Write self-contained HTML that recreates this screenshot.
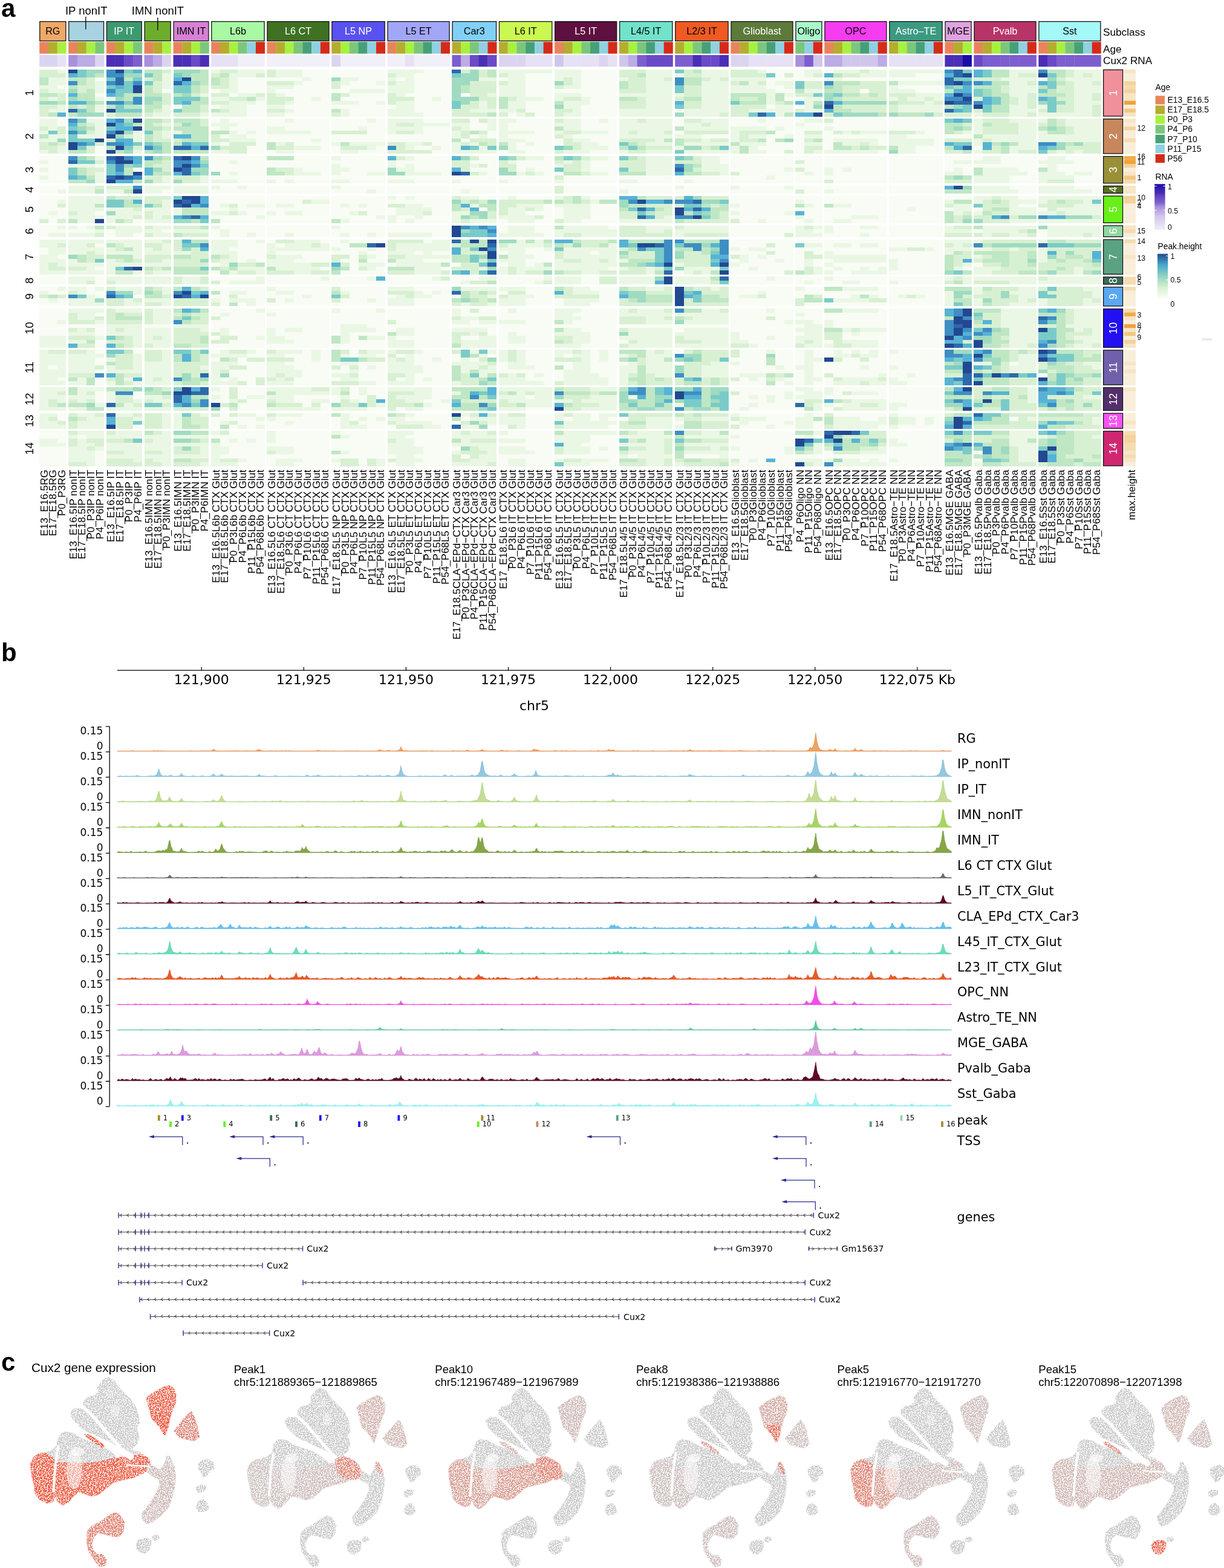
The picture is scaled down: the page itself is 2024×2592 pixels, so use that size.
<!DOCTYPE html>
<html><head><meta charset="utf-8"><title>Figure</title>
<style>
html,body{margin:0;padding:0;background:#fff;}
svg{display:block;}
text{font-family:"Liberation Sans",Arial,Helvetica,sans-serif;}
text.dv{font-family:"DejaVu Sans","Liberation Sans",sans-serif;}
</style></head>
<body>
<svg width="2024" height="2592" viewBox="0 0 2024 2592">
<rect width="2024" height="2592" fill="#fff"/>
<text x="2.0" y="27.5" font-size="42" font-weight="bold">a</text>
<text x="142.7" y="23.8" font-size="18.5" text-anchor="middle">IP nonIT</text>
<text x="261.0" y="23.8" font-size="18.5" text-anchor="middle">IMN nonIT</text>
<rect x="65.80" y="35.6" width="43.03" height="32" fill="#f0a868" stroke="#111" stroke-width="1.3"/>
<text x="87.3" y="57.3" font-size="16.2" text-anchor="middle">RG</text>
<rect x="65.20" y="69.3" width="15.04" height="19.4" fill="#e8845c"/>
<rect x="65.20" y="91" width="15.04" height="19.3" fill="#dbd4f0"/>
<rect x="79.94" y="69.3" width="15.04" height="19.4" fill="#b5ac30"/>
<rect x="79.94" y="91" width="15.04" height="19.3" fill="#dbd4f0"/>
<rect x="94.69" y="69.3" width="15.04" height="19.4" fill="#a8f040"/>
<rect x="94.69" y="91" width="15.04" height="19.3" fill="#e6e1f4"/>
<rect x="113.76" y="35.6" width="57.77" height="32" fill="#a6d2e2" stroke="#111" stroke-width="1.3"/>
<rect x="113.16" y="69.3" width="15.04" height="19.4" fill="#e8845c"/>
<rect x="113.16" y="91" width="15.04" height="19.3" fill="#a890dc"/>
<rect x="127.90" y="69.3" width="15.04" height="19.4" fill="#b5ac30"/>
<rect x="127.90" y="91" width="15.04" height="19.3" fill="#bcabe4"/>
<rect x="142.65" y="69.3" width="15.04" height="19.4" fill="#a8f040"/>
<rect x="142.65" y="91" width="15.04" height="19.3" fill="#bcabe4"/>
<rect x="157.39" y="69.3" width="15.04" height="19.4" fill="#7cc67c"/>
<rect x="157.39" y="91" width="15.04" height="19.3" fill="#dbd4f0"/>
<rect x="176.46" y="35.6" width="57.77" height="32" fill="#3d9a70" stroke="#111" stroke-width="1.3"/>
<text x="205.3" y="57.3" font-size="16.2" text-anchor="middle" fill="#fff">IP IT</text>
<rect x="175.86" y="69.3" width="15.04" height="19.4" fill="#e8845c"/>
<rect x="175.86" y="91" width="15.04" height="19.3" fill="#4a2eb6"/>
<rect x="190.60" y="69.3" width="15.04" height="19.4" fill="#b5ac30"/>
<rect x="190.60" y="91" width="15.04" height="19.3" fill="#4a2eb6"/>
<rect x="205.35" y="69.3" width="15.04" height="19.4" fill="#a8f040"/>
<rect x="205.35" y="91" width="15.04" height="19.3" fill="#6a4ac6"/>
<rect x="220.09" y="69.3" width="15.04" height="19.4" fill="#7cc67c"/>
<rect x="220.09" y="91" width="15.04" height="19.3" fill="#7c5ece"/>
<rect x="239.16" y="35.6" width="43.03" height="32" fill="#6cae2c" stroke="#111" stroke-width="1.3"/>
<rect x="238.56" y="69.3" width="15.04" height="19.4" fill="#e8845c"/>
<rect x="238.56" y="91" width="15.04" height="19.3" fill="#a890dc"/>
<rect x="253.31" y="69.3" width="15.04" height="19.4" fill="#b5ac30"/>
<rect x="253.31" y="91" width="15.04" height="19.3" fill="#bcabe4"/>
<rect x="268.05" y="69.3" width="15.04" height="19.4" fill="#a8f040"/>
<rect x="268.05" y="91" width="15.04" height="19.3" fill="#dbd4f0"/>
<rect x="287.12" y="35.6" width="57.77" height="32" fill="#d581d5" stroke="#111" stroke-width="1.3"/>
<text x="316.0" y="57.3" font-size="16.2" text-anchor="middle">IMN IT</text>
<rect x="286.52" y="69.3" width="15.04" height="19.4" fill="#e8845c"/>
<rect x="286.52" y="91" width="15.04" height="19.3" fill="#4a2eb6"/>
<rect x="301.27" y="69.3" width="15.04" height="19.4" fill="#b5ac30"/>
<rect x="301.27" y="91" width="15.04" height="19.3" fill="#4a2eb6"/>
<rect x="316.01" y="69.3" width="15.04" height="19.4" fill="#a8f040"/>
<rect x="316.01" y="91" width="15.04" height="19.3" fill="#6a4ac6"/>
<rect x="330.75" y="69.3" width="15.04" height="19.4" fill="#7cc67c"/>
<rect x="330.75" y="91" width="15.04" height="19.3" fill="#4a2eb6"/>
<rect x="349.82" y="35.6" width="87.26" height="32" fill="#a8f8a4" stroke="#111" stroke-width="1.3"/>
<text x="393.5" y="57.3" font-size="16.2" text-anchor="middle">L6b</text>
<rect x="349.22" y="69.3" width="15.04" height="19.4" fill="#e8845c"/>
<rect x="349.22" y="91" width="15.04" height="19.3" fill="#e6e1f4"/>
<rect x="363.97" y="69.3" width="15.04" height="19.4" fill="#b5ac30"/>
<rect x="363.97" y="91" width="15.04" height="19.3" fill="#e6e1f4"/>
<rect x="378.71" y="69.3" width="15.04" height="19.4" fill="#a8f040"/>
<rect x="378.71" y="91" width="15.04" height="19.3" fill="#e6e1f4"/>
<rect x="393.45" y="69.3" width="15.04" height="19.4" fill="#7cc67c"/>
<rect x="393.45" y="91" width="15.04" height="19.3" fill="#f1eff8"/>
<rect x="408.20" y="69.3" width="15.04" height="19.4" fill="#90d0e0"/>
<rect x="408.20" y="91" width="15.04" height="19.3" fill="#f1eff8"/>
<rect x="422.94" y="69.3" width="15.04" height="19.4" fill="#d52a1a"/>
<rect x="422.94" y="91" width="15.04" height="19.3" fill="#f1eff8"/>
<rect x="442.01" y="35.6" width="102.00" height="32" fill="#3e7222" stroke="#111" stroke-width="1.3"/>
<text x="493.0" y="57.3" font-size="16.2" text-anchor="middle" fill="#fff">L6 CT</text>
<rect x="441.41" y="69.3" width="15.04" height="19.4" fill="#e8845c"/>
<rect x="441.41" y="91" width="15.04" height="19.3" fill="#f1eff8"/>
<rect x="456.15" y="69.3" width="15.04" height="19.4" fill="#b5ac30"/>
<rect x="456.15" y="91" width="15.04" height="19.3" fill="#f1eff8"/>
<rect x="470.90" y="69.3" width="15.04" height="19.4" fill="#a8f040"/>
<rect x="470.90" y="91" width="15.04" height="19.3" fill="#f1eff8"/>
<rect x="485.64" y="69.3" width="15.04" height="19.4" fill="#7cc67c"/>
<rect x="485.64" y="91" width="15.04" height="19.3" fill="#f1eff8"/>
<rect x="500.38" y="69.3" width="15.04" height="19.4" fill="#45a078"/>
<rect x="500.38" y="91" width="15.04" height="19.3" fill="#f1eff8"/>
<rect x="515.13" y="69.3" width="15.04" height="19.4" fill="#90d0e0"/>
<rect x="515.13" y="91" width="15.04" height="19.3" fill="#f1eff8"/>
<rect x="529.87" y="69.3" width="15.04" height="19.4" fill="#d52a1a"/>
<rect x="529.87" y="91" width="15.04" height="19.3" fill="#f1eff8"/>
<rect x="548.94" y="35.6" width="87.26" height="32" fill="#5a52f0" stroke="#111" stroke-width="1.3"/>
<text x="592.6" y="57.3" font-size="16.2" text-anchor="middle" fill="#fff">L5 NP</text>
<rect x="548.34" y="69.3" width="15.04" height="19.4" fill="#b5ac30"/>
<rect x="548.34" y="91" width="15.04" height="19.3" fill="#dbd4f0"/>
<rect x="563.09" y="69.3" width="15.04" height="19.4" fill="#a8f040"/>
<rect x="563.09" y="91" width="15.04" height="19.3" fill="#f1eff8"/>
<rect x="577.83" y="69.3" width="15.04" height="19.4" fill="#7cc67c"/>
<rect x="577.83" y="91" width="15.04" height="19.3" fill="#f1eff8"/>
<rect x="592.57" y="69.3" width="15.04" height="19.4" fill="#45a078"/>
<rect x="592.57" y="91" width="15.04" height="19.3" fill="#f1eff8"/>
<rect x="607.32" y="69.3" width="15.04" height="19.4" fill="#90d0e0"/>
<rect x="607.32" y="91" width="15.04" height="19.3" fill="#f1eff8"/>
<rect x="622.06" y="69.3" width="15.04" height="19.4" fill="#d52a1a"/>
<rect x="622.06" y="91" width="15.04" height="19.3" fill="#f1eff8"/>
<rect x="641.13" y="35.6" width="102.00" height="32" fill="#a2a6f6" stroke="#111" stroke-width="1.3"/>
<text x="692.1" y="57.3" font-size="16.2" text-anchor="middle">L5 ET</text>
<rect x="640.53" y="69.3" width="15.04" height="19.4" fill="#e8845c"/>
<rect x="640.53" y="91" width="15.04" height="19.3" fill="#f1eff8"/>
<rect x="655.27" y="69.3" width="15.04" height="19.4" fill="#b5ac30"/>
<rect x="655.27" y="91" width="15.04" height="19.3" fill="#f1eff8"/>
<rect x="670.02" y="69.3" width="15.04" height="19.4" fill="#a8f040"/>
<rect x="670.02" y="91" width="15.04" height="19.3" fill="#e6e1f4"/>
<rect x="684.76" y="69.3" width="15.04" height="19.4" fill="#7cc67c"/>
<rect x="684.76" y="91" width="15.04" height="19.3" fill="#f1eff8"/>
<rect x="699.50" y="69.3" width="15.04" height="19.4" fill="#45a078"/>
<rect x="699.50" y="91" width="15.04" height="19.3" fill="#f1eff8"/>
<rect x="714.25" y="69.3" width="15.04" height="19.4" fill="#90d0e0"/>
<rect x="714.25" y="91" width="15.04" height="19.3" fill="#f1eff8"/>
<rect x="728.99" y="69.3" width="15.04" height="19.4" fill="#d52a1a"/>
<rect x="728.99" y="91" width="15.04" height="19.3" fill="#f1eff8"/>
<rect x="748.06" y="35.6" width="72.52" height="32" fill="#82d0f6" stroke="#111" stroke-width="1.3"/>
<text x="784.3" y="57.3" font-size="16.2" text-anchor="middle">Car3</text>
<rect x="747.46" y="69.3" width="15.04" height="19.4" fill="#b5ac30"/>
<rect x="747.46" y="91" width="15.04" height="19.3" fill="#7c5ece"/>
<rect x="762.21" y="69.3" width="15.04" height="19.4" fill="#a8f040"/>
<rect x="762.21" y="91" width="15.04" height="19.3" fill="#bcabe4"/>
<rect x="776.95" y="69.3" width="15.04" height="19.4" fill="#7cc67c"/>
<rect x="776.95" y="91" width="15.04" height="19.3" fill="#6a4ac6"/>
<rect x="791.69" y="69.3" width="15.04" height="19.4" fill="#90d0e0"/>
<rect x="791.69" y="91" width="15.04" height="19.3" fill="#4a2eb6"/>
<rect x="806.43" y="69.3" width="15.04" height="19.4" fill="#d52a1a"/>
<rect x="806.43" y="91" width="15.04" height="19.3" fill="#6a4ac6"/>
<rect x="825.51" y="35.6" width="87.26" height="32" fill="#cbf850" stroke="#111" stroke-width="1.3"/>
<text x="869.1" y="57.3" font-size="16.2" text-anchor="middle">L6 IT</text>
<rect x="824.91" y="69.3" width="15.04" height="19.4" fill="#b5ac30"/>
<rect x="824.91" y="91" width="15.04" height="19.3" fill="#dbd4f0"/>
<rect x="839.65" y="69.3" width="15.04" height="19.4" fill="#a8f040"/>
<rect x="839.65" y="91" width="15.04" height="19.3" fill="#dbd4f0"/>
<rect x="854.39" y="69.3" width="15.04" height="19.4" fill="#7cc67c"/>
<rect x="854.39" y="91" width="15.04" height="19.3" fill="#dbd4f0"/>
<rect x="869.14" y="69.3" width="15.04" height="19.4" fill="#45a078"/>
<rect x="869.14" y="91" width="15.04" height="19.3" fill="#e6e1f4"/>
<rect x="883.88" y="69.3" width="15.04" height="19.4" fill="#90d0e0"/>
<rect x="883.88" y="91" width="15.04" height="19.3" fill="#e6e1f4"/>
<rect x="898.62" y="69.3" width="15.04" height="19.4" fill="#d52a1a"/>
<rect x="898.62" y="91" width="15.04" height="19.3" fill="#e6e1f4"/>
<rect x="917.70" y="35.6" width="102.00" height="32" fill="#5e1040" stroke="#111" stroke-width="1.3"/>
<text x="968.7" y="57.3" font-size="16.2" text-anchor="middle" fill="#fff">L5 IT</text>
<rect x="917.10" y="69.3" width="15.04" height="19.4" fill="#e8845c"/>
<rect x="917.10" y="91" width="15.04" height="19.3" fill="#d0c6ec"/>
<rect x="931.84" y="69.3" width="15.04" height="19.4" fill="#b5ac30"/>
<rect x="931.84" y="91" width="15.04" height="19.3" fill="#e6e1f4"/>
<rect x="946.58" y="69.3" width="15.04" height="19.4" fill="#a8f040"/>
<rect x="946.58" y="91" width="15.04" height="19.3" fill="#e6e1f4"/>
<rect x="961.32" y="69.3" width="15.04" height="19.4" fill="#7cc67c"/>
<rect x="961.32" y="91" width="15.04" height="19.3" fill="#e6e1f4"/>
<rect x="976.07" y="69.3" width="15.04" height="19.4" fill="#45a078"/>
<rect x="976.07" y="91" width="15.04" height="19.3" fill="#e6e1f4"/>
<rect x="990.81" y="69.3" width="15.04" height="19.4" fill="#90d0e0"/>
<rect x="990.81" y="91" width="15.04" height="19.3" fill="#dbd4f0"/>
<rect x="1005.55" y="69.3" width="15.04" height="19.4" fill="#d52a1a"/>
<rect x="1005.55" y="91" width="15.04" height="19.3" fill="#e6e1f4"/>
<rect x="1024.63" y="35.6" width="87.26" height="32" fill="#72e2ca" stroke="#111" stroke-width="1.3"/>
<text x="1068.3" y="57.3" font-size="16.2" text-anchor="middle">L4/5 IT</text>
<rect x="1024.03" y="69.3" width="15.04" height="19.4" fill="#b5ac30"/>
<rect x="1024.03" y="91" width="15.04" height="19.3" fill="#d0c6ec"/>
<rect x="1038.77" y="69.3" width="15.04" height="19.4" fill="#a8f040"/>
<rect x="1038.77" y="91" width="15.04" height="19.3" fill="#bcabe4"/>
<rect x="1053.51" y="69.3" width="15.04" height="19.4" fill="#7cc67c"/>
<rect x="1053.51" y="91" width="15.04" height="19.3" fill="#7c5ece"/>
<rect x="1068.26" y="69.3" width="15.04" height="19.4" fill="#45a078"/>
<rect x="1068.26" y="91" width="15.04" height="19.3" fill="#6a4ac6"/>
<rect x="1083.00" y="69.3" width="15.04" height="19.4" fill="#90d0e0"/>
<rect x="1083.00" y="91" width="15.04" height="19.3" fill="#6a4ac6"/>
<rect x="1097.74" y="69.3" width="15.04" height="19.4" fill="#d52a1a"/>
<rect x="1097.74" y="91" width="15.04" height="19.3" fill="#6a4ac6"/>
<rect x="1116.81" y="35.6" width="87.26" height="32" fill="#f05a22" stroke="#111" stroke-width="1.3"/>
<text x="1160.4" y="57.3" font-size="16.2" text-anchor="middle">L2/3 IT</text>
<rect x="1116.21" y="69.3" width="15.04" height="19.4" fill="#b5ac30"/>
<rect x="1116.21" y="91" width="15.04" height="19.3" fill="#7c5ece"/>
<rect x="1130.96" y="69.3" width="15.04" height="19.4" fill="#a8f040"/>
<rect x="1130.96" y="91" width="15.04" height="19.3" fill="#7c5ece"/>
<rect x="1145.70" y="69.3" width="15.04" height="19.4" fill="#7cc67c"/>
<rect x="1145.70" y="91" width="15.04" height="19.3" fill="#4a2eb6"/>
<rect x="1160.44" y="69.3" width="15.04" height="19.4" fill="#45a078"/>
<rect x="1160.44" y="91" width="15.04" height="19.3" fill="#6a4ac6"/>
<rect x="1175.19" y="69.3" width="15.04" height="19.4" fill="#90d0e0"/>
<rect x="1175.19" y="91" width="15.04" height="19.3" fill="#6a4ac6"/>
<rect x="1189.93" y="69.3" width="15.04" height="19.4" fill="#d52a1a"/>
<rect x="1189.93" y="91" width="15.04" height="19.3" fill="#4a2eb6"/>
<rect x="1209.00" y="35.6" width="102.00" height="32" fill="#5c7a3a" stroke="#111" stroke-width="1.3"/>
<text x="1260.0" y="57.3" font-size="16.2" text-anchor="middle" fill="#fff">Glioblast</text>
<rect x="1208.40" y="69.3" width="15.04" height="19.4" fill="#e8845c"/>
<rect x="1208.40" y="91" width="15.04" height="19.3" fill="#dbd4f0"/>
<rect x="1223.14" y="69.3" width="15.04" height="19.4" fill="#b5ac30"/>
<rect x="1223.14" y="91" width="15.04" height="19.3" fill="#dbd4f0"/>
<rect x="1237.89" y="69.3" width="15.04" height="19.4" fill="#a8f040"/>
<rect x="1237.89" y="91" width="15.04" height="19.3" fill="#e6e1f4"/>
<rect x="1252.63" y="69.3" width="15.04" height="19.4" fill="#7cc67c"/>
<rect x="1252.63" y="91" width="15.04" height="19.3" fill="#e6e1f4"/>
<rect x="1267.37" y="69.3" width="15.04" height="19.4" fill="#45a078"/>
<rect x="1267.37" y="91" width="15.04" height="19.3" fill="#e6e1f4"/>
<rect x="1282.12" y="69.3" width="15.04" height="19.4" fill="#90d0e0"/>
<rect x="1282.12" y="91" width="15.04" height="19.3" fill="#e6e1f4"/>
<rect x="1296.86" y="69.3" width="15.04" height="19.4" fill="#d52a1a"/>
<rect x="1296.86" y="91" width="15.04" height="19.3" fill="#e6e1f4"/>
<rect x="1315.93" y="35.6" width="43.03" height="32" fill="#aaf8ca" stroke="#111" stroke-width="1.3"/>
<text x="1337.4" y="57.3" font-size="16.2" text-anchor="middle">Oligo</text>
<rect x="1315.33" y="69.3" width="15.04" height="19.4" fill="#7cc67c"/>
<rect x="1315.33" y="91" width="15.04" height="19.3" fill="#a890dc"/>
<rect x="1330.08" y="69.3" width="15.04" height="19.4" fill="#90d0e0"/>
<rect x="1330.08" y="91" width="15.04" height="19.3" fill="#7c5ece"/>
<rect x="1344.82" y="69.3" width="15.04" height="19.4" fill="#d52a1a"/>
<rect x="1344.82" y="91" width="15.04" height="19.3" fill="#d0c6ec"/>
<rect x="1363.89" y="35.6" width="102.00" height="32" fill="#f63cf0" stroke="#111" stroke-width="1.3"/>
<text x="1414.9" y="57.3" font-size="16.2" text-anchor="middle">OPC</text>
<rect x="1363.29" y="69.3" width="15.04" height="19.4" fill="#e8845c"/>
<rect x="1363.29" y="91" width="15.04" height="19.3" fill="#bcabe4"/>
<rect x="1378.04" y="69.3" width="15.04" height="19.4" fill="#b5ac30"/>
<rect x="1378.04" y="91" width="15.04" height="19.3" fill="#bcabe4"/>
<rect x="1392.78" y="69.3" width="15.04" height="19.4" fill="#a8f040"/>
<rect x="1392.78" y="91" width="15.04" height="19.3" fill="#d0c6ec"/>
<rect x="1407.52" y="69.3" width="15.04" height="19.4" fill="#7cc67c"/>
<rect x="1407.52" y="91" width="15.04" height="19.3" fill="#d0c6ec"/>
<rect x="1422.26" y="69.3" width="15.04" height="19.4" fill="#45a078"/>
<rect x="1422.26" y="91" width="15.04" height="19.3" fill="#d0c6ec"/>
<rect x="1437.01" y="69.3" width="15.04" height="19.4" fill="#90d0e0"/>
<rect x="1437.01" y="91" width="15.04" height="19.3" fill="#d0c6ec"/>
<rect x="1451.75" y="69.3" width="15.04" height="19.4" fill="#d52a1a"/>
<rect x="1451.75" y="91" width="15.04" height="19.3" fill="#bcabe4"/>
<rect x="1470.82" y="35.6" width="87.26" height="32" fill="#3c9a80" stroke="#111" stroke-width="1.3"/>
<text x="1514.5" y="57.3" font-size="16.2" text-anchor="middle" fill="#fff">Astro&#8211;TE</text>
<rect x="1470.22" y="69.3" width="15.04" height="19.4" fill="#b5ac30"/>
<rect x="1470.22" y="91" width="15.04" height="19.3" fill="#e6e1f4"/>
<rect x="1484.97" y="69.3" width="15.04" height="19.4" fill="#a8f040"/>
<rect x="1484.97" y="91" width="15.04" height="19.3" fill="#e6e1f4"/>
<rect x="1499.71" y="69.3" width="15.04" height="19.4" fill="#7cc67c"/>
<rect x="1499.71" y="91" width="15.04" height="19.3" fill="#e6e1f4"/>
<rect x="1514.45" y="69.3" width="15.04" height="19.4" fill="#45a078"/>
<rect x="1514.45" y="91" width="15.04" height="19.3" fill="#e6e1f4"/>
<rect x="1529.20" y="69.3" width="15.04" height="19.4" fill="#90d0e0"/>
<rect x="1529.20" y="91" width="15.04" height="19.3" fill="#e6e1f4"/>
<rect x="1543.94" y="69.3" width="15.04" height="19.4" fill="#d52a1a"/>
<rect x="1543.94" y="91" width="15.04" height="19.3" fill="#e6e1f4"/>
<rect x="1563.01" y="35.6" width="43.03" height="32" fill="#e0a2e0" stroke="#111" stroke-width="1.3"/>
<text x="1584.5" y="57.3" font-size="16.2" text-anchor="middle">MGE</text>
<rect x="1562.41" y="69.3" width="15.04" height="19.4" fill="#e8845c"/>
<rect x="1562.41" y="91" width="15.04" height="19.3" fill="#4a2eb6"/>
<rect x="1577.15" y="69.3" width="15.04" height="19.4" fill="#b5ac30"/>
<rect x="1577.15" y="91" width="15.04" height="19.3" fill="#4a2eb6"/>
<rect x="1591.90" y="69.3" width="15.04" height="19.4" fill="#a8f040"/>
<rect x="1591.90" y="91" width="15.04" height="19.3" fill="#1a0ca8"/>
<rect x="1610.97" y="35.6" width="102.00" height="32" fill="#b83468" stroke="#111" stroke-width="1.3"/>
<text x="1662.0" y="57.3" font-size="16.2" text-anchor="middle" fill="#fff">Pvalb</text>
<rect x="1610.37" y="69.3" width="15.04" height="19.4" fill="#e8845c"/>
<rect x="1610.37" y="91" width="15.04" height="19.3" fill="#6a4ac6"/>
<rect x="1625.11" y="69.3" width="15.04" height="19.4" fill="#b5ac30"/>
<rect x="1625.11" y="91" width="15.04" height="19.3" fill="#7c5ece"/>
<rect x="1639.86" y="69.3" width="15.04" height="19.4" fill="#a8f040"/>
<rect x="1639.86" y="91" width="15.04" height="19.3" fill="#7c5ece"/>
<rect x="1654.60" y="69.3" width="15.04" height="19.4" fill="#7cc67c"/>
<rect x="1654.60" y="91" width="15.04" height="19.3" fill="#7c5ece"/>
<rect x="1669.34" y="69.3" width="15.04" height="19.4" fill="#45a078"/>
<rect x="1669.34" y="91" width="15.04" height="19.3" fill="#7c5ece"/>
<rect x="1684.08" y="69.3" width="15.04" height="19.4" fill="#90d0e0"/>
<rect x="1684.08" y="91" width="15.04" height="19.3" fill="#7c5ece"/>
<rect x="1698.83" y="69.3" width="15.04" height="19.4" fill="#d52a1a"/>
<rect x="1698.83" y="91" width="15.04" height="19.3" fill="#7c5ece"/>
<rect x="1717.90" y="35.6" width="102.00" height="32" fill="#a4f8f8" stroke="#111" stroke-width="1.3"/>
<text x="1768.9" y="57.3" font-size="16.2" text-anchor="middle">Sst</text>
<rect x="1717.30" y="69.3" width="15.04" height="19.4" fill="#e8845c"/>
<rect x="1717.30" y="91" width="15.04" height="19.3" fill="#4a2eb6"/>
<rect x="1732.04" y="69.3" width="15.04" height="19.4" fill="#b5ac30"/>
<rect x="1732.04" y="91" width="15.04" height="19.3" fill="#6a4ac6"/>
<rect x="1746.79" y="69.3" width="15.04" height="19.4" fill="#a8f040"/>
<rect x="1746.79" y="91" width="15.04" height="19.3" fill="#7c5ece"/>
<rect x="1761.53" y="69.3" width="15.04" height="19.4" fill="#7cc67c"/>
<rect x="1761.53" y="91" width="15.04" height="19.3" fill="#7c5ece"/>
<rect x="1776.27" y="69.3" width="15.04" height="19.4" fill="#45a078"/>
<rect x="1776.27" y="91" width="15.04" height="19.3" fill="#7c5ece"/>
<rect x="1791.02" y="69.3" width="15.04" height="19.4" fill="#90d0e0"/>
<rect x="1791.02" y="91" width="15.04" height="19.3" fill="#7c5ece"/>
<rect x="1805.76" y="69.3" width="15.04" height="19.4" fill="#d52a1a"/>
<rect x="1805.76" y="91" width="15.04" height="19.3" fill="#7c5ece"/>
<line x1="141.8" y1="27.5" x2="141.8" y2="48.5" stroke="#000" stroke-width="1.3"/>
<line x1="260.8" y1="29" x2="260.8" y2="50" stroke="#000" stroke-width="1.3"/>
<text x="1824.0" y="58.8" font-size="17.2">Subclass</text>
<text x="1824.0" y="86.8" font-size="17.2">Age</text>
<text x="1824.0" y="106.3" font-size="17.2">Cux2 RNA</text>
<g transform="matrix(14.743 0 0 6.467 65.20 114.90)" shape-rendering="crispEdges"><rect width="3" height="12" fill="#d8f0d2"/>
<path fill="#f8fcf4" d="M2 4h1v1h-1z"/>
<path fill="#eaf7e4" d="M2 0h1v1h-1zM1 2h2v1h-2zM1 3h2v1h-2zM0 4h2v1h-2zM1 5h2v1h-2zM1 7h1v1h-1zM2 9h1v1h-1zM1 10h2v1h-2z"/>
<path fill="#bfe7c4" d="M0 2h1v1h-1zM0 3h1v1h-1zM0 6h2v1h-2zM2 8h1v1h-1zM1 11h1v1h-1z"/>
<path fill="#9fdbc1" d="M0 8h2v1h-2z"/>
<path fill="#57b3d4" d="M2 11h1v1h-1z"/>
</g>
<g transform="matrix(14.743 0 0 6.467 65.20 196.17)" shape-rendering="crispEdges"><rect width="3" height="9" fill="#eaf7e4"/>
<path fill="#f8fcf4" d="M2 0h1v1h-1zM2 1h1v1h-1z"/>
<path fill="#d8f0d2" d="M0 2h1v1h-1zM2 2h1v1h-1zM2 3h1v1h-1zM0 6h1v1h-1zM2 6h1v1h-1zM0 7h2v1h-2zM1 8h1v1h-1z"/>
<path fill="#bfe7c4" d="M0 4h1v1h-1zM1 6h1v1h-1z"/>
<path fill="#9fdbc1" d="M2 5h1v1h-1z"/>
<path fill="#7acbc8" d="M1 3h1v1h-1z"/>
</g>
<g transform="matrix(14.743 0 0 6.467 65.20 258.05)" shape-rendering="crispEdges"><rect width="3" height="7" fill="#f8fcf4"/>
<path fill="#eaf7e4" d="M0 1h1v1h-1zM0 3h1v1h-1zM0 5h1v1h-1z"/>
</g>
<g transform="matrix(14.743 0 0 6.467 65.20 306.99)" shape-rendering="crispEdges"><rect width="3" height="2" fill="#f8fcf4"/>
<path fill="#eaf7e4" d="M2 1h1v1h-1z"/>
</g>
<g transform="matrix(14.743 0 0 6.467 65.20 323.59)" shape-rendering="crispEdges"><rect width="3" height="7" fill="#f8fcf4"/>
<path fill="#eaf7e4" d="M2 1h1v1h-1zM1 4h1v1h-1z"/>
<path fill="#d8f0d2" d="M2 2h1v1h-1zM0 6h1v1h-1zM2 6h1v1h-1z"/>
</g>
<g transform="matrix(14.743 0 0 6.467 65.20 372.53)" shape-rendering="crispEdges"><rect width="3" height="3" fill="#f8fcf4"/>
<path fill="#eaf7e4" d="M2 0h1v1h-1zM1 2h2v1h-2z"/>
</g>
<g transform="matrix(14.743 0 0 6.467 65.20 395.60)" shape-rendering="crispEdges"><rect width="3" height="9" fill="#eaf7e4"/>
<path fill="#f8fcf4" d="M0 2h1v1h-1zM0 3h1v1h-1zM2 4h1v1h-1z"/>
<path fill="#d8f0d2" d="M2 1h1v1h-1zM1 6h1v1h-1zM1 7h2v1h-2z"/>
</g>
<g transform="matrix(14.743 0 0 6.467 65.20 457.47)" shape-rendering="crispEdges"><rect width="3" height="2" fill="#f8fcf4"/>
</g>
<g transform="matrix(14.743 0 0 6.467 65.20 474.08)" shape-rendering="crispEdges"><rect width="3" height="5" fill="#f8fcf4"/>
<path fill="#eaf7e4" d="M2 0h1v1h-1zM0 1h1v1h-1zM1 3h1v1h-1z"/>
<path fill="#d8f0d2" d="M0 2h1v1h-1zM2 2h1v1h-1z"/>
<path fill="#bfe7c4" d="M1 2h1v1h-1z"/>
</g>
<g transform="matrix(14.743 0 0 6.467 65.20 510.08)" shape-rendering="crispEdges"><rect width="3" height="10" fill="#f8fcf4"/>
<path fill="#eaf7e4" d="M2 3h1v1h-1zM0 7h3v1h-3zM0 8h3v1h-3zM0 9h3v1h-3z"/>
</g>
<g transform="matrix(14.743 0 0 6.467 65.20 578.42)" shape-rendering="crispEdges"><rect width="3" height="9" fill="#eaf7e4"/>
<path fill="#f8fcf4" d="M1 4h1v1h-1zM2 7h1v1h-1z"/>
<path fill="#d8f0d2" d="M1 0h2v1h-2z"/>
</g>
<g transform="matrix(14.743 0 0 6.467 65.20 640.29)" shape-rendering="crispEdges"><rect width="3" height="6" fill="#eaf7e4"/>
<path fill="#d8f0d2" d="M2 1h1v1h-1zM1 3h1v1h-1zM1 4h1v1h-1z"/>
<path fill="#bfe7c4" d="M2 4h1v1h-1z"/>
</g>
<g transform="matrix(14.743 0 0 6.467 65.20 682.77)" shape-rendering="crispEdges"><rect width="3" height="4" fill="#eaf7e4"/>
<path fill="#f8fcf4" d="M2 0h1v1h-1zM2 1h1v1h-1z"/>
<path fill="#d8f0d2" d="M1 1h1v1h-1zM2 2h1v1h-1z"/>
</g>
<g transform="matrix(14.743 0 0 6.467 65.20 712.30)" shape-rendering="crispEdges"><rect width="3" height="9" fill="#f8fcf4"/>
<path fill="#eaf7e4" d="M0 2h2v1h-2zM0 3h3v1h-3z"/>
</g>
<g transform="matrix(14.743 0 0 6.467 113.16 114.90)" shape-rendering="crispEdges"><rect width="4" height="12" fill="#bfe7c4"/>
<path fill="#f8fcf4" d="M3 2h1v1h-1zM3 6h1v1h-1z"/>
<path fill="#eaf7e4" d="M3 3h1v1h-1zM3 4h1v1h-1zM3 5h1v1h-1zM3 7h1v1h-1zM3 9h1v1h-1zM3 10h1v1h-1z"/>
<path fill="#d8f0d2" d="M2 2h1v1h-1zM2 3h1v1h-1zM1 4h2v1h-2zM1 5h1v1h-1zM1 9h1v1h-1z"/>
<path fill="#9fdbc1" d="M2 0h2v1h-2zM2 1h1v1h-1zM0 5h1v1h-1zM0 7h1v1h-1zM2 8h1v1h-1zM1 11h3v1h-3z"/>
<path fill="#7acbc8" d="M1 0h1v1h-1zM1 1h1v1h-1zM1 10h1v1h-1z"/>
<path fill="#57b3d4" d="M0 1h1v1h-1zM0 6h1v1h-1zM0 8h2v1h-2z"/>
<path fill="#3e8ec3" d="M0 3h1v1h-1z"/>
<path fill="#2d69aa" d="M0 10h1v1h-1z"/>
<path fill="#224891" d="M0 0h1v1h-1z"/>
</g>
<g transform="matrix(14.743 0 0 6.467 113.16 196.17)" shape-rendering="crispEdges"><rect width="4" height="9" fill="#7acbc8"/>
<path fill="#f8fcf4" d="M3 7h1v1h-1zM3 8h1v1h-1z"/>
<path fill="#eaf7e4" d="M2 0h2v1h-2zM3 1h1v1h-1zM3 2h1v1h-1zM3 3h1v1h-1zM1 4h3v1h-3z"/>
<path fill="#d8f0d2" d="M2 1h1v1h-1zM2 3h1v1h-1zM3 6h1v1h-1zM2 7h1v1h-1zM2 8h1v1h-1z"/>
<path fill="#bfe7c4" d="M1 1h1v1h-1zM2 2h1v1h-1zM0 8h2v1h-2z"/>
<path fill="#9fdbc1" d="M1 2h1v1h-1z"/>
<path fill="#57b3d4" d="M0 1h1v1h-1zM2 6h1v1h-1z"/>
<path fill="#3e8ec3" d="M0 0h1v1h-1zM0 3h1v1h-1zM1 6h1v1h-1z"/>
<path fill="#224891" d="M3 5h1v1h-1zM0 6h1v1h-1zM0 7h1v1h-1z"/>
</g>
<g transform="matrix(14.743 0 0 6.467 113.16 258.05)" shape-rendering="crispEdges"><rect width="4" height="7" fill="#eaf7e4"/>
<path fill="#f8fcf4" d="M3 2h1v1h-1z"/>
<path fill="#d8f0d2" d="M3 1h1v1h-1zM2 3h2v1h-2zM2 4h1v1h-1z"/>
<path fill="#bfe7c4" d="M2 0h1v1h-1zM1 3h1v1h-1zM1 4h1v1h-1zM2 5h1v1h-1zM0 6h2v1h-2z"/>
<path fill="#9fdbc1" d="M1 0h1v1h-1zM2 6h1v1h-1z"/>
<path fill="#7acbc8" d="M1 1h2v1h-2zM0 3h1v1h-1zM0 4h1v1h-1zM1 5h1v1h-1z"/>
<path fill="#57b3d4" d="M0 5h1v1h-1z"/>
<path fill="#3e8ec3" d="M0 0h1v1h-1z"/>
<path fill="#2d69aa" d="M0 1h1v1h-1z"/>
</g>
<g transform="matrix(14.743 0 0 6.467 113.16 306.99)" shape-rendering="crispEdges"><rect width="4" height="2" fill="#eaf7e4"/>
<path fill="#d8f0d2" d="M3 0h1v1h-1z"/>
<path fill="#bfe7c4" d="M3 1h1v1h-1z"/>
</g>
<g transform="matrix(14.743 0 0 6.467 113.16 323.59)" shape-rendering="crispEdges"><rect width="4" height="7" fill="#eaf7e4"/>
<path fill="#f8fcf4" d="M3 4h1v1h-1z"/>
<path fill="#d8f0d2" d="M0 4h1v1h-1z"/>
<path fill="#bfe7c4" d="M3 2h1v1h-1zM0 6h1v1h-1z"/>
<path fill="#224891" d="M3 6h1v1h-1z"/>
</g>
<g transform="matrix(14.743 0 0 6.467 113.16 372.53)" shape-rendering="crispEdges"><rect width="4" height="3" fill="#eaf7e4"/>
<path fill="#f8fcf4" d="M1 0h1v1h-1zM0 1h3v1h-3z"/>
<path fill="#d8f0d2" d="M3 2h1v1h-1z"/>
<path fill="#bfe7c4" d="M3 0h1v1h-1z"/>
</g>
<g transform="matrix(14.743 0 0 6.467 113.16 395.60)" shape-rendering="crispEdges"><rect width="4" height="9" fill="#eaf7e4"/>
<path fill="#f8fcf4" d="M3 1h1v1h-1zM3 7h1v1h-1z"/>
<path fill="#d8f0d2" d="M2 1h1v1h-1zM2 3h1v1h-1zM2 4h2v1h-2zM2 5h1v1h-1zM0 7h2v1h-2z"/>
<path fill="#bfe7c4" d="M1 4h1v1h-1zM1 5h1v1h-1z"/>
<path fill="#9fdbc1" d="M0 4h1v1h-1z"/>
<path fill="#7acbc8" d="M3 5h1v1h-1z"/>
</g>
<g transform="matrix(14.743 0 0 6.467 113.16 457.47)" shape-rendering="crispEdges"><rect width="4" height="2" fill="#eaf7e4"/>
<path fill="#f8fcf4" d="M3 0h1v1h-1zM3 1h1v1h-1z"/>
<path fill="#d8f0d2" d="M2 1h1v1h-1z"/>
</g>
<g transform="matrix(14.743 0 0 6.467 113.16 474.08)" shape-rendering="crispEdges"><rect width="4" height="5" fill="#eaf7e4"/>
<path fill="#f8fcf4" d="M2 0h1v1h-1zM2 1h2v1h-2zM3 2h1v1h-1z"/>
<path fill="#d8f0d2" d="M0 1h1v1h-1z"/>
<path fill="#9fdbc1" d="M3 3h1v1h-1z"/>
<path fill="#7acbc8" d="M1 2h1v1h-1z"/>
<path fill="#3e8ec3" d="M0 2h1v1h-1z"/>
</g>
<g transform="matrix(14.743 0 0 6.467 113.16 510.08)" shape-rendering="crispEdges"><rect width="4" height="10" fill="#eaf7e4"/>
<path fill="#f8fcf4" d="M3 1h1v1h-1zM0 4h4v1h-4zM3 5h1v1h-1zM3 6h1v1h-1zM3 8h1v1h-1zM3 9h1v1h-1z"/>
<path fill="#d8f0d2" d="M0 1h1v1h-1zM0 2h1v1h-1zM3 2h1v1h-1zM0 3h3v1h-3zM0 5h1v1h-1zM2 5h1v1h-1zM0 7h3v1h-3zM1 9h2v1h-2z"/>
<path fill="#bfe7c4" d="M2 8h1v1h-1z"/>
<path fill="#57b3d4" d="M0 9h1v1h-1z"/>
</g>
<g transform="matrix(14.743 0 0 6.467 113.16 578.42)" shape-rendering="crispEdges"><rect width="4" height="9" fill="#eaf7e4"/>
<path fill="#f8fcf4" d="M3 0h1v1h-1zM3 2h1v1h-1zM3 3h1v1h-1zM3 5h1v1h-1zM3 7h1v1h-1zM3 8h1v1h-1z"/>
<path fill="#d8f0d2" d="M0 0h2v1h-2zM3 4h1v1h-1zM0 6h3v1h-3z"/>
<path fill="#bfe7c4" d="M0 7h1v1h-1zM2 7h1v1h-1zM2 8h1v1h-1z"/>
<path fill="#3e8ec3" d="M3 6h1v1h-1z"/>
</g>
<g transform="matrix(14.743 0 0 6.467 113.16 640.29)" shape-rendering="crispEdges"><rect width="4" height="6" fill="#eaf7e4"/>
<path fill="#f8fcf4" d="M3 1h1v1h-1zM3 2h1v1h-1zM3 3h1v1h-1z"/>
<path fill="#d8f0d2" d="M2 1h1v1h-1zM0 3h1v1h-1zM2 3h1v1h-1z"/>
<path fill="#bfe7c4" d="M0 0h1v1h-1zM0 1h1v1h-1zM0 4h2v1h-2zM2 5h2v1h-2z"/>
<path fill="#9fdbc1" d="M2 4h1v1h-1z"/>
</g>
<g transform="matrix(14.743 0 0 6.467 113.16 682.77)" shape-rendering="crispEdges"><rect width="4" height="4" fill="#eaf7e4"/>
<path fill="#d8f0d2" d="M0 0h1v1h-1zM3 0h1v1h-1zM1 1h1v1h-1zM0 2h1v1h-1zM0 3h1v1h-1z"/>
<path fill="#bfe7c4" d="M0 1h1v1h-1z"/>
</g>
<g transform="matrix(14.743 0 0 6.467 113.16 712.30)" shape-rendering="crispEdges"><rect width="4" height="9" fill="#eaf7e4"/>
<path fill="#f8fcf4" d="M1 1h1v1h-1zM3 5h1v1h-1zM3 6h1v1h-1zM3 7h1v1h-1zM3 8h1v1h-1z"/>
<path fill="#d8f0d2" d="M0 0h1v1h-1zM0 2h1v1h-1zM2 2h2v1h-2zM0 3h1v1h-1zM3 3h1v1h-1zM2 4h1v1h-1zM0 8h2v1h-2z"/>
</g>
<g transform="matrix(14.743 0 0 6.467 175.86 114.90)" shape-rendering="crispEdges"><rect width="4" height="12" fill="#7acbc8"/>
<path fill="#eaf7e4" d="M0 7h1v1h-1z"/>
<path fill="#d8f0d2" d="M0 11h1v1h-1z"/>
<path fill="#bfe7c4" d="M2 2h1v1h-1zM2 6h2v1h-2zM2 7h1v1h-1zM0 9h1v1h-1zM2 9h2v1h-2zM1 11h3v1h-3z"/>
<path fill="#9fdbc1" d="M2 1h2v1h-2zM1 7h1v1h-1z"/>
<path fill="#57b3d4" d="M3 0h1v1h-1zM1 4h1v1h-1zM0 6h1v1h-1z"/>
<path fill="#3e8ec3" d="M0 0h1v1h-1zM0 1h2v1h-2zM0 3h1v1h-1zM3 3h1v1h-1zM0 5h1v1h-1zM3 7h1v1h-1zM0 8h2v1h-2zM3 8h1v1h-1z"/>
<path fill="#2d69aa" d="M1 2h1v1h-1zM1 3h1v1h-1z"/>
<path fill="#224891" d="M1 0h1v1h-1zM3 4h1v1h-1zM3 5h1v1h-1zM0 10h1v1h-1z"/>
</g>
<g transform="matrix(14.743 0 0 6.467 175.86 196.17)" shape-rendering="crispEdges"><rect width="4" height="9" fill="#57b3d4"/>
<path fill="#eaf7e4" d="M3 3h1v1h-1zM3 4h1v1h-1zM3 5h1v1h-1zM3 8h1v1h-1z"/>
<path fill="#d8f0d2" d="M2 4h1v1h-1zM0 5h1v1h-1zM3 7h1v1h-1z"/>
<path fill="#bfe7c4" d="M3 1h1v1h-1zM0 7h1v1h-1zM1 8h1v1h-1z"/>
<path fill="#9fdbc1" d="M2 0h1v1h-1zM2 3h1v1h-1zM1 4h1v1h-1zM2 8h1v1h-1z"/>
<path fill="#7acbc8" d="M2 1h1v1h-1zM0 2h1v1h-1zM3 6h1v1h-1zM2 7h1v1h-1z"/>
<path fill="#3e8ec3" d="M1 0h1v1h-1zM0 3h1v1h-1zM0 6h2v1h-2z"/>
<path fill="#224891" d="M3 0h1v1h-1zM0 1h1v1h-1zM3 2h1v1h-1zM1 3h1v1h-1zM0 4h1v1h-1zM1 7h1v1h-1zM0 8h1v1h-1z"/>
</g>
<g transform="matrix(14.743 0 0 6.467 175.86 258.05)" shape-rendering="crispEdges"><rect width="4" height="7" fill="#224891"/>
<path fill="#f8fcf4" d="M3 3h1v1h-1z"/>
<path fill="#bfe7c4" d="M2 3h1v1h-1zM2 4h1v1h-1zM3 6h1v1h-1z"/>
<path fill="#9fdbc1" d="M2 2h1v1h-1z"/>
<path fill="#7acbc8" d="M0 2h1v1h-1zM3 2h1v1h-1zM0 3h1v1h-1zM0 4h1v1h-1z"/>
<path fill="#57b3d4" d="M3 0h1v1h-1zM3 1h1v1h-1zM1 4h1v1h-1zM1 6h2v1h-2z"/>
<path fill="#3e8ec3" d="M2 0h1v1h-1zM0 1h1v1h-1zM1 2h1v1h-1zM1 3h1v1h-1zM3 5h1v1h-1z"/>
<path fill="#2d69aa" d="M0 0h1v1h-1zM0 5h1v1h-1zM2 5h1v1h-1z"/>
</g>
<g transform="matrix(14.743 0 0 6.467 175.86 306.99)" shape-rendering="crispEdges"><rect width="4" height="2" fill="#d8f0d2"/>
<path fill="#eaf7e4" d="M0 1h2v1h-2z"/>
<path fill="#bfe7c4" d="M2 1h1v1h-1z"/>
<path fill="#3e8ec3" d="M3 0h1v1h-1z"/>
<path fill="#224891" d="M3 1h1v1h-1z"/>
</g>
<g transform="matrix(14.743 0 0 6.467 175.86 323.59)" shape-rendering="crispEdges"><rect width="4" height="7" fill="#eaf7e4"/>
<path fill="#f8fcf4" d="M3 6h1v1h-1z"/>
<path fill="#d8f0d2" d="M1 0h3v1h-3zM3 3h1v1h-1zM3 5h1v1h-1zM2 6h1v1h-1z"/>
<path fill="#bfe7c4" d="M0 0h1v1h-1zM2 1h1v1h-1zM2 2h2v1h-2zM1 6h1v1h-1z"/>
<path fill="#9fdbc1" d="M0 4h1v1h-1z"/>
<path fill="#7acbc8" d="M0 1h2v1h-2zM0 2h2v1h-2z"/>
<path fill="#57b3d4" d="M3 1h1v1h-1z"/>
</g>
<g transform="matrix(14.743 0 0 6.467 175.86 372.53)" shape-rendering="crispEdges"><rect width="4" height="3" fill="#eaf7e4"/>
<path fill="#f8fcf4" d="M0 1h1v1h-1zM0 2h1v1h-1zM3 2h1v1h-1z"/>
<path fill="#d8f0d2" d="M0 0h1v1h-1z"/>
</g>
<g transform="matrix(14.743 0 0 6.467 175.86 395.60)" shape-rendering="crispEdges"><rect width="4" height="9" fill="#eaf7e4"/>
<path fill="#d8f0d2" d="M1 1h1v1h-1zM1 2h1v1h-1zM1 5h1v1h-1zM3 5h1v1h-1z"/>
<path fill="#bfe7c4" d="M0 1h1v1h-1zM2 2h1v1h-1zM0 4h3v1h-3zM2 5h1v1h-1zM1 8h2v1h-2z"/>
<path fill="#7acbc8" d="M1 7h1v1h-1z"/>
<path fill="#2d69aa" d="M2 7h1v1h-1z"/>
<path fill="#224891" d="M3 7h1v1h-1z"/>
</g>
<g transform="matrix(14.743 0 0 6.467 175.86 457.47)" shape-rendering="crispEdges"><rect width="4" height="2" fill="#eaf7e4"/>
<path fill="#d8f0d2" d="M0 1h1v1h-1z"/>
</g>
<g transform="matrix(14.743 0 0 6.467 175.86 474.08)" shape-rendering="crispEdges"><rect width="4" height="5" fill="#eaf7e4"/>
<path fill="#f8fcf4" d="M3 2h1v1h-1z"/>
<path fill="#d8f0d2" d="M0 0h1v1h-1zM0 3h2v1h-2zM3 3h1v1h-1zM0 4h2v1h-2z"/>
<path fill="#9fdbc1" d="M1 1h2v1h-2z"/>
<path fill="#7acbc8" d="M2 2h1v1h-1z"/>
<path fill="#57b3d4" d="M1 2h1v1h-1z"/>
<path fill="#3e8ec3" d="M0 1h1v1h-1z"/>
<path fill="#2d69aa" d="M0 2h1v1h-1z"/>
</g>
<g transform="matrix(14.743 0 0 6.467 175.86 510.08)" shape-rendering="crispEdges"><rect width="4" height="10" fill="#eaf7e4"/>
<path fill="#d8f0d2" d="M0 0h1v1h-1zM0 1h1v1h-1zM2 1h2v1h-2zM0 2h1v1h-1zM0 3h4v1h-4zM1 5h1v1h-1zM2 7h1v1h-1zM0 8h3v1h-3zM2 9h1v1h-1z"/>
<path fill="#bfe7c4" d="M1 1h1v1h-1zM1 2h3v1h-3zM1 7h1v1h-1zM1 9h1v1h-1z"/>
<path fill="#7acbc8" d="M0 7h1v1h-1z"/>
<path fill="#57b3d4" d="M0 9h1v1h-1z"/>
</g>
<g transform="matrix(14.743 0 0 6.467 175.86 578.42)" shape-rendering="crispEdges"><rect width="4" height="9" fill="#eaf7e4"/>
<path fill="#f8fcf4" d="M3 0h1v1h-1z"/>
<path fill="#d8f0d2" d="M1 1h2v1h-2zM1 2h2v1h-2zM1 3h2v1h-2zM1 4h2v1h-2zM2 6h2v1h-2zM0 7h1v1h-1zM2 8h1v1h-1z"/>
<path fill="#bfe7c4" d="M2 0h1v1h-1zM0 3h1v1h-1zM1 6h1v1h-1zM1 7h1v1h-1zM1 8h1v1h-1z"/>
<path fill="#9fdbc1" d="M0 1h1v1h-1z"/>
<path fill="#7acbc8" d="M0 0h2v1h-2z"/>
<path fill="#57b3d4" d="M0 6h1v1h-1zM3 7h1v1h-1z"/>
</g>
<g transform="matrix(14.743 0 0 6.467 175.86 640.29)" shape-rendering="crispEdges"><rect width="4" height="6" fill="#eaf7e4"/>
<path fill="#f8fcf4" d="M3 1h1v1h-1zM3 2h1v1h-1z"/>
<path fill="#d8f0d2" d="M1 2h2v1h-2zM1 3h2v1h-2zM3 4h1v1h-1z"/>
<path fill="#bfe7c4" d="M0 0h3v1h-3zM1 4h1v1h-1z"/>
<path fill="#9fdbc1" d="M3 0h1v1h-1z"/>
<path fill="#3e8ec3" d="M1 1h2v1h-2z"/>
<path fill="#2d69aa" d="M0 4h1v1h-1z"/>
</g>
<g transform="matrix(14.743 0 0 6.467 175.86 682.77)" shape-rendering="crispEdges"><rect width="4" height="4" fill="#d8f0d2"/>
<path fill="#f8fcf4" d="M3 3h1v1h-1z"/>
<path fill="#eaf7e4" d="M1 0h2v1h-2zM3 1h1v1h-1z"/>
<path fill="#7acbc8" d="M3 2h1v1h-1z"/>
<path fill="#57b3d4" d="M0 1h1v1h-1zM0 2h1v1h-1z"/>
<path fill="#2d69aa" d="M0 0h1v1h-1z"/>
<path fill="#224891" d="M0 3h1v1h-1z"/>
</g>
<g transform="matrix(14.743 0 0 6.467 175.86 712.30)" shape-rendering="crispEdges"><rect width="4" height="9" fill="#eaf7e4"/>
<path fill="#d8f0d2" d="M0 0h1v1h-1zM0 2h2v1h-2zM0 5h2v1h-2zM0 7h3v1h-3zM0 8h4v1h-4z"/>
<path fill="#bfe7c4" d="M2 2h1v1h-1z"/>
<path fill="#7acbc8" d="M3 2h1v1h-1z"/>
</g>
<g transform="matrix(14.743 0 0 6.467 238.56 114.90)" shape-rendering="crispEdges"><rect width="3" height="12" fill="#bfe7c4"/>
<path fill="#f8fcf4" d="M2 5h1v1h-1z"/>
<path fill="#eaf7e4" d="M2 1h1v1h-1zM2 2h1v1h-1zM2 3h1v1h-1zM2 4h1v1h-1zM2 9h1v1h-1zM2 10h1v1h-1zM1 11h2v1h-2z"/>
<path fill="#d8f0d2" d="M2 0h1v1h-1zM0 2h1v1h-1zM1 3h1v1h-1zM1 4h1v1h-1zM1 5h1v1h-1zM2 6h1v1h-1zM2 7h1v1h-1zM2 8h1v1h-1zM1 10h1v1h-1zM0 11h1v1h-1z"/>
<path fill="#9fdbc1" d="M0 7h2v1h-2zM0 8h1v1h-1z"/>
<path fill="#7acbc8" d="M0 1h1v1h-1zM0 3h1v1h-1z"/>
</g>
<g transform="matrix(14.743 0 0 6.467 238.56 196.17)" shape-rendering="crispEdges"><rect width="3" height="9" fill="#bfe7c4"/>
<path fill="#eaf7e4" d="M2 1h1v1h-1zM2 3h1v1h-1zM2 4h1v1h-1z"/>
<path fill="#d8f0d2" d="M2 0h1v1h-1zM1 1h1v1h-1zM2 2h1v1h-1zM1 3h1v1h-1zM1 4h1v1h-1zM1 5h2v1h-2z"/>
<path fill="#9fdbc1" d="M1 6h1v1h-1zM1 8h1v1h-1z"/>
<path fill="#7acbc8" d="M0 3h1v1h-1zM0 6h1v1h-1zM1 7h1v1h-1z"/>
<path fill="#3e8ec3" d="M0 7h1v1h-1z"/>
</g>
<g transform="matrix(14.743 0 0 6.467 238.56 258.05)" shape-rendering="crispEdges"><rect width="3" height="7" fill="#d8f0d2"/>
<path fill="#eaf7e4" d="M2 5h1v1h-1zM2 6h1v1h-1z"/>
<path fill="#bfe7c4" d="M2 0h1v1h-1zM0 1h2v1h-2zM0 2h1v1h-1zM1 4h2v1h-2z"/>
<path fill="#9fdbc1" d="M1 0h1v1h-1zM1 3h1v1h-1zM0 6h1v1h-1z"/>
<path fill="#57b3d4" d="M0 3h1v1h-1zM0 4h1v1h-1z"/>
<path fill="#3e8ec3" d="M0 0h1v1h-1z"/>
</g>
<g transform="matrix(14.743 0 0 6.467 238.56 306.99)" shape-rendering="crispEdges"><rect width="3" height="2" fill="#eaf7e4"/>
<path fill="#f8fcf4" d="M2 1h1v1h-1z"/>
</g>
<g transform="matrix(14.743 0 0 6.467 238.56 323.59)" shape-rendering="crispEdges"><rect width="3" height="7" fill="#eaf7e4"/>
<path fill="#d8f0d2" d="M0 0h3v1h-3zM0 1h2v1h-2zM0 4h1v1h-1zM0 5h1v1h-1zM2 5h1v1h-1z"/>
<path fill="#bfe7c4" d="M1 2h1v1h-1z"/>
<path fill="#7acbc8" d="M0 2h1v1h-1z"/>
</g>
<g transform="matrix(14.743 0 0 6.467 238.56 372.53)" shape-rendering="crispEdges"><rect width="3" height="3" fill="#eaf7e4"/>
<path fill="#f8fcf4" d="M2 1h1v1h-1z"/>
<path fill="#d8f0d2" d="M0 0h1v1h-1zM0 2h1v1h-1z"/>
</g>
<g transform="matrix(14.743 0 0 6.467 238.56 395.60)" shape-rendering="crispEdges"><rect width="3" height="9" fill="#eaf7e4"/>
<path fill="#d8f0d2" d="M2 0h1v1h-1zM0 1h2v1h-2zM1 2h1v1h-1zM0 4h3v1h-3zM0 5h2v1h-2zM1 7h1v1h-1zM0 8h1v1h-1z"/>
<path fill="#bfe7c4" d="M0 7h1v1h-1zM2 7h1v1h-1z"/>
</g>
<g transform="matrix(14.743 0 0 6.467 238.56 457.47)" shape-rendering="crispEdges"><rect width="3" height="2" fill="#eaf7e4"/>
</g>
<g transform="matrix(14.743 0 0 6.467 238.56 474.08)" shape-rendering="crispEdges"><rect width="3" height="5" fill="#eaf7e4"/>
<path fill="#d8f0d2" d="M1 0h1v1h-1zM2 2h1v1h-1zM0 4h2v1h-2z"/>
<path fill="#bfe7c4" d="M0 0h1v1h-1zM1 1h1v1h-1zM0 2h2v1h-2z"/>
<path fill="#9fdbc1" d="M0 1h1v1h-1z"/>
</g>
<g transform="matrix(14.743 0 0 6.467 238.56 510.08)" shape-rendering="crispEdges"><rect width="3" height="10" fill="#eaf7e4"/>
<path fill="#f8fcf4" d="M0 4h3v1h-3z"/>
<path fill="#d8f0d2" d="M0 0h1v1h-1zM0 1h1v1h-1zM0 2h1v1h-1zM0 3h1v1h-1zM1 7h1v1h-1zM0 9h1v1h-1z"/>
</g>
<g transform="matrix(14.743 0 0 6.467 238.56 578.42)" shape-rendering="crispEdges"><rect width="3" height="9" fill="#eaf7e4"/>
<path fill="#d8f0d2" d="M0 0h2v1h-2zM0 1h2v1h-2zM0 2h2v1h-2zM1 7h1v1h-1z"/>
</g>
<g transform="matrix(14.743 0 0 6.467 238.56 640.29)" shape-rendering="crispEdges"><rect width="3" height="6" fill="#eaf7e4"/>
<path fill="#d8f0d2" d="M2 0h1v1h-1zM2 2h1v1h-1zM0 3h1v1h-1zM2 4h1v1h-1z"/>
<path fill="#bfe7c4" d="M1 0h1v1h-1zM0 1h2v1h-2z"/>
<path fill="#9fdbc1" d="M0 0h1v1h-1zM2 1h1v1h-1z"/>
<path fill="#7acbc8" d="M0 4h2v1h-2z"/>
</g>
<g transform="matrix(14.743 0 0 6.467 238.56 682.77)" shape-rendering="crispEdges"><rect width="3" height="4" fill="#d8f0d2"/>
<path fill="#eaf7e4" d="M2 0h1v1h-1zM2 1h1v1h-1zM2 2h1v1h-1zM2 3h1v1h-1z"/>
</g>
<g transform="matrix(14.743 0 0 6.467 238.56 712.30)" shape-rendering="crispEdges"><rect width="3" height="9" fill="#eaf7e4"/>
<path fill="#d8f0d2" d="M1 0h1v1h-1zM0 2h1v1h-1zM0 5h2v1h-2zM0 7h1v1h-1zM0 8h2v1h-2z"/>
<path fill="#bfe7c4" d="M0 0h1v1h-1z"/>
</g>
<g transform="matrix(14.743 0 0 6.467 286.52 114.90)" shape-rendering="crispEdges"><rect width="4" height="12" fill="#bfe7c4"/>
<path fill="#f8fcf4" d="M0 9h1v1h-1z"/>
<path fill="#eaf7e4" d="M3 6h1v1h-1zM3 11h1v1h-1z"/>
<path fill="#d8f0d2" d="M3 4h1v1h-1zM3 5h1v1h-1zM2 6h1v1h-1zM3 9h1v1h-1zM3 10h1v1h-1zM0 11h3v1h-3z"/>
<path fill="#9fdbc1" d="M0 0h3v1h-3zM1 1h1v1h-1zM2 3h1v1h-1zM1 6h1v1h-1z"/>
<path fill="#7acbc8" d="M0 1h1v1h-1zM0 4h2v1h-2zM0 5h2v1h-2zM0 7h3v1h-3zM0 8h1v1h-1zM0 10h1v1h-1z"/>
<path fill="#57b3d4" d="M0 2h1v1h-1zM1 3h1v1h-1zM1 8h1v1h-1z"/>
<path fill="#2d69aa" d="M0 3h1v1h-1z"/>
<path fill="#224891" d="M1 2h1v1h-1z"/>
</g>
<g transform="matrix(14.743 0 0 6.467 286.52 196.17)" shape-rendering="crispEdges"><rect width="4" height="9" fill="#bfe7c4"/>
<path fill="#eaf7e4" d="M0 3h1v1h-1z"/>
<path fill="#d8f0d2" d="M3 0h1v1h-1zM0 1h1v1h-1zM3 1h1v1h-1zM0 5h1v1h-1z"/>
<path fill="#9fdbc1" d="M1 1h1v1h-1z"/>
<path fill="#7acbc8" d="M2 6h2v1h-2z"/>
<path fill="#57b3d4" d="M0 4h2v1h-2zM1 6h1v1h-1zM2 7h1v1h-1z"/>
<path fill="#2d69aa" d="M0 7h2v1h-2zM3 7h1v1h-1z"/>
</g>
<g transform="matrix(14.743 0 0 6.467 286.52 258.05)" shape-rendering="crispEdges"><rect width="4" height="7" fill="#3e8ec3"/>
<path fill="#eaf7e4" d="M3 5h1v1h-1zM3 6h1v1h-1z"/>
<path fill="#d8f0d2" d="M0 5h3v1h-3zM1 6h2v1h-2z"/>
<path fill="#bfe7c4" d="M3 0h1v1h-1z"/>
<path fill="#9fdbc1" d="M3 1h1v1h-1zM2 3h2v1h-2zM3 4h1v1h-1zM0 6h1v1h-1z"/>
<path fill="#7acbc8" d="M3 2h1v1h-1zM2 4h1v1h-1z"/>
<path fill="#57b3d4" d="M2 1h1v1h-1zM0 4h1v1h-1z"/>
<path fill="#2d69aa" d="M0 0h1v1h-1zM1 3h1v1h-1zM1 4h1v1h-1z"/>
<path fill="#224891" d="M1 0h1v1h-1zM1 2h1v1h-1zM0 3h1v1h-1z"/>
</g>
<g transform="matrix(14.743 0 0 6.467 286.52 306.99)" shape-rendering="crispEdges"><rect width="4" height="2" fill="#eaf7e4"/>
</g>
<g transform="matrix(14.743 0 0 6.467 286.52 323.59)" shape-rendering="crispEdges"><rect width="4" height="7" fill="#bfe7c4"/>
<path fill="#eaf7e4" d="M0 3h1v1h-1zM0 4h1v1h-1z"/>
<path fill="#9fdbc1" d="M0 6h2v1h-2z"/>
<path fill="#7acbc8" d="M0 0h1v1h-1zM3 6h1v1h-1z"/>
<path fill="#57b3d4" d="M3 0h1v1h-1zM3 1h1v1h-1zM2 2h1v1h-1zM0 5h1v1h-1zM3 5h1v1h-1z"/>
<path fill="#3e8ec3" d="M3 2h1v1h-1zM1 5h1v1h-1z"/>
<path fill="#2d69aa" d="M1 1h1v1h-1zM0 2h1v1h-1zM2 5h1v1h-1z"/>
<path fill="#224891" d="M1 0h2v1h-2zM0 1h1v1h-1zM2 1h1v1h-1zM1 2h1v1h-1z"/>
</g>
<g transform="matrix(14.743 0 0 6.467 286.52 372.53)" shape-rendering="crispEdges"><rect width="4" height="3" fill="#d8f0d2"/>
<path fill="#eaf7e4" d="M0 1h4v1h-4z"/>
<path fill="#bfe7c4" d="M3 0h1v1h-1zM0 2h1v1h-1z"/>
</g>
<g transform="matrix(14.743 0 0 6.467 286.52 395.60)" shape-rendering="crispEdges"><rect width="4" height="9" fill="#d8f0d2"/>
<path fill="#eaf7e4" d="M0 3h2v1h-2z"/>
<path fill="#bfe7c4" d="M2 0h2v1h-2zM0 4h2v1h-2zM0 7h3v1h-3zM0 8h4v1h-4z"/>
<path fill="#9fdbc1" d="M1 2h1v1h-1zM3 5h1v1h-1z"/>
<path fill="#7acbc8" d="M1 1h2v1h-2zM3 7h1v1h-1z"/>
<path fill="#57b3d4" d="M1 0h1v1h-1zM3 2h1v1h-1z"/>
<path fill="#3e8ec3" d="M3 1h1v1h-1z"/>
</g>
<g transform="matrix(14.743 0 0 6.467 286.52 457.47)" shape-rendering="crispEdges"><rect width="4" height="2" fill="#d8f0d2"/>
<path fill="#eaf7e4" d="M1 0h2v1h-2zM1 1h2v1h-2z"/>
</g>
<g transform="matrix(14.743 0 0 6.467 286.52 474.08)" shape-rendering="crispEdges"><rect width="4" height="5" fill="#d8f0d2"/>
<path fill="#bfe7c4" d="M0 0h1v1h-1zM2 0h1v1h-1z"/>
<path fill="#7acbc8" d="M2 1h1v1h-1z"/>
<path fill="#57b3d4" d="M1 0h1v1h-1zM3 1h1v1h-1zM2 2h1v1h-1z"/>
<path fill="#3e8ec3" d="M0 1h1v1h-1z"/>
<path fill="#2d69aa" d="M1 2h1v1h-1z"/>
<path fill="#224891" d="M1 1h1v1h-1zM0 2h1v1h-1zM3 2h1v1h-1z"/>
</g>
<g transform="matrix(14.743 0 0 6.467 286.52 510.08)" shape-rendering="crispEdges"><rect width="4" height="10" fill="#d8f0d2"/>
<path fill="#eaf7e4" d="M0 4h4v1h-4zM3 5h1v1h-1z"/>
<path fill="#bfe7c4" d="M0 0h1v1h-1zM3 0h1v1h-1zM1 1h1v1h-1zM0 2h1v1h-1zM2 2h1v1h-1zM1 3h1v1h-1zM3 7h1v1h-1zM3 8h1v1h-1zM0 9h2v1h-2z"/>
<path fill="#7acbc8" d="M2 0h1v1h-1zM1 2h1v1h-1z"/>
<path fill="#57b3d4" d="M1 0h1v1h-1z"/>
<path fill="#3e8ec3" d="M0 3h1v1h-1z"/>
</g>
<g transform="matrix(14.743 0 0 6.467 286.52 578.42)" shape-rendering="crispEdges"><rect width="4" height="9" fill="#d8f0d2"/>
<path fill="#eaf7e4" d="M3 4h1v1h-1z"/>
<path fill="#bfe7c4" d="M2 0h1v1h-1zM0 1h1v1h-1zM2 1h1v1h-1zM0 2h1v1h-1zM2 2h1v1h-1zM2 7h1v1h-1zM1 8h2v1h-2z"/>
<path fill="#9fdbc1" d="M1 6h1v1h-1zM1 7h1v1h-1zM3 7h1v1h-1z"/>
<path fill="#7acbc8" d="M0 0h2v1h-2zM3 0h1v1h-1z"/>
<path fill="#57b3d4" d="M1 1h1v1h-1zM1 2h1v1h-1z"/>
<path fill="#3e8ec3" d="M0 7h1v1h-1z"/>
<path fill="#2d69aa" d="M3 6h1v1h-1z"/>
</g>
<g transform="matrix(14.743 0 0 6.467 286.52 640.29)" shape-rendering="crispEdges"><rect width="4" height="6" fill="#2d69aa"/>
<path fill="#d8f0d2" d="M0 5h4v1h-4z"/>
<path fill="#bfe7c4" d="M2 2h2v1h-2z"/>
<path fill="#9fdbc1" d="M2 3h1v1h-1z"/>
<path fill="#7acbc8" d="M0 0h1v1h-1zM2 4h1v1h-1z"/>
<path fill="#57b3d4" d="M2 0h1v1h-1zM1 2h1v1h-1zM1 3h1v1h-1zM0 4h1v1h-1z"/>
<path fill="#3e8ec3" d="M3 3h1v1h-1zM1 4h1v1h-1zM3 4h1v1h-1z"/>
<path fill="#224891" d="M1 0h1v1h-1zM0 1h2v1h-2z"/>
</g>
<g transform="matrix(14.743 0 0 6.467 286.52 682.77)" shape-rendering="crispEdges"><rect width="4" height="4" fill="#d8f0d2"/>
<path fill="#eaf7e4" d="M0 0h1v1h-1zM3 0h1v1h-1zM0 1h1v1h-1zM0 2h1v1h-1zM0 3h1v1h-1z"/>
<path fill="#bfe7c4" d="M1 1h1v1h-1zM1 2h1v1h-1zM1 3h2v1h-2z"/>
<path fill="#7acbc8" d="M1 0h1v1h-1z"/>
</g>
<g transform="matrix(14.743 0 0 6.467 286.52 712.30)" shape-rendering="crispEdges"><rect width="4" height="9" fill="#eaf7e4"/>
<path fill="#d8f0d2" d="M3 2h1v1h-1zM0 4h1v1h-1zM2 4h1v1h-1zM0 5h3v1h-3zM2 7h2v1h-2zM0 8h3v1h-3z"/>
<path fill="#bfe7c4" d="M2 0h2v1h-2zM2 2h1v1h-1zM0 7h2v1h-2z"/>
<path fill="#9fdbc1" d="M0 0h2v1h-2zM0 2h2v1h-2zM1 4h1v1h-1z"/>
</g>
<g transform="matrix(14.743 0 0 6.467 349.22 114.90)" shape-rendering="crispEdges"><rect width="6" height="12" fill="#eaf7e4"/>
<path fill="#f8fcf4" d="M3 2h3v1h-3zM3 3h3v1h-3zM3 4h3v1h-3zM0 5h1v1h-1zM3 5h3v1h-3zM2 6h1v1h-1zM5 8h1v1h-1zM0 9h1v1h-1zM4 9h2v1h-2zM4 10h2v1h-2zM4 11h2v1h-2z"/>
<path fill="#d8f0d2" d="M1 0h2v1h-2zM0 1h1v1h-1zM5 1h1v1h-1zM1 2h1v1h-1zM1 3h1v1h-1zM0 4h2v1h-2zM0 6h2v1h-2zM5 6h1v1h-1zM2 7h2v1h-2zM0 8h2v1h-2zM1 10h1v1h-1z"/>
<path fill="#bfe7c4" d="M1 1h1v1h-1zM0 2h1v1h-1zM0 3h1v1h-1zM4 7h1v1h-1zM0 10h1v1h-1z"/>
</g>
<g transform="matrix(14.743 0 0 6.467 349.22 196.17)" shape-rendering="crispEdges"><rect width="6" height="9" fill="#f8fcf4"/>
<path fill="#eaf7e4" d="M1 0h1v1h-1zM0 1h3v1h-3zM1 2h1v1h-1zM2 3h1v1h-1zM4 3h1v1h-1zM2 4h2v1h-2zM2 5h3v1h-3zM0 6h1v1h-1zM0 8h2v1h-2z"/>
<path fill="#d8f0d2" d="M0 4h1v1h-1zM0 5h2v1h-2zM2 6h3v1h-3zM1 7h3v1h-3zM2 8h2v1h-2z"/>
<path fill="#bfe7c4" d="M0 3h2v1h-2z"/>
<path fill="#9fdbc1" d="M0 7h1v1h-1z"/>
</g>
<g transform="matrix(14.743 0 0 6.467 349.22 258.05)" shape-rendering="crispEdges"><rect width="6" height="7" fill="#f8fcf4"/>
<path fill="#eaf7e4" d="M2 1h1v1h-1zM2 4h1v1h-1zM0 6h3v1h-3z"/>
<path fill="#9fdbc1" d="M0 4h1v1h-1z"/>
</g>
<g transform="matrix(14.743 0 0 6.467 349.22 306.99)" shape-rendering="crispEdges"><rect width="6" height="2" fill="#f8fcf4"/>
<path fill="#eaf7e4" d="M0 0h1v1h-1zM3 0h1v1h-1z"/>
</g>
<g transform="matrix(14.743 0 0 6.467 349.22 323.59)" shape-rendering="crispEdges"><rect width="6" height="7" fill="#f8fcf4"/>
<path fill="#eaf7e4" d="M1 2h1v1h-1zM4 2h2v1h-2zM2 3h1v1h-1zM0 4h2v1h-2zM3 4h1v1h-1zM5 5h1v1h-1z"/>
<path fill="#d8f0d2" d="M2 2h1v1h-1zM2 4h1v1h-1z"/>
<path fill="#bfe7c4" d="M0 6h1v1h-1z"/>
</g>
<g transform="matrix(14.743 0 0 6.467 349.22 372.53)" shape-rendering="crispEdges"><rect width="6" height="3" fill="#f8fcf4"/>
<path fill="#eaf7e4" d="M0 0h1v1h-1zM1 1h1v1h-1zM1 2h1v1h-1zM4 2h1v1h-1z"/>
</g>
<g transform="matrix(14.743 0 0 6.467 349.22 395.60)" shape-rendering="crispEdges"><rect width="6" height="9" fill="#eaf7e4"/>
<path fill="#f8fcf4" d="M3 0h2v1h-2zM3 1h3v1h-3zM2 2h4v1h-4zM3 3h3v1h-3zM3 4h3v1h-3zM3 5h1v1h-1zM5 5h1v1h-1zM0 6h1v1h-1zM0 8h1v1h-1z"/>
<path fill="#d8f0d2" d="M1 4h1v1h-1zM0 5h1v1h-1zM3 6h2v1h-2zM1 7h1v1h-1zM3 8h2v1h-2z"/>
<path fill="#bfe7c4" d="M0 4h1v1h-1zM5 6h1v1h-1zM0 7h1v1h-1zM2 7h1v1h-1zM1 8h1v1h-1z"/>
<path fill="#9fdbc1" d="M2 6h1v1h-1z"/>
</g>
<g transform="matrix(14.743 0 0 6.467 349.22 457.47)" shape-rendering="crispEdges"><rect width="6" height="2" fill="#f8fcf4"/>
<path fill="#eaf7e4" d="M5 0h1v1h-1zM2 1h4v1h-4z"/>
<path fill="#d8f0d2" d="M0 1h1v1h-1z"/>
</g>
<g transform="matrix(14.743 0 0 6.467 349.22 474.08)" shape-rendering="crispEdges"><rect width="6" height="5" fill="#f8fcf4"/>
<path fill="#eaf7e4" d="M2 1h2v1h-2zM0 3h1v1h-1zM2 3h3v1h-3zM4 4h1v1h-1z"/>
<path fill="#d8f0d2" d="M2 2h1v1h-1zM0 4h1v1h-1z"/>
<path fill="#bfe7c4" d="M0 1h1v1h-1zM2 4h1v1h-1z"/>
</g>
<g transform="matrix(14.743 0 0 6.467 349.22 510.08)" shape-rendering="crispEdges"><rect width="6" height="10" fill="#f8fcf4"/>
<path fill="#eaf7e4" d="M5 0h1v1h-1zM1 1h1v1h-1zM1 5h1v1h-1zM1 6h1v1h-1zM5 7h1v1h-1z"/>
<path fill="#d8f0d2" d="M0 2h1v1h-1zM0 6h1v1h-1zM1 7h2v1h-2zM0 8h2v1h-2z"/>
</g>
<g transform="matrix(14.743 0 0 6.467 349.22 578.42)" shape-rendering="crispEdges"><rect width="6" height="9" fill="#f8fcf4"/>
<path fill="#eaf7e4" d="M1 0h1v1h-1zM4 0h1v1h-1zM0 1h4v1h-4zM0 3h3v1h-3zM0 4h2v1h-2zM0 5h1v1h-1zM0 6h1v1h-1zM0 7h1v1h-1zM2 7h1v1h-1zM0 8h3v1h-3z"/>
<path fill="#d8f0d2" d="M2 0h2v1h-2zM2 2h1v1h-1zM4 2h2v1h-2zM2 4h2v1h-2zM1 5h1v1h-1zM5 7h1v1h-1zM3 8h1v1h-1zM5 8h1v1h-1z"/>
<path fill="#bfe7c4" d="M1 2h1v1h-1z"/>
<path fill="#9fdbc1" d="M1 6h1v1h-1z"/>
</g>
<g transform="matrix(14.743 0 0 6.467 349.22 640.29)" shape-rendering="crispEdges"><rect width="6" height="6" fill="#f8fcf4"/>
<path fill="#eaf7e4" d="M0 0h1v1h-1zM0 2h1v1h-1zM4 2h2v1h-2zM2 3h1v1h-1z"/>
<path fill="#d8f0d2" d="M2 0h1v1h-1zM2 1h1v1h-1zM2 2h1v1h-1zM3 3h1v1h-1zM1 4h1v1h-1zM2 5h1v1h-1z"/>
<path fill="#bfe7c4" d="M2 4h1v1h-1z"/>
<path fill="#9fdbc1" d="M0 5h1v1h-1z"/>
<path fill="#224891" d="M0 4h1v1h-1z"/>
</g>
<g transform="matrix(14.743 0 0 6.467 349.22 682.77)" shape-rendering="crispEdges"><rect width="6" height="4" fill="#f8fcf4"/>
<path fill="#eaf7e4" d="M3 0h2v1h-2zM5 1h1v1h-1zM1 2h1v1h-1zM3 3h1v1h-1zM5 3h1v1h-1z"/>
<path fill="#d8f0d2" d="M0 0h1v1h-1zM2 0h1v1h-1zM2 2h1v1h-1z"/>
<path fill="#bfe7c4" d="M1 3h1v1h-1z"/>
</g>
<g transform="matrix(14.743 0 0 6.467 349.22 712.30)" shape-rendering="crispEdges"><rect width="6" height="9" fill="#f8fcf4"/>
<path fill="#eaf7e4" d="M0 0h1v1h-1zM2 2h1v1h-1zM4 2h1v1h-1zM0 3h1v1h-1zM0 4h2v1h-2zM0 5h2v1h-2zM0 6h1v1h-1zM0 7h1v1h-1zM3 7h1v1h-1zM0 8h3v1h-3z"/>
<path fill="#d8f0d2" d="M1 0h1v1h-1zM1 7h2v1h-2z"/>
<path fill="#bfe7c4" d="M0 2h1v1h-1z"/>
</g>
<g transform="matrix(14.743 0 0 6.467 441.41 114.90)" shape-rendering="crispEdges"><rect width="7" height="12" fill="#f8fcf4"/>
<path fill="#eaf7e4" d="M1 0h3v1h-3zM1 1h3v1h-3zM4 2h1v1h-1zM3 3h1v1h-1zM0 4h3v1h-3zM0 5h1v1h-1zM1 6h1v1h-1zM5 7h1v1h-1zM2 8h1v1h-1zM0 9h2v1h-2zM2 10h1v1h-1zM0 11h2v1h-2z"/>
<path fill="#d8f0d2" d="M0 0h1v1h-1zM0 1h1v1h-1zM0 3h3v1h-3zM0 6h1v1h-1zM0 7h3v1h-3zM0 8h2v1h-2zM0 10h2v1h-2z"/>
</g>
<g transform="matrix(14.743 0 0 6.467 441.41 196.17)" shape-rendering="crispEdges"><rect width="7" height="9" fill="#f8fcf4"/>
<path fill="#eaf7e4" d="M2 0h1v1h-1zM0 2h2v1h-2zM0 3h5v1h-5zM5 5h1v1h-1zM1 6h1v1h-1zM3 7h3v1h-3zM1 8h2v1h-2z"/>
<path fill="#d8f0d2" d="M2 6h1v1h-1zM1 7h2v1h-2z"/>
<path fill="#bfe7c4" d="M0 6h1v1h-1zM0 7h1v1h-1z"/>
</g>
<g transform="matrix(14.743 0 0 6.467 441.41 258.05)" shape-rendering="crispEdges"><rect width="7" height="7" fill="#f8fcf4"/>
<path fill="#eaf7e4" d="M3 3h1v1h-1zM3 4h3v1h-3zM0 6h1v1h-1zM2 6h1v1h-1z"/>
<path fill="#d8f0d2" d="M1 3h2v1h-2zM2 4h1v1h-1z"/>
<path fill="#bfe7c4" d="M0 0h3v1h-3zM0 3h1v1h-1zM0 4h2v1h-2z"/>
</g>
<g transform="matrix(14.743 0 0 6.467 441.41 306.99)" shape-rendering="crispEdges"><rect width="7" height="2" fill="#f8fcf4"/>
</g>
<g transform="matrix(14.743 0 0 6.467 441.41 323.59)" shape-rendering="crispEdges"><rect width="7" height="7" fill="#f8fcf4"/>
<path fill="#eaf7e4" d="M5 1h2v1h-2zM1 2h2v1h-2zM0 4h1v1h-1zM2 4h2v1h-2z"/>
<path fill="#d8f0d2" d="M4 1h1v1h-1z"/>
</g>
<g transform="matrix(14.743 0 0 6.467 441.41 372.53)" shape-rendering="crispEdges"><rect width="7" height="3" fill="#f8fcf4"/>
<path fill="#eaf7e4" d="M2 2h1v1h-1z"/>
</g>
<g transform="matrix(14.743 0 0 6.467 441.41 395.60)" shape-rendering="crispEdges"><rect width="7" height="9" fill="#eaf7e4"/>
<path fill="#f8fcf4" d="M0 0h1v1h-1zM6 0h1v1h-1zM1 1h1v1h-1zM1 3h6v1h-6zM4 4h3v1h-3zM3 5h4v1h-4zM6 7h1v1h-1z"/>
<path fill="#d8f0d2" d="M1 0h2v1h-2zM5 1h1v1h-1zM0 4h1v1h-1zM5 6h2v1h-2zM0 8h3v1h-3zM5 8h2v1h-2z"/>
<path fill="#bfe7c4" d="M0 7h1v1h-1z"/>
</g>
<g transform="matrix(14.743 0 0 6.467 441.41 457.47)" shape-rendering="crispEdges"><rect width="7" height="2" fill="#f8fcf4"/>
<path fill="#eaf7e4" d="M6 0h1v1h-1z"/>
</g>
<g transform="matrix(14.743 0 0 6.467 441.41 474.08)" shape-rendering="crispEdges"><rect width="7" height="5" fill="#f8fcf4"/>
<path fill="#eaf7e4" d="M0 0h1v1h-1zM1 1h2v1h-2zM4 2h1v1h-1zM2 3h1v1h-1z"/>
<path fill="#d8f0d2" d="M0 3h1v1h-1z"/>
</g>
<g transform="matrix(14.743 0 0 6.467 441.41 510.08)" shape-rendering="crispEdges"><rect width="7" height="10" fill="#f8fcf4"/>
<path fill="#eaf7e4" d="M0 1h1v1h-1zM0 5h1v1h-1zM2 5h2v1h-2zM0 6h1v1h-1zM0 7h2v1h-2zM0 8h3v1h-3z"/>
</g>
<g transform="matrix(14.743 0 0 6.467 441.41 578.42)" shape-rendering="crispEdges"><rect width="7" height="9" fill="#f8fcf4"/>
<path fill="#eaf7e4" d="M1 0h3v1h-3zM5 0h1v1h-1zM0 1h2v1h-2zM5 1h1v1h-1zM5 2h1v1h-1zM0 3h2v1h-2zM0 4h3v1h-3zM0 5h4v1h-4zM0 6h1v1h-1zM2 6h2v1h-2zM1 7h1v1h-1zM0 8h3v1h-3z"/>
<path fill="#d8f0d2" d="M0 0h1v1h-1zM0 2h3v1h-3zM1 6h1v1h-1zM0 7h1v1h-1zM2 7h1v1h-1z"/>
</g>
<g transform="matrix(14.743 0 0 6.467 441.41 640.29)" shape-rendering="crispEdges"><rect width="7" height="6" fill="#eaf7e4"/>
<path fill="#f8fcf4" d="M3 2h4v1h-4zM3 3h2v1h-2zM4 4h1v1h-1zM6 4h1v1h-1zM6 5h1v1h-1z"/>
<path fill="#d8f0d2" d="M5 0h2v1h-2zM0 3h1v1h-1zM1 4h3v1h-3zM5 4h1v1h-1z"/>
<path fill="#bfe7c4" d="M0 1h1v1h-1zM0 4h1v1h-1z"/>
</g>
<g transform="matrix(14.743 0 0 6.467 441.41 682.77)" shape-rendering="crispEdges"><rect width="7" height="4" fill="#f8fcf4"/>
<path fill="#eaf7e4" d="M1 0h3v1h-3zM0 1h1v1h-1zM2 2h1v1h-1z"/>
<path fill="#d8f0d2" d="M0 0h1v1h-1z"/>
</g>
<g transform="matrix(14.743 0 0 6.467 441.41 712.30)" shape-rendering="crispEdges"><rect width="7" height="9" fill="#f8fcf4"/>
<path fill="#eaf7e4" d="M0 0h1v1h-1zM0 1h1v1h-1zM0 2h1v1h-1zM0 4h3v1h-3zM1 5h2v1h-2zM1 7h3v1h-3zM1 8h2v1h-2z"/>
<path fill="#d8f0d2" d="M0 5h1v1h-1z"/>
</g>
<g transform="matrix(14.743 0 0 6.467 548.34 114.90)" shape-rendering="crispEdges"><rect width="6" height="12" fill="#f8fcf4"/>
<path fill="#eaf7e4" d="M1 2h2v1h-2zM1 3h1v1h-1zM5 3h1v1h-1zM2 5h4v1h-4zM0 8h3v1h-3zM5 8h1v1h-1zM1 10h1v1h-1zM1 11h1v1h-1z"/>
<path fill="#d8f0d2" d="M0 3h1v1h-1zM0 4h1v1h-1zM1 6h1v1h-1zM0 11h1v1h-1z"/>
<path fill="#bfe7c4" d="M0 6h1v1h-1zM0 7h1v1h-1zM0 10h1v1h-1z"/>
<path fill="#9fdbc1" d="M0 2h1v1h-1z"/>
</g>
<g transform="matrix(14.743 0 0 6.467 548.34 196.17)" shape-rendering="crispEdges"><rect width="6" height="9" fill="#f8fcf4"/>
<path fill="#eaf7e4" d="M4 0h1v1h-1zM3 2h1v1h-1zM0 6h1v1h-1zM2 6h4v1h-4zM4 7h1v1h-1zM1 8h2v1h-2z"/>
<path fill="#d8f0d2" d="M0 3h4v1h-4zM1 7h3v1h-3z"/>
<path fill="#bfe7c4" d="M1 6h1v1h-1z"/>
</g>
<g transform="matrix(14.743 0 0 6.467 548.34 258.05)" shape-rendering="crispEdges"><rect width="6" height="7" fill="#f8fcf4"/>
<path fill="#eaf7e4" d="M0 0h1v1h-1zM0 2h1v1h-1zM0 3h2v1h-2zM0 4h1v1h-1zM4 4h2v1h-2zM0 6h2v1h-2z"/>
</g>
<g transform="matrix(14.743 0 0 6.467 548.34 306.99)" shape-rendering="crispEdges"><rect width="6" height="2" fill="#f8fcf4"/>
<path fill="#eaf7e4" d="M0 0h1v1h-1zM4 1h1v1h-1z"/>
</g>
<g transform="matrix(14.743 0 0 6.467 548.34 323.59)" shape-rendering="crispEdges"><rect width="6" height="7" fill="#f8fcf4"/>
<path fill="#eaf7e4" d="M1 2h1v1h-1zM3 2h1v1h-1zM2 4h1v1h-1zM5 5h1v1h-1zM1 6h1v1h-1z"/>
<path fill="#d8f0d2" d="M3 4h1v1h-1z"/>
<path fill="#bfe7c4" d="M0 6h1v1h-1z"/>
</g>
<g transform="matrix(14.743 0 0 6.467 548.34 372.53)" shape-rendering="crispEdges"><rect width="6" height="3" fill="#f8fcf4"/>
<path fill="#eaf7e4" d="M0 0h1v1h-1zM1 2h1v1h-1zM4 2h1v1h-1z"/>
</g>
<g transform="matrix(14.743 0 0 6.467 548.34 395.60)" shape-rendering="crispEdges"><rect width="6" height="9" fill="#f8fcf4"/>
<path fill="#eaf7e4" d="M1 0h1v1h-1zM0 2h1v1h-1zM4 2h1v1h-1zM3 3h1v1h-1zM4 4h1v1h-1zM3 6h3v1h-3zM4 7h1v1h-1z"/>
<path fill="#d8f0d2" d="M0 4h2v1h-2zM3 4h1v1h-1zM0 5h1v1h-1zM1 6h1v1h-1zM3 7h1v1h-1z"/>
<path fill="#bfe7c4" d="M2 1h2v1h-2zM3 5h1v1h-1zM1 7h1v1h-1zM0 8h1v1h-1z"/>
<path fill="#9fdbc1" d="M0 7h1v1h-1z"/>
<path fill="#57b3d4" d="M0 6h1v1h-1z"/>
<path fill="#2d69aa" d="M4 1h1v1h-1z"/>
<path fill="#224891" d="M5 1h1v1h-1z"/>
</g>
<g transform="matrix(14.743 0 0 6.467 548.34 457.47)" shape-rendering="crispEdges"><rect width="6" height="2" fill="#f8fcf4"/>
<path fill="#eaf7e4" d="M4 0h1v1h-1z"/>
<path fill="#57b3d4" d="M5 0h1v1h-1z"/>
</g>
<g transform="matrix(14.743 0 0 6.467 548.34 474.08)" shape-rendering="crispEdges"><rect width="6" height="5" fill="#f8fcf4"/>
<path fill="#eaf7e4" d="M1 1h1v1h-1zM4 3h1v1h-1z"/>
<path fill="#d8f0d2" d="M0 0h1v1h-1zM1 2h1v1h-1zM0 3h1v1h-1z"/>
<path fill="#bfe7c4" d="M0 1h1v1h-1z"/>
<path fill="#7acbc8" d="M0 2h1v1h-1z"/>
</g>
<g transform="matrix(14.743 0 0 6.467 548.34 510.08)" shape-rendering="crispEdges"><rect width="6" height="10" fill="#f8fcf4"/>
<path fill="#eaf7e4" d="M0 0h1v1h-1zM5 0h1v1h-1zM1 4h3v1h-3zM1 5h4v1h-4zM1 6h1v1h-1zM1 7h1v1h-1zM4 7h2v1h-2zM1 8h1v1h-1z"/>
<path fill="#bfe7c4" d="M0 7h1v1h-1zM3 7h1v1h-1zM0 8h1v1h-1z"/>
</g>
<g transform="matrix(14.743 0 0 6.467 548.34 578.42)" shape-rendering="crispEdges"><rect width="6" height="9" fill="#f8fcf4"/>
<path fill="#eaf7e4" d="M4 0h2v1h-2zM1 1h1v1h-1zM3 1h2v1h-2zM1 3h2v1h-2zM4 4h1v1h-1zM2 5h1v1h-1zM0 6h2v1h-2zM1 7h2v1h-2zM3 8h2v1h-2z"/>
<path fill="#d8f0d2" d="M1 0h1v1h-1zM3 0h1v1h-1zM4 2h2v1h-2zM0 4h1v1h-1zM2 4h1v1h-1zM2 6h1v1h-1zM0 8h3v1h-3z"/>
<path fill="#bfe7c4" d="M0 0h1v1h-1zM0 1h1v1h-1zM0 2h1v1h-1zM3 2h1v1h-1z"/>
<path fill="#7acbc8" d="M1 2h2v1h-2z"/>
</g>
<g transform="matrix(14.743 0 0 6.467 548.34 640.29)" shape-rendering="crispEdges"><rect width="6" height="6" fill="#f8fcf4"/>
<path fill="#eaf7e4" d="M0 0h1v1h-1zM3 0h1v1h-1zM0 1h1v1h-1zM3 1h1v1h-1zM1 2h1v1h-1zM2 3h1v1h-1zM5 4h1v1h-1zM0 5h4v1h-4z"/>
<path fill="#d8f0d2" d="M1 0h1v1h-1zM4 2h1v1h-1zM1 3h1v1h-1zM4 3h1v1h-1zM1 4h2v1h-2zM4 4h1v1h-1z"/>
<path fill="#bfe7c4" d="M1 1h1v1h-1z"/>
<path fill="#9fdbc1" d="M0 4h1v1h-1z"/>
<path fill="#7acbc8" d="M3 4h1v1h-1z"/>
<path fill="#57b3d4" d="M5 3h1v1h-1z"/>
</g>
<g transform="matrix(14.743 0 0 6.467 548.34 682.77)" shape-rendering="crispEdges"><rect width="6" height="4" fill="#f8fcf4"/>
<path fill="#eaf7e4" d="M1 0h1v1h-1zM1 1h1v1h-1zM3 1h1v1h-1zM5 1h1v1h-1zM1 2h1v1h-1zM1 3h3v1h-3z"/>
<path fill="#d8f0d2" d="M2 2h1v1h-1z"/>
<path fill="#bfe7c4" d="M0 0h1v1h-1z"/>
</g>
<g transform="matrix(14.743 0 0 6.467 548.34 712.30)" shape-rendering="crispEdges"><rect width="6" height="9" fill="#f8fcf4"/>
<path fill="#eaf7e4" d="M0 0h1v1h-1zM1 1h1v1h-1zM1 5h1v1h-1zM0 7h1v1h-1zM5 7h1v1h-1zM5 8h1v1h-1z"/>
<path fill="#d8f0d2" d="M1 7h2v1h-2zM4 7h1v1h-1zM1 8h2v1h-2zM4 8h1v1h-1z"/>
<path fill="#bfe7c4" d="M0 1h1v1h-1zM0 5h1v1h-1z"/>
</g>
<g transform="matrix(14.743 0 0 6.467 640.53 114.90)" shape-rendering="crispEdges"><rect width="7" height="12" fill="#f8fcf4"/>
<path fill="#eaf7e4" d="M0 0h4v1h-4zM1 1h2v1h-2zM0 2h1v1h-1zM2 2h1v1h-1zM1 3h2v1h-2zM0 4h3v1h-3zM0 5h3v1h-3zM1 6h1v1h-1zM5 7h1v1h-1zM1 8h2v1h-2zM1 9h2v1h-2zM0 10h3v1h-3zM0 11h4v1h-4z"/>
<path fill="#d8f0d2" d="M0 1h1v1h-1zM0 3h1v1h-1zM0 6h1v1h-1zM0 7h3v1h-3zM0 8h1v1h-1z"/>
</g>
<g transform="matrix(14.743 0 0 6.467 640.53 196.17)" shape-rendering="crispEdges"><rect width="7" height="9" fill="#f8fcf4"/>
<path fill="#eaf7e4" d="M0 0h4v1h-4zM0 1h1v1h-1zM3 1h4v1h-4zM0 2h4v1h-4zM0 3h1v1h-1zM3 3h1v1h-1zM2 6h2v1h-2zM2 7h1v1h-1zM5 7h1v1h-1z"/>
<path fill="#d8f0d2" d="M1 1h2v1h-2zM1 3h2v1h-2zM0 6h2v1h-2zM4 6h1v1h-1zM1 7h1v1h-1zM0 8h5v1h-5z"/>
<path fill="#3e8ec3" d="M0 7h1v1h-1z"/>
</g>
<g transform="matrix(14.743 0 0 6.467 640.53 258.05)" shape-rendering="crispEdges"><rect width="7" height="7" fill="#f8fcf4"/>
<path fill="#eaf7e4" d="M2 0h1v1h-1zM0 1h1v1h-1zM0 2h1v1h-1zM2 2h1v1h-1zM1 3h2v1h-2zM2 4h4v1h-4zM0 6h3v1h-3z"/>
<path fill="#d8f0d2" d="M1 0h1v1h-1z"/>
<path fill="#9fdbc1" d="M0 3h1v1h-1zM0 4h2v1h-2z"/>
<path fill="#57b3d4" d="M0 0h1v1h-1z"/>
</g>
<g transform="matrix(14.743 0 0 6.467 640.53 306.99)" shape-rendering="crispEdges"><rect width="7" height="2" fill="#f8fcf4"/>
</g>
<g transform="matrix(14.743 0 0 6.467 640.53 323.59)" shape-rendering="crispEdges"><rect width="7" height="7" fill="#f8fcf4"/>
<path fill="#eaf7e4" d="M0 0h1v1h-1zM2 0h1v1h-1zM2 2h2v1h-2zM1 3h4v1h-4zM1 4h3v1h-3zM0 5h1v1h-1zM3 5h1v1h-1zM0 6h1v1h-1zM2 6h1v1h-1z"/>
<path fill="#d8f0d2" d="M0 2h2v1h-2zM4 4h1v1h-1z"/>
</g>
<g transform="matrix(14.743 0 0 6.467 640.53 372.53)" shape-rendering="crispEdges"><rect width="7" height="3" fill="#f8fcf4"/>
<path fill="#eaf7e4" d="M0 2h5v1h-5z"/>
</g>
<g transform="matrix(14.743 0 0 6.467 640.53 395.60)" shape-rendering="crispEdges"><rect width="7" height="9" fill="#eaf7e4"/>
<path fill="#f8fcf4" d="M4 0h1v1h-1zM3 3h1v1h-1zM5 3h2v1h-2zM4 5h3v1h-3zM0 6h1v1h-1zM6 7h1v1h-1z"/>
<path fill="#d8f0d2" d="M0 0h4v1h-4zM0 1h1v1h-1zM0 2h1v1h-1zM0 4h2v1h-2zM0 8h3v1h-3zM6 8h1v1h-1z"/>
<path fill="#bfe7c4" d="M0 5h1v1h-1zM6 6h1v1h-1zM0 7h3v1h-3z"/>
</g>
<g transform="matrix(14.743 0 0 6.467 640.53 457.47)" shape-rendering="crispEdges"><rect width="7" height="2" fill="#f8fcf4"/>
<path fill="#eaf7e4" d="M5 0h1v1h-1z"/>
<path fill="#d8f0d2" d="M6 0h1v1h-1z"/>
</g>
<g transform="matrix(14.743 0 0 6.467 640.53 474.08)" shape-rendering="crispEdges"><rect width="7" height="5" fill="#f8fcf4"/>
<path fill="#eaf7e4" d="M0 0h3v1h-3zM3 1h1v1h-1zM5 1h1v1h-1zM1 2h1v1h-1zM3 2h2v1h-2zM0 3h3v1h-3zM0 4h3v1h-3z"/>
<path fill="#d8f0d2" d="M0 1h3v1h-3zM2 2h1v1h-1z"/>
</g>
<g transform="matrix(14.743 0 0 6.467 640.53 510.08)" shape-rendering="crispEdges"><rect width="7" height="10" fill="#f8fcf4"/>
<path fill="#eaf7e4" d="M1 5h2v1h-2zM1 6h2v1h-2zM0 7h1v1h-1zM0 8h3v1h-3zM0 9h3v1h-3z"/>
<path fill="#d8f0d2" d="M0 3h1v1h-1z"/>
<path fill="#bfe7c4" d="M0 6h1v1h-1z"/>
</g>
<g transform="matrix(14.743 0 0 6.467 640.53 578.42)" shape-rendering="crispEdges"><rect width="7" height="9" fill="#f8fcf4"/>
<path fill="#eaf7e4" d="M0 0h1v1h-1zM3 0h1v1h-1zM2 1h1v1h-1zM0 2h1v1h-1zM2 2h1v1h-1zM5 2h1v1h-1zM0 3h3v1h-3zM0 4h4v1h-4zM0 5h4v1h-4zM2 6h1v1h-1zM2 7h1v1h-1zM4 7h1v1h-1zM0 8h3v1h-3z"/>
<path fill="#d8f0d2" d="M1 0h2v1h-2zM0 1h1v1h-1zM1 2h1v1h-1zM0 6h2v1h-2zM0 7h1v1h-1z"/>
</g>
<g transform="matrix(14.743 0 0 6.467 640.53 640.29)" shape-rendering="crispEdges"><rect width="7" height="6" fill="#eaf7e4"/>
<path fill="#f8fcf4" d="M5 0h2v1h-2zM5 1h2v1h-2zM5 2h2v1h-2zM4 3h2v1h-2zM5 4h2v1h-2zM1 5h1v1h-1zM4 5h3v1h-3z"/>
<path fill="#d8f0d2" d="M0 1h3v1h-3zM0 2h1v1h-1zM0 3h2v1h-2zM0 4h3v1h-3zM0 5h1v1h-1z"/>
<path fill="#bfe7c4" d="M3 4h1v1h-1z"/>
</g>
<g transform="matrix(14.743 0 0 6.467 640.53 682.77)" shape-rendering="crispEdges"><rect width="7" height="4" fill="#f8fcf4"/>
<path fill="#eaf7e4" d="M2 0h1v1h-1zM0 1h2v1h-2zM1 2h4v1h-4zM4 3h2v1h-2z"/>
<path fill="#d8f0d2" d="M1 0h1v1h-1zM0 2h1v1h-1zM1 3h3v1h-3z"/>
<path fill="#bfe7c4" d="M0 0h1v1h-1z"/>
</g>
<g transform="matrix(14.743 0 0 6.467 640.53 712.30)" shape-rendering="crispEdges"><rect width="7" height="9" fill="#f8fcf4"/>
<path fill="#eaf7e4" d="M0 0h3v1h-3zM0 1h2v1h-2zM1 2h2v1h-2zM0 3h3v1h-3zM0 4h4v1h-4zM0 5h4v1h-4zM1 6h2v1h-2zM1 7h3v1h-3zM1 8h2v1h-2z"/>
<path fill="#d8f0d2" d="M0 2h1v1h-1zM0 7h1v1h-1z"/>
</g>
<g transform="matrix(14.743 0 0 6.467 747.46 114.90)" shape-rendering="crispEdges"><rect width="5" height="12" fill="#d8f0d2"/>
<path fill="#f8fcf4" d="M1 6h1v1h-1z"/>
<path fill="#eaf7e4" d="M3 2h2v1h-2zM4 6h1v1h-1zM3 8h1v1h-1zM3 9h1v1h-1zM2 10h3v1h-3z"/>
<path fill="#bfe7c4" d="M4 0h1v1h-1zM4 1h1v1h-1zM1 4h1v1h-1zM1 5h1v1h-1zM4 11h1v1h-1z"/>
<path fill="#9fdbc1" d="M2 0h1v1h-1zM1 1h2v1h-2zM0 2h3v1h-3zM0 3h2v1h-2zM0 4h1v1h-1zM0 5h1v1h-1zM0 6h1v1h-1zM0 7h3v1h-3zM1 8h1v1h-1z"/>
<path fill="#7acbc8" d="M0 1h1v1h-1zM0 8h1v1h-1zM0 9h1v1h-1z"/>
<path fill="#2d69aa" d="M0 0h1v1h-1z"/>
</g>
<g transform="matrix(14.743 0 0 6.467 747.46 196.17)" shape-rendering="crispEdges"><rect width="5" height="9" fill="#eaf7e4"/>
<path fill="#f8fcf4" d="M2 0h1v1h-1zM2 1h2v1h-2zM2 2h2v1h-2zM4 3h1v1h-1zM2 4h1v1h-1zM4 4h1v1h-1zM1 5h1v1h-1z"/>
<path fill="#d8f0d2" d="M0 0h2v1h-2zM3 0h1v1h-1zM0 2h1v1h-1zM1 3h1v1h-1zM3 3h1v1h-1zM1 4h1v1h-1zM2 5h3v1h-3zM1 6h1v1h-1zM4 6h1v1h-1z"/>
<path fill="#bfe7c4" d="M2 3h1v1h-1zM0 5h1v1h-1zM3 6h1v1h-1z"/>
<path fill="#7acbc8" d="M2 7h1v1h-1zM4 7h1v1h-1z"/>
<path fill="#57b3d4" d="M1 7h1v1h-1z"/>
</g>
<g transform="matrix(14.743 0 0 6.467 747.46 258.05)" shape-rendering="crispEdges"><rect width="5" height="7" fill="#f8fcf4"/>
<path fill="#eaf7e4" d="M2 2h1v1h-1zM3 4h1v1h-1zM0 6h1v1h-1z"/>
<path fill="#d8f0d2" d="M2 0h1v1h-1zM0 1h2v1h-2zM0 2h2v1h-2zM3 2h1v1h-1zM1 3h1v1h-1zM2 4h1v1h-1z"/>
<path fill="#9fdbc1" d="M1 0h1v1h-1z"/>
<path fill="#57b3d4" d="M0 0h1v1h-1zM0 3h1v1h-1z"/>
<path fill="#2d69aa" d="M1 4h1v1h-1z"/>
<path fill="#224891" d="M0 4h1v1h-1z"/>
</g>
<g transform="matrix(14.743 0 0 6.467 747.46 306.99)" shape-rendering="crispEdges"><rect width="5" height="2" fill="#f8fcf4"/>
<path fill="#eaf7e4" d="M1 1h1v1h-1z"/>
</g>
<g transform="matrix(14.743 0 0 6.467 747.46 323.59)" shape-rendering="crispEdges"><rect width="5" height="7" fill="#eaf7e4"/>
<path fill="#f8fcf4" d="M3 0h2v1h-2zM3 3h1v1h-1z"/>
<path fill="#d8f0d2" d="M0 0h1v1h-1zM1 1h1v1h-1zM3 1h1v1h-1zM1 3h1v1h-1zM4 4h1v1h-1zM4 5h1v1h-1zM1 6h1v1h-1z"/>
<path fill="#bfe7c4" d="M2 1h1v1h-1zM0 2h1v1h-1zM3 2h2v1h-2zM0 3h1v1h-1zM4 3h1v1h-1zM2 5h1v1h-1z"/>
<path fill="#9fdbc1" d="M0 1h1v1h-1zM4 1h1v1h-1zM2 4h2v1h-2zM1 5h1v1h-1zM3 5h1v1h-1z"/>
<path fill="#57b3d4" d="M1 2h1v1h-1zM2 3h1v1h-1z"/>
</g>
<g transform="matrix(14.743 0 0 6.467 747.46 372.53)" shape-rendering="crispEdges"><rect width="5" height="3" fill="#7acbc8"/>
<path fill="#9fdbc1" d="M1 1h1v1h-1z"/>
<path fill="#57b3d4" d="M2 0h1v1h-1zM4 0h1v1h-1zM4 2h1v1h-1z"/>
<path fill="#3e8ec3" d="M1 0h1v1h-1zM3 0h1v1h-1zM4 1h1v1h-1z"/>
<path fill="#224891" d="M0 0h1v1h-1zM0 1h1v1h-1zM0 2h1v1h-1z"/>
</g>
<g transform="matrix(14.743 0 0 6.467 747.46 395.60)" shape-rendering="crispEdges"><rect width="5" height="9" fill="#d8f0d2"/>
<path fill="#f8fcf4" d="M0 6h1v1h-1z"/>
<path fill="#eaf7e4" d="M3 7h1v1h-1z"/>
<path fill="#bfe7c4" d="M1 0h1v1h-1zM3 0h1v1h-1zM1 1h3v1h-3zM0 4h2v1h-2zM0 5h2v1h-2z"/>
<path fill="#9fdbc1" d="M3 4h1v1h-1zM4 7h1v1h-1z"/>
<path fill="#7acbc8" d="M2 2h1v1h-1zM2 4h1v1h-1zM2 5h1v1h-1zM4 5h1v1h-1zM3 6h1v1h-1zM0 8h1v1h-1zM3 8h1v1h-1z"/>
<path fill="#57b3d4" d="M0 2h1v1h-1zM0 3h1v1h-1zM1 8h1v1h-1z"/>
<path fill="#3e8ec3" d="M4 2h1v1h-1z"/>
<path fill="#2d69aa" d="M0 0h1v1h-1zM4 1h1v1h-1zM4 6h1v1h-1zM4 8h1v1h-1z"/>
<path fill="#224891" d="M2 0h1v1h-1zM4 0h1v1h-1zM3 2h1v1h-1zM4 3h1v1h-1zM4 4h1v1h-1z"/>
</g>
<g transform="matrix(14.743 0 0 6.467 747.46 457.47)" shape-rendering="crispEdges"><rect width="5" height="2" fill="#f8fcf4"/>
<path fill="#eaf7e4" d="M3 0h2v1h-2zM1 1h1v1h-1z"/>
<path fill="#d8f0d2" d="M2 1h2v1h-2z"/>
<path fill="#bfe7c4" d="M4 1h1v1h-1z"/>
</g>
<g transform="matrix(14.743 0 0 6.467 747.46 474.08)" shape-rendering="crispEdges"><rect width="5" height="5" fill="#d8f0d2"/>
<path fill="#f8fcf4" d="M0 2h1v1h-1z"/>
<path fill="#eaf7e4" d="M1 0h4v1h-4zM4 2h1v1h-1zM1 4h1v1h-1zM4 4h1v1h-1z"/>
<path fill="#bfe7c4" d="M1 1h1v1h-1zM3 1h1v1h-1zM1 2h1v1h-1zM0 3h1v1h-1zM2 3h1v1h-1zM4 3h1v1h-1z"/>
<path fill="#9fdbc1" d="M0 0h1v1h-1zM1 3h1v1h-1z"/>
<path fill="#2d69aa" d="M0 1h1v1h-1z"/>
</g>
<g transform="matrix(14.743 0 0 6.467 747.46 510.08)" shape-rendering="crispEdges"><rect width="5" height="10" fill="#eaf7e4"/>
<path fill="#f8fcf4" d="M1 0h1v1h-1zM3 0h2v1h-2zM1 1h4v1h-4zM2 3h1v1h-1zM0 4h5v1h-5zM4 5h1v1h-1zM4 6h1v1h-1zM1 7h2v1h-2z"/>
<path fill="#d8f0d2" d="M2 0h1v1h-1zM0 2h1v1h-1zM3 2h2v1h-2zM0 6h2v1h-2zM3 6h1v1h-1zM0 7h1v1h-1zM0 8h1v1h-1z"/>
<path fill="#bfe7c4" d="M0 9h1v1h-1z"/>
</g>
<g transform="matrix(14.743 0 0 6.467 747.46 578.42)" shape-rendering="crispEdges"><rect width="5" height="9" fill="#eaf7e4"/>
<path fill="#f8fcf4" d="M0 1h1v1h-1zM4 1h1v1h-1zM0 2h1v1h-1zM2 2h1v1h-1z"/>
<path fill="#d8f0d2" d="M0 0h1v1h-1zM3 2h1v1h-1zM4 3h1v1h-1zM3 4h1v1h-1zM1 6h1v1h-1zM1 7h2v1h-2zM1 8h2v1h-2z"/>
<path fill="#bfe7c4" d="M2 1h1v1h-1zM0 4h1v1h-1zM0 5h1v1h-1zM2 5h1v1h-1zM0 6h1v1h-1zM4 6h1v1h-1zM0 7h1v1h-1zM3 7h1v1h-1zM4 8h1v1h-1z"/>
<path fill="#9fdbc1" d="M4 2h1v1h-1zM3 8h1v1h-1z"/>
<path fill="#7acbc8" d="M1 0h1v1h-1zM3 0h1v1h-1zM1 1h1v1h-1zM2 6h1v1h-1zM4 7h1v1h-1z"/>
</g>
<g transform="matrix(14.743 0 0 6.467 747.46 640.29)" shape-rendering="crispEdges"><rect width="5" height="6" fill="#bfe7c4"/>
<path fill="#eaf7e4" d="M0 1h1v1h-1z"/>
<path fill="#d8f0d2" d="M1 3h4v1h-4z"/>
<path fill="#9fdbc1" d="M4 4h1v1h-1zM3 5h1v1h-1z"/>
<path fill="#7acbc8" d="M3 1h1v1h-1zM4 2h1v1h-1zM0 3h1v1h-1zM4 5h1v1h-1z"/>
<path fill="#57b3d4" d="M4 0h1v1h-1zM2 1h1v1h-1zM4 1h1v1h-1zM0 4h1v1h-1z"/>
<path fill="#3e8ec3" d="M2 2h1v1h-1zM3 4h1v1h-1z"/>
</g>
<g transform="matrix(14.743 0 0 6.467 747.46 682.77)" shape-rendering="crispEdges"><rect width="5" height="4" fill="#eaf7e4"/>
<path fill="#f8fcf4" d="M1 1h1v1h-1zM0 2h1v1h-1zM4 3h1v1h-1z"/>
<path fill="#d8f0d2" d="M2 0h1v1h-1zM4 0h1v1h-1zM1 2h1v1h-1zM3 2h1v1h-1z"/>
<path fill="#bfe7c4" d="M0 1h1v1h-1z"/>
<path fill="#9fdbc1" d="M2 2h1v1h-1zM3 3h1v1h-1z"/>
<path fill="#57b3d4" d="M3 0h1v1h-1z"/>
<path fill="#2d69aa" d="M0 3h1v1h-1z"/>
<path fill="#224891" d="M0 0h1v1h-1z"/>
</g>
<g transform="matrix(14.743 0 0 6.467 747.46 712.30)" shape-rendering="crispEdges"><rect width="5" height="9" fill="#eaf7e4"/>
<path fill="#f8fcf4" d="M0 4h1v1h-1zM1 6h1v1h-1z"/>
<path fill="#d8f0d2" d="M1 0h1v1h-1zM4 0h1v1h-1zM2 2h3v1h-3zM2 4h1v1h-1zM1 5h3v1h-3zM0 6h1v1h-1zM2 6h1v1h-1zM0 7h2v1h-2zM4 8h1v1h-1z"/>
<path fill="#bfe7c4" d="M0 2h1v1h-1z"/>
<path fill="#9fdbc1" d="M1 4h1v1h-1z"/>
</g>
<g transform="matrix(14.743 0 0 6.467 824.91 114.90)" shape-rendering="crispEdges"><rect width="6" height="12" fill="#f8fcf4"/>
<path fill="#eaf7e4" d="M0 0h6v1h-6zM1 1h2v1h-2zM1 2h2v1h-2zM1 3h2v1h-2zM0 4h3v1h-3zM0 5h3v1h-3zM0 6h3v1h-3zM2 7h3v1h-3zM1 8h2v1h-2zM1 9h2v1h-2zM0 10h2v1h-2zM2 11h1v1h-1z"/>
<path fill="#d8f0d2" d="M0 1h1v1h-1zM0 3h1v1h-1zM1 7h1v1h-1zM2 10h1v1h-1zM0 11h1v1h-1zM3 11h1v1h-1z"/>
<path fill="#bfe7c4" d="M0 7h1v1h-1zM0 8h1v1h-1zM0 9h1v1h-1z"/>
</g>
<g transform="matrix(14.743 0 0 6.467 824.91 196.17)" shape-rendering="crispEdges"><rect width="6" height="9" fill="#f8fcf4"/>
<path fill="#eaf7e4" d="M0 0h2v1h-2zM0 1h1v1h-1zM0 2h1v1h-1zM0 3h4v1h-4zM0 4h1v1h-1zM0 5h3v1h-3zM1 6h1v1h-1zM3 6h1v1h-1zM1 7h1v1h-1zM1 8h2v1h-2z"/>
<path fill="#bfe7c4" d="M0 6h1v1h-1z"/>
<path fill="#9fdbc1" d="M0 7h1v1h-1z"/>
</g>
<g transform="matrix(14.743 0 0 6.467 824.91 258.05)" shape-rendering="crispEdges"><rect width="6" height="7" fill="#f8fcf4"/>
<path fill="#eaf7e4" d="M3 0h2v1h-2zM1 1h1v1h-1zM3 3h1v1h-1zM2 4h1v1h-1zM4 4h1v1h-1zM0 6h1v1h-1z"/>
<path fill="#d8f0d2" d="M2 0h1v1h-1zM0 1h1v1h-1zM0 2h2v1h-2zM1 3h1v1h-1zM3 4h1v1h-1z"/>
<path fill="#9fdbc1" d="M1 0h1v1h-1zM0 3h1v1h-1zM0 4h2v1h-2z"/>
<path fill="#7acbc8" d="M0 0h1v1h-1z"/>
</g>
<g transform="matrix(14.743 0 0 6.467 824.91 306.99)" shape-rendering="crispEdges"><rect width="6" height="2" fill="#f8fcf4"/>
</g>
<g transform="matrix(14.743 0 0 6.467 824.91 323.59)" shape-rendering="crispEdges"><rect width="6" height="7" fill="#eaf7e4"/>
<path fill="#f8fcf4" d="M0 0h1v1h-1zM2 0h4v1h-4zM5 2h1v1h-1zM5 3h1v1h-1zM3 4h3v1h-3zM5 5h1v1h-1zM0 6h1v1h-1zM4 6h2v1h-2z"/>
<path fill="#d8f0d2" d="M0 1h5v1h-5zM0 2h2v1h-2zM0 3h1v1h-1zM3 3h1v1h-1zM0 4h1v1h-1zM4 5h1v1h-1z"/>
<path fill="#bfe7c4" d="M5 1h1v1h-1z"/>
</g>
<g transform="matrix(14.743 0 0 6.467 824.91 372.53)" shape-rendering="crispEdges"><rect width="6" height="3" fill="#eaf7e4"/>
<path fill="#f8fcf4" d="M0 0h1v1h-1zM4 0h2v1h-2zM0 1h1v1h-1zM4 1h2v1h-2zM5 2h1v1h-1z"/>
</g>
<g transform="matrix(14.743 0 0 6.467 824.91 395.60)" shape-rendering="crispEdges"><rect width="6" height="9" fill="#eaf7e4"/>
<path fill="#f8fcf4" d="M3 2h2v1h-2zM0 3h1v1h-1zM3 3h3v1h-3zM4 4h2v1h-2zM3 5h3v1h-3zM0 6h1v1h-1zM3 6h1v1h-1z"/>
<path fill="#d8f0d2" d="M0 1h1v1h-1zM5 1h1v1h-1zM1 7h1v1h-1zM1 8h1v1h-1zM3 8h2v1h-2z"/>
<path fill="#bfe7c4" d="M3 0h1v1h-1zM5 0h1v1h-1zM0 4h1v1h-1zM5 6h1v1h-1z"/>
<path fill="#9fdbc1" d="M0 0h2v1h-2zM5 8h1v1h-1z"/>
</g>
<g transform="matrix(14.743 0 0 6.467 824.91 457.47)" shape-rendering="crispEdges"><rect width="6" height="2" fill="#f8fcf4"/>
<path fill="#eaf7e4" d="M5 0h1v1h-1zM4 1h1v1h-1z"/>
<path fill="#d8f0d2" d="M5 1h1v1h-1z"/>
</g>
<g transform="matrix(14.743 0 0 6.467 824.91 474.08)" shape-rendering="crispEdges"><rect width="6" height="5" fill="#f8fcf4"/>
<path fill="#eaf7e4" d="M0 0h3v1h-3zM1 2h3v1h-3zM0 3h3v1h-3zM0 4h3v1h-3z"/>
<path fill="#d8f0d2" d="M1 1h2v1h-2zM0 2h1v1h-1z"/>
</g>
<g transform="matrix(14.743 0 0 6.467 824.91 510.08)" shape-rendering="crispEdges"><rect width="6" height="10" fill="#f8fcf4"/>
<path fill="#eaf7e4" d="M1 0h1v1h-1zM0 3h3v1h-3zM1 6h1v1h-1zM1 7h2v1h-2zM1 8h2v1h-2z"/>
</g>
<g transform="matrix(14.743 0 0 6.467 824.91 578.42)" shape-rendering="crispEdges"><rect width="6" height="9" fill="#f8fcf4"/>
<path fill="#eaf7e4" d="M0 0h1v1h-1zM2 0h1v1h-1zM0 1h1v1h-1zM2 1h1v1h-1zM0 2h1v1h-1zM2 2h1v1h-1zM1 3h2v1h-2zM1 4h3v1h-3zM1 6h1v1h-1zM4 6h1v1h-1zM0 7h3v1h-3zM0 8h5v1h-5z"/>
<path fill="#d8f0d2" d="M1 0h1v1h-1zM1 1h1v1h-1zM1 2h1v1h-1zM0 6h1v1h-1zM2 6h1v1h-1z"/>
</g>
<g transform="matrix(14.743 0 0 6.467 824.91 640.29)" shape-rendering="crispEdges"><rect width="6" height="6" fill="#eaf7e4"/>
<path fill="#f8fcf4" d="M3 2h1v1h-1zM3 5h3v1h-3z"/>
<path fill="#d8f0d2" d="M0 1h1v1h-1zM3 1h1v1h-1zM0 3h1v1h-1zM0 4h2v1h-2z"/>
<path fill="#bfe7c4" d="M1 1h1v1h-1zM2 4h1v1h-1z"/>
</g>
<g transform="matrix(14.743 0 0 6.467 824.91 682.77)" shape-rendering="crispEdges"><rect width="6" height="4" fill="#f8fcf4"/>
<path fill="#eaf7e4" d="M0 0h1v1h-1zM0 1h3v1h-3zM0 2h3v1h-3zM2 3h1v1h-1z"/>
<path fill="#d8f0d2" d="M1 0h2v1h-2zM1 3h1v1h-1z"/>
</g>
<g transform="matrix(14.743 0 0 6.467 824.91 712.30)" shape-rendering="crispEdges"><rect width="6" height="9" fill="#f8fcf4"/>
<path fill="#eaf7e4" d="M0 0h1v1h-1zM0 2h3v1h-3zM0 4h3v1h-3zM0 5h4v1h-4zM1 7h2v1h-2zM1 8h2v1h-2z"/>
</g>
<g transform="matrix(14.743 0 0 6.467 917.10 114.90)" shape-rendering="crispEdges"><rect width="7" height="12" fill="#f8fcf4"/>
<path fill="#eaf7e4" d="M0 0h3v1h-3zM0 1h3v1h-3zM0 2h1v1h-1zM2 2h1v1h-1zM2 3h1v1h-1zM1 4h2v1h-2zM0 6h3v1h-3zM0 7h1v1h-1zM3 7h1v1h-1zM1 8h3v1h-3zM1 9h2v1h-2zM2 10h1v1h-1zM1 11h2v1h-2z"/>
<path fill="#d8f0d2" d="M1 2h1v1h-1zM1 3h1v1h-1zM0 4h1v1h-1zM1 7h2v1h-2zM0 10h2v1h-2zM0 11h1v1h-1z"/>
<path fill="#bfe7c4" d="M0 8h1v1h-1z"/>
<path fill="#9fdbc1" d="M0 3h1v1h-1zM0 9h1v1h-1z"/>
</g>
<g transform="matrix(14.743 0 0 6.467 917.10 196.17)" shape-rendering="crispEdges"><rect width="7" height="9" fill="#f8fcf4"/>
<path fill="#eaf7e4" d="M1 0h2v1h-2zM5 0h1v1h-1zM0 1h3v1h-3zM1 2h2v1h-2zM0 3h1v1h-1zM3 3h3v1h-3zM1 4h1v1h-1zM2 5h2v1h-2zM3 6h2v1h-2zM3 7h3v1h-3zM1 8h3v1h-3z"/>
<path fill="#d8f0d2" d="M0 0h1v1h-1zM1 3h2v1h-2zM0 4h1v1h-1zM1 5h1v1h-1zM1 6h2v1h-2zM2 7h1v1h-1zM0 8h1v1h-1z"/>
<path fill="#bfe7c4" d="M0 2h1v1h-1z"/>
<path fill="#9fdbc1" d="M1 7h1v1h-1z"/>
<path fill="#7acbc8" d="M0 7h1v1h-1z"/>
</g>
<g transform="matrix(14.743 0 0 6.467 917.10 258.05)" shape-rendering="crispEdges"><rect width="7" height="7" fill="#f8fcf4"/>
<path fill="#eaf7e4" d="M4 0h2v1h-2zM1 1h1v1h-1zM3 1h1v1h-1zM0 2h1v1h-1zM3 2h1v1h-1zM3 3h1v1h-1zM4 4h2v1h-2zM0 6h1v1h-1z"/>
<path fill="#d8f0d2" d="M3 0h1v1h-1zM0 1h1v1h-1zM2 1h1v1h-1zM1 2h2v1h-2zM1 3h2v1h-2zM3 4h1v1h-1zM0 5h1v1h-1z"/>
<path fill="#bfe7c4" d="M0 0h1v1h-1zM1 4h2v1h-2z"/>
<path fill="#9fdbc1" d="M2 0h1v1h-1z"/>
<path fill="#7acbc8" d="M1 0h1v1h-1zM0 3h1v1h-1z"/>
</g>
<g transform="matrix(14.743 0 0 6.467 917.10 306.99)" shape-rendering="crispEdges"><rect width="7" height="2" fill="#f8fcf4"/>
<path fill="#d8f0d2" d="M0 0h1v1h-1zM0 1h1v1h-1z"/>
</g>
<g transform="matrix(14.743 0 0 6.467 917.10 323.59)" shape-rendering="crispEdges"><rect width="7" height="7" fill="#f8fcf4"/>
<path fill="#eaf7e4" d="M0 0h1v1h-1zM3 0h1v1h-1zM4 1h1v1h-1zM0 2h4v1h-4zM1 3h3v1h-3zM1 4h3v1h-3zM1 5h3v1h-3zM1 6h2v1h-2z"/>
<path fill="#d8f0d2" d="M1 0h1v1h-1zM1 1h1v1h-1zM3 1h1v1h-1zM0 6h1v1h-1z"/>
<path fill="#bfe7c4" d="M2 0h1v1h-1zM0 1h1v1h-1zM2 1h1v1h-1zM5 1h2v1h-2z"/>
</g>
<g transform="matrix(14.743 0 0 6.467 917.10 372.53)" shape-rendering="crispEdges"><rect width="7" height="3" fill="#eaf7e4"/>
<path fill="#f8fcf4" d="M6 0h1v1h-1z"/>
<path fill="#d8f0d2" d="M1 2h2v1h-2z"/>
<path fill="#bfe7c4" d="M0 0h1v1h-1z"/>
</g>
<g transform="matrix(14.743 0 0 6.467 917.10 395.60)" shape-rendering="crispEdges"><rect width="7" height="9" fill="#eaf7e4"/>
<path fill="#f8fcf4" d="M4 3h1v1h-1zM6 7h1v1h-1z"/>
<path fill="#d8f0d2" d="M3 0h3v1h-3zM1 1h1v1h-1zM3 1h2v1h-2zM0 3h1v1h-1zM0 4h1v1h-1zM1 5h2v1h-2zM5 5h1v1h-1zM1 8h2v1h-2zM5 8h2v1h-2z"/>
<path fill="#bfe7c4" d="M2 0h1v1h-1zM6 0h1v1h-1zM0 1h1v1h-1zM5 1h1v1h-1zM0 8h1v1h-1z"/>
<path fill="#9fdbc1" d="M2 1h1v1h-1z"/>
<path fill="#7acbc8" d="M0 2h1v1h-1z"/>
<path fill="#57b3d4" d="M0 0h2v1h-2z"/>
</g>
<g transform="matrix(14.743 0 0 6.467 917.10 457.47)" shape-rendering="crispEdges"><rect width="7" height="2" fill="#eaf7e4"/>
<path fill="#f8fcf4" d="M3 0h2v1h-2zM3 1h2v1h-2z"/>
<path fill="#d8f0d2" d="M5 0h2v1h-2zM5 1h2v1h-2z"/>
</g>
<g transform="matrix(14.743 0 0 6.467 917.10 474.08)" shape-rendering="crispEdges"><rect width="7" height="5" fill="#f8fcf4"/>
<path fill="#eaf7e4" d="M2 0h2v1h-2zM2 1h3v1h-3zM1 3h4v1h-4zM1 4h3v1h-3z"/>
<path fill="#d8f0d2" d="M1 0h1v1h-1zM1 1h1v1h-1zM0 2h5v1h-5z"/>
<path fill="#bfe7c4" d="M0 0h1v1h-1z"/>
<path fill="#57b3d4" d="M0 1h1v1h-1z"/>
</g>
<g transform="matrix(14.743 0 0 6.467 917.10 510.08)" shape-rendering="crispEdges"><rect width="7" height="10" fill="#f8fcf4"/>
<path fill="#eaf7e4" d="M0 0h3v1h-3zM0 1h2v1h-2zM0 2h3v1h-3zM1 3h1v1h-1zM1 5h2v1h-2zM0 6h4v1h-4zM2 7h2v1h-2zM2 8h2v1h-2zM0 9h3v1h-3z"/>
<path fill="#d8f0d2" d="M0 7h2v1h-2zM1 8h1v1h-1z"/>
<path fill="#bfe7c4" d="M0 3h1v1h-1zM0 5h1v1h-1zM0 8h1v1h-1z"/>
</g>
<g transform="matrix(14.743 0 0 6.467 917.10 578.42)" shape-rendering="crispEdges"><rect width="7" height="9" fill="#eaf7e4"/>
<path fill="#f8fcf4" d="M4 0h1v1h-1zM6 0h1v1h-1zM1 1h1v1h-1zM4 1h1v1h-1zM6 1h1v1h-1zM4 2h1v1h-1zM6 2h1v1h-1zM0 3h2v1h-2zM4 3h3v1h-3zM1 4h1v1h-1zM4 4h3v1h-3zM0 5h1v1h-1zM4 5h3v1h-3zM0 6h1v1h-1zM5 6h2v1h-2zM0 7h1v1h-1zM6 7h1v1h-1zM6 8h1v1h-1z"/>
<path fill="#d8f0d2" d="M2 0h1v1h-1zM0 2h3v1h-3zM0 8h1v1h-1z"/>
<path fill="#bfe7c4" d="M0 4h1v1h-1z"/>
</g>
<g transform="matrix(14.743 0 0 6.467 917.10 640.29)" shape-rendering="crispEdges"><rect width="7" height="6" fill="#eaf7e4"/>
<path fill="#d8f0d2" d="M1 0h3v1h-3zM4 1h1v1h-1zM1 2h3v1h-3zM2 3h1v1h-1zM2 4h3v1h-3zM1 5h2v1h-2z"/>
<path fill="#bfe7c4" d="M0 0h1v1h-1zM1 1h3v1h-3zM5 1h2v1h-2zM1 4h1v1h-1z"/>
<path fill="#9fdbc1" d="M0 2h1v1h-1z"/>
<path fill="#57b3d4" d="M0 4h1v1h-1z"/>
<path fill="#3e8ec3" d="M0 1h1v1h-1z"/>
<path fill="#224891" d="M0 5h1v1h-1z"/>
</g>
<g transform="matrix(14.743 0 0 6.467 917.10 682.77)" shape-rendering="crispEdges"><rect width="7" height="4" fill="#eaf7e4"/>
<path fill="#f8fcf4" d="M4 0h1v1h-1zM1 1h1v1h-1zM4 1h1v1h-1zM6 1h1v1h-1zM6 3h1v1h-1z"/>
<path fill="#d8f0d2" d="M1 0h1v1h-1zM0 3h1v1h-1z"/>
<path fill="#7acbc8" d="M0 2h1v1h-1z"/>
</g>
<g transform="matrix(14.743 0 0 6.467 917.10 712.30)" shape-rendering="crispEdges"><rect width="7" height="9" fill="#eaf7e4"/>
<path fill="#f8fcf4" d="M4 1h3v1h-3zM4 2h3v1h-3zM3 3h4v1h-4zM4 4h1v1h-1zM6 4h1v1h-1zM4 5h3v1h-3zM0 6h7v1h-7zM6 7h1v1h-1zM4 8h3v1h-3z"/>
<path fill="#d8f0d2" d="M0 4h1v1h-1zM0 5h1v1h-1zM1 7h2v1h-2z"/>
<path fill="#bfe7c4" d="M0 0h1v1h-1z"/>
<path fill="#7acbc8" d="M0 8h1v1h-1z"/>
<path fill="#57b3d4" d="M0 3h1v1h-1z"/>
</g>
<g transform="matrix(14.743 0 0 6.467 1024.03 114.90)" shape-rendering="crispEdges"><rect width="6" height="12" fill="#eaf7e4"/>
<path fill="#d8f0d2" d="M0 0h3v1h-3zM0 1h2v1h-2zM1 2h2v1h-2zM5 2h1v1h-1zM1 3h2v1h-2zM1 4h2v1h-2zM0 5h3v1h-3zM2 7h1v1h-1zM0 8h3v1h-3zM0 9h3v1h-3z"/>
<path fill="#bfe7c4" d="M2 1h1v1h-1zM0 3h1v1h-1zM0 4h1v1h-1zM0 7h2v1h-2z"/>
</g>
<g transform="matrix(14.743 0 0 6.467 1024.03 196.17)" shape-rendering="crispEdges"><rect width="6" height="9" fill="#eaf7e4"/>
<path fill="#d8f0d2" d="M2 0h1v1h-1zM1 3h1v1h-1zM5 3h1v1h-1zM0 5h4v1h-4zM2 6h1v1h-1zM3 7h3v1h-3zM1 8h2v1h-2z"/>
<path fill="#bfe7c4" d="M5 5h1v1h-1zM1 6h1v1h-1zM0 7h1v1h-1zM2 7h1v1h-1z"/>
<path fill="#7acbc8" d="M0 6h1v1h-1zM1 7h1v1h-1z"/>
</g>
<g transform="matrix(14.743 0 0 6.467 1024.03 258.05)" shape-rendering="crispEdges"><rect width="6" height="7" fill="#eaf7e4"/>
<path fill="#f8fcf4" d="M0 5h6v1h-6zM2 6h4v1h-4z"/>
<path fill="#d8f0d2" d="M2 0h1v1h-1zM0 1h3v1h-3zM0 2h3v1h-3zM1 3h2v1h-2z"/>
<path fill="#bfe7c4" d="M1 0h1v1h-1zM0 4h3v1h-3z"/>
<path fill="#7acbc8" d="M0 0h1v1h-1zM0 3h1v1h-1z"/>
</g>
<g transform="matrix(14.743 0 0 6.467 1024.03 306.99)" shape-rendering="crispEdges"><rect width="6" height="2" fill="#f8fcf4"/>
<path fill="#eaf7e4" d="M0 1h1v1h-1z"/>
</g>
<g transform="matrix(14.743 0 0 6.467 1024.03 323.59)" shape-rendering="crispEdges"><rect width="6" height="7" fill="#d8f0d2"/>
<path fill="#eaf7e4" d="M5 5h1v1h-1zM0 6h6v1h-6z"/>
<path fill="#bfe7c4" d="M2 0h1v1h-1zM1 2h2v1h-2zM0 3h1v1h-1zM4 3h1v1h-1zM3 4h1v1h-1z"/>
<path fill="#9fdbc1" d="M0 1h1v1h-1zM0 2h1v1h-1z"/>
<path fill="#7acbc8" d="M1 3h1v1h-1zM2 4h1v1h-1z"/>
<path fill="#57b3d4" d="M0 0h2v1h-2zM3 1h2v1h-2zM3 3h1v1h-1zM3 5h1v1h-1z"/>
<path fill="#3e8ec3" d="M1 1h1v1h-1zM5 1h1v1h-1z"/>
<path fill="#2d69aa" d="M2 3h1v1h-1zM2 5h1v1h-1z"/>
<path fill="#224891" d="M2 1h1v1h-1z"/>
</g>
<g transform="matrix(14.743 0 0 6.467 1024.03 372.53)" shape-rendering="crispEdges"><rect width="6" height="3" fill="#d8f0d2"/>
<path fill="#eaf7e4" d="M3 0h3v1h-3zM3 1h2v1h-2z"/>
</g>
<g transform="matrix(14.743 0 0 6.467 1024.03 395.60)" shape-rendering="crispEdges"><rect width="6" height="9" fill="#d8f0d2"/>
<path fill="#eaf7e4" d="M0 5h1v1h-1zM0 7h1v1h-1zM3 7h1v1h-1zM3 8h1v1h-1z"/>
<path fill="#bfe7c4" d="M1 0h4v1h-4zM1 2h1v1h-1zM0 4h1v1h-1zM1 5h3v1h-3zM0 6h2v1h-2zM4 8h1v1h-1z"/>
<path fill="#9fdbc1" d="M0 3h1v1h-1zM2 6h1v1h-1z"/>
<path fill="#7acbc8" d="M1 1h1v1h-1zM3 2h2v1h-2zM4 3h1v1h-1zM4 4h1v1h-1zM4 5h1v1h-1zM3 6h1v1h-1zM5 7h1v1h-1z"/>
<path fill="#57b3d4" d="M0 0h1v1h-1zM0 1h1v1h-1zM4 6h1v1h-1z"/>
<path fill="#3e8ec3" d="M5 0h1v1h-1zM5 1h1v1h-1zM2 2h1v1h-1zM5 2h1v1h-1zM5 3h1v1h-1zM5 4h1v1h-1zM5 5h1v1h-1z"/>
<path fill="#2d69aa" d="M4 1h1v1h-1zM5 8h1v1h-1z"/>
<path fill="#224891" d="M2 1h2v1h-2zM5 6h1v1h-1z"/>
</g>
<g transform="matrix(14.743 0 0 6.467 1024.03 457.47)" shape-rendering="crispEdges"><rect width="6" height="2" fill="#eaf7e4"/>
<path fill="#9fdbc1" d="M4 0h1v1h-1z"/>
<path fill="#57b3d4" d="M4 1h1v1h-1z"/>
<path fill="#224891" d="M5 0h1v1h-1zM5 1h1v1h-1z"/>
</g>
<g transform="matrix(14.743 0 0 6.467 1024.03 474.08)" shape-rendering="crispEdges"><rect width="6" height="5" fill="#d8f0d2"/>
<path fill="#eaf7e4" d="M3 0h2v1h-2z"/>
<path fill="#bfe7c4" d="M0 0h1v1h-1zM3 2h3v1h-3zM1 3h1v1h-1zM3 3h3v1h-3z"/>
<path fill="#9fdbc1" d="M1 1h2v1h-2zM1 2h2v1h-2zM2 3h1v1h-1z"/>
<path fill="#7acbc8" d="M0 1h1v1h-1z"/>
<path fill="#57b3d4" d="M0 2h1v1h-1z"/>
</g>
<g transform="matrix(14.743 0 0 6.467 1024.03 510.08)" shape-rendering="crispEdges"><rect width="6" height="10" fill="#eaf7e4"/>
<path fill="#f8fcf4" d="M0 4h6v1h-6zM0 8h1v1h-1z"/>
<path fill="#d8f0d2" d="M1 0h1v1h-1zM5 0h1v1h-1zM0 2h3v1h-3zM5 2h1v1h-1zM0 3h3v1h-3zM0 5h1v1h-1zM1 8h1v1h-1zM0 9h1v1h-1z"/>
<path fill="#9fdbc1" d="M0 6h1v1h-1z"/>
</g>
<g transform="matrix(14.743 0 0 6.467 1024.03 578.42)" shape-rendering="crispEdges"><rect width="6" height="9" fill="#eaf7e4"/>
<path fill="#f8fcf4" d="M0 3h1v1h-1z"/>
<path fill="#d8f0d2" d="M4 0h1v1h-1zM1 1h1v1h-1zM2 2h1v1h-1zM2 3h1v1h-1zM1 6h1v1h-1zM3 6h1v1h-1zM3 7h1v1h-1zM5 7h1v1h-1zM1 8h1v1h-1zM3 8h3v1h-3z"/>
<path fill="#bfe7c4" d="M0 0h3v1h-3zM2 1h1v1h-1zM0 2h1v1h-1zM5 2h1v1h-1zM2 4h1v1h-1zM2 5h1v1h-1zM2 6h1v1h-1zM1 7h2v1h-2zM4 7h1v1h-1zM2 8h1v1h-1z"/>
<path fill="#9fdbc1" d="M1 2h1v1h-1z"/>
</g>
<g transform="matrix(14.743 0 0 6.467 1024.03 640.29)" shape-rendering="crispEdges"><rect width="6" height="6" fill="#bfe7c4"/>
<path fill="#eaf7e4" d="M1 2h1v1h-1z"/>
<path fill="#9fdbc1" d="M0 1h1v1h-1zM0 2h1v1h-1zM4 2h2v1h-2zM0 3h2v1h-2zM4 3h1v1h-1zM2 5h2v1h-2z"/>
<path fill="#7acbc8" d="M4 0h1v1h-1zM4 1h1v1h-1zM1 4h1v1h-1zM4 4h1v1h-1z"/>
<path fill="#57b3d4" d="M1 0h1v1h-1zM5 0h1v1h-1zM5 1h1v1h-1zM2 2h1v1h-1zM5 3h1v1h-1z"/>
<path fill="#3e8ec3" d="M2 0h1v1h-1zM1 1h2v1h-2z"/>
</g>
<g transform="matrix(14.743 0 0 6.467 1024.03 682.77)" shape-rendering="crispEdges"><rect width="6" height="4" fill="#d8f0d2"/>
<path fill="#f8fcf4" d="M0 1h1v1h-1z"/>
<path fill="#eaf7e4" d="M3 1h3v1h-3zM3 2h3v1h-3zM3 3h3v1h-3z"/>
<path fill="#bfe7c4" d="M1 2h2v1h-2z"/>
<path fill="#7acbc8" d="M0 0h1v1h-1z"/>
</g>
<g transform="matrix(14.743 0 0 6.467 1024.03 712.30)" shape-rendering="crispEdges"><rect width="6" height="9" fill="#eaf7e4"/>
<path fill="#f8fcf4" d="M1 6h1v1h-1z"/>
<path fill="#d8f0d2" d="M1 0h1v1h-1zM1 2h1v1h-1zM5 2h1v1h-1zM5 3h1v1h-1zM1 4h2v1h-2zM5 4h1v1h-1zM0 5h1v1h-1zM5 5h1v1h-1zM2 7h1v1h-1zM5 7h1v1h-1zM0 8h3v1h-3zM5 8h1v1h-1z"/>
<path fill="#bfe7c4" d="M0 0h1v1h-1zM5 0h1v1h-1zM2 2h1v1h-1zM0 7h2v1h-2z"/>
<path fill="#9fdbc1" d="M0 4h1v1h-1z"/>
<path fill="#7acbc8" d="M0 2h1v1h-1z"/>
</g>
<g transform="matrix(14.743 0 0 6.467 1116.21 114.90)" shape-rendering="crispEdges"><rect width="6" height="12" fill="#eaf7e4"/>
<path fill="#f8fcf4" d="M0 10h1v1h-1z"/>
<path fill="#d8f0d2" d="M1 0h1v1h-1zM1 1h2v1h-2zM3 2h1v1h-1zM5 2h1v1h-1zM1 4h2v1h-2zM1 5h2v1h-2zM1 6h2v1h-2zM0 7h1v1h-1zM1 8h2v1h-2zM1 9h2v1h-2zM5 11h1v1h-1z"/>
<path fill="#bfe7c4" d="M2 0h1v1h-1zM1 2h2v1h-2zM1 3h2v1h-2zM1 7h2v1h-2z"/>
<path fill="#9fdbc1" d="M0 11h1v1h-1z"/>
<path fill="#7acbc8" d="M0 0h1v1h-1zM0 4h1v1h-1zM0 5h1v1h-1zM0 9h1v1h-1z"/>
<path fill="#57b3d4" d="M0 8h1v1h-1z"/>
<path fill="#3e8ec3" d="M0 2h1v1h-1zM0 3h1v1h-1z"/>
</g>
<g transform="matrix(14.743 0 0 6.467 1116.21 196.17)" shape-rendering="crispEdges"><rect width="6" height="9" fill="#eaf7e4"/>
<path fill="#f8fcf4" d="M0 0h1v1h-1zM0 1h1v1h-1zM0 3h1v1h-1zM3 4h3v1h-3z"/>
<path fill="#d8f0d2" d="M1 0h2v1h-2zM3 1h1v1h-1zM1 3h5v1h-5zM1 5h2v1h-2zM4 5h2v1h-2zM3 7h1v1h-1z"/>
<path fill="#bfe7c4" d="M0 2h1v1h-1zM0 5h1v1h-1zM0 6h1v1h-1zM4 7h1v1h-1z"/>
<path fill="#9fdbc1" d="M1 7h2v1h-2z"/>
<path fill="#7acbc8" d="M5 7h1v1h-1zM0 8h1v1h-1z"/>
</g>
<g transform="matrix(14.743 0 0 6.467 1116.21 258.05)" shape-rendering="crispEdges"><rect width="6" height="7" fill="#f8fcf4"/>
<path fill="#eaf7e4" d="M3 0h2v1h-2zM3 1h2v1h-2zM3 2h3v1h-3zM3 3h3v1h-3zM5 4h1v1h-1zM1 6h1v1h-1z"/>
<path fill="#d8f0d2" d="M2 0h1v1h-1zM0 1h3v1h-3zM2 3h1v1h-1zM3 4h2v1h-2z"/>
<path fill="#bfe7c4" d="M2 2h1v1h-1zM1 4h2v1h-2z"/>
<path fill="#9fdbc1" d="M1 0h1v1h-1zM1 2h1v1h-1zM1 3h1v1h-1z"/>
<path fill="#7acbc8" d="M0 0h1v1h-1z"/>
<path fill="#57b3d4" d="M0 4h1v1h-1z"/>
<path fill="#3e8ec3" d="M0 2h1v1h-1z"/>
<path fill="#2d69aa" d="M0 3h1v1h-1z"/>
</g>
<g transform="matrix(14.743 0 0 6.467 1116.21 306.99)" shape-rendering="crispEdges"><rect width="6" height="2" fill="#f8fcf4"/>
<path fill="#eaf7e4" d="M0 0h1v1h-1z"/>
</g>
<g transform="matrix(14.743 0 0 6.467 1116.21 323.59)" shape-rendering="crispEdges"><rect width="6" height="7" fill="#d8f0d2"/>
<path fill="#bfe7c4" d="M3 2h1v1h-1zM5 2h1v1h-1zM4 3h2v1h-2zM1 4h1v1h-1zM4 4h1v1h-1zM4 5h1v1h-1zM0 6h1v1h-1z"/>
<path fill="#9fdbc1" d="M2 0h1v1h-1zM3 1h2v1h-2zM3 4h1v1h-1z"/>
<path fill="#7acbc8" d="M5 1h1v1h-1zM1 2h2v1h-2zM2 4h1v1h-1zM3 5h1v1h-1z"/>
<path fill="#57b3d4" d="M1 0h1v1h-1zM1 3h1v1h-1zM3 3h1v1h-1z"/>
<path fill="#3e8ec3" d="M0 1h2v1h-2zM0 5h2v1h-2z"/>
<path fill="#2d69aa" d="M2 1h1v1h-1zM2 3h1v1h-1z"/>
<path fill="#224891" d="M0 3h1v1h-1zM0 4h1v1h-1zM2 5h1v1h-1z"/>
</g>
<g transform="matrix(14.743 0 0 6.467 1116.21 372.53)" shape-rendering="crispEdges"><rect width="6" height="3" fill="#eaf7e4"/>
<path fill="#d8f0d2" d="M0 0h1v1h-1zM1 2h5v1h-5z"/>
</g>
<g transform="matrix(14.743 0 0 6.467 1116.21 395.60)" shape-rendering="crispEdges"><rect width="6" height="9" fill="#d8f0d2"/>
<path fill="#f8fcf4" d="M0 8h1v1h-1z"/>
<path fill="#eaf7e4" d="M0 6h1v1h-1zM1 7h4v1h-4zM1 8h1v1h-1zM3 8h1v1h-1z"/>
<path fill="#bfe7c4" d="M1 0h4v1h-4zM0 2h2v1h-2zM3 2h1v1h-1zM3 3h1v1h-1zM4 8h1v1h-1z"/>
<path fill="#9fdbc1" d="M3 1h1v1h-1zM4 2h1v1h-1zM0 3h1v1h-1zM0 4h1v1h-1zM0 7h1v1h-1z"/>
<path fill="#7acbc8" d="M0 1h1v1h-1zM4 3h1v1h-1zM4 5h1v1h-1zM5 7h1v1h-1z"/>
<path fill="#57b3d4" d="M4 1h1v1h-1zM4 4h2v1h-2zM4 6h1v1h-1z"/>
<path fill="#3e8ec3" d="M0 0h1v1h-1zM5 0h1v1h-1zM1 1h2v1h-2zM5 1h1v1h-1zM2 2h1v1h-1zM5 2h1v1h-1zM5 3h1v1h-1zM5 5h1v1h-1z"/>
<path fill="#224891" d="M5 6h1v1h-1zM5 8h1v1h-1z"/>
</g>
<g transform="matrix(14.743 0 0 6.467 1116.21 457.47)" shape-rendering="crispEdges"><rect width="6" height="2" fill="#eaf7e4"/>
<path fill="#d8f0d2" d="M4 1h1v1h-1z"/>
<path fill="#bfe7c4" d="M4 0h1v1h-1z"/>
<path fill="#7acbc8" d="M5 1h1v1h-1z"/>
<path fill="#2d69aa" d="M5 0h1v1h-1z"/>
</g>
<g transform="matrix(14.743 0 0 6.467 1116.21 474.08)" shape-rendering="crispEdges"><rect width="6" height="5" fill="#d8f0d2"/>
<path fill="#eaf7e4" d="M4 0h1v1h-1z"/>
<path fill="#bfe7c4" d="M1 0h1v1h-1zM3 2h2v1h-2zM3 3h3v1h-3z"/>
<path fill="#7acbc8" d="M1 1h1v1h-1zM2 2h1v1h-1zM2 3h1v1h-1z"/>
<path fill="#57b3d4" d="M2 1h1v1h-1zM1 2h1v1h-1z"/>
<path fill="#224891" d="M0 0h1v1h-1zM0 1h1v1h-1zM0 2h1v1h-1zM0 3h1v1h-1zM0 4h1v1h-1z"/>
</g>
<g transform="matrix(14.743 0 0 6.467 1116.21 510.08)" shape-rendering="crispEdges"><rect width="6" height="10" fill="#eaf7e4"/>
<path fill="#f8fcf4" d="M0 4h6v1h-6zM0 5h1v1h-1z"/>
<path fill="#d8f0d2" d="M5 0h1v1h-1zM1 2h1v1h-1zM0 7h1v1h-1zM0 8h3v1h-3z"/>
<path fill="#bfe7c4" d="M1 0h2v1h-2zM0 2h1v1h-1z"/>
<path fill="#9fdbc1" d="M0 3h1v1h-1z"/>
<path fill="#3e8ec3" d="M0 0h1v1h-1z"/>
</g>
<g transform="matrix(14.743 0 0 6.467 1116.21 578.42)" shape-rendering="crispEdges"><rect width="6" height="9" fill="#d8f0d2"/>
<path fill="#f8fcf4" d="M0 0h1v1h-1zM0 3h1v1h-1z"/>
<path fill="#eaf7e4" d="M4 3h2v1h-2zM3 4h3v1h-3zM3 5h3v1h-3zM3 6h3v1h-3z"/>
<path fill="#bfe7c4" d="M2 0h1v1h-1zM4 7h1v1h-1zM1 8h2v1h-2zM4 8h1v1h-1z"/>
<path fill="#9fdbc1" d="M1 1h2v1h-2zM0 2h1v1h-1zM2 2h1v1h-1zM0 4h1v1h-1zM0 5h1v1h-1z"/>
<path fill="#7acbc8" d="M1 2h1v1h-1zM5 2h1v1h-1zM1 7h1v1h-1z"/>
<path fill="#57b3d4" d="M2 7h1v1h-1z"/>
<path fill="#3e8ec3" d="M0 1h1v1h-1zM0 6h1v1h-1z"/>
</g>
<g transform="matrix(14.743 0 0 6.467 1116.21 640.29)" shape-rendering="crispEdges"><rect width="6" height="6" fill="#7acbc8"/>
<path fill="#eaf7e4" d="M0 4h1v1h-1z"/>
<path fill="#bfe7c4" d="M3 0h1v1h-1zM3 1h1v1h-1zM3 2h1v1h-1zM3 3h1v1h-1zM3 4h1v1h-1zM1 5h1v1h-1zM4 5h1v1h-1z"/>
<path fill="#9fdbc1" d="M0 0h2v1h-2zM4 0h2v1h-2zM4 1h1v1h-1zM0 3h1v1h-1zM4 3h1v1h-1zM2 5h2v1h-2z"/>
<path fill="#57b3d4" d="M2 0h1v1h-1zM1 2h2v1h-2z"/>
<path fill="#3e8ec3" d="M1 1h2v1h-2zM0 5h1v1h-1z"/>
<path fill="#224891" d="M0 1h1v1h-1zM0 2h1v1h-1z"/>
</g>
<g transform="matrix(14.743 0 0 6.467 1116.21 682.77)" shape-rendering="crispEdges"><rect width="6" height="4" fill="#d8f0d2"/>
<path fill="#f8fcf4" d="M0 2h1v1h-1z"/>
<path fill="#eaf7e4" d="M0 1h1v1h-1zM3 1h3v1h-3zM0 3h1v1h-1z"/>
<path fill="#bfe7c4" d="M0 0h1v1h-1zM2 0h1v1h-1zM1 2h2v1h-2zM1 3h2v1h-2z"/>
</g>
<g transform="matrix(14.743 0 0 6.467 1116.21 712.30)" shape-rendering="crispEdges"><rect width="6" height="9" fill="#eaf7e4"/>
<path fill="#f8fcf4" d="M1 6h4v1h-4z"/>
<path fill="#d8f0d2" d="M1 0h2v1h-2zM3 2h3v1h-3zM1 4h3v1h-3zM5 4h1v1h-1zM0 7h1v1h-1zM3 7h3v1h-3zM1 8h4v1h-4z"/>
<path fill="#bfe7c4" d="M5 0h1v1h-1zM0 1h1v1h-1zM1 2h2v1h-2zM0 3h1v1h-1zM0 5h1v1h-1zM0 6h1v1h-1zM1 7h2v1h-2zM5 8h1v1h-1z"/>
<path fill="#9fdbc1" d="M0 4h1v1h-1z"/>
<path fill="#7acbc8" d="M0 2h1v1h-1z"/>
<path fill="#3e8ec3" d="M0 0h1v1h-1z"/>
</g>
<g transform="matrix(14.743 0 0 6.467 1208.40 114.90)" shape-rendering="crispEdges"><rect width="7" height="12" fill="#eaf7e4"/>
<path fill="#f8fcf4" d="M4 0h3v1h-3zM5 1h1v1h-1zM4 2h3v1h-3zM4 3h1v1h-1zM4 4h2v1h-2zM5 5h2v1h-2zM6 7h1v1h-1zM4 9h1v1h-1z"/>
<path fill="#d8f0d2" d="M0 0h3v1h-3zM0 1h4v1h-4zM6 1h1v1h-1zM0 3h1v1h-1zM3 3h1v1h-1zM1 7h2v1h-2zM5 8h1v1h-1zM0 9h4v1h-4zM0 10h2v1h-2zM0 11h2v1h-2z"/>
<path fill="#bfe7c4" d="M1 3h1v1h-1zM0 6h4v1h-4zM5 6h1v1h-1zM0 7h1v1h-1zM3 7h1v1h-1zM5 7h1v1h-1zM1 8h3v1h-3zM6 8h1v1h-1zM6 11h1v1h-1z"/>
<path fill="#7acbc8" d="M4 1h1v1h-1zM0 8h1v1h-1zM2 11h1v1h-1z"/>
<path fill="#57b3d4" d="M4 11h1v1h-1z"/>
<path fill="#2d69aa" d="M3 11h1v1h-1z"/>
</g>
<g transform="matrix(14.743 0 0 6.467 1208.40 196.17)" shape-rendering="crispEdges"><rect width="7" height="9" fill="#f8fcf4"/>
<path fill="#eaf7e4" d="M3 0h1v1h-1zM0 2h4v1h-4zM5 2h1v1h-1zM0 3h1v1h-1zM0 4h1v1h-1zM2 4h2v1h-2zM6 4h1v1h-1zM0 5h1v1h-1zM1 6h3v1h-3zM0 7h1v1h-1zM2 7h1v1h-1zM0 8h1v1h-1zM2 8h2v1h-2z"/>
<path fill="#d8f0d2" d="M1 3h3v1h-3zM1 4h1v1h-1zM1 5h2v1h-2zM6 8h1v1h-1z"/>
<path fill="#bfe7c4" d="M4 3h1v1h-1zM3 5h1v1h-1zM5 5h1v1h-1zM0 6h1v1h-1zM1 7h1v1h-1zM1 8h1v1h-1z"/>
<path fill="#9fdbc1" d="M6 5h1v1h-1z"/>
</g>
<g transform="matrix(14.743 0 0 6.467 1208.40 258.05)" shape-rendering="crispEdges"><rect width="7" height="7" fill="#f8fcf4"/>
<path fill="#eaf7e4" d="M6 3h1v1h-1zM4 5h1v1h-1z"/>
<path fill="#d8f0d2" d="M0 4h1v1h-1z"/>
</g>
<g transform="matrix(14.743 0 0 6.467 1208.40 306.99)" shape-rendering="crispEdges"><rect width="7" height="2" fill="#f8fcf4"/>
<path fill="#eaf7e4" d="M0 0h1v1h-1zM6 0h1v1h-1z"/>
</g>
<g transform="matrix(14.743 0 0 6.467 1208.40 323.59)" shape-rendering="crispEdges"><rect width="7" height="7" fill="#f8fcf4"/>
<path fill="#eaf7e4" d="M0 2h1v1h-1zM0 4h1v1h-1zM6 4h1v1h-1zM3 6h1v1h-1z"/>
<path fill="#d8f0d2" d="M0 6h1v1h-1z"/>
</g>
<g transform="matrix(14.743 0 0 6.467 1208.40 372.53)" shape-rendering="crispEdges"><rect width="7" height="3" fill="#f8fcf4"/>
<path fill="#d8f0d2" d="M6 2h1v1h-1z"/>
</g>
<g transform="matrix(14.743 0 0 6.467 1208.40 395.60)" shape-rendering="crispEdges"><rect width="7" height="9" fill="#f8fcf4"/>
<path fill="#eaf7e4" d="M0 2h1v1h-1zM2 2h2v1h-2zM1 4h1v1h-1zM3 4h1v1h-1zM1 5h1v1h-1zM5 5h1v1h-1zM0 6h1v1h-1zM2 7h1v1h-1z"/>
<path fill="#d8f0d2" d="M4 1h1v1h-1zM4 3h1v1h-1zM0 4h1v1h-1zM6 8h1v1h-1z"/>
</g>
<g transform="matrix(14.743 0 0 6.467 1208.40 457.47)" shape-rendering="crispEdges"><rect width="7" height="2" fill="#f8fcf4"/>
<path fill="#eaf7e4" d="M4 0h1v1h-1z"/>
</g>
<g transform="matrix(14.743 0 0 6.467 1208.40 474.08)" shape-rendering="crispEdges"><rect width="7" height="5" fill="#f8fcf4"/>
<path fill="#eaf7e4" d="M3 1h1v1h-1zM1 2h2v1h-2z"/>
<path fill="#d8f0d2" d="M3 2h1v1h-1z"/>
</g>
<g transform="matrix(14.743 0 0 6.467 1208.40 510.08)" shape-rendering="crispEdges"><rect width="7" height="10" fill="#f8fcf4"/>
<path fill="#eaf7e4" d="M4 0h1v1h-1zM6 3h1v1h-1zM0 6h1v1h-1zM0 7h1v1h-1zM4 7h1v1h-1zM0 8h2v1h-2zM2 9h1v1h-1z"/>
<path fill="#d8f0d2" d="M4 2h1v1h-1zM0 9h2v1h-2z"/>
</g>
<g transform="matrix(14.743 0 0 6.467 1208.40 578.42)" shape-rendering="crispEdges"><rect width="7" height="9" fill="#f8fcf4"/>
<path fill="#eaf7e4" d="M4 0h1v1h-1zM0 3h1v1h-1zM5 4h1v1h-1zM1 6h3v1h-3zM2 7h1v1h-1zM5 7h1v1h-1zM6 8h1v1h-1z"/>
<path fill="#d8f0d2" d="M0 0h1v1h-1zM0 1h1v1h-1zM5 6h1v1h-1zM0 7h1v1h-1zM4 7h1v1h-1z"/>
<path fill="#bfe7c4" d="M4 2h1v1h-1zM4 3h1v1h-1zM4 6h1v1h-1zM6 6h1v1h-1zM4 8h1v1h-1z"/>
<path fill="#9fdbc1" d="M4 1h1v1h-1z"/>
</g>
<g transform="matrix(14.743 0 0 6.467 1208.40 640.29)" shape-rendering="crispEdges"><rect width="7" height="6" fill="#f8fcf4"/>
<path fill="#eaf7e4" d="M6 1h1v1h-1zM2 2h1v1h-1zM4 2h1v1h-1zM6 2h1v1h-1zM4 3h1v1h-1zM2 4h1v1h-1zM1 5h1v1h-1z"/>
<path fill="#d8f0d2" d="M0 1h1v1h-1z"/>
</g>
<g transform="matrix(14.743 0 0 6.467 1208.40 682.77)" shape-rendering="crispEdges"><rect width="7" height="4" fill="#f8fcf4"/>
<path fill="#eaf7e4" d="M0 0h1v1h-1zM1 1h3v1h-3zM1 2h1v1h-1zM6 2h1v1h-1zM4 3h1v1h-1z"/>
<path fill="#d8f0d2" d="M0 1h1v1h-1zM0 3h1v1h-1z"/>
</g>
<g transform="matrix(14.743 0 0 6.467 1208.40 712.30)" shape-rendering="crispEdges"><rect width="7" height="9" fill="#f8fcf4"/>
<path fill="#eaf7e4" d="M0 1h1v1h-1zM0 4h1v1h-1zM6 4h1v1h-1zM6 5h1v1h-1zM2 7h1v1h-1zM0 8h1v1h-1z"/>
<path fill="#d8f0d2" d="M0 7h1v1h-1z"/>
<path fill="#57b3d4" d="M4 7h1v1h-1z"/>
</g>
<g transform="matrix(14.743 0 0 6.467 1315.33 114.90)" shape-rendering="crispEdges"><rect width="3" height="12" fill="#eaf7e4"/>
<path fill="#f8fcf4" d="M0 0h1v1h-1zM0 1h1v1h-1zM0 2h3v1h-3zM0 7h1v1h-1zM0 9h1v1h-1z"/>
<path fill="#d8f0d2" d="M2 1h1v1h-1zM1 3h2v1h-2zM1 4h2v1h-2zM0 6h2v1h-2zM0 10h1v1h-1z"/>
<path fill="#bfe7c4" d="M0 5h1v1h-1zM2 8h1v1h-1z"/>
<path fill="#9fdbc1" d="M2 9h1v1h-1z"/>
<path fill="#7acbc8" d="M0 3h1v1h-1zM0 4h1v1h-1zM2 6h1v1h-1z"/>
<path fill="#57b3d4" d="M0 8h1v1h-1zM0 11h2v1h-2z"/>
<path fill="#224891" d="M2 11h1v1h-1z"/>
</g>
<g transform="matrix(14.743 0 0 6.467 1315.33 196.17)" shape-rendering="crispEdges"><rect width="3" height="9" fill="#f8fcf4"/>
<path fill="#eaf7e4" d="M1 0h2v1h-2zM0 1h1v1h-1zM1 4h2v1h-2zM1 6h2v1h-2zM2 8h1v1h-1z"/>
<path fill="#d8f0d2" d="M1 3h2v1h-2zM1 5h1v1h-1zM1 7h2v1h-2zM1 8h1v1h-1z"/>
<path fill="#bfe7c4" d="M2 5h1v1h-1z"/>
</g>
<g transform="matrix(14.743 0 0 6.467 1315.33 258.05)" shape-rendering="crispEdges"><rect width="3" height="7" fill="#f8fcf4"/>
<path fill="#eaf7e4" d="M1 4h1v1h-1z"/>
<path fill="#d8f0d2" d="M0 1h1v1h-1zM0 3h1v1h-1z"/>
</g>
<g transform="matrix(14.743 0 0 6.467 1315.33 306.99)" shape-rendering="crispEdges"><rect width="3" height="2" fill="#f8fcf4"/>
<path fill="#d8f0d2" d="M0 1h1v1h-1z"/>
</g>
<g transform="matrix(14.743 0 0 6.467 1315.33 323.59)" shape-rendering="crispEdges"><rect width="3" height="7" fill="#f8fcf4"/>
<path fill="#eaf7e4" d="M0 1h1v1h-1zM1 2h1v1h-1zM0 5h1v1h-1zM1 6h1v1h-1z"/>
<path fill="#bfe7c4" d="M0 2h1v1h-1z"/>
<path fill="#57b3d4" d="M0 4h1v1h-1z"/>
</g>
<g transform="matrix(14.743 0 0 6.467 1315.33 372.53)" shape-rendering="crispEdges"><rect width="3" height="3" fill="#eaf7e4"/>
<path fill="#f8fcf4" d="M2 1h1v1h-1z"/>
<path fill="#d8f0d2" d="M1 0h1v1h-1z"/>
</g>
<g transform="matrix(14.743 0 0 6.467 1315.33 395.60)" shape-rendering="crispEdges"><rect width="3" height="9" fill="#f8fcf4"/>
<path fill="#eaf7e4" d="M1 1h2v1h-2zM1 5h1v1h-1zM1 6h1v1h-1zM2 7h1v1h-1zM2 8h1v1h-1z"/>
<path fill="#d8f0d2" d="M1 3h1v1h-1zM1 4h2v1h-2zM1 7h1v1h-1zM1 8h1v1h-1z"/>
<path fill="#bfe7c4" d="M0 8h1v1h-1z"/>
<path fill="#7acbc8" d="M0 1h1v1h-1z"/>
</g>
<g transform="matrix(14.743 0 0 6.467 1315.33 457.47)" shape-rendering="crispEdges"><rect width="3" height="2" fill="#f8fcf4"/>
<path fill="#eaf7e4" d="M1 1h1v1h-1z"/>
</g>
<g transform="matrix(14.743 0 0 6.467 1315.33 474.08)" shape-rendering="crispEdges"><rect width="3" height="5" fill="#f8fcf4"/>
<path fill="#eaf7e4" d="M0 0h1v1h-1z"/>
<path fill="#d8f0d2" d="M2 2h1v1h-1zM0 3h1v1h-1zM0 4h1v1h-1z"/>
<path fill="#bfe7c4" d="M1 2h1v1h-1zM1 3h2v1h-2z"/>
</g>
<g transform="matrix(14.743 0 0 6.467 1315.33 510.08)" shape-rendering="crispEdges"><rect width="3" height="10" fill="#eaf7e4"/>
<path fill="#f8fcf4" d="M0 0h3v1h-3zM1 1h2v1h-2zM0 2h3v1h-3zM2 3h1v1h-1zM0 4h1v1h-1zM0 6h1v1h-1z"/>
<path fill="#d8f0d2" d="M1 8h1v1h-1zM0 9h1v1h-1z"/>
</g>
<g transform="matrix(14.743 0 0 6.467 1315.33 578.42)" shape-rendering="crispEdges"><rect width="3" height="9" fill="#f8fcf4"/>
<path fill="#eaf7e4" d="M1 0h1v1h-1zM1 1h1v1h-1zM1 2h2v1h-2zM1 3h1v1h-1zM0 4h2v1h-2zM1 5h1v1h-1zM1 6h1v1h-1zM1 7h2v1h-2zM1 8h1v1h-1z"/>
</g>
<g transform="matrix(14.743 0 0 6.467 1315.33 640.29)" shape-rendering="crispEdges"><rect width="3" height="6" fill="#eaf7e4"/>
<path fill="#f8fcf4" d="M2 0h1v1h-1zM0 1h1v1h-1zM0 3h1v1h-1zM0 5h1v1h-1z"/>
<path fill="#d8f0d2" d="M1 3h2v1h-2zM1 4h1v1h-1z"/>
<path fill="#bfe7c4" d="M1 5h1v1h-1z"/>
<path fill="#2d69aa" d="M0 4h1v1h-1z"/>
</g>
<g transform="matrix(14.743 0 0 6.467 1315.33 682.77)" shape-rendering="crispEdges"><rect width="3" height="4" fill="#eaf7e4"/>
<path fill="#f8fcf4" d="M0 0h1v1h-1zM2 0h1v1h-1zM2 2h1v1h-1zM2 3h1v1h-1z"/>
<path fill="#bfe7c4" d="M2 1h1v1h-1z"/>
</g>
<g transform="matrix(14.743 0 0 6.467 1315.33 712.30)" shape-rendering="crispEdges"><rect width="3" height="9" fill="#eaf7e4"/>
<path fill="#f8fcf4" d="M0 1h1v1h-1zM2 1h1v1h-1zM0 6h3v1h-3z"/>
<path fill="#d8f0d2" d="M1 5h1v1h-1zM1 8h1v1h-1z"/>
<path fill="#bfe7c4" d="M0 0h2v1h-2zM1 4h1v1h-1zM0 5h1v1h-1z"/>
<path fill="#7acbc8" d="M2 2h1v1h-1zM1 3h1v1h-1zM0 4h1v1h-1z"/>
<path fill="#2d69aa" d="M1 2h1v1h-1z"/>
<path fill="#224891" d="M0 2h1v1h-1zM0 3h1v1h-1zM0 8h1v1h-1z"/>
</g>
<g transform="matrix(14.743 0 0 6.467 1363.29 114.90)" shape-rendering="crispEdges"><rect width="7" height="12" fill="#d8f0d2"/>
<path fill="#f8fcf4" d="M0 0h1v1h-1zM2 2h5v1h-5zM4 5h1v1h-1z"/>
<path fill="#eaf7e4" d="M1 0h3v1h-3zM5 0h2v1h-2zM4 1h3v1h-3zM0 2h2v1h-2z"/>
<path fill="#bfe7c4" d="M1 1h1v1h-1zM1 3h3v1h-3zM1 4h1v1h-1zM0 5h2v1h-2zM2 6h2v1h-2zM5 6h1v1h-1zM1 7h1v1h-1zM1 9h1v1h-1zM1 10h2v1h-2zM6 11h1v1h-1z"/>
<path fill="#9fdbc1" d="M0 4h1v1h-1zM0 6h1v1h-1zM0 7h1v1h-1zM2 8h5v1h-5zM2 11h4v1h-4z"/>
<path fill="#7acbc8" d="M1 6h1v1h-1zM1 11h1v1h-1z"/>
<path fill="#57b3d4" d="M0 1h1v1h-1zM1 8h1v1h-1zM0 10h1v1h-1z"/>
<path fill="#3e8ec3" d="M0 3h1v1h-1z"/>
<path fill="#2d69aa" d="M0 8h1v1h-1z"/>
<path fill="#224891" d="M0 9h1v1h-1z"/>
</g>
<g transform="matrix(14.743 0 0 6.467 1363.29 196.17)" shape-rendering="crispEdges"><rect width="7" height="9" fill="#f8fcf4"/>
<path fill="#eaf7e4" d="M0 2h1v1h-1zM2 3h1v1h-1zM4 3h3v1h-3zM1 5h5v1h-5zM2 6h2v1h-2zM5 6h1v1h-1zM0 8h6v1h-6z"/>
<path fill="#d8f0d2" d="M0 0h1v1h-1zM1 3h1v1h-1zM3 3h1v1h-1zM4 6h1v1h-1zM3 7h1v1h-1zM5 7h2v1h-2z"/>
<path fill="#bfe7c4" d="M1 6h1v1h-1zM1 7h2v1h-2zM4 7h1v1h-1z"/>
</g>
<g transform="matrix(14.743 0 0 6.467 1363.29 258.05)" shape-rendering="crispEdges"><rect width="7" height="7" fill="#f8fcf4"/>
<path fill="#eaf7e4" d="M0 3h1v1h-1zM2 3h1v1h-1zM0 4h1v1h-1z"/>
<path fill="#d8f0d2" d="M0 6h1v1h-1z"/>
</g>
<g transform="matrix(14.743 0 0 6.467 1363.29 306.99)" shape-rendering="crispEdges"><rect width="7" height="2" fill="#f8fcf4"/>
<path fill="#eaf7e4" d="M0 1h1v1h-1z"/>
</g>
<g transform="matrix(14.743 0 0 6.467 1363.29 323.59)" shape-rendering="crispEdges"><rect width="7" height="7" fill="#f8fcf4"/>
<path fill="#eaf7e4" d="M1 2h2v1h-2zM3 5h3v1h-3zM1 6h2v1h-2z"/>
<path fill="#bfe7c4" d="M0 2h1v1h-1z"/>
</g>
<g transform="matrix(14.743 0 0 6.467 1363.29 372.53)" shape-rendering="crispEdges"><rect width="7" height="3" fill="#f8fcf4"/>
<path fill="#eaf7e4" d="M0 0h1v1h-1zM4 0h2v1h-2zM0 1h1v1h-1zM4 2h1v1h-1z"/>
</g>
<g transform="matrix(14.743 0 0 6.467 1363.29 395.60)" shape-rendering="crispEdges"><rect width="7" height="9" fill="#f8fcf4"/>
<path fill="#eaf7e4" d="M1 1h2v1h-2zM4 1h2v1h-2zM0 3h1v1h-1zM0 4h7v1h-7zM1 5h6v1h-6zM0 6h1v1h-1zM1 7h1v1h-1zM4 7h1v1h-1zM6 7h1v1h-1zM0 8h1v1h-1zM3 8h4v1h-4z"/>
</g>
<g transform="matrix(14.743 0 0 6.467 1363.29 457.47)" shape-rendering="crispEdges"><rect width="7" height="2" fill="#f8fcf4"/>
<path fill="#eaf7e4" d="M0 0h1v1h-1zM2 1h2v1h-2z"/>
</g>
<g transform="matrix(14.743 0 0 6.467 1363.29 474.08)" shape-rendering="crispEdges"><rect width="7" height="5" fill="#f8fcf4"/>
<path fill="#eaf7e4" d="M2 0h4v1h-4zM3 2h1v1h-1zM5 2h1v1h-1zM1 3h4v1h-4z"/>
<path fill="#d8f0d2" d="M5 3h2v1h-2z"/>
<path fill="#bfe7c4" d="M0 0h2v1h-2zM4 2h1v1h-1z"/>
<path fill="#7acbc8" d="M0 3h1v1h-1z"/>
</g>
<g transform="matrix(14.743 0 0 6.467 1363.29 510.08)" shape-rendering="crispEdges"><rect width="7" height="10" fill="#f8fcf4"/>
<path fill="#eaf7e4" d="M2 0h4v1h-4zM0 3h1v1h-1zM0 4h1v1h-1zM2 5h1v1h-1zM4 5h3v1h-3zM3 6h1v1h-1zM2 8h4v1h-4zM0 9h1v1h-1zM3 9h3v1h-3z"/>
<path fill="#d8f0d2" d="M3 5h1v1h-1zM0 6h2v1h-2zM0 7h2v1h-2zM1 8h1v1h-1zM1 9h2v1h-2z"/>
<path fill="#bfe7c4" d="M0 0h2v1h-2zM0 5h2v1h-2z"/>
</g>
<g transform="matrix(14.743 0 0 6.467 1363.29 578.42)" shape-rendering="crispEdges"><rect width="7" height="9" fill="#f8fcf4"/>
<path fill="#eaf7e4" d="M1 0h1v1h-1zM3 0h1v1h-1zM5 0h1v1h-1zM1 1h2v1h-2zM4 1h2v1h-2zM4 4h1v1h-1zM6 6h1v1h-1zM2 7h4v1h-4zM1 8h3v1h-3zM5 8h2v1h-2z"/>
<path fill="#d8f0d2" d="M3 1h1v1h-1zM1 2h1v1h-1zM4 2h1v1h-1zM0 6h1v1h-1zM1 7h1v1h-1zM6 7h1v1h-1zM4 8h1v1h-1z"/>
<path fill="#224891" d="M0 2h1v1h-1z"/>
</g>
<g transform="matrix(14.743 0 0 6.467 1363.29 640.29)" shape-rendering="crispEdges"><rect width="7" height="6" fill="#eaf7e4"/>
<path fill="#f8fcf4" d="M1 0h6v1h-6zM1 1h1v1h-1zM6 1h1v1h-1zM0 2h7v1h-7zM1 4h1v1h-1zM0 5h1v1h-1z"/>
<path fill="#d8f0d2" d="M2 1h1v1h-1zM2 3h1v1h-1zM4 4h2v1h-2zM1 5h1v1h-1z"/>
<path fill="#bfe7c4" d="M1 3h1v1h-1z"/>
<path fill="#57b3d4" d="M0 3h1v1h-1z"/>
</g>
<g transform="matrix(14.743 0 0 6.467 1363.29 682.77)" shape-rendering="crispEdges"><rect width="7" height="4" fill="#eaf7e4"/>
<path fill="#f8fcf4" d="M1 0h6v1h-6zM4 1h2v1h-2zM6 3h1v1h-1z"/>
<path fill="#d8f0d2" d="M0 0h1v1h-1zM0 3h1v1h-1z"/>
<path fill="#bfe7c4" d="M0 1h1v1h-1zM0 2h1v1h-1z"/>
</g>
<g transform="matrix(14.743 0 0 6.467 1363.29 712.30)" shape-rendering="crispEdges"><rect width="7" height="9" fill="#d8f0d2"/>
<path fill="#f8fcf4" d="M0 5h1v1h-1zM0 6h7v1h-7zM4 7h1v1h-1zM6 7h1v1h-1z"/>
<path fill="#eaf7e4" d="M6 4h1v1h-1zM4 5h3v1h-3zM0 7h1v1h-1zM2 7h2v1h-2zM5 7h1v1h-1zM1 8h6v1h-6z"/>
<path fill="#bfe7c4" d="M2 2h1v1h-1zM4 2h1v1h-1zM6 2h1v1h-1zM0 3h1v1h-1zM2 3h3v1h-3zM2 4h2v1h-2z"/>
<path fill="#9fdbc1" d="M1 1h1v1h-1zM5 3h1v1h-1zM1 7h1v1h-1z"/>
<path fill="#7acbc8" d="M4 0h1v1h-1zM5 2h1v1h-1zM1 3h1v1h-1z"/>
<path fill="#57b3d4" d="M0 2h1v1h-1zM3 2h1v1h-1z"/>
<path fill="#3e8ec3" d="M1 4h1v1h-1zM0 8h1v1h-1z"/>
<path fill="#2d69aa" d="M0 0h1v1h-1zM3 0h1v1h-1z"/>
<path fill="#224891" d="M1 0h2v1h-2zM0 1h1v1h-1zM1 2h1v1h-1z"/>
</g>
<g transform="matrix(14.743 0 0 6.467 1470.22 114.90)" shape-rendering="crispEdges"><rect width="6" height="12" fill="#eaf7e4"/>
<path fill="#f8fcf4" d="M3 1h3v1h-3zM0 2h6v1h-6zM1 4h5v1h-5zM3 5h3v1h-3z"/>
<path fill="#d8f0d2" d="M0 6h3v1h-3zM1 7h1v1h-1zM4 7h1v1h-1zM1 8h3v1h-3zM5 8h1v1h-1zM0 9h1v1h-1zM0 10h1v1h-1zM5 11h1v1h-1z"/>
<path fill="#bfe7c4" d="M0 3h1v1h-1zM0 8h1v1h-1zM1 11h3v1h-3z"/>
<path fill="#9fdbc1" d="M0 11h1v1h-1zM4 11h1v1h-1z"/>
</g>
<g transform="matrix(14.743 0 0 6.467 1470.22 196.17)" shape-rendering="crispEdges"><rect width="6" height="9" fill="#f8fcf4"/>
<path fill="#eaf7e4" d="M3 3h1v1h-1zM0 4h2v1h-2zM0 5h5v1h-5zM0 6h5v1h-5zM1 7h2v1h-2zM1 8h2v1h-2z"/>
<path fill="#d8f0d2" d="M0 3h3v1h-3z"/>
<path fill="#bfe7c4" d="M0 7h1v1h-1z"/>
<path fill="#9fdbc1" d="M0 8h1v1h-1z"/>
</g>
<g transform="matrix(14.743 0 0 6.467 1470.22 258.05)" shape-rendering="crispEdges"><rect width="6" height="7" fill="#f8fcf4"/>
</g>
<g transform="matrix(14.743 0 0 6.467 1470.22 306.99)" shape-rendering="crispEdges"><rect width="6" height="2" fill="#f8fcf4"/>
</g>
<g transform="matrix(14.743 0 0 6.467 1470.22 323.59)" shape-rendering="crispEdges"><rect width="6" height="7" fill="#f8fcf4"/>
<path fill="#eaf7e4" d="M2 3h1v1h-1z"/>
</g>
<g transform="matrix(14.743 0 0 6.467 1470.22 372.53)" shape-rendering="crispEdges"><rect width="6" height="3" fill="#f8fcf4"/>
</g>
<g transform="matrix(14.743 0 0 6.467 1470.22 395.60)" shape-rendering="crispEdges"><rect width="6" height="9" fill="#f8fcf4"/>
<path fill="#eaf7e4" d="M0 2h2v1h-2zM4 2h1v1h-1zM0 5h1v1h-1zM0 6h1v1h-1zM0 7h1v1h-1z"/>
<path fill="#d8f0d2" d="M2 2h2v1h-2z"/>
</g>
<g transform="matrix(14.743 0 0 6.467 1470.22 457.47)" shape-rendering="crispEdges"><rect width="6" height="2" fill="#f8fcf4"/>
<path fill="#eaf7e4" d="M0 1h1v1h-1z"/>
</g>
<g transform="matrix(14.743 0 0 6.467 1470.22 474.08)" shape-rendering="crispEdges"><rect width="6" height="5" fill="#f8fcf4"/>
<path fill="#eaf7e4" d="M1 2h1v1h-1zM3 2h1v1h-1z"/>
<path fill="#d8f0d2" d="M2 2h1v1h-1z"/>
</g>
<g transform="matrix(14.743 0 0 6.467 1470.22 510.08)" shape-rendering="crispEdges"><rect width="6" height="10" fill="#f8fcf4"/>
</g>
<g transform="matrix(14.743 0 0 6.467 1470.22 578.42)" shape-rendering="crispEdges"><rect width="6" height="9" fill="#f8fcf4"/>
<path fill="#eaf7e4" d="M0 0h1v1h-1zM0 4h1v1h-1zM2 6h1v1h-1zM0 7h1v1h-1zM0 8h2v1h-2z"/>
</g>
<g transform="matrix(14.743 0 0 6.467 1470.22 640.29)" shape-rendering="crispEdges"><rect width="6" height="6" fill="#f8fcf4"/>
<path fill="#eaf7e4" d="M0 4h2v1h-2zM0 5h1v1h-1z"/>
</g>
<g transform="matrix(14.743 0 0 6.467 1470.22 682.77)" shape-rendering="crispEdges"><rect width="6" height="4" fill="#f8fcf4"/>
<path fill="#eaf7e4" d="M0 0h1v1h-1zM1 1h2v1h-2zM4 1h1v1h-1zM1 2h2v1h-2zM4 2h1v1h-1zM0 3h1v1h-1z"/>
<path fill="#d8f0d2" d="M0 1h1v1h-1zM0 2h1v1h-1z"/>
</g>
<g transform="matrix(14.743 0 0 6.467 1470.22 712.30)" shape-rendering="crispEdges"><rect width="6" height="9" fill="#f8fcf4"/>
<path fill="#eaf7e4" d="M0 2h1v1h-1zM0 3h2v1h-2zM0 7h1v1h-1z"/>
</g>
<g transform="matrix(14.743 0 0 6.467 1562.41 114.90)" shape-rendering="crispEdges"><rect width="3" height="12" fill="#2d69aa"/>
<path fill="#d8f0d2" d="M0 11h3v1h-3z"/>
<path fill="#bfe7c4" d="M0 5h1v1h-1zM0 9h1v1h-1z"/>
<path fill="#9fdbc1" d="M1 4h1v1h-1zM1 9h1v1h-1z"/>
<path fill="#7acbc8" d="M2 0h1v1h-1zM1 2h2v1h-2zM0 4h1v1h-1zM2 9h1v1h-1zM2 10h1v1h-1z"/>
<path fill="#57b3d4" d="M0 1h1v1h-1zM2 4h1v1h-1zM1 5h2v1h-2zM0 6h1v1h-1zM1 10h1v1h-1z"/>
<path fill="#3e8ec3" d="M0 0h1v1h-1zM2 3h1v1h-1zM2 6h1v1h-1zM0 7h2v1h-2z"/>
<path fill="#224891" d="M2 1h1v1h-1zM1 3h1v1h-1zM1 6h1v1h-1zM2 7h1v1h-1zM0 8h1v1h-1z"/>
</g>
<g transform="matrix(14.743 0 0 6.467 1562.41 196.17)" shape-rendering="crispEdges"><rect width="3" height="9" fill="#bfe7c4"/>
<path fill="#f8fcf4" d="M0 4h3v1h-3z"/>
<path fill="#eaf7e4" d="M2 3h1v1h-1z"/>
<path fill="#d8f0d2" d="M2 1h1v1h-1zM1 3h1v1h-1zM0 5h3v1h-3zM0 8h2v1h-2z"/>
<path fill="#9fdbc1" d="M1 2h1v1h-1z"/>
<path fill="#7acbc8" d="M0 0h1v1h-1zM2 0h1v1h-1zM1 6h2v1h-2z"/>
<path fill="#57b3d4" d="M1 0h1v1h-1zM0 6h1v1h-1zM1 7h1v1h-1z"/>
<path fill="#2d69aa" d="M2 7h1v1h-1z"/>
</g>
<g transform="matrix(14.743 0 0 6.467 1562.41 258.05)" shape-rendering="crispEdges"><rect width="3" height="7" fill="#f8fcf4"/>
<path fill="#eaf7e4" d="M1 1h2v1h-2zM1 3h1v1h-1zM0 4h2v1h-2z"/>
<path fill="#d8f0d2" d="M0 6h3v1h-3z"/>
<path fill="#bfe7c4" d="M0 5h1v1h-1zM2 5h1v1h-1z"/>
<path fill="#9fdbc1" d="M1 5h1v1h-1z"/>
</g>
<g transform="matrix(14.743 0 0 6.467 1562.41 306.99)" shape-rendering="crispEdges"><rect width="3" height="2" fill="#bfe7c4"/>
<path fill="#9fdbc1" d="M2 0h1v1h-1z"/>
<path fill="#57b3d4" d="M0 0h1v1h-1z"/>
<path fill="#224891" d="M1 0h1v1h-1z"/>
</g>
<g transform="matrix(14.743 0 0 6.467 1562.41 323.59)" shape-rendering="crispEdges"><rect width="3" height="7" fill="#eaf7e4"/>
<path fill="#f8fcf4" d="M0 0h3v1h-3zM0 3h1v1h-1z"/>
<path fill="#d8f0d2" d="M0 2h1v1h-1zM2 4h1v1h-1zM1 5h1v1h-1zM1 6h1v1h-1z"/>
<path fill="#bfe7c4" d="M1 1h2v1h-2zM0 4h1v1h-1zM0 5h1v1h-1zM2 5h1v1h-1zM0 6h1v1h-1z"/>
<path fill="#9fdbc1" d="M2 6h1v1h-1z"/>
</g>
<g transform="matrix(14.743 0 0 6.467 1562.41 372.53)" shape-rendering="crispEdges"><rect width="3" height="3" fill="#d8f0d2"/>
<path fill="#eaf7e4" d="M0 0h1v1h-1zM0 1h3v1h-3z"/>
</g>
<g transform="matrix(14.743 0 0 6.467 1562.41 395.60)" shape-rendering="crispEdges"><rect width="3" height="9" fill="#eaf7e4"/>
<path fill="#f8fcf4" d="M2 7h1v1h-1z"/>
<path fill="#d8f0d2" d="M0 1h1v1h-1zM2 1h1v1h-1zM2 3h1v1h-1zM1 4h2v1h-2zM1 5h1v1h-1zM1 6h1v1h-1z"/>
<path fill="#bfe7c4" d="M1 3h1v1h-1zM0 4h1v1h-1zM0 5h1v1h-1zM0 6h1v1h-1zM0 7h1v1h-1zM2 8h1v1h-1z"/>
<path fill="#9fdbc1" d="M0 8h1v1h-1z"/>
<path fill="#7acbc8" d="M1 8h1v1h-1z"/>
<path fill="#57b3d4" d="M2 5h1v1h-1z"/>
</g>
<g transform="matrix(14.743 0 0 6.467 1562.41 457.47)" shape-rendering="crispEdges"><rect width="3" height="2" fill="#eaf7e4"/>
<path fill="#d8f0d2" d="M1 0h1v1h-1zM0 1h1v1h-1z"/>
<path fill="#bfe7c4" d="M1 1h1v1h-1z"/>
</g>
<g transform="matrix(14.743 0 0 6.467 1562.41 474.08)" shape-rendering="crispEdges"><rect width="3" height="5" fill="#bfe7c4"/>
<path fill="#eaf7e4" d="M0 1h1v1h-1zM0 2h1v1h-1zM0 3h1v1h-1zM0 4h1v1h-1z"/>
<path fill="#d8f0d2" d="M2 2h1v1h-1z"/>
<path fill="#9fdbc1" d="M1 1h2v1h-2zM1 2h1v1h-1z"/>
<path fill="#7acbc8" d="M1 4h1v1h-1z"/>
</g>
<g transform="matrix(14.743 0 0 6.467 1562.41 510.08)" shape-rendering="crispEdges"><rect width="3" height="10" fill="#224891"/>
<path fill="#d8f0d2" d="M2 8h1v1h-1z"/>
<path fill="#bfe7c4" d="M0 2h1v1h-1z"/>
<path fill="#57b3d4" d="M0 0h1v1h-1zM0 1h1v1h-1zM2 6h1v1h-1zM1 7h1v1h-1zM0 8h2v1h-2zM2 9h1v1h-1z"/>
<path fill="#3e8ec3" d="M1 0h1v1h-1zM1 1h1v1h-1zM2 2h1v1h-1zM0 3h1v1h-1zM0 4h1v1h-1zM0 5h1v1h-1zM2 5h1v1h-1zM0 6h1v1h-1zM2 7h1v1h-1z"/>
<path fill="#2d69aa" d="M1 4h1v1h-1zM1 9h1v1h-1z"/>
</g>
<g transform="matrix(14.743 0 0 6.467 1562.41 578.42)" shape-rendering="crispEdges"><rect width="3" height="9" fill="#57b3d4"/>
<path fill="#d8f0d2" d="M0 6h2v1h-2z"/>
<path fill="#bfe7c4" d="M0 3h1v1h-1zM0 5h2v1h-2z"/>
<path fill="#9fdbc1" d="M1 0h2v1h-2zM1 3h1v1h-1z"/>
<path fill="#7acbc8" d="M1 2h1v1h-1zM0 4h2v1h-2zM1 8h1v1h-1z"/>
<path fill="#3e8ec3" d="M0 0h1v1h-1zM0 1h2v1h-2zM1 7h1v1h-1z"/>
<path fill="#2d69aa" d="M2 6h1v1h-1zM2 7h1v1h-1zM2 8h1v1h-1z"/>
<path fill="#224891" d="M2 3h1v1h-1zM2 4h1v1h-1zM2 5h1v1h-1z"/>
</g>
<g transform="matrix(14.743 0 0 6.467 1562.41 640.29)" shape-rendering="crispEdges"><rect width="3" height="6" fill="#bfe7c4"/>
<path fill="#d8f0d2" d="M0 5h1v1h-1z"/>
<path fill="#9fdbc1" d="M0 4h2v1h-2z"/>
<path fill="#7acbc8" d="M0 1h1v1h-1zM0 3h1v1h-1z"/>
<path fill="#57b3d4" d="M1 0h1v1h-1zM2 3h1v1h-1zM2 4h1v1h-1z"/>
<path fill="#3e8ec3" d="M1 1h2v1h-2zM1 3h1v1h-1z"/>
<path fill="#224891" d="M2 0h1v1h-1zM2 5h1v1h-1z"/>
</g>
<g transform="matrix(14.743 0 0 6.467 1562.41 682.77)" shape-rendering="crispEdges"><rect width="3" height="4" fill="#224891"/>
<path fill="#d8f0d2" d="M0 0h1v1h-1z"/>
<path fill="#bfe7c4" d="M1 0h2v1h-2z"/>
<path fill="#9fdbc1" d="M0 1h1v1h-1z"/>
<path fill="#7acbc8" d="M0 2h1v1h-1z"/>
<path fill="#57b3d4" d="M2 1h1v1h-1zM0 3h1v1h-1zM2 3h1v1h-1z"/>
<path fill="#2d69aa" d="M2 2h1v1h-1z"/>
</g>
<g transform="matrix(14.743 0 0 6.467 1562.41 712.30)" shape-rendering="crispEdges"><rect width="3" height="9" fill="#bfe7c4"/>
<path fill="#d8f0d2" d="M0 2h1v1h-1z"/>
<path fill="#9fdbc1" d="M2 0h1v1h-1zM1 2h1v1h-1zM0 7h2v1h-2z"/>
<path fill="#7acbc8" d="M0 0h1v1h-1zM2 4h1v1h-1zM2 5h1v1h-1z"/>
<path fill="#57b3d4" d="M0 3h1v1h-1zM1 4h1v1h-1z"/>
<path fill="#3e8ec3" d="M1 0h1v1h-1zM1 3h1v1h-1zM0 4h1v1h-1z"/>
<path fill="#2d69aa" d="M2 3h1v1h-1z"/>
</g>
<g transform="matrix(14.743 0 0 6.467 1610.37 114.90)" shape-rendering="crispEdges"><rect width="7" height="12" fill="#eaf7e4"/>
<path fill="#d8f0d2" d="M5 1h2v1h-2zM0 2h3v1h-3zM6 3h1v1h-1zM3 4h1v1h-1zM3 5h1v1h-1zM6 6h1v1h-1zM0 7h1v1h-1zM4 7h1v1h-1zM6 7h1v1h-1zM4 8h1v1h-1zM6 8h1v1h-1zM6 9h1v1h-1zM0 10h1v1h-1zM1 11h3v1h-3zM6 11h1v1h-1z"/>
<path fill="#bfe7c4" d="M2 0h2v1h-2zM2 1h2v1h-2zM2 3h2v1h-2zM0 4h3v1h-3zM2 5h1v1h-1zM2 6h2v1h-2zM3 7h1v1h-1zM3 8h1v1h-1zM2 9h2v1h-2zM2 10h2v1h-2z"/>
<path fill="#9fdbc1" d="M1 5h1v1h-1zM1 6h1v1h-1z"/>
<path fill="#7acbc8" d="M1 0h1v1h-1zM1 1h1v1h-1zM0 5h1v1h-1zM0 6h1v1h-1zM2 7h1v1h-1zM2 8h1v1h-1zM1 9h1v1h-1zM1 10h1v1h-1z"/>
<path fill="#57b3d4" d="M0 0h1v1h-1zM0 1h1v1h-1zM1 3h1v1h-1zM1 7h1v1h-1zM1 8h1v1h-1z"/>
<path fill="#3e8ec3" d="M0 3h1v1h-1zM0 8h1v1h-1z"/>
<path fill="#224891" d="M0 9h1v1h-1z"/>
</g>
<g transform="matrix(14.743 0 0 6.467 1610.37 196.17)" shape-rendering="crispEdges"><rect width="7" height="9" fill="#eaf7e4"/>
<path fill="#f8fcf4" d="M0 7h1v1h-1z"/>
<path fill="#d8f0d2" d="M1 0h3v1h-3zM2 1h3v1h-3zM1 2h4v1h-4zM1 3h4v1h-4zM1 5h1v1h-1zM2 7h1v1h-1zM1 8h2v1h-2zM5 8h2v1h-2z"/>
<path fill="#bfe7c4" d="M1 1h1v1h-1zM0 4h1v1h-1zM2 6h1v1h-1zM4 6h1v1h-1zM3 7h1v1h-1zM3 8h1v1h-1z"/>
<path fill="#9fdbc1" d="M3 6h1v1h-1z"/>
<path fill="#57b3d4" d="M1 6h1v1h-1zM1 7h1v1h-1z"/>
</g>
<g transform="matrix(14.743 0 0 6.467 1610.37 258.05)" shape-rendering="crispEdges"><rect width="7" height="7" fill="#f8fcf4"/>
<path fill="#eaf7e4" d="M1 0h2v1h-2zM0 1h3v1h-3zM1 3h4v1h-4zM1 4h5v1h-5zM0 5h4v1h-4zM0 6h4v1h-4z"/>
<path fill="#bfe7c4" d="M0 3h1v1h-1zM0 4h1v1h-1z"/>
</g>
<g transform="matrix(14.743 0 0 6.467 1610.37 306.99)" shape-rendering="crispEdges"><rect width="7" height="2" fill="#eaf7e4"/>
<path fill="#f8fcf4" d="M4 0h3v1h-3zM5 1h2v1h-2z"/>
</g>
<g transform="matrix(14.743 0 0 6.467 1610.37 323.59)" shape-rendering="crispEdges"><rect width="7" height="7" fill="#eaf7e4"/>
<path fill="#f8fcf4" d="M5 0h2v1h-2zM5 2h2v1h-2zM0 3h1v1h-1z"/>
<path fill="#d8f0d2" d="M2 0h1v1h-1zM1 1h1v1h-1zM3 1h1v1h-1zM1 2h3v1h-3zM1 3h1v1h-1zM2 4h2v1h-2zM0 5h2v1h-2zM4 5h1v1h-1zM1 6h3v1h-3z"/>
<path fill="#bfe7c4" d="M2 1h1v1h-1zM2 3h2v1h-2zM1 4h1v1h-1z"/>
<path fill="#9fdbc1" d="M5 5h2v1h-2zM0 6h1v1h-1z"/>
<path fill="#7acbc8" d="M0 2h1v1h-1z"/>
<path fill="#57b3d4" d="M2 5h1v1h-1z"/>
<path fill="#3e8ec3" d="M3 5h1v1h-1z"/>
</g>
<g transform="matrix(14.743 0 0 6.467 1610.37 372.53)" shape-rendering="crispEdges"><rect width="7" height="3" fill="#eaf7e4"/>
<path fill="#f8fcf4" d="M0 1h1v1h-1z"/>
<path fill="#d8f0d2" d="M5 1h1v1h-1zM0 2h1v1h-1zM2 2h2v1h-2zM6 2h1v1h-1z"/>
<path fill="#bfe7c4" d="M0 0h1v1h-1zM6 1h1v1h-1z"/>
</g>
<g transform="matrix(14.743 0 0 6.467 1610.37 395.60)" shape-rendering="crispEdges"><rect width="7" height="9" fill="#d8f0d2"/>
<path fill="#f8fcf4" d="M0 6h1v1h-1z"/>
<path fill="#eaf7e4" d="M0 0h1v1h-1zM0 2h2v1h-2zM4 2h1v1h-1zM0 4h1v1h-1zM0 7h3v1h-3zM0 8h2v1h-2z"/>
<path fill="#bfe7c4" d="M1 1h1v1h-1zM0 3h4v1h-4zM6 3h1v1h-1zM2 4h2v1h-2zM6 4h1v1h-1zM1 5h3v1h-3zM3 6h1v1h-1zM6 6h1v1h-1zM5 8h2v1h-2z"/>
<path fill="#9fdbc1" d="M2 1h5v1h-5zM6 5h1v1h-1z"/>
<path fill="#3e8ec3" d="M0 1h1v1h-1z"/>
</g>
<g transform="matrix(14.743 0 0 6.467 1610.37 457.47)" shape-rendering="crispEdges"><rect width="7" height="2" fill="#eaf7e4"/>
<path fill="#d8f0d2" d="M0 1h4v1h-4z"/>
</g>
<g transform="matrix(14.743 0 0 6.467 1610.37 474.08)" shape-rendering="crispEdges"><rect width="7" height="5" fill="#eaf7e4"/>
<path fill="#d8f0d2" d="M2 0h3v1h-3zM1 1h2v1h-2zM0 2h3v1h-3zM4 2h1v1h-1zM2 3h3v1h-3zM6 3h1v1h-1zM2 4h2v1h-2z"/>
<path fill="#bfe7c4" d="M1 0h1v1h-1zM1 4h1v1h-1z"/>
<path fill="#9fdbc1" d="M3 1h1v1h-1zM3 2h1v1h-1zM1 3h1v1h-1z"/>
</g>
<g transform="matrix(14.743 0 0 6.467 1610.37 510.08)" shape-rendering="crispEdges"><rect width="7" height="10" fill="#eaf7e4"/>
<path fill="#d8f0d2" d="M1 1h2v1h-2zM1 2h2v1h-2zM2 3h1v1h-1zM0 4h3v1h-3zM3 7h1v1h-1zM3 9h1v1h-1zM6 9h1v1h-1z"/>
<path fill="#bfe7c4" d="M0 0h3v1h-3zM0 3h1v1h-1zM3 5h1v1h-1zM2 6h2v1h-2zM2 7h1v1h-1zM2 8h2v1h-2zM1 9h2v1h-2z"/>
<path fill="#9fdbc1" d="M0 2h1v1h-1zM2 5h1v1h-1zM0 7h2v1h-2zM1 8h1v1h-1z"/>
<path fill="#7acbc8" d="M0 1h1v1h-1zM0 5h1v1h-1z"/>
<path fill="#57b3d4" d="M1 3h1v1h-1zM1 6h1v1h-1z"/>
<path fill="#3e8ec3" d="M1 5h1v1h-1zM0 6h1v1h-1z"/>
<path fill="#224891" d="M0 8h1v1h-1zM0 9h1v1h-1z"/>
</g>
<g transform="matrix(14.743 0 0 6.467 1610.37 578.42)" shape-rendering="crispEdges"><rect width="7" height="9" fill="#bfe7c4"/>
<path fill="#f8fcf4" d="M4 3h1v1h-1z"/>
<path fill="#eaf7e4" d="M5 1h2v1h-2zM5 2h2v1h-2zM0 3h2v1h-2zM5 3h2v1h-2zM4 4h3v1h-3zM4 5h3v1h-3z"/>
<path fill="#d8f0d2" d="M4 0h1v1h-1zM6 0h1v1h-1zM4 1h1v1h-1zM4 2h1v1h-1zM3 3h1v1h-1zM3 4h1v1h-1zM1 5h1v1h-1zM3 5h1v1h-1zM4 7h3v1h-3zM4 8h3v1h-3z"/>
<path fill="#9fdbc1" d="M1 2h2v1h-2zM2 3h1v1h-1z"/>
<path fill="#7acbc8" d="M1 1h1v1h-1zM1 4h1v1h-1zM1 6h1v1h-1zM5 6h1v1h-1zM0 7h1v1h-1z"/>
<path fill="#57b3d4" d="M0 0h1v1h-1zM0 4h1v1h-1zM6 6h1v1h-1z"/>
<path fill="#3e8ec3" d="M1 0h1v1h-1zM0 2h1v1h-1zM3 6h1v1h-1z"/>
<path fill="#2d69aa" d="M0 6h1v1h-1zM4 6h1v1h-1z"/>
<path fill="#224891" d="M0 1h1v1h-1zM2 6h1v1h-1zM0 8h1v1h-1z"/>
</g>
<g transform="matrix(14.743 0 0 6.467 1610.37 640.29)" shape-rendering="crispEdges"><rect width="7" height="6" fill="#d8f0d2"/>
<path fill="#eaf7e4" d="M6 0h1v1h-1zM6 1h1v1h-1zM6 2h1v1h-1zM6 3h1v1h-1z"/>
<path fill="#bfe7c4" d="M2 0h2v1h-2zM1 2h1v1h-1zM5 2h1v1h-1zM0 3h1v1h-1zM2 3h1v1h-1zM1 4h2v1h-2z"/>
<path fill="#7acbc8" d="M3 3h1v1h-1zM0 4h1v1h-1zM3 4h1v1h-1zM3 5h1v1h-1z"/>
<path fill="#57b3d4" d="M2 1h2v1h-2z"/>
<path fill="#3e8ec3" d="M1 1h1v1h-1z"/>
<path fill="#224891" d="M1 3h1v1h-1z"/>
</g>
<g transform="matrix(14.743 0 0 6.467 1610.37 682.77)" shape-rendering="crispEdges"><rect width="7" height="4" fill="#d8f0d2"/>
<path fill="#f8fcf4" d="M4 1h1v1h-1z"/>
<path fill="#eaf7e4" d="M6 1h1v1h-1z"/>
<path fill="#bfe7c4" d="M3 0h1v1h-1zM2 1h2v1h-2zM0 2h4v1h-4z"/>
<path fill="#7acbc8" d="M1 0h2v1h-2zM1 1h1v1h-1z"/>
<path fill="#57b3d4" d="M0 1h1v1h-1z"/>
<path fill="#2d69aa" d="M0 0h1v1h-1z"/>
</g>
<g transform="matrix(14.743 0 0 6.467 1610.37 712.30)" shape-rendering="crispEdges"><rect width="7" height="9" fill="#eaf7e4"/>
<path fill="#f8fcf4" d="M0 5h1v1h-1zM0 7h1v1h-1z"/>
<path fill="#d8f0d2" d="M0 1h4v1h-4zM0 2h2v1h-2zM4 4h1v1h-1zM4 5h1v1h-1zM4 6h1v1h-1zM4 7h1v1h-1zM3 8h4v1h-4z"/>
<path fill="#bfe7c4" d="M2 0h2v1h-2zM2 2h2v1h-2zM6 2h1v1h-1zM1 3h3v1h-3zM2 4h1v1h-1zM2 5h1v1h-1zM0 6h1v1h-1zM2 6h2v1h-2zM1 8h2v1h-2z"/>
<path fill="#9fdbc1" d="M0 4h1v1h-1zM3 4h1v1h-1zM3 5h1v1h-1zM1 6h1v1h-1zM3 7h1v1h-1z"/>
<path fill="#7acbc8" d="M0 0h2v1h-2zM1 7h2v1h-2z"/>
<path fill="#57b3d4" d="M0 3h1v1h-1z"/>
<path fill="#3e8ec3" d="M1 4h1v1h-1zM1 5h1v1h-1z"/>
</g>
<g transform="matrix(14.743 0 0 6.467 1717.30 114.90)" shape-rendering="crispEdges"><rect width="7" height="12" fill="#eaf7e4"/>
<path fill="#f8fcf4" d="M0 2h1v1h-1z"/>
<path fill="#d8f0d2" d="M3 0h1v1h-1zM3 1h1v1h-1zM5 1h1v1h-1zM2 2h1v1h-1zM3 3h1v1h-1zM6 3h1v1h-1zM2 4h2v1h-2zM2 5h2v1h-2zM3 6h1v1h-1zM6 6h1v1h-1zM2 7h2v1h-2zM6 7h1v1h-1zM3 8h1v1h-1zM2 9h2v1h-2zM6 9h1v1h-1zM0 10h1v1h-1zM2 10h2v1h-2zM6 10h1v1h-1zM6 11h1v1h-1z"/>
<path fill="#bfe7c4" d="M1 0h2v1h-2zM2 1h1v1h-1zM2 3h1v1h-1zM0 4h1v1h-1zM1 5h1v1h-1zM0 6h3v1h-3z"/>
<path fill="#9fdbc1" d="M1 2h1v1h-1zM0 8h1v1h-1zM2 8h1v1h-1z"/>
<path fill="#7acbc8" d="M1 1h1v1h-1zM1 3h1v1h-1zM1 4h1v1h-1zM0 5h1v1h-1zM1 7h1v1h-1zM1 8h1v1h-1zM1 9h1v1h-1zM1 10h1v1h-1z"/>
<path fill="#57b3d4" d="M0 3h1v1h-1zM0 7h1v1h-1z"/>
<path fill="#3e8ec3" d="M0 0h1v1h-1z"/>
<path fill="#224891" d="M0 1h1v1h-1z"/>
</g>
<g transform="matrix(14.743 0 0 6.467 1717.30 196.17)" shape-rendering="crispEdges"><rect width="7" height="9" fill="#eaf7e4"/>
<path fill="#d8f0d2" d="M2 0h1v1h-1zM0 1h1v1h-1zM2 1h1v1h-1zM3 2h1v1h-1zM3 3h1v1h-1zM5 6h2v1h-2zM3 7h4v1h-4zM1 8h1v1h-1zM3 8h1v1h-1zM5 8h2v1h-2z"/>
<path fill="#bfe7c4" d="M1 0h1v1h-1zM1 1h1v1h-1zM0 2h1v1h-1zM2 2h1v1h-1zM1 3h2v1h-2zM3 6h1v1h-1z"/>
<path fill="#9fdbc1" d="M1 2h1v1h-1zM2 6h1v1h-1zM4 6h1v1h-1zM2 7h1v1h-1z"/>
<path fill="#7acbc8" d="M1 7h1v1h-1zM0 8h1v1h-1z"/>
<path fill="#57b3d4" d="M0 7h1v1h-1z"/>
<path fill="#3e8ec3" d="M0 6h2v1h-2z"/>
</g>
<g transform="matrix(14.743 0 0 6.467 1717.30 258.05)" shape-rendering="crispEdges"><rect width="7" height="7" fill="#f8fcf4"/>
<path fill="#eaf7e4" d="M1 0h2v1h-2zM0 1h4v1h-4zM1 2h1v1h-1zM1 3h1v1h-1zM0 4h3v1h-3zM4 4h2v1h-2zM0 5h4v1h-4zM0 6h1v1h-1z"/>
<path fill="#d8f0d2" d="M1 6h3v1h-3z"/>
<path fill="#bfe7c4" d="M0 3h1v1h-1z"/>
</g>
<g transform="matrix(14.743 0 0 6.467 1717.30 306.99)" shape-rendering="crispEdges"><rect width="7" height="2" fill="#eaf7e4"/>
<path fill="#f8fcf4" d="M4 0h3v1h-3zM6 1h1v1h-1z"/>
</g>
<g transform="matrix(14.743 0 0 6.467 1717.30 323.59)" shape-rendering="crispEdges"><rect width="7" height="7" fill="#eaf7e4"/>
<path fill="#f8fcf4" d="M0 3h1v1h-1z"/>
<path fill="#d8f0d2" d="M1 1h1v1h-1zM3 1h2v1h-2zM0 2h4v1h-4zM1 3h1v1h-1zM2 4h1v1h-1zM6 5h1v1h-1z"/>
<path fill="#bfe7c4" d="M2 1h1v1h-1z"/>
<path fill="#9fdbc1" d="M3 5h3v1h-3z"/>
<path fill="#7acbc8" d="M6 1h1v1h-1z"/>
<path fill="#57b3d4" d="M1 5h2v1h-2z"/>
<path fill="#3e8ec3" d="M0 5h1v1h-1z"/>
</g>
<g transform="matrix(14.743 0 0 6.467 1717.30 372.53)" shape-rendering="crispEdges"><rect width="7" height="3" fill="#eaf7e4"/>
<path fill="#f8fcf4" d="M0 1h1v1h-1zM0 2h1v1h-1z"/>
<path fill="#d8f0d2" d="M5 2h1v1h-1z"/>
<path fill="#9fdbc1" d="M0 0h1v1h-1z"/>
</g>
<g transform="matrix(14.743 0 0 6.467 1717.30 395.60)" shape-rendering="crispEdges"><rect width="7" height="9" fill="#d8f0d2"/>
<path fill="#eaf7e4" d="M0 0h1v1h-1zM0 2h1v1h-1zM0 3h1v1h-1zM0 4h1v1h-1zM0 5h1v1h-1zM4 7h1v1h-1zM4 8h1v1h-1z"/>
<path fill="#bfe7c4" d="M1 0h2v1h-2zM3 4h2v1h-2zM2 5h1v1h-1zM5 5h1v1h-1zM6 6h1v1h-1zM2 7h1v1h-1zM0 8h1v1h-1zM5 8h1v1h-1z"/>
<path fill="#9fdbc1" d="M4 1h3v1h-3zM3 3h1v1h-1zM1 4h1v1h-1zM1 8h1v1h-1zM6 8h1v1h-1z"/>
<path fill="#7acbc8" d="M1 1h3v1h-3zM6 5h1v1h-1z"/>
<path fill="#57b3d4" d="M1 3h1v1h-1zM6 3h1v1h-1zM6 4h1v1h-1z"/>
<path fill="#2d69aa" d="M0 1h1v1h-1z"/>
</g>
<g transform="matrix(14.743 0 0 6.467 1717.30 457.47)" shape-rendering="crispEdges"><rect width="7" height="2" fill="#eaf7e4"/>
<path fill="#d8f0d2" d="M0 0h1v1h-1z"/>
</g>
<g transform="matrix(14.743 0 0 6.467 1717.30 474.08)" shape-rendering="crispEdges"><rect width="7" height="5" fill="#d8f0d2"/>
<path fill="#eaf7e4" d="M5 0h2v1h-2zM6 1h1v1h-1zM6 2h1v1h-1zM0 3h1v1h-1zM5 3h1v1h-1zM0 4h1v1h-1zM5 4h2v1h-2z"/>
<path fill="#7acbc8" d="M1 0h1v1h-1zM0 1h1v1h-1zM0 2h2v1h-2z"/>
</g>
<g transform="matrix(14.743 0 0 6.467 1717.30 510.08)" shape-rendering="crispEdges"><rect width="7" height="10" fill="#eaf7e4"/>
<path fill="#d8f0d2" d="M3 0h1v1h-1zM3 1h1v1h-1zM3 2h1v1h-1zM3 3h1v1h-1zM0 4h2v1h-2zM5 5h1v1h-1zM3 6h3v1h-3zM3 7h1v1h-1zM4 8h1v1h-1zM3 9h1v1h-1zM6 9h1v1h-1z"/>
<path fill="#bfe7c4" d="M0 1h3v1h-3zM2 2h1v1h-1zM2 3h1v1h-1zM2 4h1v1h-1zM2 5h2v1h-2zM2 6h1v1h-1zM2 7h1v1h-1zM2 8h2v1h-2zM2 9h1v1h-1z"/>
<path fill="#9fdbc1" d="M2 0h1v1h-1zM1 9h1v1h-1z"/>
<path fill="#7acbc8" d="M0 0h1v1h-1zM1 3h1v1h-1zM1 5h1v1h-1zM0 6h2v1h-2zM0 7h2v1h-2z"/>
<path fill="#57b3d4" d="M1 0h1v1h-1zM0 8h1v1h-1z"/>
<path fill="#3e8ec3" d="M1 2h1v1h-1zM0 3h1v1h-1zM1 8h1v1h-1zM0 9h1v1h-1z"/>
<path fill="#2d69aa" d="M0 2h1v1h-1z"/>
<path fill="#224891" d="M0 5h1v1h-1z"/>
</g>
<g transform="matrix(14.743 0 0 6.467 1717.30 578.42)" shape-rendering="crispEdges"><rect width="7" height="9" fill="#bfe7c4"/>
<path fill="#f8fcf4" d="M0 6h1v1h-1z"/>
<path fill="#eaf7e4" d="M5 3h2v1h-2zM6 4h1v1h-1z"/>
<path fill="#d8f0d2" d="M5 0h2v1h-2zM5 1h1v1h-1zM0 3h1v1h-1zM3 3h2v1h-2zM0 4h1v1h-1zM4 4h2v1h-2zM1 5h1v1h-1zM4 5h3v1h-3zM5 7h2v1h-2zM5 8h2v1h-2z"/>
<path fill="#9fdbc1" d="M1 3h1v1h-1zM0 5h1v1h-1zM3 6h1v1h-1zM6 6h1v1h-1zM4 7h1v1h-1zM1 8h1v1h-1z"/>
<path fill="#7acbc8" d="M1 1h3v1h-3zM2 2h2v1h-2zM2 6h1v1h-1zM2 7h1v1h-1zM2 8h1v1h-1z"/>
<path fill="#57b3d4" d="M0 8h1v1h-1z"/>
<path fill="#3e8ec3" d="M0 1h1v1h-1zM1 2h1v1h-1z"/>
<path fill="#2d69aa" d="M1 0h1v1h-1z"/>
<path fill="#224891" d="M0 0h1v1h-1zM0 2h1v1h-1zM0 7h1v1h-1z"/>
</g>
<g transform="matrix(14.743 0 0 6.467 1717.30 640.29)" shape-rendering="crispEdges"><rect width="7" height="6" fill="#d8f0d2"/>
<path fill="#eaf7e4" d="M5 2h2v1h-2z"/>
<path fill="#bfe7c4" d="M4 0h1v1h-1zM2 3h1v1h-1zM2 4h2v1h-2zM1 5h1v1h-1zM3 5h1v1h-1z"/>
<path fill="#9fdbc1" d="M3 3h1v1h-1zM5 4h1v1h-1z"/>
<path fill="#7acbc8" d="M3 0h1v1h-1zM6 1h1v1h-1zM0 4h1v1h-1z"/>
<path fill="#57b3d4" d="M1 0h2v1h-2zM0 1h2v1h-2zM3 1h1v1h-1zM0 2h1v1h-1zM0 3h2v1h-2z"/>
<path fill="#3e8ec3" d="M0 0h1v1h-1zM2 1h1v1h-1zM1 4h1v1h-1z"/>
</g>
<g transform="matrix(14.743 0 0 6.467 1717.30 682.77)" shape-rendering="crispEdges"><rect width="7" height="4" fill="#d8f0d2"/>
<path fill="#eaf7e4" d="M6 1h1v1h-1zM6 2h1v1h-1z"/>
<path fill="#bfe7c4" d="M0 0h5v1h-5zM4 2h1v1h-1zM1 3h2v1h-2z"/>
<path fill="#9fdbc1" d="M0 2h1v1h-1z"/>
<path fill="#7acbc8" d="M2 2h2v1h-2z"/>
<path fill="#57b3d4" d="M1 2h1v1h-1zM0 3h1v1h-1z"/>
</g>
<g transform="matrix(14.743 0 0 6.467 1717.30 712.30)" shape-rendering="crispEdges"><rect width="7" height="9" fill="#d8f0d2"/>
<path fill="#eaf7e4" d="M0 1h1v1h-1zM6 1h1v1h-1z"/>
<path fill="#bfe7c4" d="M3 0h1v1h-1zM2 1h2v1h-2zM0 2h1v1h-1zM2 2h2v1h-2zM0 3h1v1h-1zM2 3h2v1h-2zM2 4h2v1h-2zM2 5h2v1h-2zM2 6h1v1h-1zM6 6h1v1h-1zM2 7h2v1h-2zM1 8h3v1h-3zM5 8h2v1h-2z"/>
<path fill="#9fdbc1" d="M2 0h1v1h-1zM1 2h1v1h-1zM1 3h1v1h-1zM4 7h1v1h-1z"/>
<path fill="#7acbc8" d="M0 0h1v1h-1zM0 4h1v1h-1zM1 5h1v1h-1z"/>
<path fill="#57b3d4" d="M1 0h1v1h-1zM1 6h1v1h-1zM1 7h1v1h-1z"/>
<path fill="#224891" d="M1 4h1v1h-1zM0 5h1v1h-1zM0 6h1v1h-1zM0 7h1v1h-1z"/>
</g>
<text transform="translate(54.5,153.7) rotate(-90)" font-size="18.5" text-anchor="middle">1</text>
<text transform="translate(54.5,225.3) rotate(-90)" font-size="18.5" text-anchor="middle">2</text>
<text transform="translate(54.5,280.7) rotate(-90)" font-size="18.5" text-anchor="middle">3</text>
<text transform="translate(54.5,313.5) rotate(-90)" font-size="18.5" text-anchor="middle">4</text>
<text transform="translate(54.5,346.2) rotate(-90)" font-size="18.5" text-anchor="middle">5</text>
<text transform="translate(54.5,382.2) rotate(-90)" font-size="18.5" text-anchor="middle">6</text>
<text transform="translate(54.5,424.7) rotate(-90)" font-size="18.5" text-anchor="middle">7</text>
<text transform="translate(54.5,463.9) rotate(-90)" font-size="18.5" text-anchor="middle">8</text>
<text transform="translate(54.5,490.2) rotate(-90)" font-size="18.5" text-anchor="middle">9</text>
<text transform="translate(54.5,542.4) rotate(-90)" font-size="18.5" text-anchor="middle">10</text>
<text transform="translate(54.5,607.5) rotate(-90)" font-size="18.5" text-anchor="middle">11</text>
<text transform="translate(54.5,659.7) rotate(-90)" font-size="18.5" text-anchor="middle">12</text>
<text transform="translate(54.5,695.7) rotate(-90)" font-size="18.5" text-anchor="middle">13</text>
<text transform="translate(54.5,741.4) rotate(-90)" font-size="18.5" text-anchor="middle">14</text>
<text transform="translate(78.6,776.5) rotate(-90)" font-size="17" text-anchor="end">E13_E16.5RG</text>
<text transform="translate(93.3,776.5) rotate(-90)" font-size="17" text-anchor="end">E17_E18.5RG</text>
<text transform="translate(108.1,776.5) rotate(-90)" font-size="17" text-anchor="end">P0_P3RG</text>
<text transform="translate(126.5,776.5) rotate(-90)" font-size="17" text-anchor="end">E13_E16.5IP nonIT</text>
<text transform="translate(141.3,776.5) rotate(-90)" font-size="17" text-anchor="end">E17_E18.5IP nonIT</text>
<text transform="translate(156.0,776.5) rotate(-90)" font-size="17" text-anchor="end">P0_P3IP nonIT</text>
<text transform="translate(170.8,776.5) rotate(-90)" font-size="17" text-anchor="end">P4_P6IP nonIT</text>
<text transform="translate(189.2,776.5) rotate(-90)" font-size="17" text-anchor="end">E13_E16.5IP IT</text>
<text transform="translate(204.0,776.5) rotate(-90)" font-size="17" text-anchor="end">E17_E18.5IP IT</text>
<text transform="translate(218.7,776.5) rotate(-90)" font-size="17" text-anchor="end">P0_P3IP IT</text>
<text transform="translate(233.5,776.5) rotate(-90)" font-size="17" text-anchor="end">P4_P6IP IT</text>
<text transform="translate(251.9,776.5) rotate(-90)" font-size="17" text-anchor="end">E13_E16.5IMN nonIT</text>
<text transform="translate(266.7,776.5) rotate(-90)" font-size="17" text-anchor="end">E17_E18.5IMN nonIT</text>
<text transform="translate(281.4,776.5) rotate(-90)" font-size="17" text-anchor="end">P0_P3IMN nonIT</text>
<text transform="translate(299.9,776.5) rotate(-90)" font-size="17" text-anchor="end">E13_E16.5IMN IT</text>
<text transform="translate(314.6,776.5) rotate(-90)" font-size="17" text-anchor="end">E17_E18.5IMN IT</text>
<text transform="translate(329.4,776.5) rotate(-90)" font-size="17" text-anchor="end">P0_P3IMN IT</text>
<text transform="translate(344.1,776.5) rotate(-90)" font-size="17" text-anchor="end">P4_P6IMN IT</text>
<text transform="translate(362.6,776.5) rotate(-90)" font-size="17" text-anchor="end">E13_E16.5L6b CTX Glut</text>
<text transform="translate(377.3,776.5) rotate(-90)" font-size="17" text-anchor="end">E17_E18.5L6b CTX Glut</text>
<text transform="translate(392.1,776.5) rotate(-90)" font-size="17" text-anchor="end">P0_P3L6b CTX Glut</text>
<text transform="translate(406.8,776.5) rotate(-90)" font-size="17" text-anchor="end">P4_P6L6b CTX Glut</text>
<text transform="translate(421.6,776.5) rotate(-90)" font-size="17" text-anchor="end">P11_P15L6b CTX Glut</text>
<text transform="translate(436.3,776.5) rotate(-90)" font-size="17" text-anchor="end">P54_P68L6b CTX Glut</text>
<text transform="translate(454.8,776.5) rotate(-90)" font-size="17" text-anchor="end">E13_E16.5L6 CT CTX Glut</text>
<text transform="translate(469.5,776.5) rotate(-90)" font-size="17" text-anchor="end">E17_E18.5L6 CT CTX Glut</text>
<text transform="translate(484.3,776.5) rotate(-90)" font-size="17" text-anchor="end">P0_P3L6 CT CTX Glut</text>
<text transform="translate(499.0,776.5) rotate(-90)" font-size="17" text-anchor="end">P4_P6L6 CT CTX Glut</text>
<text transform="translate(513.8,776.5) rotate(-90)" font-size="17" text-anchor="end">P7_P10L6 CT CTX Glut</text>
<text transform="translate(528.5,776.5) rotate(-90)" font-size="17" text-anchor="end">P11_P15L6 CT CTX Glut</text>
<text transform="translate(543.2,776.5) rotate(-90)" font-size="17" text-anchor="end">P54_P68L6 CT CTX Glut</text>
<text transform="translate(561.7,776.5) rotate(-90)" font-size="17" text-anchor="end">E17_E18.5L5 NP CTX Glut</text>
<text transform="translate(576.5,776.5) rotate(-90)" font-size="17" text-anchor="end">P0_P3L5 NP CTX Glut</text>
<text transform="translate(591.2,776.5) rotate(-90)" font-size="17" text-anchor="end">P4_P6L5 NP CTX Glut</text>
<text transform="translate(605.9,776.5) rotate(-90)" font-size="17" text-anchor="end">P7_P10L5 NP CTX Glut</text>
<text transform="translate(620.7,776.5) rotate(-90)" font-size="17" text-anchor="end">P11_P15L5 NP CTX Glut</text>
<text transform="translate(635.4,776.5) rotate(-90)" font-size="17" text-anchor="end">P54_P68L5 NP CTX Glut</text>
<text transform="translate(653.9,776.5) rotate(-90)" font-size="17" text-anchor="end">E13_E16.5L5 ET CTX Glut</text>
<text transform="translate(668.6,776.5) rotate(-90)" font-size="17" text-anchor="end">E17_E18.5L5 ET CTX Glut</text>
<text transform="translate(683.4,776.5) rotate(-90)" font-size="17" text-anchor="end">P0_P3L5 ET CTX Glut</text>
<text transform="translate(698.1,776.5) rotate(-90)" font-size="17" text-anchor="end">P4_P6L5 ET CTX Glut</text>
<text transform="translate(712.9,776.5) rotate(-90)" font-size="17" text-anchor="end">P7_P10L5 ET CTX Glut</text>
<text transform="translate(727.6,776.5) rotate(-90)" font-size="17" text-anchor="end">P11_P15L5 ET CTX Glut</text>
<text transform="translate(742.4,776.5) rotate(-90)" font-size="17" text-anchor="end">P54_P68L5 ET CTX Glut</text>
<text transform="translate(760.8,776.5) rotate(-90)" font-size="17" text-anchor="end">E17_E18.5CLA&#8722;EPd&#8722;CTX Car3 Glut</text>
<text transform="translate(775.6,776.5) rotate(-90)" font-size="17" text-anchor="end">P0_P3CLA&#8722;EPd&#8722;CTX Car3 Glut</text>
<text transform="translate(790.3,776.5) rotate(-90)" font-size="17" text-anchor="end">P4_P6CLA&#8722;EPd&#8722;CTX Car3 Glut</text>
<text transform="translate(805.1,776.5) rotate(-90)" font-size="17" text-anchor="end">P11_P15CLA&#8722;EPd&#8722;CTX Car3 Glut</text>
<text transform="translate(819.8,776.5) rotate(-90)" font-size="17" text-anchor="end">P54_P68CLA&#8722;EPd&#8722;CTX Car3 Glut</text>
<text transform="translate(838.3,776.5) rotate(-90)" font-size="17" text-anchor="end">E17_E18.5L6 IT CTX Glut</text>
<text transform="translate(853.0,776.5) rotate(-90)" font-size="17" text-anchor="end">P0_P3L6 IT CTX Glut</text>
<text transform="translate(867.8,776.5) rotate(-90)" font-size="17" text-anchor="end">P4_P6L6 IT CTX Glut</text>
<text transform="translate(882.5,776.5) rotate(-90)" font-size="17" text-anchor="end">P7_P10L6 IT CTX Glut</text>
<text transform="translate(897.3,776.5) rotate(-90)" font-size="17" text-anchor="end">P11_P15L6 IT CTX Glut</text>
<text transform="translate(912.0,776.5) rotate(-90)" font-size="17" text-anchor="end">P54_P68L6 IT CTX Glut</text>
<text transform="translate(930.5,776.5) rotate(-90)" font-size="17" text-anchor="end">E13_E16.5L5 IT CTX Glut</text>
<text transform="translate(945.2,776.5) rotate(-90)" font-size="17" text-anchor="end">E17_E18.5L5 IT CTX Glut</text>
<text transform="translate(960.0,776.5) rotate(-90)" font-size="17" text-anchor="end">P0_P3L5 IT CTX Glut</text>
<text transform="translate(974.7,776.5) rotate(-90)" font-size="17" text-anchor="end">P4_P6L5 IT CTX Glut</text>
<text transform="translate(989.4,776.5) rotate(-90)" font-size="17" text-anchor="end">P7_P10L5 IT CTX Glut</text>
<text transform="translate(1004.2,776.5) rotate(-90)" font-size="17" text-anchor="end">P11_P15L5 IT CTX Glut</text>
<text transform="translate(1018.9,776.5) rotate(-90)" font-size="17" text-anchor="end">P54_P68L5 IT CTX Glut</text>
<text transform="translate(1037.4,776.5) rotate(-90)" font-size="17" text-anchor="end">E17_E18.5L4/5 IT CTX Glut</text>
<text transform="translate(1052.1,776.5) rotate(-90)" font-size="17" text-anchor="end">P0_P3L4/5 IT CTX Glut</text>
<text transform="translate(1066.9,776.5) rotate(-90)" font-size="17" text-anchor="end">P4_P6L4/5 IT CTX Glut</text>
<text transform="translate(1081.6,776.5) rotate(-90)" font-size="17" text-anchor="end">P7_P10L4/5 IT CTX Glut</text>
<text transform="translate(1096.4,776.5) rotate(-90)" font-size="17" text-anchor="end">P11_P15L4/5 IT CTX Glut</text>
<text transform="translate(1111.1,776.5) rotate(-90)" font-size="17" text-anchor="end">P54_P68L4/5 IT CTX Glut</text>
<text transform="translate(1129.6,776.5) rotate(-90)" font-size="17" text-anchor="end">E17_E18.5L2/3 IT CTX Glut</text>
<text transform="translate(1144.3,776.5) rotate(-90)" font-size="17" text-anchor="end">P0_P3L2/3 IT CTX Glut</text>
<text transform="translate(1159.1,776.5) rotate(-90)" font-size="17" text-anchor="end">P4_P6L2/3 IT CTX Glut</text>
<text transform="translate(1173.8,776.5) rotate(-90)" font-size="17" text-anchor="end">P7_P10L2/3 IT CTX Glut</text>
<text transform="translate(1188.6,776.5) rotate(-90)" font-size="17" text-anchor="end">P11_P15L2/3 IT CTX Glut</text>
<text transform="translate(1203.3,776.5) rotate(-90)" font-size="17" text-anchor="end">P54_P68L2/3 IT CTX Glut</text>
<text transform="translate(1221.8,776.5) rotate(-90)" font-size="17" text-anchor="end">E13_E16.5Glioblast</text>
<text transform="translate(1236.5,776.5) rotate(-90)" font-size="17" text-anchor="end">E17_E18.5Glioblast</text>
<text transform="translate(1251.3,776.5) rotate(-90)" font-size="17" text-anchor="end">P0_P3Glioblast</text>
<text transform="translate(1266.0,776.5) rotate(-90)" font-size="17" text-anchor="end">P4_P6Glioblast</text>
<text transform="translate(1280.7,776.5) rotate(-90)" font-size="17" text-anchor="end">P7_P10Glioblast</text>
<text transform="translate(1295.5,776.5) rotate(-90)" font-size="17" text-anchor="end">P11_P15Glioblast</text>
<text transform="translate(1310.2,776.5) rotate(-90)" font-size="17" text-anchor="end">P54_P68Glioblast</text>
<text transform="translate(1328.7,776.5) rotate(-90)" font-size="17" text-anchor="end">P4_P6Oligo NN</text>
<text transform="translate(1343.4,776.5) rotate(-90)" font-size="17" text-anchor="end">P11_P15Oligo NN</text>
<text transform="translate(1358.2,776.5) rotate(-90)" font-size="17" text-anchor="end">P54_P68Oligo NN</text>
<text transform="translate(1376.7,776.5) rotate(-90)" font-size="17" text-anchor="end">E13_E16.5OPC NN</text>
<text transform="translate(1391.4,776.5) rotate(-90)" font-size="17" text-anchor="end">E17_E18.5OPC NN</text>
<text transform="translate(1406.1,776.5) rotate(-90)" font-size="17" text-anchor="end">P0_P3OPC NN</text>
<text transform="translate(1420.9,776.5) rotate(-90)" font-size="17" text-anchor="end">P4_P6OPC NN</text>
<text transform="translate(1435.6,776.5) rotate(-90)" font-size="17" text-anchor="end">P7_P10OPC NN</text>
<text transform="translate(1450.4,776.5) rotate(-90)" font-size="17" text-anchor="end">P11_P15OPC NN</text>
<text transform="translate(1465.1,776.5) rotate(-90)" font-size="17" text-anchor="end">P54_P68OPC NN</text>
<text transform="translate(1483.6,776.5) rotate(-90)" font-size="17" text-anchor="end">E17_E18.5Astro&#8722;TE NN</text>
<text transform="translate(1498.3,776.5) rotate(-90)" font-size="17" text-anchor="end">P0_P3Astro&#8722;TE NN</text>
<text transform="translate(1513.1,776.5) rotate(-90)" font-size="17" text-anchor="end">P4_P6Astro&#8722;TE NN</text>
<text transform="translate(1527.8,776.5) rotate(-90)" font-size="17" text-anchor="end">P7_P10Astro&#8722;TE NN</text>
<text transform="translate(1542.6,776.5) rotate(-90)" font-size="17" text-anchor="end">P11_P15Astro&#8722;TE NN</text>
<text transform="translate(1557.3,776.5) rotate(-90)" font-size="17" text-anchor="end">P54_P68Astro&#8722;TE NN</text>
<text transform="translate(1575.8,776.5) rotate(-90)" font-size="17" text-anchor="end">E13_E16.5MGE GABA</text>
<text transform="translate(1590.5,776.5) rotate(-90)" font-size="17" text-anchor="end">E17_E18.5MGE GABA</text>
<text transform="translate(1605.3,776.5) rotate(-90)" font-size="17" text-anchor="end">P0_P3MGE GABA</text>
<text transform="translate(1623.7,776.5) rotate(-90)" font-size="17" text-anchor="end">E13_E16.5Pvalb Gaba</text>
<text transform="translate(1638.5,776.5) rotate(-90)" font-size="17" text-anchor="end">E17_E18.5Pvalb Gaba</text>
<text transform="translate(1653.2,776.5) rotate(-90)" font-size="17" text-anchor="end">P0_P3Pvalb Gaba</text>
<text transform="translate(1668.0,776.5) rotate(-90)" font-size="17" text-anchor="end">P4_P6Pvalb Gaba</text>
<text transform="translate(1682.7,776.5) rotate(-90)" font-size="17" text-anchor="end">P7_P10Pvalb Gaba</text>
<text transform="translate(1697.5,776.5) rotate(-90)" font-size="17" text-anchor="end">P11_P15Pvalb Gaba</text>
<text transform="translate(1712.2,776.5) rotate(-90)" font-size="17" text-anchor="end">P54_P68Pvalb Gaba</text>
<text transform="translate(1730.7,776.5) rotate(-90)" font-size="17" text-anchor="end">E13_E16.5Sst Gaba</text>
<text transform="translate(1745.4,776.5) rotate(-90)" font-size="17" text-anchor="end">E17_E18.5Sst Gaba</text>
<text transform="translate(1760.2,776.5) rotate(-90)" font-size="17" text-anchor="end">P0_P3Sst Gaba</text>
<text transform="translate(1774.9,776.5) rotate(-90)" font-size="17" text-anchor="end">P4_P6Sst Gaba</text>
<text transform="translate(1789.6,776.5) rotate(-90)" font-size="17" text-anchor="end">P7_P10Sst Gaba</text>
<text transform="translate(1804.4,776.5) rotate(-90)" font-size="17" text-anchor="end">P11_P15Sst Gaba</text>
<text transform="translate(1819.1,776.5) rotate(-90)" font-size="17" text-anchor="end">P54_P68Sst Gaba</text>
<rect x="1824.6" y="115.40" width="32" height="76.60" fill="#f0909a" stroke="#111" stroke-width="1.3"/>
<text transform="translate(1846.8,153.7) rotate(-90)" font-size="17.5" text-anchor="middle" fill="#fff">1</text>
<rect x="1824.6" y="196.67" width="32" height="57.20" fill="#c8865c" stroke="#111" stroke-width="1.3"/>
<text transform="translate(1846.8,225.3) rotate(-90)" font-size="17.5" text-anchor="middle" fill="#fff">2</text>
<rect x="1824.6" y="258.55" width="32" height="44.27" fill="#9a9038" stroke="#111" stroke-width="1.3"/>
<text transform="translate(1846.8,280.7) rotate(-90)" font-size="17.5" text-anchor="middle" fill="#fff">3</text>
<rect x="1824.6" y="307.49" width="32" height="11.93" fill="#5a7020" stroke="#111" stroke-width="1.3"/>
<text transform="translate(1846.8,313.5) rotate(-90)" font-size="17.5" text-anchor="middle" fill="#fff">4</text>
<rect x="1824.6" y="324.09" width="32" height="44.27" fill="#68f018" stroke="#111" stroke-width="1.3"/>
<text transform="translate(1846.8,346.2) rotate(-90)" font-size="17.5" text-anchor="middle" fill="#fff">5</text>
<rect x="1824.6" y="373.03" width="32" height="18.40" fill="#90d8a2" stroke="#111" stroke-width="1.3"/>
<text transform="translate(1846.8,382.2) rotate(-90)" font-size="17.5" text-anchor="middle" fill="#fff">6</text>
<rect x="1824.6" y="396.10" width="32" height="57.20" fill="#5aa282" stroke="#111" stroke-width="1.3"/>
<text transform="translate(1846.8,424.7) rotate(-90)" font-size="17.5" text-anchor="middle" fill="#fff">7</text>
<rect x="1824.6" y="457.97" width="32" height="11.93" fill="#3a6a5a" stroke="#111" stroke-width="1.3"/>
<text transform="translate(1846.8,463.9) rotate(-90)" font-size="17.5" text-anchor="middle" fill="#fff">8</text>
<rect x="1824.6" y="474.58" width="32" height="31.34" fill="#5aa8f2" stroke="#111" stroke-width="1.3"/>
<text transform="translate(1846.8,490.2) rotate(-90)" font-size="17.5" text-anchor="middle" fill="#fff">9</text>
<rect x="1824.6" y="510.58" width="32" height="63.67" fill="#2210f2" stroke="#111" stroke-width="1.3"/>
<text transform="translate(1846.8,542.4) rotate(-90)" font-size="17.5" text-anchor="middle" fill="#fff">10</text>
<rect x="1824.6" y="578.92" width="32" height="57.20" fill="#7060aa" stroke="#111" stroke-width="1.3"/>
<text transform="translate(1846.8,607.5) rotate(-90)" font-size="17.5" text-anchor="middle" fill="#fff">11</text>
<rect x="1824.6" y="640.79" width="32" height="37.80" fill="#52306c" stroke="#111" stroke-width="1.3"/>
<text transform="translate(1846.8,659.7) rotate(-90)" font-size="17.5" text-anchor="middle" fill="#fff">12</text>
<rect x="1824.6" y="683.27" width="32" height="24.87" fill="#f852f2" stroke="#111" stroke-width="1.3"/>
<text transform="translate(1846.8,695.7) rotate(-90)" font-size="17.5" text-anchor="middle" fill="#fff">13</text>
<rect x="1824.6" y="712.80" width="32" height="57.20" fill="#d02870" stroke="#111" stroke-width="1.3"/>
<text transform="translate(1846.8,741.4) rotate(-90)" font-size="17.5" text-anchor="middle" fill="#fff">14</text>
<rect x="1858.8" y="114.90" width="19.2" height="6.72" fill="#f7e5c5"/>
<rect x="1858.8" y="121.37" width="19.2" height="6.72" fill="#f9eeda"/>
<rect x="1858.8" y="127.83" width="19.2" height="6.72" fill="#f9eeda"/>
<rect x="1858.8" y="134.30" width="19.2" height="6.72" fill="#f4d29a"/>
<rect x="1858.8" y="140.77" width="19.2" height="6.72" fill="#f5dcb0"/>
<rect x="1858.8" y="147.24" width="19.2" height="6.72" fill="#f4d29a"/>
<rect x="1858.8" y="153.70" width="19.2" height="6.72" fill="#f7e5c5"/>
<rect x="1858.8" y="160.17" width="19.2" height="6.72" fill="#f7e5c5"/>
<rect x="1858.8" y="166.64" width="19.2" height="6.72" fill="#efa33a"/>
<rect x="1858.8" y="173.10" width="19.2" height="6.72" fill="#f9eeda"/>
<rect x="1858.8" y="179.57" width="19.2" height="6.72" fill="#f2c680"/>
<rect x="1858.8" y="186.04" width="19.2" height="6.72" fill="#f7e5c5"/>
<rect x="1858.8" y="196.17" width="19.2" height="6.72" fill="#f7e5c5"/>
<rect x="1858.8" y="202.64" width="19.2" height="6.72" fill="#f9eeda"/>
<rect x="1858.8" y="209.11" width="19.2" height="6.72" fill="#f4d29a"/>
<rect x="1858.8" y="215.58" width="19.2" height="6.72" fill="#f9eeda"/>
<rect x="1858.8" y="222.04" width="19.2" height="6.72" fill="#f9eeda"/>
<rect x="1858.8" y="228.51" width="19.2" height="6.72" fill="#f5dcb0"/>
<rect x="1858.8" y="234.98" width="19.2" height="6.72" fill="#f9eeda"/>
<rect x="1858.8" y="241.44" width="19.2" height="6.72" fill="#f9eeda"/>
<rect x="1858.8" y="247.91" width="19.2" height="6.72" fill="#f9eeda"/>
<rect x="1858.8" y="258.05" width="19.2" height="6.72" fill="#f0ac4d"/>
<rect x="1858.8" y="264.51" width="19.2" height="6.72" fill="#efa33a"/>
<rect x="1858.8" y="270.98" width="19.2" height="6.72" fill="#f4d29a"/>
<rect x="1858.8" y="277.45" width="19.2" height="6.72" fill="#f9eeda"/>
<rect x="1858.8" y="283.91" width="19.2" height="6.72" fill="#f7e5c5"/>
<rect x="1858.8" y="290.38" width="19.2" height="6.72" fill="#f2c680"/>
<rect x="1858.8" y="296.85" width="19.2" height="6.72" fill="#f5dcb0"/>
<rect x="1858.8" y="306.99" width="19.2" height="6.72" fill="#f7e5c5"/>
<rect x="1858.8" y="313.45" width="19.2" height="6.72" fill="#f7e5c5"/>
<rect x="1858.8" y="323.59" width="19.2" height="6.72" fill="#f4d29a"/>
<rect x="1858.8" y="330.06" width="19.2" height="6.72" fill="#f4d29a"/>
<rect x="1858.8" y="336.52" width="19.2" height="6.72" fill="#f9eeda"/>
<rect x="1858.8" y="342.99" width="19.2" height="6.72" fill="#f9eeda"/>
<rect x="1858.8" y="349.46" width="19.2" height="6.72" fill="#f9eeda"/>
<rect x="1858.8" y="355.92" width="19.2" height="6.72" fill="#f9eeda"/>
<rect x="1858.8" y="362.39" width="19.2" height="6.72" fill="#f9eeda"/>
<rect x="1858.8" y="372.53" width="19.2" height="6.72" fill="#f7e5c5"/>
<rect x="1858.8" y="379.00" width="19.2" height="6.72" fill="#f5dcb0"/>
<rect x="1858.8" y="385.46" width="19.2" height="6.72" fill="#f9eeda"/>
<rect x="1858.8" y="395.60" width="19.2" height="6.72" fill="#f5dcb0"/>
<rect x="1858.8" y="402.07" width="19.2" height="6.72" fill="#f9eeda"/>
<rect x="1858.8" y="408.53" width="19.2" height="6.72" fill="#f9eeda"/>
<rect x="1858.8" y="415.00" width="19.2" height="6.72" fill="#f9eeda"/>
<rect x="1858.8" y="421.47" width="19.2" height="6.72" fill="#f7e5c5"/>
<rect x="1858.8" y="427.94" width="19.2" height="6.72" fill="#f9eeda"/>
<rect x="1858.8" y="434.40" width="19.2" height="6.72" fill="#f9eeda"/>
<rect x="1858.8" y="440.87" width="19.2" height="6.72" fill="#f9eeda"/>
<rect x="1858.8" y="447.34" width="19.2" height="6.72" fill="#f9eeda"/>
<rect x="1858.8" y="457.47" width="19.2" height="6.72" fill="#f5dcb0"/>
<rect x="1858.8" y="463.94" width="19.2" height="6.72" fill="#f5dcb0"/>
<rect x="1858.8" y="474.08" width="19.2" height="6.72" fill="#f5dcb0"/>
<rect x="1858.8" y="480.54" width="19.2" height="6.72" fill="#f9eeda"/>
<rect x="1858.8" y="487.01" width="19.2" height="6.72" fill="#f9eeda"/>
<rect x="1858.8" y="493.48" width="19.2" height="6.72" fill="#f9eeda"/>
<rect x="1858.8" y="499.94" width="19.2" height="6.72" fill="#f9eeda"/>
<rect x="1858.8" y="510.08" width="19.2" height="6.72" fill="#f5dcb0"/>
<rect x="1858.8" y="516.55" width="19.2" height="6.72" fill="#f0ac4d"/>
<rect x="1858.8" y="523.02" width="19.2" height="6.72" fill="#f7e5c5"/>
<rect x="1858.8" y="529.48" width="19.2" height="6.72" fill="#f9eeda"/>
<rect x="1858.8" y="535.95" width="19.2" height="6.72" fill="#efa33a"/>
<rect x="1858.8" y="542.42" width="19.2" height="6.72" fill="#f7e5c5"/>
<rect x="1858.8" y="548.88" width="19.2" height="6.72" fill="#f2c680"/>
<rect x="1858.8" y="555.35" width="19.2" height="6.72" fill="#f9eeda"/>
<rect x="1858.8" y="561.82" width="19.2" height="6.72" fill="#f4d29a"/>
<rect x="1858.8" y="568.28" width="19.2" height="6.72" fill="#f7e5c5"/>
<rect x="1858.8" y="578.42" width="19.2" height="6.72" fill="#f9eeda"/>
<rect x="1858.8" y="584.89" width="19.2" height="6.72" fill="#f9eeda"/>
<rect x="1858.8" y="591.36" width="19.2" height="6.72" fill="#f9eeda"/>
<rect x="1858.8" y="597.82" width="19.2" height="6.72" fill="#f7e5c5"/>
<rect x="1858.8" y="604.29" width="19.2" height="6.72" fill="#f9eeda"/>
<rect x="1858.8" y="610.76" width="19.2" height="6.72" fill="#f7e5c5"/>
<rect x="1858.8" y="617.22" width="19.2" height="6.72" fill="#f9eeda"/>
<rect x="1858.8" y="623.69" width="19.2" height="6.72" fill="#f9eeda"/>
<rect x="1858.8" y="630.16" width="19.2" height="6.72" fill="#f9eeda"/>
<rect x="1858.8" y="640.29" width="19.2" height="6.72" fill="#f7e5c5"/>
<rect x="1858.8" y="646.76" width="19.2" height="6.72" fill="#f9eeda"/>
<rect x="1858.8" y="653.23" width="19.2" height="6.72" fill="#f9eeda"/>
<rect x="1858.8" y="659.70" width="19.2" height="6.72" fill="#f9eeda"/>
<rect x="1858.8" y="666.16" width="19.2" height="6.72" fill="#f9eeda"/>
<rect x="1858.8" y="672.63" width="19.2" height="6.72" fill="#f9eeda"/>
<rect x="1858.8" y="682.77" width="19.2" height="6.72" fill="#f9eeda"/>
<rect x="1858.8" y="689.23" width="19.2" height="6.72" fill="#f9eeda"/>
<rect x="1858.8" y="695.70" width="19.2" height="6.72" fill="#f7e5c5"/>
<rect x="1858.8" y="702.17" width="19.2" height="6.72" fill="#f9eeda"/>
<rect x="1858.8" y="712.30" width="19.2" height="6.72" fill="#f5dcb0"/>
<rect x="1858.8" y="718.77" width="19.2" height="6.72" fill="#f4d29a"/>
<rect x="1858.8" y="725.24" width="19.2" height="6.72" fill="#f4d29a"/>
<rect x="1858.8" y="731.71" width="19.2" height="6.72" fill="#f5dcb0"/>
<rect x="1858.8" y="738.17" width="19.2" height="6.72" fill="#f5dcb0"/>
<rect x="1858.8" y="744.64" width="19.2" height="6.72" fill="#f7e5c5"/>
<rect x="1858.8" y="751.11" width="19.2" height="6.72" fill="#f5dcb0"/>
<rect x="1858.8" y="757.57" width="19.2" height="6.72" fill="#f7e5c5"/>
<rect x="1858.8" y="764.04" width="19.2" height="6.72" fill="#f9eeda"/>
<text x="1880.5" y="216.3" font-size="12.2">12</text>
<text x="1880.5" y="263.1" font-size="12.2">16</text>
<text x="1880.5" y="272.4" font-size="12.2">11</text>
<text x="1880.5" y="297.8" font-size="12.2">1</text>
<text x="1880.5" y="330.8" font-size="12.2">10</text>
<text x="1880.5" y="338.6" font-size="12.2">2</text>
<text x="1880.5" y="344.5" font-size="12.2">4</text>
<text x="1880.5" y="386.1" font-size="12.2">15</text>
<text x="1880.5" y="403.3" font-size="12.2">14</text>
<text x="1880.5" y="430.5" font-size="12.2">13</text>
<text x="1880.5" y="461.8" font-size="12.2">6</text>
<text x="1880.5" y="471.3" font-size="12.2">5</text>
<text x="1880.5" y="524.8" font-size="12.2">3</text>
<text x="1880.5" y="542.3" font-size="12.2">8</text>
<text x="1880.5" y="550.3" font-size="12.2">7</text>
<text x="1880.5" y="562.3" font-size="12.2">9</text>
<text transform="translate(1876.5,776.5) rotate(-90)" font-size="17" text-anchor="end">max.height</text>
<text x="1910.5" y="149.0" font-size="13.8">Age</text>
<rect x="1910.6" y="158.3" width="15.4" height="14.2" fill="#e8845c"/>
<text x="1930.6" y="170.1" font-size="13.8">E13_E16.5</text>
<rect x="1910.6" y="174.4" width="15.4" height="14.2" fill="#b5ac30"/>
<text x="1930.6" y="186.2" font-size="13.8">E17_E18.5</text>
<rect x="1910.6" y="190.5" width="15.4" height="14.2" fill="#a8f040"/>
<text x="1930.6" y="202.3" font-size="13.8">P0_P3</text>
<rect x="1910.6" y="206.6" width="15.4" height="14.2" fill="#7cc67c"/>
<text x="1930.6" y="218.4" font-size="13.8">P4_P6</text>
<rect x="1910.6" y="222.7" width="15.4" height="14.2" fill="#45a078"/>
<text x="1930.6" y="234.5" font-size="13.8">P7_P10</text>
<rect x="1910.6" y="238.8" width="15.4" height="14.2" fill="#90d0e0"/>
<text x="1930.6" y="250.6" font-size="13.8">P11_P15</text>
<rect x="1910.6" y="254.9" width="15.4" height="14.2" fill="#d52a1a"/>
<text x="1930.6" y="266.7" font-size="13.8">P56</text>
<text x="1910.5" y="297.0" font-size="13.8">RNA</text>
<defs><linearGradient id="grna" x1="0" y1="1" x2="0" y2="0"><stop offset="0" stop-color="#f1eff8"/><stop offset="0.3" stop-color="#d0c6ec"/><stop offset="0.5" stop-color="#a890dc"/><stop offset="0.6" stop-color="#7c5ece"/><stop offset="0.7" stop-color="#6a4ac6"/><stop offset="0.8" stop-color="#4a2eb6"/><stop offset="1.0" stop-color="#1a0ca8"/></linearGradient><linearGradient id="gpk" x1="0" y1="1" x2="0" y2="0"><stop offset="0" stop-color="#fbfdf8"/><stop offset="0.25" stop-color="#d8f0d2"/><stop offset="0.5" stop-color="#8fd4c2"/><stop offset="0.75" stop-color="#4aa6cc"/><stop offset="1" stop-color="#1e4a8e"/></linearGradient></defs>
<rect x="1909.2" y="304.2" width="17.4" height="76" fill="url(#grna)"/>
<line x1="1909.2" y1="307.7" x2="1912.5" y2="307.7" stroke="#fff" stroke-width="1"/><line x1="1923.3" y1="307.7" x2="1926.6" y2="307.7" stroke="#fff" stroke-width="1"/>
<line x1="1909.2" y1="347.5" x2="1912.5" y2="347.5" stroke="#fff" stroke-width="1"/><line x1="1923.3" y1="347.5" x2="1926.6" y2="347.5" stroke="#fff" stroke-width="1"/>
<text x="1931.0" y="312.5" font-size="12.2">1</text>
<text x="1931.0" y="352.5" font-size="12.2">0.5</text>
<text x="1931.0" y="379.5" font-size="12.2">0</text>
<text x="1914.5" y="412.0" font-size="13.8">Peak.height</text>
<rect x="1914" y="419.6" width="17.2" height="74" fill="url(#gpk)"/>
<line x1="1928" y1="423" x2="1931.2" y2="423" stroke="#fff" stroke-width="1"/>
<line x1="1928" y1="462.7" x2="1931.2" y2="462.7" stroke="#fff" stroke-width="1"/>
<text x="1935.5" y="427.5" font-size="12.2">1</text>
<text x="1935.5" y="467.3" font-size="12.2">0.5</text>
<text x="1935.5" y="507.0" font-size="12.2">0</text>
<rect x="1987.5" y="559" width="16.5" height="4" fill="#ebe9f3"/>
<text x="2.0" y="1093.2" font-size="42" font-weight="bold">b</text>
<path d="M193.8 1108.2H1573.3" stroke="#000" stroke-width="1.3" fill="none"/>
<path d="M333.2 1102.6V1108.2" stroke="#000" stroke-width="1.2"/>
<text x="333.2" y="1131.2" font-size="22" text-anchor="middle" class="dv">121,900</text>
<path d="M502.3 1102.6V1108.2" stroke="#000" stroke-width="1.2"/>
<text x="502.3" y="1131.2" font-size="22" text-anchor="middle" class="dv">121,925</text>
<path d="M671.4 1102.6V1108.2" stroke="#000" stroke-width="1.2"/>
<text x="671.4" y="1131.2" font-size="22" text-anchor="middle" class="dv">121,950</text>
<path d="M840.5 1102.6V1108.2" stroke="#000" stroke-width="1.2"/>
<text x="840.5" y="1131.2" font-size="22" text-anchor="middle" class="dv">121,975</text>
<path d="M1009.6 1102.6V1108.2" stroke="#000" stroke-width="1.2"/>
<text x="1009.6" y="1131.2" font-size="22" text-anchor="middle" class="dv">122,000</text>
<path d="M1178.7 1102.6V1108.2" stroke="#000" stroke-width="1.2"/>
<text x="1178.7" y="1131.2" font-size="22" text-anchor="middle" class="dv">122,025</text>
<path d="M1347.8 1102.6V1108.2" stroke="#000" stroke-width="1.2"/>
<text x="1347.8" y="1131.2" font-size="22" text-anchor="middle" class="dv">122,050</text>
<path d="M1516.9 1102.6V1108.2" stroke="#000" stroke-width="1.2"/>
<text x="1516.9" y="1131.2" font-size="22" text-anchor="middle" class="dv">122,075 Kb</text>
<text x="883.5" y="1174.2" font-size="22" text-anchor="middle" class="dv">chr5</text>
<path d="M193.9 1241.9L193.9 1241.5L215.9 1241.4L218.9 1240.8L223.9 1241.4L250.9 1241.4L255.9 1240.8L258.9 1241.2L260.9 1240.7L263.9 1241.2L268.9 1241.0L273.9 1241.4L313.9 1241.4L316.9 1240.9L318.9 1241.4L328.9 1241.4L331.9 1240.9L333.9 1241.4L338.9 1240.9L344.9 1241.4L349.9 1240.9L351.9 1239.6L352.9 1238.1L355.9 1240.8L360.9 1241.4L393.9 1241.0L396.9 1241.4L408.9 1241.0L420.9 1241.4L425.9 1240.1L428.9 1238.4L430.9 1240.6L434.9 1241.3L443.9 1241.4L446.9 1240.9L453.9 1241.4L456.9 1240.9L458.9 1241.4L466.9 1241.0L468.9 1241.4L471.9 1240.9L475.9 1241.4L478.9 1240.8L481.9 1241.4L515.9 1241.4L522.9 1241.2L525.9 1239.9L528.9 1241.0L533.9 1241.4L536.9 1241.0L546.9 1241.4L550.9 1240.9L553.9 1241.4L568.9 1241.4L573.9 1241.0L578.9 1241.4L581.9 1240.9L583.9 1241.4L591.9 1241.0L593.9 1241.4L618.9 1241.4L624.9 1240.9L627.9 1238.9L630.9 1240.7L633.9 1241.3L638.9 1241.2L642.9 1239.9L645.9 1241.2L652.9 1241.4L657.9 1240.8L659.9 1240.0L661.9 1237.3L662.9 1234.4L664.9 1238.9L666.9 1240.4L668.9 1241.1L671.9 1240.8L676.9 1241.4L701.9 1241.1L710.9 1241.4L713.9 1240.8L716.9 1241.4L745.9 1241.4L748.9 1240.8L753.9 1241.4L756.9 1241.0L763.9 1241.4L769.9 1241.1L772.9 1239.5L774.9 1240.8L776.9 1241.3L790.9 1241.3L794.9 1240.4L796.9 1239.0L797.9 1239.1L799.9 1240.7L806.9 1241.4L823.9 1241.4L827.9 1240.7L829.9 1239.5L831.9 1240.8L833.9 1241.3L838.9 1240.7L841.9 1241.4L853.9 1241.4L856.9 1240.8L863.9 1241.4L874.9 1241.4L879.9 1240.8L882.9 1238.0L885.9 1239.8L887.9 1239.4L893.9 1241.4L896.9 1241.4L913.9 1241.4L916.9 1240.8L925.9 1241.4L928.9 1240.8L931.9 1241.4L936.9 1240.9L941.9 1241.4L951.9 1241.0L953.9 1241.5L973.9 1241.4L976.9 1240.9L978.9 1241.4L985.9 1241.4L988.9 1240.8L993.9 1241.4L996.9 1241.0L1000.9 1241.3L1004.9 1240.2L1006.9 1238.5L1009.9 1240.5L1010.9 1240.6L1013.9 1239.2L1016.9 1241.1L1021.9 1241.4L1043.9 1241.4L1046.9 1240.8L1050.9 1241.4L1053.9 1240.8L1056.9 1241.4L1075.9 1241.4L1078.9 1240.8L1083.9 1241.5L1103.9 1241.4L1110.9 1240.9L1113.9 1241.4L1116.9 1241.0L1125.9 1241.4L1130.9 1240.7L1133.9 1241.4L1138.9 1240.4L1140.9 1238.8L1141.9 1239.9L1143.9 1241.0L1146.9 1240.8L1148.9 1241.4L1156.9 1240.9L1160.9 1241.4L1163.9 1240.8L1166.9 1241.4L1175.9 1240.8L1178.9 1241.4L1180.9 1240.9L1185.9 1241.4L1188.9 1240.8L1198.9 1241.4L1200.9 1240.9L1203.9 1241.4L1213.9 1241.0L1217.9 1241.4L1224.9 1240.5L1227.9 1241.1L1241.9 1241.4L1250.9 1241.4L1255.9 1240.8L1258.9 1241.4L1265.9 1241.4L1268.9 1240.8L1275.9 1241.4L1278.9 1240.8L1283.9 1241.4L1331.9 1241.3L1334.9 1240.8L1336.9 1239.8L1339.9 1235.1L1340.9 1236.5L1341.9 1236.8L1343.9 1234.8L1345.9 1229.5L1346.9 1224.9L1348.9 1211.4L1350.9 1226.1L1352.9 1233.6L1355.9 1238.6L1360.9 1240.8L1363.9 1240.5L1366.9 1241.0L1369.9 1240.2L1372.9 1238.4L1374.9 1240.2L1377.9 1240.4L1378.9 1240.0L1380.9 1237.4L1382.9 1240.1L1385.9 1241.2L1393.9 1241.4L1396.9 1240.9L1406.9 1241.3L1410.9 1240.4L1413.9 1237.0L1414.9 1238.8L1416.9 1240.5L1420.9 1240.8L1422.9 1239.7L1423.9 1238.4L1425.9 1240.5L1428.9 1241.3L1440.9 1241.4L1443.9 1240.8L1451.9 1241.4L1456.9 1240.9L1460.9 1241.4L1466.9 1241.0L1471.9 1241.4L1488.9 1241.5L1493.9 1241.0L1498.9 1241.5L1505.9 1240.8L1508.9 1241.5L1513.9 1240.9L1521.9 1241.4L1551.9 1241.4L1555.9 1241.3L1558.9 1240.3L1562.9 1241.3L1572.9 1241.2L1573.3 1241.9Z" fill="#eea462" stroke="#e07e3a" stroke-width="0.6" stroke-linejoin="round"/>
<text x="1583.0" y="1228.4" font-size="20.8" class="dv">RG</text>
<path d="M193.9 1283.8000000000002L193.9 1283.3L196.9 1283.1L198.9 1282.3L201.9 1283.3L208.9 1282.8L213.9 1283.3L218.9 1282.7L221.9 1283.2L226.9 1281.8L231.9 1283.3L243.9 1283.3L248.9 1282.3L251.9 1283.1L253.9 1282.2L255.9 1282.5L257.9 1281.3L259.9 1278.8L262.9 1270.9L263.9 1275.2L265.9 1280.1L267.9 1282.0L270.9 1283.0L273.9 1282.3L276.9 1283.2L279.9 1282.4L281.9 1281.2L286.9 1283.2L295.9 1282.8L297.9 1281.5L299.9 1278.3L302.9 1282.2L308.9 1283.3L315.9 1283.3L318.9 1282.3L323.9 1283.3L330.9 1283.2L333.9 1282.3L338.9 1283.3L346.9 1283.2L349.9 1282.4L352.9 1278.9L354.9 1281.5L356.9 1282.8L362.9 1282.5L366.9 1279.3L367.9 1280.9L370.9 1282.8L373.9 1282.5L376.9 1283.3L381.9 1282.5L383.9 1283.1L385.9 1282.6L388.9 1283.1L408.9 1282.7L413.9 1283.3L422.9 1283.2L425.9 1282.2L428.9 1280.0L431.9 1282.9L436.9 1282.5L438.9 1283.3L450.9 1283.3L454.9 1282.2L460.9 1283.2L473.9 1283.3L476.9 1282.7L478.9 1283.3L481.9 1282.5L483.9 1283.3L488.9 1283.0L498.9 1283.3L503.9 1283.2L507.9 1280.9L510.9 1283.0L515.9 1283.3L518.9 1282.2L522.9 1282.8L525.9 1280.9L528.9 1282.5L533.9 1283.3L548.9 1282.7L558.9 1283.3L561.9 1282.5L566.9 1283.3L578.9 1283.2L580.9 1282.7L586.9 1283.3L590.9 1282.9L593.9 1281.6L595.9 1282.8L598.9 1282.2L601.9 1283.2L605.9 1282.5L607.9 1281.0L609.9 1282.5L611.9 1283.0L613.9 1282.6L616.9 1283.1L621.9 1282.3L625.9 1282.6L627.9 1281.6L631.9 1283.1L635.9 1283.2L638.9 1282.0L642.9 1281.7L645.9 1283.1L653.9 1282.9L658.9 1280.1L659.9 1278.5L661.9 1272.0L662.9 1265.8L664.9 1275.1L666.9 1279.3L668.9 1281.5L673.9 1283.2L690.9 1283.3L693.9 1282.6L700.9 1283.3L703.9 1282.6L706.9 1283.3L711.9 1282.8L713.9 1283.3L716.9 1282.8L729.9 1283.3L731.9 1283.0L735.9 1280.8L738.9 1282.7L740.9 1283.1L743.9 1282.9L746.9 1281.5L748.9 1282.8L751.9 1283.3L753.9 1283.3L755.9 1282.5L758.9 1283.3L760.9 1282.5L763.9 1282.9L766.9 1282.4L770.9 1283.2L773.9 1282.7L775.9 1283.1L780.9 1281.0L783.9 1282.7L787.9 1282.1L790.9 1280.1L793.9 1274.7L796.9 1258.6L797.9 1258.5L800.9 1274.5L801.9 1277.1L803.9 1279.8L808.9 1282.2L813.9 1282.9L818.9 1282.6L821.9 1283.3L825.9 1282.4L827.9 1280.5L829.9 1282.3L831.9 1283.0L843.9 1283.2L848.9 1281.0L849.9 1279.3L850.9 1279.2L852.9 1281.3L856.9 1283.2L866.9 1283.3L873.9 1282.6L877.9 1283.1L880.9 1282.5L882.9 1281.1L884.9 1277.4L885.9 1273.6L888.9 1280.9L890.9 1282.1L896.9 1283.2L898.9 1282.7L901.9 1283.2L913.9 1282.8L915.9 1283.2L918.9 1282.3L921.9 1283.3L925.9 1282.9L930.9 1283.3L933.9 1282.3L935.9 1282.3L948.9 1283.2L953.9 1283.2L956.9 1282.5L958.9 1283.3L960.9 1283.3L963.9 1282.3L966.9 1283.3L978.9 1283.3L981.9 1282.8L985.9 1283.3L1000.9 1283.3L1005.9 1281.6L1006.9 1280.6L1009.9 1281.6L1011.9 1279.9L1012.9 1277.8L1013.9 1277.8L1014.9 1279.7L1017.9 1282.0L1018.9 1282.3L1021.9 1280.7L1023.9 1282.5L1026.9 1282.3L1029.9 1283.3L1048.9 1282.3L1053.9 1283.2L1058.9 1282.8L1070.9 1283.3L1073.9 1282.8L1080.9 1283.4L1090.9 1282.4L1095.9 1283.3L1100.9 1282.5L1103.9 1283.2L1111.9 1283.3L1121.9 1283.3L1125.9 1282.5L1128.9 1283.3L1130.9 1282.5L1134.9 1283.1L1136.9 1282.7L1140.9 1279.5L1142.9 1281.6L1151.9 1283.3L1160.9 1283.3L1163.9 1282.7L1170.9 1283.3L1173.9 1282.7L1180.9 1283.3L1200.9 1283.3L1203.9 1282.9L1208.9 1283.3L1223.9 1283.2L1226.9 1282.5L1228.9 1280.4L1231.9 1282.9L1240.9 1283.3L1243.9 1283.0L1253.9 1283.3L1256.9 1282.5L1258.9 1283.2L1266.9 1283.3L1280.9 1283.3L1283.9 1282.7L1285.9 1283.2L1288.9 1282.8L1295.9 1283.3L1300.9 1282.6L1302.9 1281.2L1303.9 1281.9L1308.9 1283.3L1313.9 1282.6L1318.9 1283.3L1326.9 1283.2L1330.9 1282.5L1332.9 1281.1L1335.9 1275.2L1336.9 1277.8L1338.9 1279.5L1340.9 1278.8L1342.9 1276.1L1345.9 1266.3L1348.9 1243.6L1350.9 1261.0L1353.9 1274.4L1356.9 1279.6L1361.9 1282.4L1368.9 1282.6L1370.9 1282.1L1372.9 1279.8L1374.9 1275.6L1375.9 1278.5L1377.9 1280.5L1378.9 1280.2L1380.9 1277.3L1381.9 1279.8L1383.9 1282.1L1385.9 1282.7L1393.9 1283.3L1398.9 1282.7L1401.9 1283.1L1403.9 1282.6L1406.9 1283.1L1408.9 1282.8L1410.9 1281.7L1411.9 1280.5L1413.9 1276.6L1415.9 1280.7L1417.9 1282.1L1420.9 1282.6L1421.9 1282.1L1423.9 1279.2L1424.9 1280.6L1427.9 1282.4L1433.9 1283.3L1435.9 1283.3L1438.9 1282.3L1445.9 1283.3L1448.9 1282.3L1453.9 1283.3L1465.9 1283.2L1468.9 1282.3L1471.9 1283.3L1485.9 1282.9L1488.9 1283.3L1505.9 1283.3L1508.9 1282.3L1511.9 1283.1L1513.9 1282.3L1516.9 1283.3L1523.9 1282.4L1531.9 1283.3L1536.9 1282.8L1538.9 1283.3L1541.9 1282.7L1543.9 1283.2L1545.9 1282.5L1548.9 1282.3L1553.9 1278.1L1556.9 1269.3L1558.9 1256.1L1559.9 1256.1L1561.9 1269.0L1563.9 1275.5L1565.9 1278.7L1568.9 1281.8L1572.9 1282.9L1573.3 1283.8000000000002Z" fill="#92c8e0" stroke="#6eb0d4" stroke-width="0.6" stroke-linejoin="round"/>
<text x="1583.0" y="1270.3" font-size="20.8" class="dv">IP_nonIT</text>
<path d="M193.9 1325.7L193.9 1325.2L203.9 1324.0L208.9 1325.2L215.9 1324.6L218.9 1325.0L233.9 1324.6L241.9 1325.2L248.9 1323.9L253.9 1324.7L256.9 1323.2L258.9 1320.6L261.9 1309.5L262.9 1307.5L264.9 1317.3L266.9 1321.4L268.9 1323.6L270.9 1324.0L276.9 1323.3L279.9 1318.1L280.9 1317.7L281.9 1320.7L283.9 1323.6L285.9 1324.6L290.9 1325.1L293.9 1324.9L297.9 1322.8L298.9 1321.9L299.9 1319.6L302.9 1324.0L308.9 1325.2L313.9 1325.2L316.9 1324.4L321.9 1325.2L335.9 1325.2L340.9 1324.4L346.9 1325.1L350.9 1324.0L352.9 1321.4L354.9 1323.7L358.9 1324.7L360.9 1323.9L362.9 1322.1L364.9 1318.8L365.9 1315.9L366.9 1315.1L367.9 1318.5L370.9 1323.4L372.9 1324.5L376.9 1325.2L393.9 1325.2L395.9 1324.3L398.9 1325.2L400.9 1324.5L403.9 1325.2L408.9 1325.2L418.9 1325.0L423.9 1324.3L426.9 1325.2L433.9 1325.2L436.9 1324.2L440.9 1325.2L445.9 1325.2L450.9 1324.1L458.9 1325.1L460.9 1324.7L462.9 1322.9L465.9 1324.5L468.9 1325.2L471.9 1324.7L493.9 1325.2L496.9 1324.2L498.9 1325.0L501.9 1324.7L503.9 1325.2L510.9 1324.1L513.9 1325.2L515.9 1324.7L520.9 1325.2L523.9 1324.6L526.9 1325.1L536.9 1324.7L550.9 1325.2L553.9 1324.8L556.9 1325.1L558.9 1324.5L563.9 1325.2L566.9 1324.7L575.9 1325.1L578.9 1324.5L580.9 1325.0L583.9 1324.1L585.9 1324.0L588.9 1325.2L595.9 1324.3L597.9 1322.8L601.9 1325.1L605.9 1324.6L610.9 1325.1L623.9 1324.7L630.9 1325.2L633.9 1324.7L641.9 1325.2L643.9 1325.1L646.9 1324.0L651.9 1325.1L655.9 1324.4L658.9 1322.1L660.9 1317.3L662.9 1307.8L663.9 1313.9L665.9 1320.4L667.9 1322.7L673.9 1325.0L680.9 1325.0L685.9 1324.2L688.9 1325.2L698.9 1325.2L701.9 1324.7L708.9 1325.2L713.9 1324.0L715.9 1324.8L718.9 1324.1L725.9 1325.2L730.9 1324.0L733.9 1324.5L735.9 1322.4L736.9 1322.6L738.9 1324.5L740.9 1325.0L750.9 1325.2L755.9 1325.0L758.9 1324.1L773.9 1325.2L788.9 1322.7L789.9 1321.5L792.9 1315.4L794.9 1307.9L796.9 1294.2L797.9 1294.2L799.9 1308.5L802.9 1318.7L803.9 1320.5L805.9 1322.0L813.9 1325.0L815.9 1324.5L818.9 1325.0L820.9 1324.7L822.9 1323.6L823.9 1322.4L825.9 1324.1L828.9 1324.8L836.9 1325.2L843.9 1324.8L847.9 1322.5L849.9 1318.2L850.9 1318.2L852.9 1322.1L855.9 1324.5L858.9 1324.2L863.9 1325.2L879.9 1324.7L881.9 1324.1L883.9 1322.3L885.9 1317.8L886.9 1313.6L888.9 1320.3L889.9 1322.2L891.9 1324.0L894.9 1324.9L898.9 1324.2L901.9 1325.0L906.9 1324.5L908.9 1325.2L910.9 1324.2L913.9 1324.9L921.9 1324.0L923.9 1324.0L925.9 1324.9L928.9 1325.2L938.9 1325.2L941.9 1324.2L943.9 1325.1L946.9 1324.6L951.9 1325.1L953.9 1324.4L958.9 1325.2L961.9 1324.1L963.9 1324.7L968.9 1324.2L973.9 1325.0L981.9 1324.0L985.9 1324.0L988.9 1325.2L1000.9 1325.1L1005.9 1324.0L1008.9 1324.7L1010.9 1323.7L1012.9 1321.3L1013.9 1321.4L1014.9 1322.7L1018.9 1325.0L1020.9 1325.2L1023.9 1324.5L1028.9 1325.2L1034.9 1324.7L1036.9 1324.1L1037.9 1323.1L1040.9 1324.5L1044.9 1325.2L1048.9 1325.2L1050.9 1324.2L1053.9 1325.2L1058.9 1325.2L1061.9 1324.0L1071.9 1325.2L1078.9 1325.2L1081.9 1324.5L1083.9 1325.2L1085.9 1324.4L1088.9 1325.2L1093.9 1325.2L1098.9 1325.0L1100.9 1324.3L1105.9 1325.2L1115.9 1324.2L1118.9 1325.2L1120.9 1324.2L1123.9 1325.2L1125.9 1324.7L1128.9 1325.2L1135.9 1324.8L1140.9 1321.8L1143.9 1324.7L1148.9 1325.2L1153.9 1324.6L1156.9 1325.1L1158.9 1324.3L1165.9 1325.2L1168.9 1324.0L1170.9 1325.0L1173.9 1324.0L1175.9 1325.0L1178.9 1325.2L1180.9 1325.2L1183.9 1324.0L1186.9 1325.2L1196.9 1324.7L1203.9 1325.2L1211.9 1324.2L1216.9 1325.2L1223.9 1324.7L1228.9 1325.2L1238.9 1324.0L1240.9 1325.0L1243.9 1324.6L1246.9 1325.2L1265.9 1325.2L1268.9 1324.6L1271.9 1325.1L1275.9 1324.3L1283.9 1325.2L1286.9 1324.8L1295.9 1325.2L1303.9 1324.3L1308.9 1325.2L1326.9 1325.1L1330.9 1324.4L1332.9 1322.9L1335.9 1318.2L1337.9 1311.1L1339.9 1317.4L1340.9 1318.3L1341.9 1318.3L1342.9 1317.5L1344.9 1313.2L1345.9 1309.4L1348.9 1289.1L1350.9 1305.7L1352.9 1313.9L1354.9 1318.3L1356.9 1320.9L1360.9 1323.9L1362.9 1324.6L1368.9 1324.6L1370.9 1323.7L1372.9 1321.3L1374.9 1316.4L1375.9 1319.2L1376.9 1320.6L1377.9 1320.9L1378.9 1320.2L1380.9 1315.3L1381.9 1319.1L1383.9 1322.7L1393.9 1325.2L1398.9 1324.7L1403.9 1325.2L1406.9 1324.0L1408.9 1324.7L1410.9 1323.6L1411.9 1322.3L1413.9 1318.3L1415.9 1322.9L1417.9 1324.5L1419.9 1324.9L1423.9 1324.1L1426.9 1325.1L1435.9 1325.2L1441.9 1324.1L1448.9 1325.2L1460.9 1324.4L1463.9 1325.2L1470.9 1325.1L1474.9 1322.9L1476.9 1324.5L1479.9 1325.1L1488.9 1324.3L1491.9 1325.0L1500.9 1325.2L1503.9 1324.6L1506.9 1325.2L1511.9 1324.7L1515.9 1325.2L1518.9 1324.0L1521.9 1325.2L1525.9 1325.2L1528.9 1324.0L1530.9 1324.1L1533.9 1325.1L1538.9 1323.9L1541.9 1325.0L1544.9 1324.7L1550.9 1321.8L1553.9 1317.1L1556.9 1305.9L1558.9 1290.4L1559.9 1290.5L1561.9 1306.0L1564.9 1317.0L1566.9 1320.4L1572.9 1324.1L1573.3 1325.7Z" fill="#c4dc94" stroke="#a8cc78" stroke-width="0.6" stroke-linejoin="round"/>
<text x="1583.0" y="1312.2" font-size="20.8" class="dv">IP_IT</text>
<path d="M193.9 1367.6000000000001L193.9 1366.9L201.9 1367.1L205.9 1366.1L208.9 1367.1L213.9 1367.1L220.9 1365.9L223.9 1367.1L228.9 1367.1L231.9 1366.1L233.9 1367.0L236.9 1366.4L241.9 1367.1L248.9 1365.9L251.9 1367.1L258.9 1365.7L262.9 1359.3L263.9 1362.4L265.9 1365.1L270.9 1366.9L276.9 1366.1L279.9 1364.1L281.9 1361.5L282.9 1363.2L285.9 1366.2L295.9 1366.2L297.9 1364.8L299.9 1360.5L301.9 1364.5L303.9 1366.1L305.9 1366.8L308.9 1365.8L311.9 1367.1L323.9 1366.6L333.9 1367.1L338.9 1366.3L343.9 1367.1L345.9 1366.7L355.9 1367.1L358.9 1365.6L360.9 1366.1L361.9 1365.7L364.9 1361.3L365.9 1358.6L366.9 1358.0L367.9 1361.5L369.9 1364.9L372.9 1366.6L375.9 1367.0L385.9 1366.9L388.9 1365.9L391.9 1367.1L398.9 1366.5L401.9 1367.1L405.9 1366.6L408.9 1367.1L418.9 1366.8L428.9 1367.1L448.9 1366.5L451.9 1367.1L455.9 1367.1L458.9 1366.9L460.9 1366.1L465.9 1367.1L473.9 1366.5L476.9 1367.1L488.9 1367.1L490.9 1366.1L493.9 1366.7L496.9 1366.2L498.9 1364.5L499.9 1362.7L503.9 1366.8L508.9 1367.1L510.9 1366.7L518.9 1367.1L523.9 1365.5L526.9 1366.6L528.9 1366.3L531.9 1367.1L535.9 1367.1L538.9 1365.9L540.9 1366.9L543.9 1366.2L546.9 1367.0L553.9 1366.6L556.9 1367.1L563.9 1367.1L566.9 1366.0L571.9 1367.1L575.9 1367.1L578.9 1366.3L581.9 1367.1L586.9 1366.0L591.9 1367.1L598.9 1367.1L603.9 1366.2L606.9 1367.0L608.9 1366.5L618.9 1366.4L621.9 1366.8L630.9 1366.0L635.9 1367.1L643.9 1366.5L648.9 1367.1L653.9 1366.4L655.9 1366.7L657.9 1366.0L660.9 1363.2L662.9 1356.7L665.9 1364.7L666.9 1365.5L670.9 1365.9L673.9 1367.1L688.9 1367.1L690.9 1366.1L693.9 1367.1L705.9 1366.6L708.9 1367.1L713.9 1366.2L716.9 1367.0L730.9 1367.1L733.9 1365.7L735.9 1365.9L737.9 1364.7L738.9 1364.7L740.9 1366.0L743.9 1367.0L748.9 1367.0L751.9 1366.3L753.9 1367.0L770.9 1367.1L773.9 1366.7L776.9 1367.1L783.9 1366.9L787.9 1365.0L789.9 1362.4L790.9 1359.7L791.9 1359.7L792.9 1360.8L794.9 1359.6L796.9 1353.6L797.9 1354.3L799.9 1361.8L802.9 1365.5L803.9 1366.3L810.9 1367.1L821.9 1367.0L823.9 1366.6L825.9 1365.3L827.9 1366.4L829.9 1366.8L843.9 1367.0L846.9 1366.4L849.9 1363.9L850.9 1364.0L852.9 1365.8L858.9 1367.1L861.9 1366.2L863.9 1367.0L868.9 1366.6L871.9 1367.0L873.9 1366.3L878.9 1367.0L883.9 1366.0L886.9 1360.6L888.9 1365.0L889.9 1365.8L892.9 1366.8L895.9 1367.0L898.9 1365.9L900.9 1366.8L903.9 1367.1L906.9 1366.6L908.9 1367.1L928.9 1367.1L933.9 1366.1L938.9 1367.1L943.9 1366.6L946.9 1366.9L948.9 1366.2L953.9 1367.2L958.9 1366.7L961.9 1367.1L973.9 1367.1L976.9 1366.0L981.9 1367.1L985.9 1367.1L988.9 1366.3L991.9 1367.0L996.9 1366.4L998.9 1367.1L1001.9 1365.9L1003.9 1366.0L1006.9 1367.1L1010.9 1366.4L1012.9 1364.5L1013.9 1364.3L1016.9 1366.7L1023.9 1367.0L1025.9 1366.1L1030.9 1367.0L1033.9 1366.1L1035.9 1366.4L1038.9 1365.9L1041.9 1367.1L1048.9 1367.0L1051.9 1366.0L1053.9 1365.9L1056.9 1367.1L1060.9 1366.9L1063.9 1365.9L1068.9 1367.2L1071.9 1366.3L1078.9 1367.2L1081.9 1366.7L1085.9 1367.0L1088.9 1365.9L1090.9 1366.8L1093.9 1366.5L1098.9 1367.1L1108.9 1365.9L1115.9 1367.1L1120.9 1367.2L1123.9 1365.9L1126.9 1366.9L1133.9 1367.2L1136.9 1366.6L1138.9 1367.2L1140.9 1367.1L1143.9 1365.9L1146.9 1366.4L1153.9 1365.9L1155.9 1366.6L1158.9 1366.3L1160.9 1367.0L1163.9 1366.5L1168.9 1367.0L1170.9 1366.1L1173.9 1367.2L1183.9 1367.2L1193.9 1365.9L1196.9 1366.9L1198.9 1365.9L1203.9 1367.2L1208.9 1366.8L1210.9 1366.1L1213.9 1367.1L1218.9 1366.3L1221.9 1367.1L1228.9 1367.1L1236.9 1366.4L1238.9 1366.7L1241.9 1366.0L1245.9 1367.0L1248.9 1365.9L1253.9 1367.0L1266.9 1367.1L1271.9 1366.0L1280.9 1367.1L1283.9 1367.1L1285.9 1366.1L1288.9 1365.9L1290.9 1366.6L1296.9 1367.1L1313.9 1367.1L1320.9 1366.4L1323.9 1367.1L1333.9 1366.0L1337.9 1360.4L1338.9 1362.7L1339.9 1363.6L1340.9 1363.8L1342.9 1362.5L1344.9 1358.5L1345.9 1355.2L1348.9 1337.0L1350.9 1351.7L1352.9 1359.3L1354.9 1362.7L1358.9 1366.0L1360.9 1366.6L1363.9 1366.1L1366.9 1367.0L1368.9 1366.7L1370.9 1365.9L1372.9 1364.2L1374.9 1365.6L1376.9 1365.7L1378.9 1364.1L1380.9 1360.1L1382.9 1363.9L1385.9 1366.4L1388.9 1367.0L1403.9 1367.1L1406.9 1366.0L1408.9 1366.8L1411.9 1365.1L1413.9 1362.3L1415.9 1365.0L1418.9 1365.6L1421.9 1366.9L1430.9 1367.1L1433.9 1366.5L1450.9 1367.1L1453.9 1366.3L1455.9 1367.0L1458.9 1366.7L1463.9 1367.1L1465.9 1367.1L1468.9 1365.9L1473.9 1366.3L1478.9 1365.9L1481.9 1367.1L1503.9 1366.5L1506.9 1367.1L1513.9 1366.7L1518.9 1367.1L1526.9 1366.7L1528.9 1367.1L1538.9 1366.8L1540.9 1366.0L1543.9 1366.5L1548.9 1366.0L1552.9 1362.8L1554.9 1359.4L1556.9 1352.4L1558.9 1338.6L1559.9 1338.5L1561.9 1351.8L1564.9 1361.5L1567.9 1365.0L1570.9 1366.4L1572.9 1366.2L1573.3 1367.6000000000001Z" fill="#a8d464" stroke="#8cc448" stroke-width="0.6" stroke-linejoin="round"/>
<text x="1583.0" y="1354.1" font-size="20.8" class="dv">IMN_nonIT</text>
<path d="M193.9 1409.5L193.9 1408.4L196.9 1407.7L205.9 1408.9L208.9 1408.0L213.9 1409.0L215.9 1407.1L216.9 1407.1L218.9 1408.8L228.9 1408.6L231.9 1408.0L235.9 1408.7L238.9 1408.0L240.9 1406.9L241.9 1407.1L243.9 1409.0L246.9 1408.6L250.9 1408.9L255.9 1408.4L260.9 1406.2L263.9 1406.2L266.9 1407.0L269.9 1405.0L270.9 1406.4L271.9 1406.5L273.9 1404.6L275.9 1404.4L276.9 1402.7L279.9 1389.8L280.9 1389.0L282.9 1399.0L285.9 1405.9L286.9 1406.9L288.9 1407.1L291.9 1408.3L296.9 1407.5L298.9 1404.7L299.9 1402.0L301.9 1406.0L302.9 1406.8L311.9 1408.9L325.9 1408.4L328.9 1406.6L330.9 1408.2L331.9 1408.2L333.9 1406.6L336.9 1408.2L338.9 1408.6L343.9 1409.0L345.9 1407.6L346.9 1407.5L348.9 1408.5L351.9 1408.4L353.9 1407.6L356.9 1403.0L358.9 1406.8L361.9 1405.7L363.9 1403.2L365.9 1396.3L366.9 1394.9L368.9 1401.5L373.9 1408.1L376.9 1408.8L380.9 1409.0L386.9 1408.9L390.9 1407.7L393.9 1408.8L395.9 1407.1L396.9 1406.9L398.9 1407.9L400.9 1406.9L401.9 1407.0L403.9 1408.2L405.9 1408.6L410.9 1407.9L428.9 1408.9L433.9 1408.6L435.9 1407.4L438.9 1406.6L440.9 1406.6L443.9 1408.8L445.9 1408.3L448.9 1406.6L453.9 1409.0L458.9 1408.2L465.9 1409.0L468.9 1408.1L470.9 1408.8L471.9 1408.5L473.9 1406.6L476.9 1408.4L478.9 1408.0L485.9 1408.8L488.9 1406.6L495.9 1407.0L497.9 1404.8L499.9 1400.7L500.9 1402.9L501.9 1404.0L502.9 1404.1L504.9 1401.9L505.9 1398.8L507.9 1404.0L509.9 1406.0L513.9 1408.7L528.9 1408.7L531.9 1408.2L535.9 1408.9L538.9 1408.2L540.9 1407.0L545.9 1408.9L548.9 1408.3L550.9 1408.7L553.9 1406.6L555.9 1406.6L558.9 1408.9L560.9 1409.0L563.9 1407.6L568.9 1408.9L573.9 1408.9L578.9 1408.2L580.9 1407.1L581.9 1407.1L583.9 1408.3L585.9 1407.0L586.9 1407.2L588.9 1409.0L590.9 1408.2L593.9 1408.1L595.9 1406.9L596.9 1407.0L598.9 1408.5L600.9 1407.9L603.9 1408.9L606.9 1407.7L611.9 1408.8L613.9 1408.5L615.9 1407.0L616.9 1407.0L618.9 1408.5L621.9 1407.9L623.9 1406.6L626.9 1409.0L633.9 1408.6L635.9 1407.9L638.9 1408.8L643.9 1408.1L645.9 1408.6L648.9 1406.6L651.9 1408.3L653.9 1408.6L656.9 1408.1L659.9 1406.3L661.9 1403.3L662.9 1400.6L665.9 1407.0L666.9 1407.5L668.9 1407.2L670.9 1408.1L675.9 1408.8L678.9 1407.6L680.9 1408.7L681.9 1408.6L683.9 1407.2L686.9 1407.0L688.9 1407.2L690.9 1408.4L691.9 1408.5L693.9 1407.5L696.9 1408.8L700.9 1408.0L703.9 1408.7L706.9 1406.8L710.9 1406.7L713.9 1408.5L716.9 1408.0L723.9 1408.0L725.9 1408.8L726.9 1408.5L728.9 1406.6L733.9 1407.4L735.9 1406.3L738.9 1408.1L742.9 1408.1L743.9 1408.0L745.9 1404.9L746.9 1404.3L751.9 1408.3L755.9 1408.6L760.9 1405.2L761.9 1406.9L765.9 1408.6L768.9 1408.6L770.9 1407.0L771.9 1407.0L773.9 1408.6L775.9 1408.8L778.9 1407.7L781.9 1408.0L783.9 1406.6L786.9 1402.3L788.9 1397.5L790.9 1384.1L791.9 1384.7L793.9 1392.9L794.9 1392.3L796.9 1384.4L797.9 1385.5L799.9 1397.4L801.9 1402.9L808.9 1408.4L811.9 1408.0L816.9 1408.8L818.9 1408.8L820.9 1407.1L823.9 1406.1L825.9 1408.1L826.9 1408.3L828.9 1407.7L831.9 1408.7L833.9 1407.7L835.9 1407.6L838.9 1408.9L840.9 1407.5L841.9 1407.5L843.9 1408.9L844.9 1408.8L847.9 1408.0L849.9 1405.6L850.9 1405.2L853.9 1408.0L856.9 1408.9L861.9 1408.0L866.9 1408.9L870.9 1408.0L873.9 1408.7L876.9 1407.5L878.9 1408.4L880.9 1406.9L883.9 1407.4L886.9 1402.2L887.9 1402.8L888.9 1405.6L889.9 1406.7L892.9 1408.3L893.9 1408.7L895.9 1407.0L896.9 1407.0L898.9 1408.6L900.9 1407.4L901.9 1407.5L903.9 1408.9L906.9 1407.9L913.9 1408.5L916.9 1406.9L925.9 1407.1L928.9 1406.6L933.9 1408.6L935.9 1408.8L941.9 1408.7L945.9 1406.9L946.9 1407.0L948.9 1408.6L950.9 1408.4L953.9 1406.7L955.9 1408.2L958.9 1409.0L963.9 1406.6L965.9 1408.3L968.9 1408.9L971.9 1408.3L980.9 1408.4L983.9 1409.0L986.9 1408.4L988.9 1407.1L995.9 1408.7L998.9 1408.1L1001.9 1408.4L1003.9 1407.5L1006.9 1408.7L1008.9 1407.9L1010.9 1408.1L1012.9 1406.8L1020.9 1408.8L1023.9 1407.6L1033.9 1408.1L1035.9 1406.4L1037.9 1405.8L1038.9 1407.2L1040.9 1408.5L1045.9 1409.0L1048.9 1407.3L1053.9 1408.8L1058.9 1408.7L1060.9 1408.4L1063.9 1406.6L1068.9 1406.6L1070.9 1408.0L1073.9 1407.8L1076.9 1408.7L1083.9 1407.7L1088.9 1408.8L1090.9 1408.0L1093.9 1408.5L1100.9 1408.0L1105.9 1408.9L1108.9 1407.9L1111.9 1408.9L1120.9 1408.8L1123.9 1406.7L1128.9 1408.3L1130.9 1407.0L1131.9 1407.1L1133.9 1409.0L1138.9 1408.6L1141.9 1408.9L1145.9 1407.3L1146.9 1407.4L1148.9 1408.8L1156.9 1408.4L1158.9 1408.7L1160.9 1407.9L1163.9 1408.7L1166.9 1407.8L1170.9 1408.8L1173.9 1408.2L1175.9 1407.1L1176.9 1407.2L1178.9 1409.0L1180.9 1408.9L1183.9 1407.5L1188.9 1408.9L1198.9 1408.9L1203.9 1407.7L1208.9 1408.9L1213.9 1406.7L1216.9 1408.6L1218.9 1408.7L1221.9 1407.3L1225.9 1408.8L1228.9 1407.7L1231.9 1407.9L1233.9 1406.7L1238.9 1408.7L1243.9 1409.0L1248.9 1408.5L1253.9 1409.0L1256.9 1408.8L1261.9 1406.6L1263.9 1406.6L1266.9 1407.9L1270.9 1406.9L1273.9 1408.3L1275.9 1408.4L1278.9 1406.8L1280.9 1408.6L1281.9 1408.5L1283.9 1406.6L1285.9 1408.4L1286.9 1408.5L1288.9 1407.0L1291.9 1408.3L1296.9 1409.0L1300.9 1409.0L1303.9 1407.4L1306.9 1408.9L1311.9 1408.7L1315.9 1407.3L1318.9 1408.8L1325.9 1408.3L1328.9 1406.3L1330.9 1407.8L1331.9 1407.7L1333.9 1405.3L1335.9 1400.5L1336.9 1402.8L1337.9 1403.8L1340.9 1404.0L1342.9 1402.5L1344.9 1398.8L1345.9 1395.6L1348.9 1376.9L1350.9 1391.7L1353.9 1402.6L1355.9 1404.5L1358.9 1405.4L1360.9 1407.7L1361.9 1408.2L1363.9 1407.6L1368.9 1408.0L1371.9 1405.0L1372.9 1405.0L1374.9 1407.3L1376.9 1407.7L1378.9 1406.8L1380.9 1404.7L1382.9 1407.3L1385.9 1408.4L1388.9 1408.5L1390.9 1407.0L1391.9 1407.1L1393.9 1409.0L1400.9 1408.4L1403.9 1407.2L1406.9 1408.5L1408.9 1407.7L1410.9 1405.3L1411.9 1404.9L1413.9 1408.0L1416.9 1408.0L1420.9 1408.7L1423.9 1407.3L1425.9 1408.6L1426.9 1408.5L1428.9 1406.6L1431.9 1408.6L1433.9 1408.8L1436.9 1408.0L1438.9 1405.8L1439.9 1403.7L1440.9 1403.7L1443.9 1407.5L1448.9 1408.8L1450.9 1408.1L1453.9 1408.8L1456.9 1408.3L1463.9 1408.7L1465.9 1407.0L1466.9 1406.9L1468.9 1408.1L1470.9 1408.3L1472.9 1407.5L1474.9 1406.0L1476.9 1407.8L1480.9 1408.5L1483.9 1407.0L1486.9 1408.8L1498.9 1408.9L1503.9 1407.8L1506.9 1408.3L1508.9 1407.7L1513.9 1408.8L1516.9 1408.4L1528.9 1408.8L1533.9 1407.8L1538.9 1408.9L1541.9 1408.4L1545.9 1406.7L1547.9 1404.0L1548.9 1401.1L1550.9 1402.2L1552.9 1400.9L1553.9 1399.2L1556.9 1388.4L1558.9 1373.5L1559.9 1373.4L1561.9 1388.7L1564.9 1399.6L1566.9 1403.5L1568.9 1404.0L1570.9 1406.5L1571.9 1406.9L1572.9 1406.5L1573.3 1409.5Z" fill="#86a646" stroke="#6c9030" stroke-width="0.6" stroke-linejoin="round"/>
<text x="1583.0" y="1396.0" font-size="20.8" class="dv">IMN_IT</text>
<path d="M193.9 1451.4L193.9 1450.4L198.9 1451.0L203.9 1450.8L205.9 1450.3L208.9 1451.0L218.9 1451.0L220.9 1450.5L223.9 1450.9L240.9 1450.9L243.9 1450.1L246.9 1450.9L253.9 1450.5L256.9 1450.9L271.9 1450.9L276.9 1450.2L278.9 1448.8L280.9 1446.2L283.9 1450.2L288.9 1450.9L293.9 1450.1L298.9 1450.9L300.9 1450.2L303.9 1450.9L308.9 1450.1L311.9 1450.9L323.9 1450.1L328.9 1450.9L341.9 1450.5L348.9 1450.9L351.9 1450.3L355.9 1450.9L358.9 1450.4L363.9 1450.8L366.9 1449.5L369.9 1450.6L373.9 1450.2L376.9 1450.9L388.9 1450.4L395.9 1450.8L398.9 1450.1L403.9 1450.8L408.9 1450.1L413.9 1450.9L415.9 1450.2L418.9 1451.0L421.9 1450.2L428.9 1451.0L450.9 1450.9L453.9 1450.5L460.9 1450.9L480.9 1450.8L483.9 1450.1L486.9 1450.9L491.9 1449.6L495.9 1450.8L499.9 1450.9L503.9 1450.5L505.9 1449.5L508.9 1450.7L513.9 1450.9L515.9 1450.4L518.9 1450.9L520.9 1450.4L523.9 1450.9L535.9 1450.9L538.9 1450.4L541.9 1450.9L548.9 1450.5L551.9 1450.9L578.9 1451.0L581.9 1450.4L583.9 1451.0L595.9 1451.0L598.9 1450.9L600.9 1450.2L603.9 1451.0L613.9 1450.1L623.9 1450.9L631.9 1450.2L635.9 1450.7L638.9 1450.1L641.9 1450.8L653.9 1450.9L659.9 1450.6L662.9 1448.9L665.9 1450.6L672.9 1450.9L675.9 1450.9L678.9 1450.1L681.9 1450.8L685.9 1450.5L688.9 1450.9L700.9 1450.9L703.9 1450.3L706.9 1450.8L708.9 1450.1L711.9 1450.9L721.9 1450.3L733.9 1450.9L737.9 1450.1L743.9 1450.9L748.9 1450.8L750.9 1450.2L753.9 1450.9L768.9 1450.9L771.9 1450.1L776.9 1450.9L781.9 1450.4L783.9 1450.9L785.9 1450.4L793.9 1451.0L796.9 1450.2L798.9 1450.8L803.9 1450.1L810.9 1451.0L813.9 1450.1L821.9 1450.9L825.9 1450.6L831.9 1450.9L835.9 1450.2L838.9 1451.0L843.9 1450.1L846.9 1451.0L853.9 1451.0L855.9 1450.2L858.9 1451.0L863.9 1450.3L873.9 1451.0L875.9 1450.5L878.9 1451.0L905.9 1451.0L908.9 1450.5L920.9 1450.9L925.9 1450.1L928.9 1451.0L958.9 1451.0L960.9 1450.2L963.9 1451.0L968.9 1450.9L970.9 1450.3L973.9 1451.0L980.9 1450.9L983.9 1450.4L986.9 1450.8L988.9 1450.2L991.9 1450.8L993.9 1450.1L998.9 1451.0L1000.9 1450.6L1003.9 1451.0L1005.9 1450.5L1008.9 1451.0L1011.9 1450.1L1016.9 1450.9L1025.9 1450.3L1028.9 1451.0L1033.9 1450.9L1038.9 1450.1L1043.9 1451.0L1053.9 1451.0L1055.9 1450.5L1065.9 1450.9L1068.9 1450.2L1073.9 1450.9L1093.9 1451.0L1096.9 1450.4L1098.9 1451.0L1108.9 1450.4L1113.9 1451.0L1118.9 1450.3L1121.9 1450.7L1123.9 1450.1L1126.9 1450.9L1138.9 1450.1L1141.9 1450.9L1153.9 1451.0L1158.9 1450.1L1161.9 1450.9L1173.9 1450.4L1178.9 1451.0L1181.9 1450.1L1188.9 1451.0L1191.9 1450.2L1203.9 1451.0L1210.9 1450.2L1213.9 1451.0L1221.9 1450.5L1226.9 1450.9L1258.9 1450.9L1268.9 1450.1L1271.9 1450.9L1290.9 1450.9L1295.9 1450.3L1298.9 1450.9L1303.9 1450.7L1306.9 1449.6L1308.9 1450.7L1313.9 1450.9L1316.9 1450.2L1318.9 1450.8L1328.9 1450.9L1333.9 1450.1L1338.9 1450.0L1341.9 1450.7L1345.9 1449.4L1346.9 1448.7L1348.9 1445.3L1349.9 1447.6L1351.9 1449.7L1353.9 1450.6L1358.9 1450.9L1375.9 1450.9L1380.9 1450.0L1385.9 1450.9L1388.9 1450.1L1391.9 1450.8L1395.9 1450.4L1398.9 1450.9L1403.9 1450.4L1416.9 1450.9L1420.9 1450.2L1423.9 1450.6L1428.9 1450.1L1433.9 1450.9L1437.9 1450.5L1439.9 1449.4L1443.9 1450.6L1446.9 1450.2L1448.9 1450.7L1451.9 1450.3L1455.9 1450.9L1458.9 1450.1L1461.9 1450.9L1465.9 1450.6L1468.9 1450.9L1473.9 1450.1L1476.9 1450.9L1508.9 1450.9L1511.9 1450.4L1513.9 1450.9L1518.9 1450.4L1521.9 1450.9L1540.9 1450.9L1543.9 1450.1L1546.9 1450.9L1553.9 1450.5L1555.9 1449.6L1557.9 1446.8L1558.9 1444.0L1559.9 1444.3L1561.9 1448.7L1563.9 1450.1L1568.9 1450.8L1572.9 1450.4L1573.3 1451.4Z" fill="#6a6a6a" stroke="#505050" stroke-width="0.6" stroke-linejoin="round"/>
<text x="1583.0" y="1437.9" font-size="20.8" class="dv">L6 CT CTX Glut</text>
<path d="M193.9 1493.3000000000002L193.9 1492.1L198.9 1492.8L200.9 1492.6L203.9 1491.4L206.9 1492.5L208.9 1491.5L211.9 1492.5L213.9 1492.7L216.9 1492.2L218.9 1492.8L223.9 1492.6L226.9 1491.8L233.9 1492.8L238.9 1492.8L243.9 1492.3L246.9 1492.7L248.9 1492.2L251.9 1492.7L256.9 1491.5L260.9 1492.7L263.9 1491.4L266.9 1491.9L268.9 1491.4L273.9 1492.5L275.9 1491.8L277.9 1490.0L279.9 1485.4L280.9 1484.6L282.9 1489.3L288.9 1492.7L294.9 1491.7L297.9 1490.6L299.9 1492.0L305.9 1492.7L308.9 1491.9L311.9 1492.8L318.9 1492.3L325.9 1492.8L328.9 1491.7L330.9 1492.4L333.9 1491.5L336.9 1492.5L345.9 1492.8L348.9 1492.2L353.9 1492.8L355.9 1492.3L358.9 1492.7L361.9 1491.5L364.9 1491.8L366.9 1490.4L369.9 1491.9L375.9 1492.8L383.9 1492.3L395.9 1492.8L398.9 1492.2L401.9 1492.4L403.9 1491.4L405.9 1492.3L408.9 1492.8L410.9 1491.7L411.9 1491.7L413.9 1492.8L418.9 1492.3L428.9 1492.8L431.9 1492.2L433.9 1492.8L435.9 1492.3L438.9 1492.8L443.9 1492.1L446.9 1488.8L448.9 1491.8L449.9 1492.1L455.9 1492.4L458.9 1491.4L461.9 1492.5L468.9 1492.8L471.9 1491.6L473.9 1492.6L475.9 1492.1L478.9 1492.7L485.9 1492.8L491.9 1489.9L496.9 1492.1L498.9 1491.3L503.9 1491.2L505.9 1489.3L508.9 1492.3L513.9 1492.8L516.9 1491.5L523.9 1492.7L528.9 1492.8L531.9 1491.7L535.9 1491.7L540.9 1492.7L545.9 1492.8L550.9 1492.6L553.9 1491.4L555.9 1491.4L560.9 1492.8L563.9 1492.6L566.9 1491.7L571.9 1492.9L573.9 1492.9L575.9 1491.7L576.9 1491.7L578.9 1492.9L585.9 1492.5L588.9 1492.9L593.9 1492.4L600.9 1492.8L603.9 1492.0L605.9 1492.5L608.9 1491.9L613.9 1492.6L615.9 1491.6L620.9 1492.8L623.9 1492.6L625.9 1491.6L628.9 1492.8L630.9 1491.7L631.9 1491.7L633.9 1492.8L643.9 1492.8L648.9 1491.4L651.9 1492.7L653.9 1492.8L655.9 1492.3L659.9 1492.3L661.9 1491.0L662.9 1489.4L663.9 1490.5L669.9 1492.8L675.9 1492.2L678.9 1492.8L681.9 1491.6L683.9 1492.6L689.9 1491.0L693.9 1492.4L696.9 1492.2L698.9 1492.8L700.9 1492.8L703.9 1491.4L705.9 1491.4L710.9 1492.5L713.9 1492.2L716.9 1492.8L718.9 1492.8L721.9 1491.9L726.9 1492.7L730.9 1492.2L733.9 1492.8L738.9 1492.3L741.9 1492.7L745.9 1492.2L748.9 1492.8L757.9 1492.1L758.9 1491.8L760.9 1489.7L763.9 1492.2L768.9 1492.8L773.9 1492.2L775.9 1492.7L778.9 1491.4L781.9 1492.4L785.9 1492.2L788.9 1491.3L790.9 1489.4L793.9 1491.3L795.9 1490.2L796.9 1488.9L797.9 1489.0L800.9 1491.9L803.9 1492.7L811.9 1492.2L821.9 1492.8L830.9 1492.4L846.9 1492.8L853.9 1492.2L856.9 1492.8L861.9 1491.5L871.9 1492.7L876.9 1492.4L878.9 1492.9L881.9 1491.7L883.9 1492.8L885.9 1492.7L888.9 1491.4L891.9 1492.8L895.9 1492.4L903.9 1492.9L905.9 1492.8L908.9 1491.4L910.9 1492.4L913.9 1492.9L915.9 1492.0L918.9 1492.9L920.9 1491.9L923.9 1491.6L938.9 1492.8L940.9 1491.7L941.9 1491.7L943.9 1492.9L948.9 1492.8L951.9 1491.5L956.9 1492.4L958.9 1491.4L960.9 1492.1L963.9 1491.5L968.9 1492.9L973.9 1491.4L975.9 1491.4L978.9 1492.7L985.9 1492.1L988.9 1492.6L991.9 1492.2L993.9 1492.6L1003.9 1492.7L1006.9 1491.7L1008.9 1492.7L1013.9 1492.8L1016.9 1491.4L1023.9 1491.6L1025.9 1490.8L1026.9 1491.5L1036.9 1492.7L1040.9 1492.5L1043.9 1491.6L1048.9 1492.5L1055.9 1492.1L1060.9 1492.5L1063.9 1491.7L1066.9 1492.3L1070.9 1491.5L1076.9 1492.7L1083.9 1492.9L1086.9 1492.1L1095.9 1492.8L1098.9 1491.9L1101.9 1492.7L1110.9 1492.8L1120.9 1492.0L1128.9 1492.9L1133.9 1491.6L1143.9 1492.9L1148.9 1492.9L1150.9 1492.8L1153.9 1491.4L1156.9 1492.7L1160.9 1492.4L1163.9 1492.9L1165.9 1492.4L1170.9 1492.9L1173.9 1492.3L1178.9 1492.9L1181.9 1491.8L1193.9 1492.8L1196.9 1492.4L1208.9 1492.8L1211.9 1492.2L1218.9 1492.9L1220.9 1492.8L1223.9 1491.7L1228.9 1492.6L1240.9 1492.8L1245.9 1492.3L1248.9 1492.8L1253.9 1491.4L1255.9 1492.4L1258.9 1492.8L1260.9 1492.3L1263.9 1492.8L1268.9 1492.7L1271.9 1491.9L1273.9 1492.5L1278.9 1492.3L1286.9 1492.8L1291.9 1491.9L1298.9 1492.7L1300.9 1492.2L1302.9 1490.8L1304.9 1492.1L1306.9 1492.6L1323.9 1492.8L1326.9 1492.0L1328.9 1492.8L1330.9 1492.8L1335.9 1491.8L1338.9 1492.2L1340.9 1491.6L1343.9 1491.9L1346.9 1488.5L1348.9 1484.0L1349.9 1487.5L1351.9 1490.7L1353.9 1490.7L1356.9 1492.5L1358.9 1492.3L1361.9 1492.8L1368.9 1492.6L1371.9 1491.5L1376.9 1492.4L1378.9 1491.5L1381.9 1488.1L1385.9 1491.7L1393.9 1492.8L1403.9 1492.2L1406.9 1492.6L1411.9 1490.2L1413.9 1492.3L1418.9 1492.0L1423.9 1492.8L1425.9 1492.5L1433.9 1492.7L1437.9 1491.4L1439.9 1488.6L1440.9 1488.8L1442.9 1490.5L1448.9 1492.8L1451.9 1492.4L1455.9 1492.6L1458.9 1491.9L1460.9 1492.5L1463.9 1491.4L1466.9 1491.9L1468.9 1491.3L1471.9 1492.4L1473.9 1491.4L1474.9 1490.1L1480.9 1492.1L1486.9 1492.0L1491.9 1492.7L1498.9 1492.6L1503.9 1491.4L1508.9 1492.8L1513.9 1492.8L1516.9 1492.1L1518.9 1492.8L1521.9 1491.6L1523.9 1492.6L1528.9 1492.8L1533.9 1492.3L1535.9 1492.7L1538.9 1492.2L1543.9 1492.8L1548.9 1491.7L1553.9 1491.5L1554.9 1490.8L1556.9 1487.8L1558.9 1480.8L1559.9 1480.2L1561.9 1486.6L1563.9 1490.4L1566.9 1492.3L1572.9 1492.5L1573.3 1493.3000000000002Z" fill="#5c0a28" stroke="#4a0420" stroke-width="0.6" stroke-linejoin="round"/>
<text x="1583.0" y="1479.8" font-size="20.8" class="dv">L5_IT_CTX_Glut</text>
<path d="M193.9 1535.2L193.9 1534.7L196.9 1534.2L198.9 1533.1L200.9 1534.4L201.9 1534.3L203.9 1532.9L206.9 1533.7L208.9 1533.1L211.9 1534.3L218.9 1533.0L221.9 1534.2L223.9 1534.2L226.9 1531.9L228.9 1533.4L233.9 1533.8L235.9 1533.6L238.9 1532.2L248.9 1534.2L251.9 1534.0L256.9 1532.6L258.9 1532.7L261.9 1534.6L265.9 1534.5L268.9 1533.4L271.9 1534.0L275.9 1532.5L277.9 1529.9L279.9 1525.3L280.9 1525.2L282.9 1530.8L285.9 1533.8L288.9 1533.5L290.9 1533.9L293.9 1532.3L295.9 1534.1L296.9 1534.3L300.9 1532.4L301.9 1532.6L303.9 1534.6L310.9 1532.4L311.9 1532.6L313.9 1534.4L315.9 1534.5L320.9 1534.2L325.9 1532.4L328.9 1534.7L333.9 1532.2L336.9 1533.7L341.9 1534.3L348.9 1533.7L350.9 1534.1L353.9 1533.1L356.9 1534.1L358.9 1534.1L360.9 1531.8L363.9 1530.1L364.9 1527.6L368.9 1532.9L370.9 1533.5L374.9 1533.6L377.9 1532.4L380.9 1527.0L382.9 1531.6L383.9 1532.4L386.9 1532.7L388.9 1534.4L389.9 1534.4L391.9 1534.1L393.9 1532.7L395.9 1529.1L398.9 1533.6L401.9 1533.2L410.9 1533.8L413.9 1532.2L415.9 1533.6L418.9 1534.6L420.9 1532.7L421.9 1532.4L423.9 1533.3L430.9 1534.5L436.9 1534.2L438.9 1533.4L441.9 1534.3L444.9 1532.6L446.9 1530.7L448.9 1533.4L450.9 1534.2L455.9 1533.7L458.9 1532.2L461.9 1532.8L463.9 1534.5L470.9 1533.6L473.9 1532.2L475.9 1533.8L476.9 1533.8L478.9 1532.2L481.9 1534.4L487.9 1534.3L489.9 1533.4L491.9 1531.6L492.9 1532.8L494.9 1533.8L496.9 1533.7L498.9 1532.7L501.9 1533.8L503.9 1532.7L505.9 1529.8L507.9 1531.7L515.9 1534.5L521.9 1533.6L528.9 1534.5L531.9 1533.5L535.9 1534.5L543.9 1534.6L545.9 1534.3L548.9 1532.8L551.9 1534.4L553.9 1533.9L556.9 1534.5L558.9 1533.6L563.9 1534.6L566.9 1532.7L570.9 1532.4L573.9 1534.2L578.9 1534.7L581.9 1534.1L585.9 1534.5L588.9 1532.8L591.9 1534.5L595.9 1533.7L598.9 1534.4L601.9 1533.7L605.9 1534.5L610.9 1533.9L613.9 1534.7L621.9 1533.8L625.9 1534.5L628.9 1532.2L633.9 1534.2L638.9 1533.2L640.9 1533.9L645.9 1534.1L648.9 1533.3L651.9 1534.7L660.9 1533.4L662.9 1531.6L663.9 1533.0L664.9 1533.4L670.9 1534.1L675.9 1534.2L678.9 1532.7L683.9 1534.4L688.9 1534.5L691.9 1533.8L693.9 1534.6L695.9 1534.4L698.9 1533.0L700.9 1534.3L701.9 1534.3L703.9 1532.8L705.9 1534.1L706.9 1534.2L710.9 1532.3L713.9 1532.2L715.9 1533.5L718.9 1533.5L720.9 1534.2L723.9 1532.5L728.9 1534.5L733.9 1532.1L735.9 1533.0L737.9 1531.9L740.9 1533.6L741.9 1533.5L745.9 1530.9L746.9 1530.9L748.9 1533.5L750.9 1532.3L751.9 1532.4L753.9 1534.2L756.9 1533.2L760.9 1528.9L761.9 1531.3L763.9 1533.7L770.9 1534.4L773.9 1533.8L776.9 1534.7L780.9 1534.7L783.9 1533.8L785.9 1534.3L788.9 1532.1L790.9 1532.0L793.9 1533.6L795.9 1532.0L796.9 1530.5L797.9 1530.6L799.9 1533.1L801.9 1533.3L803.9 1532.0L805.9 1534.2L806.9 1534.3L808.9 1532.7L810.9 1533.8L813.9 1533.0L815.9 1533.7L818.9 1532.2L821.9 1534.2L823.9 1533.5L828.9 1533.4L830.9 1534.0L831.9 1533.8L833.9 1532.1L835.9 1533.7L837.9 1534.1L838.9 1534.2L840.9 1532.6L841.9 1532.5L843.9 1534.0L861.9 1534.5L866.9 1533.9L870.9 1532.0L871.9 1532.8L875.9 1533.9L878.9 1532.1L880.9 1534.0L883.9 1534.7L888.9 1533.3L891.9 1534.3L895.9 1534.4L898.9 1532.6L901.9 1534.3L903.9 1533.9L910.9 1534.6L913.9 1532.2L916.9 1534.3L920.9 1533.7L923.9 1534.3L930.9 1533.8L938.9 1534.4L940.9 1532.6L941.9 1532.5L943.9 1534.0L946.9 1534.5L955.9 1533.7L960.9 1534.6L963.9 1533.7L968.9 1534.4L973.9 1533.6L975.9 1534.3L978.9 1533.7L983.9 1534.4L988.9 1532.7L990.9 1534.3L991.9 1534.3L993.9 1532.6L996.9 1534.6L1000.9 1534.6L1003.9 1533.9L1005.9 1534.3L1006.9 1533.7L1010.9 1528.5L1012.9 1530.4L1014.9 1529.6L1015.9 1527.9L1017.9 1531.4L1019.9 1531.6L1021.9 1530.0L1022.9 1531.5L1024.9 1533.0L1028.9 1534.5L1030.9 1534.5L1033.9 1533.2L1035.9 1534.1L1038.9 1534.4L1041.9 1532.2L1043.9 1532.2L1045.9 1533.7L1046.9 1533.8L1048.9 1532.5L1050.9 1532.4L1053.9 1534.4L1056.9 1533.8L1060.9 1534.6L1063.9 1532.2L1066.9 1534.0L1068.9 1533.6L1073.9 1534.5L1078.9 1534.5L1080.9 1533.1L1083.9 1532.2L1085.9 1534.1L1086.9 1534.2L1088.9 1533.0L1091.9 1534.2L1093.9 1533.2L1096.9 1534.3L1098.9 1533.7L1103.9 1534.3L1106.9 1533.6L1108.9 1534.2L1111.9 1533.1L1113.9 1533.2L1116.9 1534.6L1121.9 1533.5L1126.9 1533.6L1128.9 1534.3L1130.9 1533.4L1133.9 1534.3L1135.9 1534.3L1137.9 1533.5L1140.9 1531.2L1142.9 1532.8L1148.9 1534.4L1153.9 1532.2L1156.9 1534.0L1160.9 1532.4L1161.9 1532.6L1163.9 1534.3L1165.9 1534.6L1168.9 1534.2L1170.9 1534.6L1173.9 1532.6L1181.9 1534.3L1185.9 1534.0L1188.9 1532.5L1190.9 1534.0L1193.9 1534.6L1196.9 1532.8L1200.9 1533.9L1203.9 1533.2L1206.9 1534.3L1208.9 1534.5L1211.9 1533.8L1213.9 1534.6L1218.9 1534.3L1220.9 1532.6L1221.9 1532.6L1223.9 1534.1L1225.9 1534.4L1233.9 1534.5L1238.9 1533.3L1243.9 1534.5L1248.9 1532.2L1251.9 1534.2L1253.9 1533.7L1256.9 1534.3L1261.9 1534.0L1265.9 1534.5L1268.9 1533.6L1273.9 1534.2L1283.9 1534.3L1285.9 1533.5L1288.9 1534.4L1293.9 1533.4L1296.9 1532.1L1298.9 1532.1L1300.9 1532.8L1302.9 1530.8L1304.9 1533.3L1307.9 1534.3L1308.9 1534.4L1311.9 1532.6L1313.9 1532.6L1314.9 1531.0L1317.9 1532.9L1323.9 1534.4L1326.9 1534.0L1328.9 1532.6L1331.9 1532.9L1333.9 1530.9L1335.9 1526.1L1338.9 1531.3L1343.9 1532.0L1346.9 1524.5L1348.9 1513.9L1350.9 1524.8L1352.9 1530.2L1353.9 1531.9L1355.9 1533.6L1358.9 1534.3L1361.9 1533.6L1366.9 1534.2L1368.9 1533.1L1370.9 1533.8L1371.9 1533.1L1373.9 1528.9L1374.9 1528.4L1375.9 1531.1L1376.9 1532.1L1380.9 1530.0L1382.9 1533.1L1385.9 1534.1L1388.9 1534.2L1390.9 1533.2L1391.9 1533.3L1393.9 1534.7L1398.9 1533.9L1406.9 1534.3L1408.9 1533.8L1411.9 1531.1L1413.9 1533.4L1415.9 1534.1L1420.9 1532.4L1423.9 1534.0L1425.9 1534.3L1428.9 1532.1L1431.9 1533.2L1434.9 1532.6L1437.9 1529.7L1439.9 1523.7L1440.9 1524.8L1441.9 1528.0L1442.9 1529.4L1443.9 1530.0L1445.9 1532.9L1448.9 1534.4L1458.9 1534.1L1461.9 1533.3L1467.9 1534.3L1469.9 1534.0L1472.9 1531.6L1474.9 1525.8L1475.9 1526.3L1478.9 1532.0L1482.9 1534.0L1484.9 1534.1L1486.9 1533.4L1488.9 1531.6L1491.9 1525.4L1494.9 1531.1L1496.9 1533.3L1500.9 1533.4L1503.9 1532.1L1506.9 1532.9L1508.9 1534.7L1510.9 1532.9L1511.9 1532.8L1513.9 1534.4L1518.9 1533.6L1521.9 1534.4L1523.9 1533.5L1526.9 1534.2L1530.9 1534.1L1533.9 1534.6L1536.9 1533.7L1538.9 1532.2L1543.9 1534.5L1546.9 1533.6L1548.9 1532.1L1550.9 1532.2L1553.9 1533.6L1556.9 1530.3L1558.9 1524.2L1559.9 1524.0L1561.9 1530.0L1563.9 1532.9L1565.9 1532.9L1568.9 1532.0L1572.9 1533.1L1573.3 1535.2Z" fill="#66c0ee" stroke="#4eb0e6" stroke-width="0.6" stroke-linejoin="round"/>
<text x="1583.0" y="1521.7" font-size="20.8" class="dv">CLA_EPd_CTX_Car3</text>
<path d="M193.9 1577.1000000000001L193.9 1576.0L196.9 1575.6L203.9 1576.6L210.9 1575.2L213.9 1576.6L220.9 1576.5L224.9 1574.4L226.9 1574.9L228.9 1576.6L233.9 1575.9L238.9 1576.6L240.9 1575.2L241.9 1575.2L243.9 1576.6L250.9 1576.6L253.9 1575.6L258.9 1576.1L261.9 1574.9L263.9 1574.8L266.9 1576.0L268.9 1575.2L270.9 1575.5L275.9 1572.6L276.9 1571.1L278.9 1564.7L279.9 1558.4L280.9 1556.3L282.9 1566.6L285.9 1573.4L286.9 1574.1L288.9 1574.3L291.9 1575.8L293.9 1574.9L295.9 1575.1L297.9 1573.0L300.9 1575.8L303.9 1576.4L306.9 1575.7L310.9 1575.7L312.9 1574.7L316.9 1576.0L321.9 1575.7L326.9 1576.6L331.9 1576.3L335.9 1575.1L338.9 1576.5L340.9 1576.5L343.9 1574.8L345.9 1575.6L348.9 1575.0L353.9 1576.2L356.9 1574.3L359.9 1575.8L361.9 1576.0L363.9 1575.0L365.9 1572.7L366.9 1572.4L368.9 1575.3L375.9 1576.1L378.9 1575.0L381.9 1576.3L390.9 1576.4L393.9 1575.5L395.9 1573.1L397.9 1574.7L405.9 1576.3L410.9 1576.2L413.9 1574.8L415.9 1574.8L418.9 1576.5L420.9 1575.7L423.9 1576.3L425.9 1575.1L426.9 1575.2L428.9 1576.6L435.9 1576.6L438.9 1575.6L440.9 1575.6L442.9 1574.6L444.9 1571.8L446.9 1566.1L448.9 1572.9L450.9 1574.9L453.9 1576.1L463.9 1575.9L466.9 1576.6L473.9 1575.9L478.9 1576.5L483.9 1575.9L486.9 1572.0L489.9 1565.3L492.9 1573.3L495.9 1575.9L500.9 1576.0L501.9 1575.6L504.9 1571.5L505.9 1569.1L508.9 1575.3L515.9 1576.6L522.9 1576.1L525.9 1574.0L528.9 1576.0L533.9 1576.6L536.9 1575.4L538.9 1576.5L543.9 1576.6L555.9 1576.3L558.9 1575.7L566.9 1576.4L568.9 1576.1L570.9 1574.7L573.9 1575.0L575.9 1576.2L577.9 1576.5L581.9 1575.1L583.9 1576.3L586.9 1575.4L590.9 1576.4L593.9 1574.9L596.9 1575.5L598.9 1576.5L603.9 1576.5L605.9 1575.2L606.9 1575.1L608.9 1576.3L610.9 1575.7L613.9 1576.4L618.9 1576.1L620.9 1576.5L623.9 1575.0L628.9 1576.3L633.9 1576.2L635.9 1575.4L638.9 1576.4L643.9 1576.5L646.9 1576.3L648.9 1575.2L651.9 1576.5L660.9 1575.7L662.9 1574.4L663.9 1575.3L666.9 1575.4L670.9 1576.4L675.9 1575.2L678.9 1576.5L683.9 1575.8L690.9 1576.5L698.9 1576.0L700.9 1576.4L703.9 1575.0L706.9 1575.9L708.9 1575.5L711.9 1576.6L715.9 1576.1L718.9 1576.5L720.9 1575.3L721.9 1575.3L723.9 1576.4L726.9 1575.2L730.9 1574.8L735.9 1576.0L738.9 1573.4L740.9 1575.7L741.9 1575.8L743.9 1574.5L745.9 1575.4L746.9 1575.2L748.9 1574.1L750.9 1575.8L752.9 1576.2L755.9 1575.6L757.9 1574.4L760.9 1568.9L761.9 1571.8L763.9 1574.7L766.9 1574.8L768.9 1576.5L770.9 1575.7L773.9 1576.6L775.9 1576.6L778.9 1575.8L781.9 1576.3L783.9 1575.3L785.9 1575.7L787.9 1573.6L790.9 1567.8L791.9 1568.7L793.9 1572.7L794.9 1573.0L795.9 1572.4L796.9 1570.5L797.9 1570.6L798.9 1572.8L803.9 1575.6L807.9 1574.6L809.9 1575.7L815.9 1575.9L818.9 1576.6L823.9 1576.0L826.9 1576.5L835.9 1576.6L841.9 1576.2L845.9 1575.0L848.9 1576.6L850.9 1576.2L858.9 1576.6L860.9 1576.4L863.9 1574.8L866.9 1576.2L870.9 1576.6L873.9 1575.8L880.9 1576.5L883.9 1576.1L890.9 1576.4L893.9 1575.2L895.9 1576.1L898.9 1574.8L901.9 1576.0L905.9 1576.6L910.9 1576.2L918.9 1576.6L921.9 1575.5L923.9 1576.3L926.9 1575.2L931.9 1576.4L936.9 1574.9L943.9 1576.6L945.9 1576.6L948.9 1574.8L950.9 1576.0L951.9 1576.0L953.9 1574.8L958.9 1576.3L968.9 1576.6L975.9 1574.9L978.9 1576.1L983.9 1575.1L990.9 1576.0L993.9 1574.8L996.9 1576.4L998.9 1576.6L1000.9 1575.6L1003.9 1575.9L1006.9 1572.6L1008.9 1574.7L1010.9 1575.8L1012.9 1575.3L1014.9 1573.3L1015.9 1573.0L1016.9 1574.2L1018.9 1574.4L1021.9 1572.0L1022.9 1573.7L1024.9 1574.9L1025.9 1574.7L1027.9 1572.4L1029.9 1575.0L1031.9 1576.0L1034.9 1576.2L1037.9 1574.6L1038.9 1575.4L1043.9 1576.6L1045.9 1575.3L1046.9 1575.3L1048.9 1576.5L1050.9 1576.6L1053.9 1575.2L1055.9 1576.1L1058.9 1574.8L1061.9 1575.6L1063.9 1574.3L1065.9 1574.3L1066.9 1573.5L1068.9 1575.3L1078.9 1576.6L1093.9 1576.5L1095.9 1575.1L1096.9 1575.1L1098.9 1576.1L1103.9 1576.6L1110.9 1575.2L1111.9 1574.4L1114.9 1575.9L1123.9 1576.6L1130.9 1575.0L1136.9 1576.5L1140.9 1576.6L1143.9 1575.9L1146.9 1576.5L1150.9 1575.4L1158.9 1576.4L1163.9 1575.7L1171.9 1576.4L1176.9 1574.9L1178.9 1575.1L1181.9 1576.6L1185.9 1576.1L1195.9 1576.4L1198.9 1575.9L1200.9 1575.0L1203.9 1576.3L1206.9 1574.9L1210.9 1576.4L1213.9 1576.6L1218.9 1575.1L1221.9 1575.9L1224.9 1574.4L1227.9 1576.1L1230.9 1576.6L1236.9 1576.0L1240.9 1574.9L1246.9 1575.2L1248.9 1574.8L1251.9 1576.6L1253.9 1576.6L1255.9 1575.2L1256.9 1575.1L1258.9 1576.5L1260.9 1576.6L1268.9 1574.8L1271.9 1576.1L1285.9 1576.6L1288.9 1574.8L1291.9 1575.5L1295.9 1575.3L1298.9 1576.3L1300.9 1576.0L1302.9 1574.4L1304.9 1570.4L1308.9 1575.9L1310.9 1576.0L1315.9 1574.8L1320.9 1576.4L1325.9 1576.6L1328.9 1575.1L1330.9 1575.9L1331.9 1575.7L1335.9 1570.9L1336.9 1573.1L1338.9 1574.9L1340.9 1575.4L1342.9 1574.3L1345.9 1569.8L1348.9 1556.0L1350.9 1567.4L1352.9 1572.4L1355.9 1575.2L1363.9 1576.4L1370.9 1576.1L1373.9 1576.6L1380.9 1574.6L1381.9 1575.5L1383.9 1575.9L1386.9 1575.1L1388.9 1576.0L1393.9 1575.2L1396.9 1576.3L1405.9 1576.4L1407.9 1576.0L1411.9 1573.9L1413.9 1575.7L1416.9 1575.0L1418.9 1576.4L1420.9 1575.1L1421.9 1575.2L1423.9 1576.6L1426.9 1576.2L1431.9 1576.4L1434.9 1575.5L1436.9 1573.8L1438.9 1569.6L1439.9 1565.4L1440.9 1566.1L1441.9 1569.7L1443.9 1573.6L1445.9 1575.4L1448.9 1576.4L1453.9 1576.6L1463.9 1575.2L1466.9 1576.5L1468.9 1576.1L1471.9 1574.2L1473.9 1570.2L1474.9 1569.7L1477.9 1574.7L1478.9 1575.8L1479.9 1576.1L1483.9 1576.2L1486.9 1572.9L1487.9 1573.1L1489.9 1575.4L1491.9 1576.3L1496.9 1575.8L1500.9 1576.6L1503.9 1576.1L1505.9 1576.5L1508.9 1575.4L1511.9 1576.6L1518.9 1575.4L1521.9 1576.4L1530.9 1576.6L1536.9 1575.2L1538.9 1575.8L1545.9 1576.3L1548.9 1575.2L1552.9 1574.8L1554.9 1573.5L1556.9 1570.0L1558.9 1561.1L1559.9 1560.8L1561.9 1568.9L1563.9 1573.4L1565.9 1575.0L1568.9 1575.0L1570.9 1575.9L1572.9 1575.9L1573.3 1577.1000000000001Z" fill="#6cdcbc" stroke="#4ccca8" stroke-width="0.6" stroke-linejoin="round"/>
<text x="1583.0" y="1563.6" font-size="20.8" class="dv">L45_IT_CTX_Glut</text>
<path d="M193.9 1619.0L193.9 1618.0L196.9 1616.8L203.9 1618.2L208.9 1617.3L215.9 1617.5L218.9 1615.6L220.9 1617.2L221.9 1617.3L223.9 1615.8L226.9 1618.0L228.9 1617.5L231.9 1618.3L235.9 1617.9L238.9 1615.9L240.9 1617.2L243.9 1616.9L245.9 1617.9L248.9 1616.7L251.9 1618.0L258.9 1617.1L260.9 1617.8L263.9 1617.5L268.9 1618.1L273.9 1616.6L276.9 1613.9L278.9 1609.1L279.9 1604.4L280.9 1603.2L282.9 1611.7L284.9 1615.4L286.9 1617.0L290.9 1618.0L297.9 1614.0L298.9 1615.6L301.9 1616.6L303.9 1618.2L305.9 1616.2L306.9 1616.2L308.9 1618.2L310.9 1617.4L315.9 1616.9L318.9 1617.9L325.9 1617.7L328.9 1616.6L331.9 1618.2L333.9 1618.1L338.9 1615.9L343.9 1617.4L346.9 1616.7L348.9 1617.8L350.9 1616.0L351.9 1616.1L353.9 1618.1L355.9 1616.2L356.9 1616.1L358.9 1617.6L360.9 1616.5L363.9 1616.8L365.9 1612.3L366.9 1611.8L368.9 1616.2L369.9 1617.0L371.9 1617.7L373.9 1617.1L375.9 1618.1L378.9 1617.1L380.9 1618.0L383.9 1617.2L386.9 1617.7L390.9 1616.4L393.9 1616.3L395.9 1613.6L396.9 1615.4L398.9 1617.2L403.9 1617.2L405.9 1615.9L406.9 1616.0L408.9 1617.6L411.9 1616.7L415.9 1618.1L418.9 1615.6L420.9 1617.2L421.9 1617.4L425.9 1616.1L428.9 1617.9L433.9 1617.1L435.9 1617.9L436.9 1617.5L438.9 1615.5L440.9 1617.4L441.9 1617.6L443.9 1616.3L446.9 1610.3L448.9 1615.3L452.9 1617.3L455.9 1618.2L458.9 1618.4L463.9 1616.0L465.9 1617.4L466.9 1617.5L468.9 1616.7L470.9 1618.1L471.9 1617.8L473.9 1615.6L476.9 1617.5L478.9 1617.3L480.9 1616.2L484.9 1615.5L486.9 1613.7L489.9 1607.7L491.9 1614.2L493.9 1616.1L497.9 1615.4L499.9 1613.0L501.9 1615.4L503.9 1616.7L506.9 1612.0L509.9 1616.0L513.9 1618.0L516.9 1617.0L521.9 1617.5L523.9 1616.3L526.9 1617.9L528.9 1618.3L538.9 1616.7L540.9 1617.6L543.9 1617.2L545.9 1618.0L548.9 1616.9L550.9 1618.0L553.9 1618.4L558.9 1617.0L560.9 1618.1L561.9 1617.8L563.9 1615.6L565.9 1615.6L568.9 1618.2L573.9 1618.1L575.9 1616.9L578.9 1618.0L580.9 1616.1L581.9 1616.1L583.9 1618.0L588.9 1618.1L590.9 1616.1L591.9 1615.8L598.9 1618.2L600.9 1618.3L603.9 1617.6L608.9 1618.2L610.9 1616.1L611.9 1615.9L615.9 1618.2L616.9 1618.1L620.9 1615.8L625.9 1618.2L628.9 1617.1L631.9 1618.4L633.9 1618.1L635.9 1616.7L636.9 1616.7L638.9 1618.3L643.9 1615.6L648.9 1618.1L655.9 1618.3L658.9 1616.4L660.9 1616.5L662.9 1613.5L665.9 1617.3L666.9 1617.5L668.9 1616.2L671.9 1617.7L676.9 1616.7L683.9 1618.1L685.9 1618.0L688.9 1617.5L691.9 1615.9L693.9 1615.6L695.9 1616.8L696.9 1616.8L698.9 1615.6L701.9 1617.4L705.9 1617.9L708.9 1617.0L710.9 1618.0L713.9 1617.8L715.9 1618.3L718.9 1616.6L720.9 1617.7L723.9 1617.4L725.9 1618.2L728.9 1616.3L730.9 1617.7L731.9 1617.9L733.9 1617.2L738.9 1618.3L741.9 1617.0L743.9 1615.2L744.9 1615.2L745.9 1616.5L747.9 1617.8L753.9 1618.2L756.9 1617.5L760.9 1612.6L761.9 1614.8L765.9 1617.4L768.9 1617.3L770.9 1618.0L771.9 1617.7L773.9 1615.6L780.9 1617.9L782.9 1618.1L783.9 1618.0L786.9 1615.0L788.9 1614.4L790.9 1610.8L791.9 1611.1L792.9 1612.7L794.9 1614.3L795.9 1614.7L796.9 1614.1L797.9 1614.3L799.9 1616.4L805.9 1618.1L806.9 1617.7L808.9 1615.6L810.9 1617.9L811.9 1618.3L813.9 1617.5L815.9 1616.0L816.9 1616.1L818.9 1618.4L821.9 1615.6L823.9 1615.6L826.9 1617.3L828.9 1616.8L833.9 1616.8L835.9 1615.8L836.9 1616.0L838.9 1617.4L840.9 1617.0L843.9 1618.3L848.9 1618.4L853.9 1618.1L855.9 1617.3L858.9 1618.2L860.9 1616.8L863.9 1615.8L866.9 1618.3L870.9 1618.1L873.9 1616.1L875.9 1615.7L878.9 1617.9L880.9 1615.9L881.9 1615.8L883.9 1617.2L886.9 1613.3L887.9 1613.6L889.9 1616.7L892.9 1617.9L898.9 1618.1L901.9 1617.5L903.9 1618.2L908.9 1617.2L913.9 1618.3L918.9 1617.5L920.9 1616.0L921.9 1616.1L923.9 1618.2L925.9 1618.4L928.9 1618.2L931.9 1617.2L938.9 1618.4L941.9 1617.1L945.9 1618.2L948.9 1617.5L950.9 1618.1L951.9 1617.7L953.9 1615.6L955.9 1617.8L956.9 1618.1L958.9 1617.3L963.9 1618.4L965.9 1618.2L968.9 1615.6L971.9 1618.3L978.9 1617.3L981.9 1617.8L983.9 1617.3L986.9 1618.1L991.9 1617.5L993.9 1618.4L996.9 1616.7L1000.9 1616.4L1003.9 1617.0L1007.9 1614.4L1008.9 1615.9L1010.9 1615.0L1013.9 1615.0L1014.9 1613.6L1016.9 1616.2L1018.9 1616.4L1021.9 1612.9L1024.9 1616.5L1026.9 1617.3L1028.9 1616.4L1029.9 1615.1L1031.9 1616.3L1033.9 1615.3L1036.9 1616.0L1040.9 1615.6L1043.9 1618.3L1053.9 1618.4L1055.9 1616.1L1056.9 1616.0L1058.9 1617.9L1060.9 1617.9L1063.9 1615.0L1065.9 1615.6L1066.9 1614.9L1068.9 1616.7L1071.9 1615.4L1073.9 1615.5L1080.9 1617.9L1083.9 1615.6L1086.9 1617.7L1088.9 1617.4L1091.9 1618.1L1095.9 1617.2L1098.9 1617.7L1100.9 1617.1L1103.9 1618.4L1110.9 1615.6L1112.9 1613.7L1113.9 1611.8L1118.9 1618.0L1121.9 1617.5L1123.9 1618.4L1130.9 1617.6L1133.9 1618.0L1137.9 1617.0L1140.9 1615.5L1141.9 1616.8L1143.9 1617.7L1145.9 1617.8L1148.9 1617.1L1151.9 1618.0L1155.9 1617.7L1158.9 1618.5L1161.9 1617.5L1165.9 1618.0L1168.9 1617.6L1171.9 1618.4L1180.9 1617.9L1183.9 1618.4L1188.9 1616.5L1190.9 1616.7L1193.9 1618.3L1195.9 1618.2L1198.9 1615.6L1201.9 1617.7L1203.9 1617.3L1206.9 1618.3L1213.9 1616.9L1215.9 1617.6L1218.9 1617.2L1220.9 1617.7L1223.9 1615.8L1225.9 1615.6L1228.9 1617.4L1231.9 1618.4L1240.9 1617.3L1243.9 1618.3L1246.9 1616.4L1258.9 1618.4L1260.9 1616.4L1261.9 1616.1L1265.9 1617.5L1268.9 1615.6L1270.9 1617.3L1271.9 1617.3L1273.9 1615.6L1275.9 1617.6L1276.9 1617.9L1280.9 1616.5L1283.9 1618.3L1285.9 1618.4L1288.9 1617.7L1291.9 1618.1L1300.9 1617.4L1302.9 1615.2L1304.9 1610.5L1305.9 1613.7L1306.9 1615.1L1308.9 1614.7L1310.9 1616.0L1312.9 1616.2L1313.9 1615.6L1314.9 1613.2L1316.9 1615.4L1318.9 1615.7L1320.9 1616.9L1321.9 1616.8L1323.9 1615.5L1326.9 1618.3L1328.9 1618.1L1332.9 1616.5L1333.9 1615.6L1335.9 1611.2L1336.9 1613.6L1338.9 1616.1L1341.9 1615.8L1343.9 1615.0L1346.9 1606.7L1348.9 1599.0L1350.9 1609.0L1352.9 1614.1L1353.9 1615.7L1358.9 1618.0L1363.9 1618.3L1365.9 1617.6L1370.9 1617.4L1373.9 1618.3L1376.9 1618.2L1378.9 1617.5L1380.9 1613.4L1381.9 1612.7L1383.9 1616.9L1385.9 1617.8L1388.9 1615.5L1390.9 1617.4L1391.9 1617.7L1393.9 1616.8L1395.9 1618.1L1396.9 1618.2L1398.9 1617.2L1405.9 1618.2L1406.9 1617.6L1408.9 1614.7L1409.9 1615.2L1411.9 1615.0L1413.9 1617.2L1418.9 1615.5L1421.9 1618.1L1423.9 1617.8L1425.9 1616.2L1426.9 1616.2L1428.9 1618.0L1430.9 1617.9L1433.9 1616.6L1435.9 1614.2L1437.9 1612.8L1438.9 1611.4L1439.9 1606.3L1440.9 1606.2L1442.9 1612.5L1443.9 1614.6L1445.9 1616.7L1446.9 1617.0L1451.9 1615.5L1453.9 1615.6L1460.9 1618.2L1468.9 1617.5L1470.9 1615.4L1472.9 1610.7L1475.9 1614.5L1477.9 1614.4L1478.9 1613.2L1479.9 1613.3L1483.9 1617.8L1484.9 1618.0L1488.9 1617.2L1490.9 1617.7L1493.9 1615.6L1500.9 1615.6L1503.9 1617.2L1506.9 1617.0L1508.9 1618.3L1510.9 1616.1L1511.9 1616.1L1513.9 1618.2L1516.9 1617.6L1520.9 1618.3L1523.9 1617.9L1525.9 1616.6L1528.9 1615.8L1533.9 1618.5L1536.9 1617.2L1540.9 1618.2L1543.9 1616.6L1546.9 1618.1L1550.9 1617.7L1555.9 1615.7L1557.9 1612.7L1558.9 1609.5L1559.9 1609.5L1561.9 1614.8L1564.9 1617.2L1568.9 1617.9L1570.9 1616.4L1571.9 1616.4L1572.9 1617.2L1573.3 1619.0Z" fill="#e85a26" stroke="#d84a18" stroke-width="0.6" stroke-linejoin="round"/>
<text x="1583.0" y="1605.5" font-size="20.8" class="dv">L23_IT_CTX_Glut</text>
<path d="M193.9 1660.9L193.9 1660.1L208.9 1660.5L211.9 1659.6L213.9 1660.5L218.9 1660.5L223.9 1659.4L228.9 1660.5L231.9 1659.6L235.9 1660.3L241.9 1660.2L243.9 1659.7L246.9 1660.4L258.9 1659.9L263.9 1660.5L276.9 1660.4L280.9 1659.8L283.9 1660.4L295.9 1660.5L303.9 1660.4L306.9 1659.6L308.9 1660.4L313.9 1659.8L316.9 1660.4L325.9 1659.5L328.9 1660.4L335.9 1660.4L338.9 1659.4L340.9 1659.4L343.9 1660.2L348.9 1660.4L350.9 1659.6L353.9 1659.4L361.9 1660.5L380.9 1660.5L383.9 1659.4L386.9 1660.4L390.9 1659.5L393.9 1660.4L403.9 1660.5L406.9 1659.6L408.9 1660.5L428.9 1660.5L431.9 1659.4L435.9 1660.2L438.9 1659.7L443.9 1660.5L448.9 1659.4L451.9 1660.4L468.9 1660.2L470.9 1659.6L473.9 1660.4L475.9 1659.7L478.9 1659.4L481.9 1660.4L488.9 1660.4L493.9 1659.4L498.9 1660.2L503.9 1659.3L504.9 1658.3L506.9 1654.8L507.9 1651.5L510.9 1658.3L512.9 1659.7L516.9 1660.3L521.9 1659.5L523.9 1657.6L524.9 1655.4L526.9 1657.9L530.9 1660.0L532.9 1660.4L536.9 1660.3L540.9 1659.5L546.9 1660.4L570.9 1660.4L573.9 1659.4L575.9 1660.2L578.9 1659.4L583.9 1660.3L588.9 1659.4L591.9 1660.4L595.9 1659.8L598.9 1660.4L600.9 1660.0L608.9 1660.4L615.9 1660.0L618.9 1660.4L621.9 1659.9L633.9 1660.4L644.9 1659.6L646.9 1660.1L654.9 1660.4L657.9 1659.9L659.9 1659.1L661.9 1656.7L662.9 1654.3L663.9 1656.9L665.9 1659.2L667.9 1659.9L675.9 1660.4L681.9 1660.3L683.9 1659.8L686.9 1660.4L701.9 1659.9L705.9 1660.4L708.9 1659.9L725.9 1660.4L728.9 1660.0L731.9 1660.4L735.9 1659.6L738.9 1660.5L743.9 1659.4L748.9 1660.5L758.9 1660.4L761.9 1659.9L773.9 1660.4L783.9 1659.8L786.9 1660.4L790.9 1660.4L797.9 1659.5L803.9 1660.4L805.9 1659.6L808.9 1660.4L813.9 1659.8L816.9 1660.3L823.9 1659.9L831.9 1660.4L835.9 1659.7L838.9 1660.4L858.9 1660.5L863.9 1659.4L866.9 1660.3L873.9 1660.0L880.9 1660.5L888.9 1659.8L891.9 1660.4L900.9 1659.4L903.9 1660.5L905.9 1660.4L908.9 1659.4L910.9 1660.2L913.9 1659.8L918.9 1660.5L928.9 1660.0L935.9 1660.5L938.9 1660.0L941.9 1660.4L945.9 1659.7L948.9 1660.3L950.9 1659.9L953.9 1660.5L955.9 1660.0L958.9 1660.5L961.9 1659.5L968.9 1660.5L980.9 1659.5L983.9 1660.5L985.9 1660.5L990.9 1659.4L993.9 1660.5L996.9 1659.8L998.9 1660.4L1013.9 1660.5L1016.9 1659.7L1021.9 1660.4L1038.9 1660.5L1045.9 1659.5L1053.9 1660.5L1058.9 1660.3L1060.9 1659.6L1063.9 1659.4L1066.9 1660.3L1070.9 1660.4L1088.9 1660.4L1091.9 1659.9L1100.9 1660.4L1105.9 1659.5L1108.9 1660.4L1115.9 1660.4L1118.9 1659.4L1121.9 1660.2L1127.9 1659.7L1130.9 1660.0L1133.9 1659.3L1136.9 1660.1L1140.9 1658.6L1141.9 1657.4L1142.9 1658.8L1144.9 1659.8L1155.9 1659.5L1158.9 1660.4L1161.9 1659.9L1168.9 1660.4L1171.9 1659.6L1173.9 1660.4L1183.9 1660.4L1188.9 1659.4L1193.9 1660.3L1195.9 1660.0L1198.9 1660.5L1205.9 1659.5L1208.9 1660.4L1210.9 1660.0L1218.9 1660.5L1226.9 1659.5L1236.9 1660.4L1255.9 1660.4L1258.9 1659.5L1261.9 1660.3L1270.9 1660.4L1273.9 1659.6L1278.9 1660.3L1283.9 1659.4L1291.9 1660.4L1301.9 1660.4L1305.9 1659.6L1308.9 1660.4L1316.9 1660.0L1325.9 1660.3L1328.9 1659.8L1330.9 1658.6L1333.9 1654.2L1335.9 1657.2L1338.9 1658.8L1340.9 1657.8L1342.9 1655.8L1345.9 1648.4L1348.9 1629.7L1350.9 1644.7L1352.9 1652.0L1355.9 1657.1L1358.9 1659.3L1360.9 1659.9L1370.9 1660.2L1375.9 1659.3L1377.9 1658.2L1379.9 1654.6L1382.9 1659.0L1386.9 1660.2L1391.9 1659.5L1396.9 1660.4L1407.9 1660.1L1410.9 1658.6L1412.9 1655.7L1414.9 1658.8L1418.9 1660.3L1423.9 1659.4L1430.9 1660.3L1443.9 1660.0L1446.9 1660.4L1463.9 1660.4L1470.9 1659.5L1473.9 1660.5L1476.9 1659.6L1480.9 1660.3L1485.9 1660.4L1488.9 1659.5L1490.9 1660.0L1493.9 1659.7L1496.9 1660.4L1500.9 1659.5L1503.9 1660.5L1505.9 1660.0L1508.9 1660.5L1536.9 1660.4L1543.9 1659.4L1551.9 1660.5L1556.9 1659.9L1563.9 1660.5L1572.9 1660.0L1573.3 1660.9Z" fill="#f24ee6" stroke="#ee36e2" stroke-width="0.6" stroke-linejoin="round"/>
<text x="1583.0" y="1647.4" font-size="20.8" class="dv">OPC_NN</text>
<path d="M193.9 1702.8000000000002L193.9 1702.4L228.9 1702.3L233.9 1701.8L236.9 1702.3L270.9 1702.3L277.9 1701.3L280.9 1702.2L293.9 1701.8L301.9 1702.3L323.9 1702.3L328.9 1701.9L336.9 1702.4L350.9 1702.4L353.9 1701.9L356.9 1702.3L363.9 1701.9L366.9 1702.3L422.9 1702.3L425.9 1702.3L429.9 1701.4L432.9 1702.1L437.9 1702.3L468.9 1701.9L483.9 1702.3L486.9 1701.9L503.9 1702.3L508.9 1701.8L513.9 1702.3L525.9 1701.5L532.9 1702.3L575.9 1702.3L578.9 1701.8L586.9 1702.3L603.9 1702.3L606.9 1701.9L618.9 1702.3L624.9 1701.5L626.9 1699.9L627.9 1698.1L629.9 1700.4L631.9 1701.6L641.9 1702.3L658.9 1702.2L660.9 1701.7L662.9 1700.3L664.9 1701.7L670.9 1702.3L698.9 1702.3L701.9 1701.9L703.9 1702.3L723.9 1702.3L728.9 1702.2L731.9 1701.5L735.9 1702.2L738.9 1701.8L743.9 1702.3L753.9 1701.8L756.9 1702.3L788.9 1702.3L791.9 1701.9L800.9 1702.3L803.9 1701.8L806.9 1702.3L823.9 1702.3L826.9 1701.9L829.9 1700.1L831.9 1701.6L838.9 1702.3L848.9 1701.8L851.9 1702.3L861.9 1702.3L875.9 1702.3L878.9 1701.9L885.9 1702.4L888.9 1701.9L896.9 1702.3L901.9 1701.9L906.9 1702.3L938.9 1702.4L941.9 1701.9L948.9 1702.4L1006.9 1702.3L1012.9 1701.4L1018.9 1702.3L1043.9 1702.3L1048.9 1701.8L1053.9 1702.3L1070.9 1702.3L1073.9 1701.9L1076.9 1702.4L1090.9 1701.9L1093.9 1702.3L1105.9 1702.3L1108.9 1701.8L1111.9 1702.3L1133.9 1702.3L1138.9 1701.8L1141.9 1698.9L1143.9 1701.3L1148.9 1702.3L1155.9 1702.3L1158.9 1701.8L1161.9 1702.3L1166.9 1702.0L1188.9 1702.3L1190.9 1701.9L1193.9 1702.3L1239.9 1702.3L1243.9 1701.9L1246.9 1700.5L1250.9 1702.1L1256.9 1702.3L1271.9 1701.9L1280.9 1702.3L1283.9 1701.8L1286.9 1702.3L1300.9 1702.3L1303.9 1701.8L1306.9 1702.3L1310.9 1702.0L1330.9 1702.3L1337.9 1702.0L1343.9 1700.4L1345.9 1697.8L1346.9 1695.3L1348.9 1687.0L1350.9 1695.9L1352.9 1699.6L1354.9 1701.1L1359.9 1702.2L1373.9 1702.3L1377.9 1701.3L1379.9 1699.3L1382.9 1701.7L1385.9 1702.2L1408.9 1702.2L1411.9 1701.3L1413.9 1699.7L1415.9 1701.5L1418.9 1702.0L1421.9 1701.1L1423.9 1699.3L1424.9 1700.6L1426.9 1701.7L1431.9 1702.3L1446.9 1701.9L1448.9 1702.3L1476.9 1702.0L1495.9 1702.4L1501.9 1701.9L1506.9 1702.3L1513.9 1702.0L1572.9 1702.4L1573.3 1702.8000000000002Z" fill="#5cc8a0" stroke="#3cb48a" stroke-width="0.6" stroke-linejoin="round"/>
<text x="1583.0" y="1689.3" font-size="20.8" class="dv">Astro_TE_NN</text>
<path d="M193.9 1744.7L193.9 1744.0L198.9 1744.0L200.9 1742.9L203.9 1742.4L205.9 1743.9L206.9 1743.9L208.9 1742.7L211.9 1744.0L220.9 1742.7L233.9 1744.2L235.9 1742.8L236.9 1742.8L238.9 1744.1L250.9 1744.1L253.9 1742.3L255.9 1743.4L257.9 1743.1L258.9 1742.4L260.9 1738.3L261.9 1738.7L263.9 1742.1L265.9 1743.6L272.9 1743.0L275.9 1741.5L277.9 1743.0L279.9 1743.0L281.9 1741.7L283.9 1737.4L285.9 1742.0L286.9 1742.9L288.9 1742.7L291.9 1743.8L296.9 1741.5L298.9 1739.2L300.9 1733.0L301.9 1727.4L303.9 1735.1L304.9 1737.3L305.9 1738.2L306.9 1738.1L307.9 1736.9L310.9 1741.3L313.9 1742.9L318.9 1743.3L320.9 1742.6L323.9 1743.7L328.9 1742.1L333.9 1744.1L338.9 1743.4L341.9 1744.0L348.9 1744.1L351.9 1743.3L354.9 1740.3L357.9 1743.4L361.9 1743.4L363.9 1744.2L366.9 1743.6L370.9 1744.2L386.9 1743.8L390.9 1744.2L393.9 1743.3L398.9 1744.1L400.9 1742.9L403.9 1743.3L405.9 1742.6L408.9 1744.1L411.9 1743.3L413.9 1741.3L415.9 1743.2L417.9 1743.9L420.9 1744.1L423.9 1743.0L430.9 1744.1L433.9 1742.4L436.9 1744.0L438.9 1744.2L441.9 1742.4L443.9 1742.5L445.9 1743.6L446.9 1743.3L448.9 1740.4L451.9 1742.9L453.9 1743.8L455.9 1744.0L458.9 1742.0L460.9 1742.3L461.9 1741.8L463.9 1738.4L465.9 1740.6L471.9 1744.0L475.9 1744.1L483.9 1742.8L488.9 1742.8L491.9 1743.6L493.9 1743.3L494.9 1742.0L497.9 1736.1L498.9 1732.2L500.9 1738.5L502.9 1741.2L503.9 1741.6L504.9 1740.7L507.9 1734.2L510.9 1741.7L511.9 1742.7L513.9 1743.5L516.9 1741.9L519.9 1737.2L521.9 1739.9L522.9 1740.2L523.9 1739.7L524.9 1738.5L526.9 1732.5L527.9 1731.2L529.9 1738.3L530.9 1740.6L532.9 1742.4L533.9 1742.5L536.9 1740.0L541.9 1743.8L545.9 1743.9L548.9 1742.8L550.9 1743.8L553.9 1744.2L560.9 1743.7L573.9 1744.2L575.9 1743.2L578.9 1743.2L580.9 1741.0L581.9 1740.6L585.9 1741.9L588.9 1740.3L591.9 1732.6L593.9 1721.1L594.9 1720.6L596.9 1731.7L598.9 1738.5L599.9 1740.2L601.9 1742.3L603.9 1743.3L606.9 1742.8L608.9 1744.0L610.9 1744.1L618.9 1743.7L620.9 1744.1L623.9 1743.0L625.9 1743.4L627.9 1741.6L628.9 1741.4L631.9 1744.0L640.9 1744.1L643.9 1742.4L646.9 1744.1L651.9 1743.4L654.9 1740.4L656.9 1735.0L657.9 1736.9L658.9 1737.4L659.9 1737.5L660.9 1736.5L662.9 1729.5L664.9 1737.7L667.9 1741.6L668.9 1742.7L670.9 1743.4L676.9 1744.1L680.9 1744.2L683.9 1742.4L686.9 1744.2L690.9 1743.1L693.9 1744.2L696.9 1744.0L698.9 1743.1L703.9 1743.8L707.9 1742.1L708.9 1743.3L711.9 1744.0L721.9 1744.2L728.9 1742.4L730.9 1743.4L733.9 1742.9L735.9 1743.4L737.9 1742.4L743.9 1744.1L751.9 1742.6L761.9 1744.0L766.9 1743.7L770.9 1741.9L775.9 1744.0L785.9 1744.2L794.9 1743.0L796.9 1741.2L797.9 1741.2L799.9 1743.2L806.9 1744.2L818.9 1744.0L821.9 1742.5L823.9 1743.1L828.9 1742.2L831.9 1744.1L835.9 1742.6L838.9 1743.6L841.9 1742.6L845.9 1743.8L848.9 1743.3L851.9 1744.2L856.9 1742.8L858.9 1743.9L863.9 1744.2L866.9 1742.8L868.9 1743.8L870.9 1744.0L873.9 1743.2L876.9 1743.5L878.9 1743.1L880.9 1741.9L882.9 1738.5L884.9 1740.8L885.9 1740.8L887.9 1737.3L890.9 1742.3L891.9 1743.0L896.9 1744.2L908.9 1743.8L911.9 1743.0L925.9 1744.1L930.9 1742.6L936.9 1744.1L938.9 1743.5L940.9 1744.1L943.9 1743.5L945.9 1743.8L948.9 1742.7L950.9 1743.4L953.9 1743.1L956.9 1744.1L961.9 1742.6L965.9 1744.1L973.9 1743.2L976.9 1744.1L978.9 1743.3L980.9 1743.3L988.9 1744.2L993.9 1742.4L996.9 1743.9L1000.9 1742.6L1006.9 1744.2L1010.9 1744.1L1013.9 1743.0L1016.9 1743.7L1020.9 1742.6L1026.9 1744.0L1028.9 1743.8L1031.9 1742.4L1038.9 1743.1L1041.9 1744.1L1048.9 1744.2L1053.9 1743.6L1055.9 1744.1L1058.9 1742.4L1063.9 1743.6L1068.9 1743.2L1071.9 1744.1L1083.9 1743.6L1088.9 1744.0L1093.9 1743.4L1100.9 1744.0L1103.9 1742.4L1105.9 1743.7L1108.9 1744.2L1113.9 1744.2L1118.9 1742.7L1121.9 1743.9L1123.9 1744.0L1125.9 1742.7L1126.9 1742.8L1128.9 1744.1L1135.9 1744.1L1138.9 1743.0L1141.9 1743.5L1143.9 1742.4L1148.9 1742.4L1151.9 1743.9L1173.9 1744.1L1180.9 1743.1L1185.9 1744.1L1190.9 1743.7L1193.9 1744.2L1195.9 1742.8L1196.9 1742.8L1198.9 1744.2L1208.9 1744.2L1211.9 1743.6L1215.9 1744.2L1218.9 1744.1L1225.9 1742.6L1228.9 1744.2L1231.9 1743.7L1234.9 1740.9L1236.9 1742.1L1238.9 1742.1L1241.9 1743.9L1245.9 1744.0L1248.9 1743.0L1255.9 1744.1L1261.9 1743.7L1265.9 1744.0L1268.9 1742.9L1273.9 1744.0L1276.9 1743.0L1278.9 1744.0L1295.9 1744.1L1298.9 1743.3L1300.9 1743.9L1305.9 1743.7L1308.9 1744.2L1313.9 1742.7L1316.9 1743.8L1323.9 1744.1L1325.9 1744.0L1328.9 1741.8L1330.9 1741.4L1333.9 1737.5L1335.9 1740.1L1336.9 1739.6L1339.9 1731.8L1340.9 1734.5L1341.9 1735.1L1342.9 1734.0L1345.9 1726.4L1348.9 1705.3L1350.9 1721.6L1353.9 1735.3L1356.9 1740.6L1360.9 1743.0L1363.9 1742.4L1368.9 1743.2L1370.9 1742.0L1372.9 1739.8L1373.9 1741.5L1374.9 1741.9L1376.9 1741.5L1378.9 1739.7L1379.9 1737.0L1381.9 1741.2L1383.9 1743.1L1388.9 1744.0L1391.9 1743.4L1398.9 1744.1L1403.9 1743.6L1406.9 1743.8L1410.9 1741.9L1413.9 1735.8L1415.9 1740.4L1420.9 1743.2L1423.9 1742.5L1431.9 1744.1L1441.9 1743.6L1458.9 1744.2L1460.9 1742.8L1461.9 1742.8L1463.9 1744.2L1478.9 1743.5L1493.9 1744.1L1500.9 1742.5L1505.9 1743.1L1507.9 1741.9L1510.9 1743.2L1513.9 1742.5L1516.9 1743.9L1518.9 1743.4L1528.9 1744.2L1531.9 1743.7L1545.9 1744.2L1548.9 1743.9L1550.9 1742.8L1553.9 1744.0L1555.9 1743.7L1558.9 1741.0L1559.9 1741.0L1563.9 1743.5L1570.9 1743.8L1572.9 1743.2L1573.3 1744.7Z" fill="#dc9cdc" stroke="#d080d2" stroke-width="0.6" stroke-linejoin="round"/>
<text x="1583.0" y="1731.2" font-size="20.8" class="dv">MGE_GABA</text>
<path d="M193.9 1786.6L193.9 1785.5L195.9 1784.2L196.9 1784.3L198.9 1785.8L200.9 1783.8L201.9 1783.6L205.9 1785.3L208.9 1784.1L215.9 1785.7L216.9 1785.2L218.9 1782.4L220.9 1784.6L221.9 1784.8L223.9 1783.5L226.9 1784.8L230.9 1784.5L233.9 1785.6L236.9 1784.7L238.9 1785.5L241.9 1785.8L245.9 1785.3L248.9 1782.4L251.9 1785.5L253.9 1785.8L256.9 1784.0L261.9 1785.5L265.9 1784.1L266.9 1784.2L268.9 1785.9L269.9 1785.9L271.9 1785.3L275.9 1782.5L278.9 1784.1L281.9 1779.9L283.9 1784.3L284.9 1784.8L285.9 1785.1L286.9 1784.7L288.9 1782.3L290.9 1784.2L293.9 1785.8L298.9 1781.6L300.9 1782.6L301.9 1781.3L303.9 1783.4L305.9 1782.4L306.9 1782.7L308.9 1785.4L309.9 1785.4L318.9 1784.9L323.9 1782.4L325.9 1785.1L326.9 1785.1L328.9 1782.4L330.9 1784.8L331.9 1785.2L333.9 1784.3L340.9 1785.5L343.9 1783.7L345.9 1785.0L346.9 1784.8L348.9 1782.4L350.9 1784.7L351.9 1784.9L353.9 1783.3L355.9 1783.4L358.9 1785.6L360.9 1784.4L363.9 1783.5L365.9 1785.3L368.9 1785.8L371.9 1784.9L376.9 1785.8L378.9 1785.5L380.9 1783.9L381.9 1783.9L383.9 1785.4L385.9 1784.1L386.9 1784.1L388.9 1785.3L400.9 1783.7L403.9 1785.3L408.9 1785.9L413.9 1785.1L418.9 1785.8L421.9 1784.6L425.9 1785.3L431.9 1785.1L433.9 1784.8L436.9 1783.6L438.9 1783.5L440.9 1785.3L441.9 1785.4L446.9 1780.3L448.9 1785.0L450.9 1782.8L451.9 1782.9L453.9 1785.7L458.9 1785.9L460.9 1784.4L463.9 1784.7L468.9 1782.4L470.9 1784.2L471.9 1784.4L475.9 1783.2L478.9 1785.7L480.9 1784.6L483.9 1785.6L485.9 1783.0L486.9 1782.9L488.9 1785.1L493.9 1781.8L498.9 1785.7L500.9 1785.8L503.9 1784.4L506.9 1785.3L510.9 1785.3L513.9 1783.5L515.9 1783.1L518.9 1785.3L523.9 1784.3L525.9 1780.7L526.9 1780.8L528.9 1783.2L530.9 1782.4L531.9 1782.7L533.9 1784.9L535.9 1784.8L538.9 1782.4L540.9 1782.4L543.9 1784.5L545.9 1785.0L548.9 1783.6L553.9 1783.7L555.9 1784.5L561.9 1785.6L563.9 1785.6L566.9 1783.4L571.9 1783.0L573.9 1783.1L576.9 1785.5L581.9 1785.8L585.9 1785.3L588.9 1782.1L590.9 1783.9L591.9 1783.8L593.9 1781.6L595.9 1783.8L603.9 1785.8L608.9 1783.5L611.9 1785.3L613.9 1785.5L615.9 1784.3L616.9 1784.3L618.9 1785.7L620.9 1784.4L623.9 1785.2L627.9 1783.7L628.9 1784.4L630.9 1782.7L631.9 1782.8L633.9 1785.6L641.9 1785.7L648.9 1784.7L650.9 1782.5L653.9 1782.4L654.9 1781.2L657.9 1783.0L659.9 1783.0L661.9 1780.5L662.9 1777.6L663.9 1781.0L664.9 1782.4L668.9 1785.5L673.9 1785.8L675.9 1783.9L676.9 1783.7L678.9 1784.7L683.9 1785.7L686.9 1782.4L688.9 1782.4L690.9 1785.1L691.9 1785.3L693.9 1783.4L698.9 1785.2L700.9 1783.0L701.9 1783.1L703.9 1785.8L705.9 1785.4L708.9 1782.4L710.9 1784.6L713.9 1785.7L715.9 1783.1L716.9 1782.8L720.9 1785.5L721.9 1785.5L723.9 1784.3L725.9 1785.4L726.9 1785.3L728.9 1784.1L731.9 1785.7L735.9 1784.2L738.9 1785.6L740.9 1785.7L743.9 1782.4L746.9 1785.7L753.9 1784.4L756.9 1785.3L760.9 1782.4L763.9 1785.3L766.9 1785.1L770.9 1785.9L773.9 1782.5L776.9 1784.9L780.9 1785.8L785.9 1784.8L792.9 1785.6L793.9 1785.5L796.9 1780.2L797.9 1780.2L801.9 1784.9L805.9 1785.7L808.9 1784.0L813.9 1783.8L818.9 1785.6L821.9 1784.4L825.9 1785.7L826.9 1785.5L828.9 1783.7L831.9 1785.7L838.9 1784.8L840.9 1785.7L841.9 1785.2L843.9 1782.4L846.9 1784.7L850.9 1784.4L853.9 1785.5L858.9 1785.6L863.9 1784.6L868.9 1785.6L870.9 1783.8L871.9 1783.9L873.9 1785.9L875.9 1785.2L878.9 1785.7L883.9 1784.7L885.9 1781.8L887.9 1780.7L889.9 1783.4L893.9 1785.6L895.9 1785.8L901.9 1784.7L910.9 1784.8L913.9 1784.0L916.9 1785.3L920.9 1784.5L923.9 1782.4L926.9 1785.8L933.9 1784.3L943.9 1785.8L950.9 1785.7L953.9 1782.7L956.9 1785.7L958.9 1785.6L960.9 1784.0L961.9 1784.0L963.9 1785.7L968.9 1785.2L970.9 1783.7L971.9 1783.9L973.9 1785.8L975.9 1785.9L980.9 1782.8L981.9 1782.9L983.9 1784.8L985.9 1783.3L988.9 1782.4L991.9 1784.4L995.9 1782.7L996.9 1783.0L998.9 1785.3L1001.9 1785.0L1003.9 1784.1L1005.9 1784.7L1008.9 1782.4L1011.9 1785.3L1013.9 1785.1L1019.9 1782.7L1021.9 1784.2L1023.9 1783.5L1026.9 1785.0L1030.9 1784.6L1033.9 1785.7L1038.9 1785.9L1040.9 1783.7L1041.9 1783.5L1043.9 1784.9L1048.9 1784.3L1053.9 1785.9L1058.9 1784.3L1061.9 1785.1L1066.9 1785.2L1073.9 1783.6L1075.9 1785.2L1076.9 1785.3L1078.9 1784.0L1081.9 1784.8L1085.9 1783.1L1088.9 1785.0L1093.9 1785.4L1095.9 1783.9L1096.9 1783.8L1098.9 1785.2L1103.9 1784.0L1105.9 1782.8L1106.9 1783.2L1108.9 1785.8L1110.9 1783.2L1113.9 1782.4L1115.9 1784.1L1118.9 1785.3L1121.9 1783.5L1125.9 1783.3L1128.9 1785.2L1130.9 1785.4L1133.9 1783.7L1135.9 1784.9L1136.9 1784.9L1138.9 1783.5L1140.9 1783.5L1142.9 1782.2L1143.9 1783.5L1146.9 1784.0L1148.9 1785.1L1150.9 1783.3L1151.9 1783.2L1153.9 1784.4L1155.9 1782.8L1156.9 1782.9L1158.9 1784.6L1161.9 1785.7L1168.9 1784.1L1173.9 1785.9L1181.9 1784.7L1185.9 1785.8L1186.9 1785.2L1188.9 1782.4L1193.9 1785.8L1195.9 1783.1L1196.9 1783.1L1198.9 1785.8L1201.9 1785.6L1203.9 1784.6L1206.9 1785.9L1208.9 1785.9L1211.9 1785.1L1215.9 1785.7L1218.9 1784.5L1220.9 1785.0L1222.9 1783.7L1223.9 1784.3L1226.9 1784.5L1228.9 1785.6L1231.9 1783.1L1233.9 1782.4L1235.9 1784.6L1238.9 1785.8L1241.9 1783.4L1243.9 1783.9L1246.9 1785.6L1253.9 1785.9L1256.9 1784.9L1260.9 1784.8L1263.9 1783.0L1265.9 1782.5L1268.9 1784.9L1270.9 1783.0L1271.9 1783.1L1273.9 1785.4L1275.9 1785.8L1285.9 1784.9L1288.9 1785.8L1290.9 1785.6L1293.9 1783.0L1296.9 1785.0L1298.9 1784.9L1302.9 1782.4L1303.9 1783.9L1308.9 1782.5L1310.9 1785.2L1311.9 1785.7L1313.9 1784.8L1316.9 1785.3L1318.9 1784.0L1321.9 1785.4L1325.9 1785.5L1326.9 1784.7L1328.9 1781.1L1329.9 1781.1L1331.9 1779.4L1332.9 1780.4L1333.9 1780.5L1335.9 1782.7L1337.9 1783.4L1339.9 1782.9L1343.9 1780.1L1346.9 1767.6L1348.9 1756.0L1350.9 1770.0L1351.9 1773.8L1353.9 1777.1L1355.9 1782.3L1356.9 1783.6L1361.9 1784.2L1363.9 1785.5L1366.9 1785.2L1368.9 1785.9L1376.9 1784.5L1378.9 1783.7L1380.9 1781.9L1381.9 1783.5L1382.9 1784.0L1386.9 1784.6L1388.9 1785.8L1390.9 1785.6L1393.9 1783.1L1395.9 1782.7L1398.9 1785.6L1401.9 1783.0L1403.9 1783.0L1406.9 1785.5L1408.9 1785.4L1411.9 1783.7L1413.9 1781.0L1414.9 1782.4L1418.9 1785.1L1420.9 1784.8L1423.9 1782.4L1425.9 1785.2L1426.9 1785.4L1428.9 1783.8L1431.9 1784.1L1433.9 1785.4L1435.9 1784.2L1440.9 1785.4L1443.9 1783.9L1445.9 1783.8L1448.9 1785.1L1450.9 1783.2L1451.9 1783.2L1453.9 1784.8L1455.9 1785.4L1458.9 1784.9L1460.9 1785.3L1463.9 1782.4L1465.9 1785.0L1466.9 1785.4L1468.9 1784.3L1470.9 1784.0L1473.9 1784.7L1474.9 1783.9L1478.9 1785.5L1485.9 1785.7L1489.9 1784.6L1491.9 1782.6L1493.9 1781.6L1495.9 1784.3L1496.9 1784.7L1498.9 1784.0L1501.9 1785.2L1503.9 1784.2L1508.9 1785.9L1510.9 1783.8L1511.9 1783.5L1515.9 1785.6L1518.9 1785.1L1523.9 1785.7L1525.9 1783.1L1526.9 1783.1L1528.9 1785.6L1533.9 1784.1L1536.9 1785.2L1540.9 1783.1L1545.9 1784.8L1548.9 1782.5L1550.9 1785.1L1551.9 1785.6L1555.9 1784.2L1558.9 1783.7L1563.9 1785.7L1565.9 1785.6L1568.9 1784.4L1570.9 1785.5L1572.9 1785.2L1573.3 1786.6Z" fill="#5c0a26" stroke="#4a041c" stroke-width="0.6" stroke-linejoin="round"/>
<text x="1583.0" y="1773.0" font-size="20.8" class="dv">Pvalb_Gaba</text>
<path d="M193.9 1828.5L193.9 1826.4L200.9 1827.9L203.9 1827.6L206.9 1828.0L210.9 1826.9L213.9 1827.8L220.9 1827.3L223.9 1826.5L228.9 1828.0L231.9 1827.3L236.9 1827.9L238.9 1827.6L240.9 1826.5L241.9 1826.5L243.9 1827.8L246.9 1827.3L248.9 1826.3L251.9 1826.7L253.9 1826.0L256.9 1827.9L258.9 1827.8L260.9 1826.4L261.9 1826.4L263.9 1827.8L273.9 1827.4L278.9 1825.3L281.9 1817.7L284.9 1824.9L286.9 1827.3L288.9 1827.7L291.9 1827.2L293.9 1827.7L298.9 1823.8L299.9 1820.6L303.9 1826.6L308.9 1828.0L311.9 1827.6L313.9 1828.0L323.9 1827.0L326.9 1828.0L330.9 1828.0L333.9 1827.0L336.9 1828.0L343.9 1825.8L346.9 1827.8L351.9 1826.3L353.9 1827.1L356.9 1826.8L358.9 1828.0L364.9 1827.5L368.9 1825.7L371.9 1827.5L375.9 1827.8L378.9 1826.6L381.9 1827.5L388.9 1828.0L390.9 1826.3L391.9 1826.1L393.9 1827.2L395.9 1827.3L398.9 1826.3L401.9 1827.8L406.9 1828.0L410.9 1827.9L413.9 1826.5L416.9 1827.9L428.9 1826.8L430.9 1827.6L433.9 1827.2L435.9 1827.8L438.9 1826.0L441.9 1827.8L443.9 1828.0L445.9 1826.3L446.9 1826.3L448.9 1828.0L453.9 1827.5L456.9 1827.9L458.9 1827.4L460.9 1827.8L463.9 1825.8L466.9 1827.4L468.9 1827.7L473.9 1827.1L476.9 1827.8L481.9 1827.6L488.9 1826.5L490.9 1826.7L493.9 1825.6L495.9 1826.5L496.9 1826.2L498.9 1823.1L500.9 1826.1L501.9 1826.5L504.9 1825.5L506.9 1823.2L509.9 1826.5L511.9 1826.7L513.9 1825.8L518.9 1827.8L523.9 1827.4L525.9 1826.7L528.9 1827.5L533.9 1825.8L535.9 1826.9L538.9 1826.3L541.9 1827.8L543.9 1827.1L546.9 1827.9L550.9 1827.8L553.9 1825.8L556.9 1827.8L563.9 1827.5L568.9 1828.0L573.9 1825.8L576.9 1827.7L580.9 1826.9L583.9 1827.5L586.9 1826.8L588.9 1827.4L590.9 1826.8L593.9 1824.3L594.9 1825.8L596.9 1827.1L605.9 1828.0L610.9 1828.0L613.9 1825.8L618.9 1827.6L621.9 1827.0L625.9 1827.9L630.9 1827.0L635.9 1827.7L638.9 1827.3L640.9 1827.8L643.9 1826.2L645.9 1825.9L648.9 1827.6L651.9 1826.2L654.9 1826.4L657.9 1825.8L658.9 1825.2L660.9 1821.3L663.9 1825.6L668.9 1828.0L671.9 1827.3L675.9 1828.0L680.9 1827.9L683.9 1826.6L688.9 1826.9L690.9 1827.8L691.9 1827.6L693.9 1825.8L696.9 1828.0L699.9 1827.6L703.9 1826.0L708.9 1827.6L713.9 1828.0L720.9 1827.3L723.9 1828.0L725.9 1826.9L728.9 1828.0L731.9 1827.3L733.9 1827.9L738.9 1826.2L741.9 1827.9L743.9 1827.5L750.9 1827.7L753.9 1825.8L756.9 1827.7L761.9 1827.5L763.9 1826.9L766.9 1828.0L770.9 1828.0L775.9 1827.1L781.9 1827.8L788.9 1826.9L790.9 1827.1L793.9 1826.0L795.9 1826.4L797.9 1825.2L800.9 1827.1L803.9 1826.8L808.9 1828.0L810.9 1827.1L813.9 1827.7L815.9 1827.0L818.9 1828.0L823.9 1826.7L828.9 1827.4L833.9 1826.7L836.9 1827.8L838.9 1827.5L845.9 1828.0L848.9 1827.3L850.9 1827.9L853.9 1826.1L855.9 1827.5L856.9 1827.6L858.9 1826.6L863.9 1828.0L868.9 1828.0L871.9 1827.3L873.9 1827.8L876.9 1826.4L881.9 1827.9L883.9 1827.6L884.9 1826.7L887.9 1821.9L888.9 1822.4L890.9 1825.0L893.9 1827.0L895.9 1827.0L898.9 1825.8L900.9 1827.3L903.9 1827.8L908.9 1827.8L910.9 1826.2L911.9 1826.1L915.9 1827.8L918.9 1826.1L920.9 1825.9L923.9 1827.8L928.9 1827.3L931.9 1825.9L933.9 1826.3L936.9 1827.9L938.9 1827.4L941.9 1827.8L948.9 1827.4L950.9 1827.8L953.9 1826.5L956.9 1827.7L973.9 1827.7L976.9 1827.1L981.9 1827.9L988.9 1828.0L993.9 1825.8L998.9 1828.0L1001.9 1827.3L1006.9 1828.0L1011.9 1827.6L1015.9 1826.1L1018.9 1827.2L1023.9 1823.5L1024.9 1825.3L1026.9 1826.8L1031.9 1826.7L1033.9 1827.6L1036.9 1828.0L1038.9 1828.0L1043.9 1826.3L1046.9 1827.7L1050.9 1826.0L1055.9 1826.9L1058.9 1825.8L1061.9 1827.5L1068.9 1826.6L1070.9 1827.5L1073.9 1825.8L1076.9 1827.6L1078.9 1828.0L1083.9 1828.0L1086.9 1826.8L1090.9 1827.9L1093.9 1827.9L1096.9 1827.0L1103.9 1828.0L1105.9 1827.0L1108.9 1827.5L1112.9 1824.2L1113.9 1822.4L1115.9 1825.0L1118.9 1827.2L1120.9 1827.1L1123.9 1825.8L1125.9 1827.4L1126.9 1827.5L1128.9 1825.8L1133.9 1828.0L1135.9 1826.2L1136.9 1826.0L1138.9 1827.0L1140.9 1826.5L1142.9 1824.9L1145.9 1827.1L1148.9 1825.8L1153.9 1827.6L1158.9 1827.6L1161.9 1826.8L1165.9 1827.3L1168.9 1826.3L1170.9 1827.2L1173.9 1826.8L1176.9 1827.8L1181.9 1827.8L1185.9 1826.7L1188.9 1828.0L1191.9 1826.8L1193.9 1826.7L1196.9 1827.8L1198.9 1827.1L1201.9 1827.0L1203.9 1825.9L1206.9 1827.7L1208.9 1827.4L1211.9 1828.0L1213.9 1828.0L1215.9 1827.1L1218.9 1828.0L1223.9 1826.2L1225.9 1827.6L1226.9 1827.6L1228.9 1826.5L1231.9 1827.7L1233.9 1827.9L1236.9 1827.3L1240.9 1827.8L1243.9 1826.2L1245.9 1827.4L1246.9 1827.4L1248.9 1826.3L1250.9 1826.6L1253.9 1826.1L1255.9 1826.2L1258.9 1827.7L1260.9 1827.0L1263.9 1827.9L1268.9 1827.3L1278.9 1827.8L1280.9 1826.2L1281.9 1826.3L1283.9 1827.9L1300.9 1827.4L1303.9 1828.0L1306.9 1827.7L1308.9 1826.6L1313.9 1827.4L1316.9 1825.8L1320.9 1825.8L1323.9 1827.4L1326.9 1827.7L1331.9 1827.0L1333.9 1825.1L1335.9 1821.1L1336.9 1823.6L1338.9 1825.8L1341.9 1825.7L1343.9 1824.5L1346.9 1816.8L1348.9 1806.2L1350.9 1817.6L1353.9 1824.5L1355.9 1826.3L1358.9 1826.4L1363.9 1827.9L1365.9 1826.6L1368.9 1827.4L1369.9 1827.2L1372.9 1825.1L1373.9 1826.0L1376.9 1825.7L1381.9 1827.9L1383.9 1828.0L1388.9 1827.5L1390.9 1827.8L1393.9 1825.8L1398.9 1827.4L1401.9 1826.9L1406.9 1827.8L1410.9 1826.8L1413.9 1823.1L1415.9 1825.9L1421.9 1828.0L1425.9 1827.8L1428.9 1826.6L1431.9 1827.5L1438.9 1827.1L1440.9 1824.9L1446.9 1827.7L1453.9 1825.8L1456.9 1827.9L1458.9 1827.2L1463.9 1827.8L1465.9 1826.2L1466.9 1826.1L1468.9 1827.3L1471.9 1826.3L1473.9 1824.9L1474.9 1824.9L1476.9 1826.6L1478.9 1825.9L1483.9 1827.9L1486.9 1827.2L1490.9 1828.0L1493.9 1827.8L1496.9 1826.3L1498.9 1827.3L1501.9 1827.8L1505.9 1826.2L1507.9 1824.0L1510.9 1827.0L1513.9 1827.7L1520.9 1827.5L1523.9 1825.8L1525.9 1827.6L1526.9 1827.8L1528.9 1826.8L1533.9 1827.7L1541.9 1828.0L1545.9 1827.5L1548.9 1825.8L1553.9 1827.8L1555.9 1826.2L1556.9 1826.2L1558.9 1827.6L1560.9 1827.2L1563.9 1827.8L1566.9 1826.4L1570.9 1826.6L1572.9 1827.3L1573.3 1828.5Z" fill="#98f2f4" stroke="#80eaee" stroke-width="0.6" stroke-linejoin="round"/>
<text x="1583.0" y="1815.0" font-size="20.8" class="dv">Sst_Gaba</text>
<path d="M181.2 1200.9V1828.5" stroke="#000" stroke-width="1.3" fill="none"/>
<path d="M174.8 1200.9H181.2M174.8 1242.8H181.2M174.8 1284.7H181.2M174.8 1326.6H181.2M174.8 1368.5H181.2M174.8 1410.4H181.2M174.8 1452.3H181.2M174.8 1494.2H181.2M174.8 1536.1H181.2M174.8 1578.0H181.2M174.8 1619.9H181.2M174.8 1661.8H181.2M174.8 1703.7H181.2M174.8 1745.6H181.2M174.8 1787.5H181.2M174.8 1829.4H181.2" stroke="#000" stroke-width="1.3"/>
<text x="170.4" y="1214.1" font-size="17" text-anchor="end" class="dv">0.15</text>
<text x="170.6" y="1239.1" font-size="17" text-anchor="end" class="dv">0</text>
<text x="170.4" y="1256.0" font-size="17" text-anchor="end" class="dv">0.15</text>
<text x="170.6" y="1281.0" font-size="17" text-anchor="end" class="dv">0</text>
<text x="170.4" y="1297.9" font-size="17" text-anchor="end" class="dv">0.15</text>
<text x="170.6" y="1322.9" font-size="17" text-anchor="end" class="dv">0</text>
<text x="170.4" y="1339.8" font-size="17" text-anchor="end" class="dv">0.15</text>
<text x="170.6" y="1364.8" font-size="17" text-anchor="end" class="dv">0</text>
<text x="170.4" y="1381.7" font-size="17" text-anchor="end" class="dv">0.15</text>
<text x="170.6" y="1406.7" font-size="17" text-anchor="end" class="dv">0</text>
<text x="170.4" y="1423.6" font-size="17" text-anchor="end" class="dv">0.15</text>
<text x="170.6" y="1448.6" font-size="17" text-anchor="end" class="dv">0</text>
<text x="170.4" y="1465.5" font-size="17" text-anchor="end" class="dv">0.15</text>
<text x="170.6" y="1490.5" font-size="17" text-anchor="end" class="dv">0</text>
<text x="170.4" y="1507.4" font-size="17" text-anchor="end" class="dv">0.15</text>
<text x="170.6" y="1532.4" font-size="17" text-anchor="end" class="dv">0</text>
<text x="170.4" y="1549.3" font-size="17" text-anchor="end" class="dv">0.15</text>
<text x="170.6" y="1574.3" font-size="17" text-anchor="end" class="dv">0</text>
<text x="170.4" y="1591.2" font-size="17" text-anchor="end" class="dv">0.15</text>
<text x="170.6" y="1616.2" font-size="17" text-anchor="end" class="dv">0</text>
<text x="170.4" y="1633.1" font-size="17" text-anchor="end" class="dv">0.15</text>
<text x="170.6" y="1658.1" font-size="17" text-anchor="end" class="dv">0</text>
<text x="170.4" y="1675.0" font-size="17" text-anchor="end" class="dv">0.15</text>
<text x="170.6" y="1700.0" font-size="17" text-anchor="end" class="dv">0</text>
<text x="170.4" y="1716.9" font-size="17" text-anchor="end" class="dv">0.15</text>
<text x="170.6" y="1741.9" font-size="17" text-anchor="end" class="dv">0</text>
<text x="170.4" y="1758.8" font-size="17" text-anchor="end" class="dv">0.15</text>
<text x="170.6" y="1783.8" font-size="17" text-anchor="end" class="dv">0</text>
<text x="170.4" y="1800.7" font-size="17" text-anchor="end" class="dv">0.15</text>
<text x="170.6" y="1825.7" font-size="17" text-anchor="end" class="dv">0</text>
<rect x="260.9" y="1843.4" width="3.8" height="9.3" fill="#9a9038"/>
<text x="269.8" y="1852.0" font-size="11.5" class="dv">1</text>
<rect x="280.1" y="1853.7" width="3.8" height="9.3" fill="#68f018"/>
<text x="289.0" y="1862.3" font-size="11.5" class="dv">2</text>
<rect x="299.9" y="1843.4" width="3.8" height="9.3" fill="#2210f2"/>
<text x="308.8" y="1852.0" font-size="11.5" class="dv">3</text>
<rect x="369.3" y="1853.7" width="3.8" height="9.3" fill="#68f018"/>
<text x="378.2" y="1862.3" font-size="11.5" class="dv">4</text>
<rect x="446.3" y="1843.4" width="3.8" height="9.3" fill="#3a6a5a"/>
<text x="455.2" y="1852.0" font-size="11.5" class="dv">5</text>
<rect x="488.1" y="1853.7" width="3.8" height="9.3" fill="#3a6a5a"/>
<text x="497.0" y="1862.3" font-size="11.5" class="dv">6</text>
<rect x="527.9" y="1843.4" width="3.8" height="9.3" fill="#2210f2"/>
<text x="536.8" y="1852.0" font-size="11.5" class="dv">7</text>
<rect x="592.1" y="1853.7" width="3.8" height="9.3" fill="#2210f2"/>
<text x="601.0" y="1862.3" font-size="11.5" class="dv">8</text>
<rect x="657.5" y="1843.4" width="3.8" height="9.3" fill="#2210f2"/>
<text x="666.4" y="1852.0" font-size="11.5" class="dv">9</text>
<rect x="788.9" y="1853.7" width="3.8" height="9.3" fill="#68f018"/>
<text x="797.8" y="1862.3" font-size="11.5" class="dv">10</text>
<rect x="795.4" y="1843.4" width="3.8" height="9.3" fill="#9a9038"/>
<text x="804.3" y="1852.0" font-size="11.5" class="dv">11</text>
<rect x="886.5" y="1853.7" width="3.8" height="9.3" fill="#c8865c"/>
<text x="895.4" y="1862.3" font-size="11.5" class="dv">12</text>
<rect x="1018.9" y="1843.4" width="3.8" height="9.3" fill="#5aa282"/>
<text x="1027.8" y="1852.0" font-size="11.5" class="dv">13</text>
<rect x="1437.9" y="1853.7" width="3.8" height="9.3" fill="#5aa282"/>
<text x="1446.8" y="1862.3" font-size="11.5" class="dv">14</text>
<rect x="1488.6" y="1843.4" width="3.8" height="9.3" fill="#90d8a2"/>
<text x="1497.5" y="1852.0" font-size="11.5" class="dv">15</text>
<rect x="1556.1" y="1853.7" width="3.8" height="9.3" fill="#9a9038"/>
<text x="1565.0" y="1862.3" font-size="11.5" class="dv">16</text>
<text x="1582.5" y="1859.2" font-size="20.8" class="dv">peak</text>
<text x="1582.5" y="1893.0" font-size="20.8" class="dv">TSS</text>
<text x="1582.5" y="2018.7" font-size="20.8" class="dv">genes</text>
<path d="M248.8 1879H301.8V1892.8M382.0 1879H435.0V1892.8M448.2 1879H501.2V1892.8M972.5 1879H1025.5V1892.8M1279.8 1879H1332.8V1892.8M393.3 1915H446.3V1928.8M1280.0 1915H1333.0V1928.8M1294.0 1950.8H1347.0V1964.6M1295.3 1986.5H1348.3V2000.3" stroke="#2b2b92" stroke-width="1.25" fill="none"/>
<path d="M245.8 1879l9 -2.6v5.2zM379.0 1879l9 -2.6v5.2zM445.2 1879l9 -2.6v5.2zM969.5 1879l9 -2.6v5.2zM1276.8 1879l9 -2.6v5.2zM390.3 1915l9 -2.6v5.2zM1277.0 1915l9 -2.6v5.2zM1291.0 1950.8l9 -2.6v5.2zM1292.3 1986.5l9 -2.6v5.2z" fill="#2b2b92"/>
<path d="M309.1 1888.6h1.8v1.8h-1.8zM442.3 1888.6h1.8v1.8h-1.8zM508.5 1888.6h1.8v1.8h-1.8zM1032.8 1888.6h1.8v1.8h-1.8zM1340.1 1888.6h1.8v1.8h-1.8zM453.6 1924.6h1.8v1.8h-1.8zM1340.3 1924.6h1.8v1.8h-1.8zM1354.3 1960.4h1.8v1.8h-1.8zM1355.6 1996.1h1.8v1.8h-1.8z" fill="#000"/>
<defs><pattern id="chl" width="11.3" height="27.81" patternUnits="userSpaceOnUse" x="196" y="2005"><path d="M5.6 1.6L2.6 4L5.6 6.4" stroke="#333" stroke-width="1" fill="none"/></pattern><pattern id="chr" width="10" height="27.81" patternUnits="userSpaceOnUse" x="1180" y="2005"><path d="M2.6 1.6L5.6 4L2.6 6.4" stroke="#333" stroke-width="1" fill="none"/></pattern></defs>
<rect x="197.3" y="2005.0" width="1146.7" height="8" fill="url(#chl)"/>
<text x="1352.6" y="2014.0" font-size="14.2" class="dv">Cux2</text>
<rect x="197.3" y="2032.7" width="1132.7" height="8" fill="url(#chl)"/>
<text x="1338.5" y="2041.7" font-size="14.2" class="dv">Cux2</text>
<rect x="197.3" y="2060.0" width="301.9" height="8" fill="url(#chl)"/>
<text x="507.3" y="2069.0" font-size="14.2" class="dv">Cux2</text>
<rect x="1182.8" y="2060.0" width="26.0" height="8" fill="url(#chr)"/>
<text x="1216.5" y="2069.0" font-size="14.2" class="dv">Gm3970</text>
<rect x="1338.6" y="2060.0" width="44.8" height="8" fill="url(#chr)"/>
<text x="1391.5" y="2069.0" font-size="14.2" class="dv">Gm15637</text>
<rect x="197.3" y="2088.0" width="235.3" height="8" fill="url(#chl)"/>
<text x="441.0" y="2097.0" font-size="14.2" class="dv">Cux2</text>
<rect x="197.3" y="2116.2" width="102.5" height="8" fill="url(#chl)"/>
<text x="307.9" y="2125.2" font-size="14.2" class="dv">Cux2</text>
<rect x="502.3" y="2116.2" width="827.7" height="8" fill="url(#chl)"/>
<text x="1338.5" y="2125.2" font-size="14.2" class="dv">Cux2</text>
<rect x="232.0" y="2144.4" width="1113.9" height="8" fill="url(#chl)"/>
<text x="1354.0" y="2153.4" font-size="14.2" class="dv">Cux2</text>
<rect x="249.8" y="2172.5" width="772.2" height="8" fill="url(#chl)"/>
<text x="1031.0" y="2181.5" font-size="14.2" class="dv">Cux2</text>
<rect x="304.3" y="2199.7" width="140.0" height="8" fill="url(#chl)"/>
<text x="452.0" y="2208.7" font-size="14.2" class="dv">Cux2</text>
<path d="M195.3 2009H1346.0M195.3 2036.7H1332.0M195.3 2064H501.2M1180.8 2064H1210.8M1336.6 2064H1385.4M195.3 2092H434.6M195.3 2120.2H301.8M500.3 2120.2H1332.0M230.0 2148.4H1347.9M247.8 2176.5H1024.0M302.3 2203.7H446.3" stroke="#444" stroke-width="1" fill="none"/>
<path d="M195.3 2004.5h1.6v9h-1.6zM1344.5 2004.5h1.6v9h-1.6zM223.3 2004.5h1.6v9h-1.6zM232.3 2004.5h1.6v9h-1.6zM238.3 2004.5h1.6v9h-1.6zM245.3 2004.5h1.6v9h-1.6zM195.3 2032.2h1.6v9h-1.6zM1330.5 2032.2h1.6v9h-1.6zM223.3 2032.2h1.6v9h-1.6zM232.3 2032.2h1.6v9h-1.6zM238.3 2032.2h1.6v9h-1.6zM245.3 2032.2h1.6v9h-1.6zM195.3 2059.5h1.6v9h-1.6zM499.7 2059.5h1.6v9h-1.6zM223.3 2059.5h1.6v9h-1.6zM232.3 2059.5h1.6v9h-1.6zM238.3 2059.5h1.6v9h-1.6zM245.3 2059.5h1.6v9h-1.6zM1180.8 2060.5h2v7h-2zM1208.8 2060.5h2v7h-2zM1336.6 2060.5h2v7h-2zM1383.4 2060.5h2v7h-2zM195.3 2087.5h1.6v9h-1.6zM433.1 2087.5h1.6v9h-1.6zM223.3 2087.5h1.6v9h-1.6zM232.3 2087.5h1.6v9h-1.6zM238.3 2087.5h1.6v9h-1.6zM245.3 2087.5h1.6v9h-1.6zM195.3 2115.7h1.6v9h-1.6zM300.3 2115.7h1.6v9h-1.6zM223.3 2115.7h1.6v9h-1.6zM232.3 2115.7h1.6v9h-1.6zM238.3 2115.7h1.6v9h-1.6zM245.3 2115.7h1.6v9h-1.6zM500.3 2115.7h1.6v9h-1.6zM1330.5 2115.7h1.6v9h-1.6zM230.0 2143.9h1.6v9h-1.6zM1346.4 2143.9h1.6v9h-1.6zM247.8 2172.0h1.6v9h-1.6zM1022.5 2172.0h1.6v9h-1.6zM302.3 2199.2h1.6v9h-1.6zM444.8 2199.2h1.6v9h-1.6z" fill="#2b2b92" fill-opacity="0.85"/>
<text x="2.0" y="2265.5" font-size="42" font-weight="bold">c</text>
<text x="52.0" y="2268.2" font-size="20.7">Cux2 gene expression</text>
<text x="386.7" y="2269.8" font-size="18.5">Peak1</text>
<text x="386.7" y="2290.8" font-size="18.5">chr5:121889365&#8722;121889865</text>
<text x="719.3" y="2269.8" font-size="18.5">Peak10</text>
<text x="719.3" y="2290.8" font-size="18.5">chr5:121967489&#8722;121967989</text>
<text x="1052.0" y="2269.8" font-size="18.5">Peak8</text>
<text x="1052.0" y="2290.8" font-size="18.5">chr5:121938386&#8722;121938886</text>
<text x="1384.6" y="2269.8" font-size="18.5">Peak5</text>
<text x="1384.6" y="2290.8" font-size="18.5">chr5:121916770&#8722;121917270</text>
<text x="1717.3" y="2269.8" font-size="18.5">Peak15</text>
<text x="1717.3" y="2290.8" font-size="18.5">chr5:122070898&#8722;122071398</text>
<defs><filter id="spk" x="0" y="2270" width="2024" height="322" filterUnits="userSpaceOnUse" primitiveUnits="userSpaceOnUse"><feTurbulence type="fractalNoise" baseFrequency="0.55" numOctaves="2" seed="4" result="n"/><feColorMatrix in="n" type="matrix" values="0 0 0 0 0  0 0 0 0 0  0 0 0 0 0  0 0 0 7 -2.75" result="a"/><feComposite in="SourceGraphic" in2="a" operator="in"/></filter></defs>
<g filter="url(#spk)">
<g transform="matrix(0.18769 0 0 0.18769 40.00 2270.00)" stroke-linejoin="round">
<polygon points="650,125 700,60 740,40 790,70 830,130 880,180 930,230 975,290 1000,360 1010,440 985,480 1010,560 990,620 950,660 900,640 860,580 800,520 740,480 700,460 640,420 600,380 560,330 530,280 525,250 560,215 620,200 660,170" fill="#c9c9c9" stroke="#c9c9c9" stroke-width="14"/>
<polygon points="410,345 440,315 500,315 550,345 600,400 660,450 720,490 790,530 850,580 900,640 950,680 1020,700 1040,750 1000,770 930,750 860,720 790,680 720,640 650,590 580,540 520,490 470,440 430,400" fill="#c9c9c9" stroke="#c9c9c9" stroke-width="14"/>
<polygon points="300,590 320,540 360,520 420,530 470,560 530,590 600,610 680,640 740,680 790,720 820,760 760,780 650,790 520,790 420,780 330,780 240,770 180,740 190,700 250,680 290,640" fill="#c9c9c9" stroke="#c9c9c9" stroke-width="14"/>
<polygon points="60,800 90,740 140,710 180,705 240,740 285,790 290,860 275,950 270,1060 250,1130 200,1140 140,1110 100,1060 90,980 70,900" fill="#ec563b" stroke="#ec563b" stroke-width="14"/>
<polygon points="285,790 400,790 470,795 500,820 500,940 480,1040 430,1080 390,1130 340,1160 300,1130 272,1070 280,950 292,860" fill="#ea5c43" stroke="#ea5c43" stroke-width="14"/>
<polygon points="470,795 520,800 620,790 720,770 800,750 880,740 960,730 1040,720 1090,750 1110,800 1090,850 1040,880 950,920 850,940 780,960 720,1010 660,1060 600,1080 540,1060 480,1040 500,940 500,820" fill="#eb5a40" stroke="#eb5a40" stroke-width="14"/>
<polygon points="1090,800 1150,830 1200,860 1240,800 1260,740 1290,760 1320,830 1330,900 1320,1000 1300,1100 1260,1190 1190,1260 1120,1310 1080,1320 1050,1290 1040,1240 1080,1190 1130,1120 1170,1050 1200,980 1190,930 1130,900 1080,860" fill="#cdbab7" stroke="#cdbab7" stroke-width="14"/>
<polygon points="1080,220 1130,180 1200,140 1270,110 1310,130 1335,190 1330,260 1300,330 1280,400 1260,470 1235,540 1210,490 1170,440 1130,400 1110,330" fill="#ea5f46" stroke="#ea5f46" stroke-width="14"/>
<polygon points="1325,510 1370,450 1430,380 1470,340 1500,400 1520,470 1540,560 1500,590 1430,580 1370,560" fill="#dd8677" stroke="#dd8677" stroke-width="14"/>
<polygon points="1535,800 1570,770 1620,760 1660,790 1670,840 1630,860 1610,900 1580,910 1560,870 1540,840" fill="#c9c9c9" stroke="#c9c9c9" stroke-width="14"/>
<polygon points="1520,1010 1550,990 1600,995 1590,1030 1545,1050 1525,1040" fill="#c9c9c9" stroke="#c9c9c9" stroke-width="14"/>
<polygon points="1520,1180 1540,1130 1580,1115 1610,1150 1620,1190 1590,1215 1540,1215" fill="#c9c9c9" stroke="#c9c9c9" stroke-width="14"/>
<polygon points="560,1390 600,1350 660,1320 730,1270 800,1230 840,1250 880,1320 870,1390 830,1440 760,1430 700,1410 650,1400 610,1440 590,1500 600,1560 640,1600 690,1600 720,1640 710,1690 670,1700 640,1670 600,1610 570,1560 555,1480" fill="#df8070" stroke="#df8070" stroke-width="14"/>
<polygon points="988,1505 1010,1472 1050,1460 1090,1462 1115,1478 1110,1522 1094,1560 1060,1582 1025,1578 995,1548" fill="#c9c9c9" stroke="#c9c9c9" stroke-width="14"/>
<polygon points="1130,1445 1150,1428 1178,1432 1185,1452 1160,1468 1135,1463" fill="#c9c9c9" stroke="#c9c9c9" stroke-width="14"/>
<polygon points="1150,400 1200,380 1265,390 1272,450 1240,540 1205,480" fill="#ee5034" stroke="#ee5034" stroke-width="14"/>
<polygon points="1255,735 1275,730 1310,800 1310,830 1290,830 1262,780" fill="#c9c9c9" stroke="#c9c9c9" stroke-width="14"/>
<path d="M520 300L600 372L667 451L746 541L852 660L930 720" stroke="#fff" stroke-width="30" fill="none" stroke-linecap="round"/>
<path d="M450 495L562 550L640 585L720 623L800 662L880 702L940 735" stroke="#fff" stroke-width="56" fill="none" stroke-linecap="round"/>
<path d="M300 645L275 800L258 1040" stroke="#fff" stroke-width="22" fill="none" stroke-linecap="round"/>
<path d="M905 808L1105 822" stroke="#fff" stroke-width="14" fill="none" stroke-linecap="round"/>
<ellipse cx="440" cy="850" rx="70" ry="170" fill="#fff" fill-opacity="0.5"/>
<ellipse cx="470" cy="690" rx="60" ry="40" fill="#fff" fill-opacity="0.6"/>
<ellipse cx="800" cy="330" rx="40" ry="60" fill="#fff" fill-opacity="0.35"/>
<ellipse cx="760" cy="180" rx="30" ry="40" fill="#fff" fill-opacity="0.3"/>
<polygon points="540,540 580,550 640,590 700,640 690,652 630,612 570,572 545,555" fill="#ee5034" stroke="#ee5034" stroke-width="14"/>
</g>
<g transform="matrix(0.17736 0 0 0.17736 399.00 2287.80)" stroke-linejoin="round">
<polygon points="650,125 700,60 740,40 790,70 830,130 880,180 930,230 975,290 1000,360 1010,440 985,480 1010,560 990,620 950,660 900,640 860,580 800,520 740,480 700,460 640,420 600,380 560,330 530,280 525,250 560,215 620,200 660,170" fill="#c9c9c9" stroke="#c9c9c9" stroke-width="14"/>
<polygon points="410,345 440,315 500,315 550,345 600,400 660,450 720,490 790,530 850,580 900,640 950,680 1020,700 1040,750 1000,770 930,750 860,720 790,680 720,640 650,590 580,540 520,490 470,440 430,400" fill="#c9c9c9" stroke="#c9c9c9" stroke-width="14"/>
<polygon points="300,590 320,540 360,520 420,530 470,560 530,590 600,610 680,640 740,680 790,720 820,760 760,780 650,790 520,790 420,780 330,780 240,770 180,740 190,700 250,680 290,640" fill="#c9c9c9" stroke="#c9c9c9" stroke-width="14"/>
<polygon points="60,800 90,740 140,710 180,705 240,740 285,790 290,860 275,950 270,1060 250,1130 200,1140 140,1110 100,1060 90,980 70,900" fill="#ccc1bf" stroke="#ccc1bf" stroke-width="14"/>
<polygon points="285,790 400,790 470,795 500,820 500,940 480,1040 430,1080 390,1130 340,1160 300,1130 272,1070 280,950 292,860" fill="#ccc1bf" stroke="#ccc1bf" stroke-width="14"/>
<polygon points="470,795 520,800 620,790 720,770 800,750 880,740 960,730 1040,720 1090,750 1110,800 1090,850 1040,880 950,920 850,940 780,960 720,1010 660,1060 600,1080 540,1060 480,1040 500,940 500,820" fill="#cdbdba" stroke="#cdbdba" stroke-width="14"/>
<polygon points="1090,800 1150,830 1200,860 1240,800 1260,740 1290,760 1320,830 1330,900 1320,1000 1300,1100 1260,1190 1190,1260 1120,1310 1080,1320 1050,1290 1040,1240 1080,1190 1130,1120 1170,1050 1200,980 1190,930 1130,900 1080,860" fill="#c9c9c9" stroke="#c9c9c9" stroke-width="14"/>
<polygon points="1080,220 1130,180 1200,140 1270,110 1310,130 1335,190 1330,260 1300,330 1280,400 1260,470 1235,540 1210,490 1170,440 1130,400 1110,330" fill="#d0b3ae" stroke="#d0b3ae" stroke-width="14"/>
<polygon points="1325,510 1370,450 1430,380 1470,340 1500,400 1520,470 1540,560 1500,590 1430,580 1370,560" fill="#cfb7b3" stroke="#cfb7b3" stroke-width="14"/>
<polygon points="1535,800 1570,770 1620,760 1660,790 1670,840 1630,860 1610,900 1580,910 1560,870 1540,840" fill="#c9c9c9" stroke="#c9c9c9" stroke-width="14"/>
<polygon points="1520,1010 1550,990 1600,995 1590,1030 1545,1050 1525,1040" fill="#c9c9c9" stroke="#c9c9c9" stroke-width="14"/>
<polygon points="1520,1180 1540,1130 1580,1115 1610,1150 1620,1190 1590,1215 1540,1215" fill="#c9c9c9" stroke="#c9c9c9" stroke-width="14"/>
<polygon points="560,1390 600,1350 660,1320 730,1270 800,1230 840,1250 880,1320 870,1390 830,1440 760,1430 700,1410 650,1400 610,1440 590,1500 600,1560 640,1600 690,1600 720,1640 710,1690 670,1700 640,1670 600,1610 570,1560 555,1480" fill="#c9c9c9" stroke="#c9c9c9" stroke-width="14"/>
<polygon points="988,1505 1010,1472 1050,1460 1090,1462 1115,1478 1110,1522 1094,1560 1060,1582 1025,1578 995,1548" fill="#c9c9c9" stroke="#c9c9c9" stroke-width="14"/>
<polygon points="1130,1445 1150,1428 1178,1432 1185,1452 1160,1468 1135,1463" fill="#c9c9c9" stroke="#c9c9c9" stroke-width="14"/>
<polygon points="1255,735 1275,730 1310,800 1310,830 1290,830 1262,780" fill="#d8998d" stroke="#d8998d" stroke-width="14"/>
<path d="M520 300L600 372L667 451L746 541L852 660L930 720" stroke="#fff" stroke-width="30" fill="none" stroke-linecap="round"/>
<path d="M450 495L562 550L640 585L720 623L800 662L880 702L940 735" stroke="#fff" stroke-width="56" fill="none" stroke-linecap="round"/>
<path d="M300 645L275 800L258 1040" stroke="#fff" stroke-width="22" fill="none" stroke-linecap="round"/>
<path d="M905 808L1105 822" stroke="#fff" stroke-width="14" fill="none" stroke-linecap="round"/>
<ellipse cx="440" cy="850" rx="70" ry="170" fill="#fff" fill-opacity="0.5"/>
<ellipse cx="470" cy="690" rx="60" ry="40" fill="#fff" fill-opacity="0.6"/>
<ellipse cx="800" cy="330" rx="40" ry="60" fill="#fff" fill-opacity="0.35"/>
<ellipse cx="760" cy="180" rx="30" ry="40" fill="#fff" fill-opacity="0.3"/>
<polygon points="880,700 960,680 1050,720 1100,780 1110,860 1060,890 960,870 900,820" fill="#dd8677" stroke="#dd8677" stroke-width="14"/>
</g>
<g transform="matrix(0.17736 0 0 0.17736 731.65 2287.80)" stroke-linejoin="round">
<polygon points="650,125 700,60 740,40 790,70 830,130 880,180 930,230 975,290 1000,360 1010,440 985,480 1010,560 990,620 950,660 900,640 860,580 800,520 740,480 700,460 640,420 600,380 560,330 530,280 525,250 560,215 620,200 660,170" fill="#c9c9c9" stroke="#c9c9c9" stroke-width="14"/>
<polygon points="410,345 440,315 500,315 550,345 600,400 660,450 720,490 790,530 850,580 900,640 950,680 1020,700 1040,750 1000,770 930,750 860,720 790,680 720,640 650,590 580,540 520,490 470,440 430,400" fill="#c9c9c9" stroke="#c9c9c9" stroke-width="14"/>
<polygon points="300,590 320,540 360,520 420,530 470,560 530,590 600,610 680,640 740,680 790,720 820,760 760,780 650,790 520,790 420,780 330,780 240,770 180,740 190,700 250,680 290,640" fill="#c9c9c9" stroke="#c9c9c9" stroke-width="14"/>
<polygon points="60,800 90,740 140,710 180,705 240,740 285,790 290,860 275,950 270,1060 250,1130 200,1140 140,1110 100,1060 90,980 70,900" fill="#d69f95" stroke="#d69f95" stroke-width="14"/>
<polygon points="285,790 400,790 470,795 500,820 500,940 480,1040 430,1080 390,1130 340,1160 300,1130 272,1070 280,950 292,860" fill="#d5a299" stroke="#d5a299" stroke-width="14"/>
<polygon points="470,795 520,800 620,790 720,770 800,750 880,740 960,730 1040,720 1090,750 1110,800 1090,850 1040,880 950,920 850,940 780,960 720,1010 660,1060 600,1080 540,1060 480,1040 500,940 500,820" fill="#d8998d" stroke="#d8998d" stroke-width="14"/>
<polygon points="1090,800 1150,830 1200,860 1240,800 1260,740 1290,760 1320,830 1330,900 1320,1000 1300,1100 1260,1190 1190,1260 1120,1310 1080,1320 1050,1290 1040,1240 1080,1190 1130,1120 1170,1050 1200,980 1190,930 1130,900 1080,860" fill="#c9c9c9" stroke="#c9c9c9" stroke-width="14"/>
<polygon points="1080,220 1130,180 1200,140 1270,110 1310,130 1335,190 1330,260 1300,330 1280,400 1260,470 1235,540 1210,490 1170,440 1130,400 1110,330" fill="#cdbab7" stroke="#cdbab7" stroke-width="14"/>
<polygon points="1325,510 1370,450 1430,380 1470,340 1500,400 1520,470 1540,560 1500,590 1430,580 1370,560" fill="#c9c9c9" stroke="#c9c9c9" stroke-width="14"/>
<polygon points="1535,800 1570,770 1620,760 1660,790 1670,840 1630,860 1610,900 1580,910 1560,870 1540,840" fill="#c9c9c9" stroke="#c9c9c9" stroke-width="14"/>
<polygon points="1520,1010 1550,990 1600,995 1590,1030 1545,1050 1525,1040" fill="#c9c9c9" stroke="#c9c9c9" stroke-width="14"/>
<polygon points="1520,1180 1540,1130 1580,1115 1610,1150 1620,1190 1590,1215 1540,1215" fill="#c9c9c9" stroke="#c9c9c9" stroke-width="14"/>
<polygon points="560,1390 600,1350 660,1320 730,1270 800,1230 840,1250 880,1320 870,1390 830,1440 760,1430 700,1410 650,1400 610,1440 590,1500 600,1560 640,1600 690,1600 720,1640 710,1690 670,1700 640,1670 600,1610 570,1560 555,1480" fill="#c9c9c9" stroke="#c9c9c9" stroke-width="14"/>
<polygon points="988,1505 1010,1472 1050,1460 1090,1462 1115,1478 1110,1522 1094,1560 1060,1582 1025,1578 995,1548" fill="#c9c9c9" stroke="#c9c9c9" stroke-width="14"/>
<polygon points="1130,1445 1150,1428 1178,1432 1185,1452 1160,1468 1135,1463" fill="#c9c9c9" stroke="#c9c9c9" stroke-width="14"/>
<polygon points="1255,735 1275,730 1310,800 1310,830 1290,830 1262,780" fill="#c9c9c9" stroke="#c9c9c9" stroke-width="14"/>
<path d="M520 300L600 372L667 451L746 541L852 660L930 720" stroke="#fff" stroke-width="30" fill="none" stroke-linecap="round"/>
<path d="M450 495L562 550L640 585L720 623L800 662L880 702L940 735" stroke="#fff" stroke-width="56" fill="none" stroke-linecap="round"/>
<path d="M300 645L275 800L258 1040" stroke="#fff" stroke-width="22" fill="none" stroke-linecap="round"/>
<path d="M905 808L1105 822" stroke="#fff" stroke-width="14" fill="none" stroke-linecap="round"/>
<ellipse cx="440" cy="850" rx="70" ry="170" fill="#fff" fill-opacity="0.5"/>
<ellipse cx="470" cy="690" rx="60" ry="40" fill="#fff" fill-opacity="0.6"/>
<ellipse cx="800" cy="330" rx="40" ry="60" fill="#fff" fill-opacity="0.35"/>
<ellipse cx="760" cy="180" rx="30" ry="40" fill="#fff" fill-opacity="0.3"/>
<polygon points="880,700 960,680 1050,720 1100,780 1110,860 1060,890 960,870 900,820" fill="#df8070" stroke="#df8070" stroke-width="14"/>
<polygon points="540,540 580,550 640,590 700,640 690,652 630,612 570,572 545,555" fill="#d0b1ab" stroke="#d0b1ab" stroke-width="14"/>
</g>
<g transform="matrix(0.17736 0 0 0.17736 1064.30 2287.80)" stroke-linejoin="round">
<polygon points="650,125 700,60 740,40 790,70 830,130 880,180 930,230 975,290 1000,360 1010,440 985,480 1010,560 990,620 950,660 900,640 860,580 800,520 740,480 700,460 640,420 600,380 560,330 530,280 525,250 560,215 620,200 660,170" fill="#c9c9c9" stroke="#c9c9c9" stroke-width="14"/>
<polygon points="410,345 440,315 500,315 550,345 600,400 660,450 720,490 790,530 850,580 900,640 950,680 1020,700 1040,750 1000,770 930,750 860,720 790,680 720,640 650,590 580,540 520,490 470,440 430,400" fill="#c9c9c9" stroke="#c9c9c9" stroke-width="14"/>
<polygon points="300,590 320,540 360,520 420,530 470,560 530,590 600,610 680,640 740,680 790,720 820,760 760,780 650,790 520,790 420,780 330,780 240,770 180,740 190,700 250,680 290,640" fill="#c9c9c9" stroke="#c9c9c9" stroke-width="14"/>
<polygon points="60,800 90,740 140,710 180,705 240,740 285,790 290,860 275,950 270,1060 250,1130 200,1140 140,1110 100,1060 90,980 70,900" fill="#ccbfbd" stroke="#ccbfbd" stroke-width="14"/>
<polygon points="285,790 400,790 470,795 500,820 500,940 480,1040 430,1080 390,1130 340,1160 300,1130 272,1070 280,950 292,860" fill="#ccbfbd" stroke="#ccbfbd" stroke-width="14"/>
<polygon points="470,795 520,800 620,790 720,770 800,750 880,740 960,730 1040,720 1090,750 1110,800 1090,850 1040,880 950,920 850,940 780,960 720,1010 660,1060 600,1080 540,1060 480,1040 500,940 500,820" fill="#c9c9c9" stroke="#c9c9c9" stroke-width="14"/>
<polygon points="1090,800 1150,830 1200,860 1240,800 1260,740 1290,760 1320,830 1330,900 1320,1000 1300,1100 1260,1190 1190,1260 1120,1310 1080,1320 1050,1290 1040,1240 1080,1190 1130,1120 1170,1050 1200,980 1190,930 1130,900 1080,860" fill="#c9c9c9" stroke="#c9c9c9" stroke-width="14"/>
<polygon points="1080,220 1130,180 1200,140 1270,110 1310,130 1335,190 1330,260 1300,330 1280,400 1260,470 1235,540 1210,490 1170,440 1130,400 1110,330" fill="#d2aba4" stroke="#d2aba4" stroke-width="14"/>
<polygon points="1325,510 1370,450 1430,380 1470,340 1500,400 1520,470 1540,560 1500,590 1430,580 1370,560" fill="#ccbfbd" stroke="#ccbfbd" stroke-width="14"/>
<polygon points="1535,800 1570,770 1620,760 1660,790 1670,840 1630,860 1610,900 1580,910 1560,870 1540,840" fill="#c9c9c9" stroke="#c9c9c9" stroke-width="14"/>
<polygon points="1520,1010 1550,990 1600,995 1590,1030 1545,1050 1525,1040" fill="#c9c9c9" stroke="#c9c9c9" stroke-width="14"/>
<polygon points="1520,1180 1540,1130 1580,1115 1610,1150 1620,1190 1590,1215 1540,1215" fill="#c9c9c9" stroke="#c9c9c9" stroke-width="14"/>
<polygon points="560,1390 600,1350 660,1320 730,1270 800,1230 840,1250 880,1320 870,1390 830,1440 760,1430 700,1410 650,1400 610,1440 590,1500 600,1560 640,1600 690,1600 720,1640 710,1690 670,1700 640,1670 600,1610 570,1560 555,1480" fill="#ccbfbd" stroke="#ccbfbd" stroke-width="14"/>
<polygon points="988,1505 1010,1472 1050,1460 1090,1462 1115,1478 1110,1522 1094,1560 1060,1582 1025,1578 995,1548" fill="#c9c9c9" stroke="#c9c9c9" stroke-width="14"/>
<polygon points="1130,1445 1150,1428 1178,1432 1185,1452 1160,1468 1135,1463" fill="#c9c9c9" stroke="#c9c9c9" stroke-width="14"/>
<polygon points="1150,400 1200,380 1265,390 1272,450 1240,540 1205,480" fill="#e56e59" stroke="#e56e59" stroke-width="14"/>
<polygon points="1255,735 1275,730 1310,800 1310,830 1290,830 1262,780" fill="#df8070" stroke="#df8070" stroke-width="14"/>
<path d="M520 300L600 372L667 451L746 541L852 660L930 720" stroke="#fff" stroke-width="30" fill="none" stroke-linecap="round"/>
<path d="M450 495L562 550L640 585L720 623L800 662L880 702L940 735" stroke="#fff" stroke-width="56" fill="none" stroke-linecap="round"/>
<path d="M300 645L275 800L258 1040" stroke="#fff" stroke-width="22" fill="none" stroke-linecap="round"/>
<path d="M905 808L1105 822" stroke="#fff" stroke-width="14" fill="none" stroke-linecap="round"/>
<ellipse cx="440" cy="850" rx="70" ry="170" fill="#fff" fill-opacity="0.5"/>
<ellipse cx="470" cy="690" rx="60" ry="40" fill="#fff" fill-opacity="0.6"/>
<ellipse cx="800" cy="330" rx="40" ry="60" fill="#fff" fill-opacity="0.35"/>
<ellipse cx="760" cy="180" rx="30" ry="40" fill="#fff" fill-opacity="0.3"/>
<polygon points="540,540 580,550 640,590 700,640 690,652 630,612 570,572 545,555" fill="#d8998d" stroke="#d8998d" stroke-width="14"/>
</g>
<g transform="matrix(0.17736 0 0 0.17736 1396.95 2287.80)" stroke-linejoin="round">
<polygon points="650,125 700,60 740,40 790,70 830,130 880,180 930,230 975,290 1000,360 1010,440 985,480 1010,560 990,620 950,660 900,640 860,580 800,520 740,480 700,460 640,420 600,380 560,330 530,280 525,250 560,215 620,200 660,170" fill="#c9c9c9" stroke="#c9c9c9" stroke-width="14"/>
<polygon points="410,345 440,315 500,315 550,345 600,400 660,450 720,490 790,530 850,580 900,640 950,680 1020,700 1040,750 1000,770 930,750 860,720 790,680 720,640 650,590 580,540 520,490 470,440 430,400" fill="#c9c9c9" stroke="#c9c9c9" stroke-width="14"/>
<polygon points="300,590 320,540 360,520 420,530 470,560 530,590 600,610 680,640 740,680 790,720 820,760 760,780 650,790 520,790 420,780 330,780 240,770 180,740 190,700 250,680 290,640" fill="#c9c9c9" stroke="#c9c9c9" stroke-width="14"/>
<polygon points="60,800 90,740 140,710 180,705 240,740 285,790 290,860 275,950 270,1060 250,1130 200,1140 140,1110 100,1060 90,980 70,900" fill="#de8373" stroke="#de8373" stroke-width="14"/>
<polygon points="285,790 400,790 470,795 500,820 500,940 480,1040 430,1080 390,1130 340,1160 300,1130 272,1070 280,950 292,860" fill="#d79b90" stroke="#d79b90" stroke-width="14"/>
<polygon points="470,795 520,800 620,790 720,770 800,750 880,740 960,730 1040,720 1090,750 1110,800 1090,850 1040,880 950,920 850,940 780,960 720,1010 660,1060 600,1080 540,1060 480,1040 500,940 500,820" fill="#cdbdba" stroke="#cdbdba" stroke-width="14"/>
<polygon points="1090,800 1150,830 1200,860 1240,800 1260,740 1290,760 1320,830 1330,900 1320,1000 1300,1100 1260,1190 1190,1260 1120,1310 1080,1320 1050,1290 1040,1240 1080,1190 1130,1120 1170,1050 1200,980 1190,930 1130,900 1080,860" fill="#c9c9c9" stroke="#c9c9c9" stroke-width="14"/>
<polygon points="1080,220 1130,180 1200,140 1270,110 1310,130 1335,190 1330,260 1300,330 1280,400 1260,470 1235,540 1210,490 1170,440 1130,400 1110,330" fill="#cdbdba" stroke="#cdbdba" stroke-width="14"/>
<polygon points="1325,510 1370,450 1430,380 1470,340 1500,400 1520,470 1540,560 1500,590 1430,580 1370,560" fill="#c9c9c9" stroke="#c9c9c9" stroke-width="14"/>
<polygon points="1535,800 1570,770 1620,760 1660,790 1670,840 1630,860 1610,900 1580,910 1560,870 1540,840" fill="#c9c9c9" stroke="#c9c9c9" stroke-width="14"/>
<polygon points="1520,1010 1550,990 1600,995 1590,1030 1545,1050 1525,1040" fill="#c9c9c9" stroke="#c9c9c9" stroke-width="14"/>
<polygon points="1520,1180 1540,1130 1580,1115 1610,1150 1620,1190 1590,1215 1540,1215" fill="#c9c9c9" stroke="#c9c9c9" stroke-width="14"/>
<polygon points="560,1390 600,1350 660,1320 730,1270 800,1230 840,1250 880,1320 870,1390 830,1440 760,1430 700,1410 650,1400 610,1440 590,1500 600,1560 640,1600 690,1600 720,1640 710,1690 670,1700 640,1670 600,1610 570,1560 555,1480" fill="#cdbdba" stroke="#cdbdba" stroke-width="14"/>
<polygon points="988,1505 1010,1472 1050,1460 1090,1462 1115,1478 1110,1522 1094,1560 1060,1582 1025,1578 995,1548" fill="#c9c9c9" stroke="#c9c9c9" stroke-width="14"/>
<polygon points="1130,1445 1150,1428 1178,1432 1185,1452 1160,1468 1135,1463" fill="#c9c9c9" stroke="#c9c9c9" stroke-width="14"/>
<polygon points="1255,735 1275,730 1310,800 1310,830 1290,830 1262,780" fill="#c9c9c9" stroke="#c9c9c9" stroke-width="14"/>
<path d="M520 300L600 372L667 451L746 541L852 660L930 720" stroke="#fff" stroke-width="30" fill="none" stroke-linecap="round"/>
<path d="M450 495L562 550L640 585L720 623L800 662L880 702L940 735" stroke="#fff" stroke-width="56" fill="none" stroke-linecap="round"/>
<path d="M300 645L275 800L258 1040" stroke="#fff" stroke-width="22" fill="none" stroke-linecap="round"/>
<path d="M905 808L1105 822" stroke="#fff" stroke-width="14" fill="none" stroke-linecap="round"/>
<ellipse cx="440" cy="850" rx="70" ry="170" fill="#fff" fill-opacity="0.5"/>
<ellipse cx="470" cy="690" rx="60" ry="40" fill="#fff" fill-opacity="0.6"/>
<ellipse cx="800" cy="330" rx="40" ry="60" fill="#fff" fill-opacity="0.35"/>
<ellipse cx="760" cy="180" rx="30" ry="40" fill="#fff" fill-opacity="0.3"/>
</g>
<g transform="matrix(0.17736 0 0 0.17736 1729.60 2287.80)" stroke-linejoin="round">
<polygon points="650,125 700,60 740,40 790,70 830,130 880,180 930,230 975,290 1000,360 1010,440 985,480 1010,560 990,620 950,660 900,640 860,580 800,520 740,480 700,460 640,420 600,380 560,330 530,280 525,250 560,215 620,200 660,170" fill="#c9c9c9" stroke="#c9c9c9" stroke-width="14"/>
<polygon points="410,345 440,315 500,315 550,345 600,400 660,450 720,490 790,530 850,580 900,640 950,680 1020,700 1040,750 1000,770 930,750 860,720 790,680 720,640 650,590 580,540 520,490 470,440 430,400" fill="#c9c9c9" stroke="#c9c9c9" stroke-width="14"/>
<polygon points="300,590 320,540 360,520 420,530 470,560 530,590 600,610 680,640 740,680 790,720 820,760 760,780 650,790 520,790 420,780 330,780 240,770 180,740 190,700 250,680 290,640" fill="#c9c9c9" stroke="#c9c9c9" stroke-width="14"/>
<polygon points="60,800 90,740 140,710 180,705 240,740 285,790 290,860 275,950 270,1060 250,1130 200,1140 140,1110 100,1060 90,980 70,900" fill="#cfb7b3" stroke="#cfb7b3" stroke-width="14"/>
<polygon points="285,790 400,790 470,795 500,820 500,940 480,1040 430,1080 390,1130 340,1160 300,1130 272,1070 280,950 292,860" fill="#cfb7b3" stroke="#cfb7b3" stroke-width="14"/>
<polygon points="470,795 520,800 620,790 720,770 800,750 880,740 960,730 1040,720 1090,750 1110,800 1090,850 1040,880 950,920 850,940 780,960 720,1010 660,1060 600,1080 540,1060 480,1040 500,940 500,820" fill="#cfb7b3" stroke="#cfb7b3" stroke-width="14"/>
<polygon points="1090,800 1150,830 1200,860 1240,800 1260,740 1290,760 1320,830 1330,900 1320,1000 1300,1100 1260,1190 1190,1260 1120,1310 1080,1320 1050,1290 1040,1240 1080,1190 1130,1120 1170,1050 1200,980 1190,930 1130,900 1080,860" fill="#c9c9c9" stroke="#c9c9c9" stroke-width="14"/>
<polygon points="1080,220 1130,180 1200,140 1270,110 1310,130 1335,190 1330,260 1300,330 1280,400 1260,470 1235,540 1210,490 1170,440 1130,400 1110,330" fill="#cfb7b3" stroke="#cfb7b3" stroke-width="14"/>
<polygon points="1325,510 1370,450 1430,380 1470,340 1500,400 1520,470 1540,560 1500,590 1430,580 1370,560" fill="#cdbdba" stroke="#cdbdba" stroke-width="14"/>
<polygon points="1535,800 1570,770 1620,760 1660,790 1670,840 1630,860 1610,900 1580,910 1560,870 1540,840" fill="#c9c9c9" stroke="#c9c9c9" stroke-width="14"/>
<polygon points="1520,1010 1550,990 1600,995 1590,1030 1545,1050 1525,1040" fill="#c9c9c9" stroke="#c9c9c9" stroke-width="14"/>
<polygon points="1520,1180 1540,1130 1580,1115 1610,1150 1620,1190 1590,1215 1540,1215" fill="#c9c9c9" stroke="#c9c9c9" stroke-width="14"/>
<polygon points="560,1390 600,1350 660,1320 730,1270 800,1230 840,1250 880,1320 870,1390 830,1440 760,1430 700,1410 650,1400 610,1440 590,1500 600,1560 640,1600 690,1600 720,1640 710,1690 670,1700 640,1670 600,1610 570,1560 555,1480" fill="#c9c9c9" stroke="#c9c9c9" stroke-width="14"/>
<polygon points="988,1505 1010,1472 1050,1460 1090,1462 1115,1478 1110,1522 1094,1560 1060,1582 1025,1578 995,1548" fill="#e8624a" stroke="#e8624a" stroke-width="14"/>
<polygon points="1130,1445 1150,1428 1178,1432 1185,1452 1160,1468 1135,1463" fill="#c9c9c9" stroke="#c9c9c9" stroke-width="14"/>
<polygon points="1255,735 1275,730 1310,800 1310,830 1290,830 1262,780" fill="#c9c9c9" stroke="#c9c9c9" stroke-width="14"/>
<path d="M520 300L600 372L667 451L746 541L852 660L930 720" stroke="#fff" stroke-width="30" fill="none" stroke-linecap="round"/>
<path d="M450 495L562 550L640 585L720 623L800 662L880 702L940 735" stroke="#fff" stroke-width="56" fill="none" stroke-linecap="round"/>
<path d="M300 645L275 800L258 1040" stroke="#fff" stroke-width="22" fill="none" stroke-linecap="round"/>
<path d="M905 808L1105 822" stroke="#fff" stroke-width="14" fill="none" stroke-linecap="round"/>
<ellipse cx="440" cy="850" rx="70" ry="170" fill="#fff" fill-opacity="0.5"/>
<ellipse cx="470" cy="690" rx="60" ry="40" fill="#fff" fill-opacity="0.6"/>
<ellipse cx="800" cy="330" rx="40" ry="60" fill="#fff" fill-opacity="0.35"/>
<ellipse cx="760" cy="180" rx="30" ry="40" fill="#fff" fill-opacity="0.3"/>
<polygon points="540,540 580,550 640,590 700,640 690,652 630,612 570,572 545,555" fill="#dc8c7e" stroke="#dc8c7e" stroke-width="14"/>
</g>
</g>
</svg>
</body></html>
